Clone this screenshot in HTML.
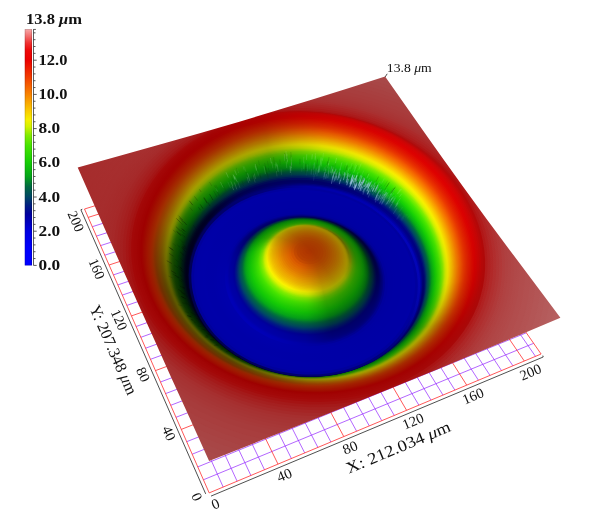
<!DOCTYPE html><html><head><meta charset="utf-8"><title>3D view</title><style>html,body{margin:0;padding:0;background:#fff}body{width:616px;height:520px;position:relative;overflow:hidden;font-family:"Liberation Serif",serif}</style></head><body><svg width="616" height="520" viewBox="0 0 616 520" style="position:absolute;left:0;top:0"><g stroke-width="0.75" fill="none"><line x1="223.2" y1="487.1" x2="96.7" y2="205.3" stroke="#9933ff"/><line x1="203.4" y1="479.8" x2="533.7" y2="343.3" stroke="#9933ff"/><line x1="237.1" y1="481.2" x2="108.7" y2="201.6" stroke="#9933ff"/><line x1="197.8" y1="466.9" x2="526.3" y2="332.8" stroke="#9933ff"/><line x1="250.9" y1="475.5" x2="120.7" y2="197.9" stroke="#9933ff"/><line x1="192.2" y1="454.2" x2="519.1" y2="322.4" stroke="#9933ff"/><line x1="264.5" y1="469.8" x2="132.5" y2="194.2" stroke="#9933ff"/><line x1="186.7" y1="441.7" x2="511.9" y2="312.2" stroke="#9933ff"/><line x1="291.4" y1="458.5" x2="156.0" y2="186.9" stroke="#9933ff"/><line x1="176.0" y1="417.3" x2="498.0" y2="292.1" stroke="#9933ff"/><line x1="304.7" y1="452.9" x2="167.5" y2="183.3" stroke="#9933ff"/><line x1="170.7" y1="405.3" x2="491.1" y2="282.3" stroke="#9933ff"/><line x1="317.9" y1="447.4" x2="179.0" y2="179.8" stroke="#9933ff"/><line x1="165.6" y1="393.6" x2="484.4" y2="272.6" stroke="#9933ff"/><line x1="330.9" y1="442.0" x2="190.4" y2="176.2" stroke="#9933ff"/><line x1="160.5" y1="382.0" x2="477.7" y2="263.0" stroke="#9933ff"/><line x1="356.6" y1="431.2" x2="213.0" y2="169.3" stroke="#9933ff"/><line x1="150.5" y1="359.3" x2="464.6" y2="244.3" stroke="#9933ff"/><line x1="369.3" y1="425.9" x2="224.2" y2="165.8" stroke="#9933ff"/><line x1="145.6" y1="348.2" x2="458.2" y2="235.1" stroke="#9933ff"/><line x1="381.8" y1="420.7" x2="235.2" y2="162.4" stroke="#9933ff"/><line x1="140.8" y1="337.3" x2="451.9" y2="226.0" stroke="#9933ff"/><line x1="394.3" y1="415.5" x2="246.2" y2="159.0" stroke="#9933ff"/><line x1="136.1" y1="326.5" x2="445.6" y2="217.0" stroke="#9933ff"/><line x1="418.9" y1="405.2" x2="267.9" y2="152.2" stroke="#9933ff"/><line x1="126.9" y1="305.4" x2="433.4" y2="199.5" stroke="#9933ff"/><line x1="431.0" y1="400.1" x2="278.7" y2="148.9" stroke="#9933ff"/><line x1="122.3" y1="295.1" x2="427.4" y2="190.8" stroke="#9933ff"/><line x1="443.0" y1="395.1" x2="289.3" y2="145.6" stroke="#9933ff"/><line x1="117.9" y1="284.9" x2="421.4" y2="182.3" stroke="#9933ff"/><line x1="454.9" y1="390.1" x2="299.9" y2="142.3" stroke="#9933ff"/><line x1="113.4" y1="274.9" x2="415.6" y2="173.9" stroke="#9933ff"/><line x1="478.4" y1="380.2" x2="320.8" y2="135.8" stroke="#9933ff"/><line x1="104.8" y1="255.2" x2="404.1" y2="157.4" stroke="#9933ff"/><line x1="490.0" y1="375.4" x2="331.2" y2="132.6" stroke="#9933ff"/><line x1="100.6" y1="245.6" x2="398.4" y2="149.3" stroke="#9933ff"/><line x1="501.5" y1="370.6" x2="341.5" y2="129.5" stroke="#9933ff"/><line x1="96.4" y1="236.1" x2="392.8" y2="141.3" stroke="#9933ff"/><line x1="512.9" y1="365.8" x2="351.7" y2="126.3" stroke="#9933ff"/><line x1="92.3" y1="226.7" x2="387.3" y2="133.4" stroke="#9933ff"/><line x1="535.5" y1="356.4" x2="371.9" y2="120.0" stroke="#9933ff"/><line x1="209.2" y1="492.9" x2="84.5" y2="209.0" stroke="#ff2020"/><line x1="278.0" y1="464.1" x2="144.3" y2="190.5" stroke="#ff2020"/><line x1="343.8" y1="436.6" x2="201.8" y2="172.7" stroke="#ff2020"/><line x1="406.6" y1="410.3" x2="257.1" y2="155.6" stroke="#ff2020"/><line x1="466.7" y1="385.1" x2="310.4" y2="139.1" stroke="#ff2020"/><line x1="524.3" y1="361.0" x2="361.8" y2="123.2" stroke="#ff2020"/><line x1="541.1" y1="354.0" x2="376.9" y2="118.5" stroke="#ff2020"/><line x1="209.2" y1="492.9" x2="541.1" y2="354.0" stroke="#ff2020"/><line x1="181.3" y1="429.4" x2="504.9" y2="302.1" stroke="#ff2020"/><line x1="155.5" y1="370.6" x2="471.1" y2="253.6" stroke="#ff2020"/><line x1="131.5" y1="315.9" x2="439.5" y2="208.2" stroke="#ff2020"/><line x1="109.1" y1="265.0" x2="409.8" y2="165.6" stroke="#ff2020"/><line x1="88.2" y1="217.4" x2="381.9" y2="125.6" stroke="#ff2020"/><line x1="84.5" y1="209.0" x2="376.9" y2="118.5" stroke="#ff2020"/></g><path d="M211.0 496.1L543.2 357.0l-0.4 -1.4" stroke="#222" stroke-width="0.8" fill="none"/><path d="M205.7 493.9L80.9 209.8l1.4 -0.6" stroke="#222" stroke-width="0.8" fill="none"/><g font-family="Liberation Serif,serif" fill="#111" text-anchor="middle"><text transform="translate(215.5 503.9) rotate(-22.7)" font-size="14.3px" y="4.7" textLength="7.6" lengthAdjust="spacingAndGlyphs">0</text><text transform="translate(196.8 496.8) rotate(66.3)" font-size="14.3px" y="4.7" textLength="7.6" lengthAdjust="spacingAndGlyphs">0</text><text transform="translate(284.4 475.1) rotate(-22.7)" font-size="14.3px" y="4.7" textLength="14.9" lengthAdjust="spacingAndGlyphs">40</text><text transform="translate(168.9 433.3) rotate(66.3)" font-size="14.3px" y="4.7" textLength="14.6" lengthAdjust="spacingAndGlyphs">40</text><text transform="translate(350.1 447.6) rotate(-22.7)" font-size="14.3px" y="4.7" textLength="14.9" lengthAdjust="spacingAndGlyphs">80</text><text transform="translate(143.1 374.5) rotate(66.3)" font-size="14.3px" y="4.7" textLength="14.6" lengthAdjust="spacingAndGlyphs">80</text><text transform="translate(413.0 421.3) rotate(-22.7)" font-size="14.3px" y="4.7" textLength="21.8" lengthAdjust="spacingAndGlyphs">120</text><text transform="translate(119.1 319.8) rotate(66.3)" font-size="14.3px" y="4.7" textLength="21.0" lengthAdjust="spacingAndGlyphs">120</text><text transform="translate(473.1 396.1) rotate(-22.7)" font-size="14.3px" y="4.7" textLength="21.8" lengthAdjust="spacingAndGlyphs">160</text><text transform="translate(96.7 268.9) rotate(66.3)" font-size="14.3px" y="4.7" textLength="21.0" lengthAdjust="spacingAndGlyphs">160</text><text transform="translate(530.6 372.1) rotate(-22.7)" font-size="14.3px" y="4.7" textLength="21.8" lengthAdjust="spacingAndGlyphs">200</text><text transform="translate(75.9 221.3) rotate(66.3)" font-size="14.3px" y="4.7" textLength="21.0" lengthAdjust="spacingAndGlyphs">200</text><text transform="translate(398.3 447.4) rotate(-22.7)" font-size="16.2px" y="5.3" textLength="111.8" lengthAdjust="spacingAndGlyphs">X: 212.034 <tspan font-style="italic">μ</tspan>m</text><text transform="translate(113.3 349.9) rotate(66.3)" font-size="16.2px" y="5.3" textLength="96.0" lengthAdjust="spacingAndGlyphs">Y: 207.348 <tspan font-style="italic">μ</tspan>m</text></g><path d="M385.1 77L387.2 73.8" stroke="#222" stroke-width="0.8"/><text x="386.8" y="71.7" font-family="Liberation Serif,serif" font-size="12px" fill="#111" textLength="45" lengthAdjust="spacingAndGlyphs">13.8 <tspan font-style="italic">μ</tspan>m</text><defs><filter id="bl" x="0" y="0" width="616" height="520" filterUnits="userSpaceOnUse"><feGaussianBlur stdDeviation="0.45"/></filter><mask id="om" maskUnits="userSpaceOnUse" x="0" y="0" width="616" height="520"><polygon points="209.1,461.0 258.1,441.6 305.3,422.8 351.0,404.5 395.3,386.5 438.3,368.9 480.1,351.5 520.8,334.4 560.4,317.7 534.6,283.3 510.0,250.4 486.6,218.9 464.4,188.5 443.2,159.1 423.0,130.6 403.7,103.1 385.1,76.5 349.9,87.7 314.0,99.0 277.1,110.3 239.4,121.7 200.6,133.0 160.8,144.3 119.9,155.8 77.7,167.4 91.6,199.0 106.1,231.8 121.3,266.0 137.1,301.6 153.8,338.6 171.2,377.4 189.7,418.1" fill="#fff"/></mask><linearGradient id="tilt" gradientUnits="userSpaceOnUse" x1="77.7" y1="168.5" x2="561.2" y2="316.5"><stop offset="0" stop-color="#a52424" stop-opacity="0.8"/><stop offset="0.09" stop-color="#a51e1e" stop-opacity="0.45"/><stop offset="0.2" stop-color="#a51e1e" stop-opacity="0"/><stop offset="0.72" stop-color="#ffd8d8" stop-opacity="0"/><stop offset="1" stop-color="#ffd8d8" stop-opacity="0.16"/></linearGradient><linearGradient id="g10" gradientUnits="userSpaceOnUse" x1="168.5" y1="370.2" x2="451.5" y2="110.1"><stop offset="0.000" stop-color="#a73c3c"/><stop offset="0.167" stop-color="#a73c3c"/><stop offset="0.333" stop-color="#a73c3c"/><stop offset="0.500" stop-color="#a73c3c"/><stop offset="0.667" stop-color="#a83c3c"/><stop offset="0.833" stop-color="#a83c3c"/><stop offset="1.000" stop-color="#a93c3c"/></linearGradient><linearGradient id="g11" gradientUnits="userSpaceOnUse" x1="171.9" y1="367.1" x2="448.1" y2="113.4"><stop offset="0.000" stop-color="#a73a3a"/><stop offset="0.167" stop-color="#a73a3a"/><stop offset="0.333" stop-color="#a73a3a"/><stop offset="0.500" stop-color="#a73a3a"/><stop offset="0.667" stop-color="#a83a3a"/><stop offset="0.833" stop-color="#a83a3a"/><stop offset="1.000" stop-color="#a93a3a"/></linearGradient><linearGradient id="g12" gradientUnits="userSpaceOnUse" x1="173.8" y1="365.4" x2="446.2" y2="115.2"><stop offset="0.000" stop-color="#a73838"/><stop offset="0.167" stop-color="#a73838"/><stop offset="0.333" stop-color="#a73838"/><stop offset="0.500" stop-color="#a73838"/><stop offset="0.667" stop-color="#a83838"/><stop offset="0.833" stop-color="#a83939"/><stop offset="1.000" stop-color="#a93939"/></linearGradient><linearGradient id="g13" gradientUnits="userSpaceOnUse" x1="175.7" y1="363.7" x2="444.2" y2="117.0"><stop offset="0.000" stop-color="#a63636"/><stop offset="0.167" stop-color="#a63636"/><stop offset="0.333" stop-color="#a73636"/><stop offset="0.500" stop-color="#a73737"/><stop offset="0.667" stop-color="#a83737"/><stop offset="0.833" stop-color="#a83737"/><stop offset="1.000" stop-color="#a93737"/></linearGradient><linearGradient id="g14" gradientUnits="userSpaceOnUse" x1="177.6" y1="362.0" x2="442.3" y2="118.8"><stop offset="0.000" stop-color="#a63434"/><stop offset="0.167" stop-color="#a63434"/><stop offset="0.333" stop-color="#a63434"/><stop offset="0.500" stop-color="#a73535"/><stop offset="0.667" stop-color="#a83535"/><stop offset="0.833" stop-color="#a83535"/><stop offset="1.000" stop-color="#a93535"/></linearGradient><linearGradient id="g15" gradientUnits="userSpaceOnUse" x1="179.5" y1="360.3" x2="440.4" y2="120.7"><stop offset="0.000" stop-color="#a63232"/><stop offset="0.167" stop-color="#a63232"/><stop offset="0.333" stop-color="#a63232"/><stop offset="0.500" stop-color="#a73232"/><stop offset="0.667" stop-color="#a83232"/><stop offset="0.833" stop-color="#a83333"/><stop offset="1.000" stop-color="#a93333"/></linearGradient><linearGradient id="g16" gradientUnits="userSpaceOnUse" x1="181.4" y1="358.6" x2="438.5" y2="122.5"><stop offset="0.000" stop-color="#a62f2f"/><stop offset="0.167" stop-color="#a62f2f"/><stop offset="0.333" stop-color="#a62f2f"/><stop offset="0.500" stop-color="#a62f2f"/><stop offset="0.667" stop-color="#a82f2f"/><stop offset="0.833" stop-color="#a93030"/><stop offset="1.000" stop-color="#aa3030"/></linearGradient><linearGradient id="g17" gradientUnits="userSpaceOnUse" x1="183.3" y1="356.9" x2="436.5" y2="124.3"><stop offset="0.000" stop-color="#a52a2a"/><stop offset="0.167" stop-color="#a52a2a"/><stop offset="0.333" stop-color="#a52a2a"/><stop offset="0.500" stop-color="#a62a2a"/><stop offset="0.667" stop-color="#a82b2b"/><stop offset="0.833" stop-color="#aa2b2b"/><stop offset="1.000" stop-color="#ac2b2b"/></linearGradient><linearGradient id="g18" gradientUnits="userSpaceOnUse" x1="185.2" y1="355.3" x2="434.6" y2="126.2"><stop offset="0.000" stop-color="#a52525"/><stop offset="0.167" stop-color="#a52525"/><stop offset="0.333" stop-color="#a52525"/><stop offset="0.500" stop-color="#a62525"/><stop offset="0.667" stop-color="#a82626"/><stop offset="0.833" stop-color="#aa2626"/><stop offset="1.000" stop-color="#ac2727"/></linearGradient><linearGradient id="g19" gradientUnits="userSpaceOnUse" x1="187.1" y1="353.6" x2="432.7" y2="128.0"><stop offset="0.000" stop-color="#a42020"/><stop offset="0.167" stop-color="#a52020"/><stop offset="0.333" stop-color="#a52020"/><stop offset="0.500" stop-color="#a62020"/><stop offset="0.667" stop-color="#a82121"/><stop offset="0.833" stop-color="#ab2121"/><stop offset="1.000" stop-color="#ad2222"/></linearGradient><linearGradient id="g20" gradientUnits="userSpaceOnUse" x1="189.0" y1="351.9" x2="430.8" y2="129.9"><stop offset="0.000" stop-color="#a41a1a"/><stop offset="0.167" stop-color="#a41a1a"/><stop offset="0.333" stop-color="#a51a1a"/><stop offset="0.500" stop-color="#a51a1a"/><stop offset="0.667" stop-color="#a81b1b"/><stop offset="0.833" stop-color="#ab1b1b"/><stop offset="1.000" stop-color="#ae1c1c"/></linearGradient><linearGradient id="g21" gradientUnits="userSpaceOnUse" x1="190.9" y1="350.3" x2="428.8" y2="131.8"><stop offset="0.000" stop-color="#a41313"/><stop offset="0.167" stop-color="#a41313"/><stop offset="0.333" stop-color="#a41313"/><stop offset="0.500" stop-color="#a51313"/><stop offset="0.667" stop-color="#a81313"/><stop offset="0.833" stop-color="#ac1414"/><stop offset="1.000" stop-color="#af1414"/></linearGradient><linearGradient id="g22" gradientUnits="userSpaceOnUse" x1="192.7" y1="348.8" x2="427.0" y2="133.6"><stop offset="0.000" stop-color="#a30c0c"/><stop offset="0.167" stop-color="#a40c0c"/><stop offset="0.333" stop-color="#a40c0c"/><stop offset="0.500" stop-color="#a50c0c"/><stop offset="0.667" stop-color="#a80c0c"/><stop offset="0.833" stop-color="#ac0d0d"/><stop offset="1.000" stop-color="#af0d0d"/></linearGradient><linearGradient id="g23" gradientUnits="userSpaceOnUse" x1="194.2" y1="347.5" x2="425.4" y2="135.3"><stop offset="0.000" stop-color="#a30808"/><stop offset="0.167" stop-color="#a30808"/><stop offset="0.333" stop-color="#a40808"/><stop offset="0.500" stop-color="#a40808"/><stop offset="0.667" stop-color="#a90808"/><stop offset="0.833" stop-color="#ae0808"/><stop offset="1.000" stop-color="#b60808"/></linearGradient><linearGradient id="g24" gradientUnits="userSpaceOnUse" x1="195.6" y1="346.4" x2="423.9" y2="136.9"><stop offset="0.000" stop-color="#a20606"/><stop offset="0.167" stop-color="#a20606"/><stop offset="0.333" stop-color="#a30606"/><stop offset="0.500" stop-color="#a40606"/><stop offset="0.667" stop-color="#ab0606"/><stop offset="0.833" stop-color="#b30707"/><stop offset="1.000" stop-color="#c10707"/></linearGradient><linearGradient id="g25" gradientUnits="userSpaceOnUse" x1="196.9" y1="345.6" x2="422.6" y2="138.5"><stop offset="0.000" stop-color="#a10505"/><stop offset="0.167" stop-color="#a20505"/><stop offset="0.333" stop-color="#a20505"/><stop offset="0.500" stop-color="#a30505"/><stop offset="0.667" stop-color="#ac0505"/><stop offset="0.833" stop-color="#ba0505"/><stop offset="1.000" stop-color="#cc0606"/></linearGradient><linearGradient id="g26" gradientUnits="userSpaceOnUse" x1="197.9" y1="345.0" x2="421.4" y2="140.1"><stop offset="0.000" stop-color="#9f0303"/><stop offset="0.167" stop-color="#a10303"/><stop offset="0.333" stop-color="#a20303"/><stop offset="0.500" stop-color="#a30303"/><stop offset="0.667" stop-color="#ad0404"/><stop offset="0.833" stop-color="#c00404"/><stop offset="1.000" stop-color="#d40404"/></linearGradient><linearGradient id="g27" gradientUnits="userSpaceOnUse" x1="198.9" y1="344.7" x2="420.3" y2="141.7"><stop offset="0.000" stop-color="#9e0202"/><stop offset="0.167" stop-color="#a00202"/><stop offset="0.333" stop-color="#a10202"/><stop offset="0.500" stop-color="#a30202"/><stop offset="0.667" stop-color="#ad0202"/><stop offset="0.833" stop-color="#c60202"/><stop offset="1.000" stop-color="#da0303"/></linearGradient><linearGradient id="g28" gradientUnits="userSpaceOnUse" x1="199.7" y1="344.5" x2="419.3" y2="143.3"><stop offset="0.000" stop-color="#9d0000"/><stop offset="0.167" stop-color="#9f0000"/><stop offset="0.333" stop-color="#a10101"/><stop offset="0.500" stop-color="#a20101"/><stop offset="0.667" stop-color="#ae0101"/><stop offset="0.833" stop-color="#cb0101"/><stop offset="1.000" stop-color="#e00101"/></linearGradient><linearGradient id="g29" gradientUnits="userSpaceOnUse" x1="200.5" y1="344.3" x2="418.3" y2="144.9"><stop offset="0.000" stop-color="#9d0300"/><stop offset="0.167" stop-color="#9f0300"/><stop offset="0.333" stop-color="#a10300"/><stop offset="0.500" stop-color="#a20300"/><stop offset="0.667" stop-color="#ae0300"/><stop offset="0.833" stop-color="#ce0400"/><stop offset="1.000" stop-color="#e20400"/></linearGradient><linearGradient id="g30" gradientUnits="userSpaceOnUse" x1="201.2" y1="344.2" x2="417.4" y2="146.4"><stop offset="0.000" stop-color="#9d0800"/><stop offset="0.167" stop-color="#9f0800"/><stop offset="0.333" stop-color="#a10800"/><stop offset="0.500" stop-color="#a30800"/><stop offset="0.667" stop-color="#af0900"/><stop offset="0.833" stop-color="#d00a00"/><stop offset="1.000" stop-color="#e40b00"/></linearGradient><linearGradient id="g31" gradientUnits="userSpaceOnUse" x1="202.0" y1="343.9" x2="416.4" y2="147.7"><stop offset="0.000" stop-color="#9d0d00"/><stop offset="0.167" stop-color="#9f0d00"/><stop offset="0.333" stop-color="#a10d00"/><stop offset="0.500" stop-color="#a30d00"/><stop offset="0.667" stop-color="#af0e00"/><stop offset="0.833" stop-color="#d11100"/><stop offset="1.000" stop-color="#e51200"/></linearGradient><linearGradient id="g32" gradientUnits="userSpaceOnUse" x1="202.8" y1="343.5" x2="415.5" y2="148.9"><stop offset="0.000" stop-color="#9e1100"/><stop offset="0.167" stop-color="#a01200"/><stop offset="0.333" stop-color="#a21200"/><stop offset="0.500" stop-color="#a41200"/><stop offset="0.667" stop-color="#b01300"/><stop offset="0.833" stop-color="#d21700"/><stop offset="1.000" stop-color="#e61900"/></linearGradient><linearGradient id="g33" gradientUnits="userSpaceOnUse" x1="203.5" y1="343.1" x2="414.7" y2="150.1"><stop offset="0.000" stop-color="#9e1600"/><stop offset="0.167" stop-color="#a01600"/><stop offset="0.333" stop-color="#a21700"/><stop offset="0.500" stop-color="#a41700"/><stop offset="0.667" stop-color="#b01900"/><stop offset="0.833" stop-color="#d41d00"/><stop offset="1.000" stop-color="#e72000"/></linearGradient><linearGradient id="g34" gradientUnits="userSpaceOnUse" x1="204.3" y1="342.7" x2="413.9" y2="151.1"><stop offset="0.000" stop-color="#9c1a00"/><stop offset="0.167" stop-color="#a01b00"/><stop offset="0.333" stop-color="#a21b00"/><stop offset="0.500" stop-color="#a51c00"/><stop offset="0.667" stop-color="#b11e00"/><stop offset="0.833" stop-color="#d52400"/><stop offset="1.000" stop-color="#e92700"/></linearGradient><linearGradient id="g35" gradientUnits="userSpaceOnUse" x1="205.0" y1="342.3" x2="413.1" y2="152.1"><stop offset="0.000" stop-color="#991e00"/><stop offset="0.167" stop-color="#a02000"/><stop offset="0.333" stop-color="#a32000"/><stop offset="0.500" stop-color="#a52100"/><stop offset="0.667" stop-color="#b12300"/><stop offset="0.833" stop-color="#d72a00"/><stop offset="1.000" stop-color="#eb2e00"/></linearGradient><linearGradient id="g36" gradientUnits="userSpaceOnUse" x1="205.6" y1="341.9" x2="412.3" y2="153.1"><stop offset="0.000" stop-color="#962200"/><stop offset="0.167" stop-color="#a02400"/><stop offset="0.333" stop-color="#a32500"/><stop offset="0.500" stop-color="#a52500"/><stop offset="0.667" stop-color="#b22800"/><stop offset="0.833" stop-color="#d93100"/><stop offset="1.000" stop-color="#ed3500"/></linearGradient><linearGradient id="g37" gradientUnits="userSpaceOnUse" x1="206.2" y1="341.7" x2="411.7" y2="154.0"><stop offset="0.000" stop-color="#912500"/><stop offset="0.167" stop-color="#a02900"/><stop offset="0.333" stop-color="#a32a00"/><stop offset="0.500" stop-color="#a62a00"/><stop offset="0.667" stop-color="#b22d00"/><stop offset="0.833" stop-color="#db3800"/><stop offset="1.000" stop-color="#ef3d00"/></linearGradient><linearGradient id="g38" gradientUnits="userSpaceOnUse" x1="206.8" y1="341.4" x2="411.0" y2="154.9"><stop offset="0.000" stop-color="#8c2800"/><stop offset="0.167" stop-color="#a02e00"/><stop offset="0.333" stop-color="#a32f00"/><stop offset="0.500" stop-color="#a63000"/><stop offset="0.667" stop-color="#b23300"/><stop offset="0.833" stop-color="#dd4000"/><stop offset="1.000" stop-color="#f14500"/></linearGradient><linearGradient id="g39" gradientUnits="userSpaceOnUse" x1="207.3" y1="341.2" x2="410.4" y2="155.8"><stop offset="0.000" stop-color="#852b00"/><stop offset="0.167" stop-color="#9d3200"/><stop offset="0.333" stop-color="#a33400"/><stop offset="0.500" stop-color="#a63500"/><stop offset="0.667" stop-color="#b23900"/><stop offset="0.833" stop-color="#df4700"/><stop offset="1.000" stop-color="#f34e00"/></linearGradient><linearGradient id="g40" gradientUnits="userSpaceOnUse" x1="207.7" y1="341.1" x2="409.9" y2="156.6"><stop offset="0.000" stop-color="#7d2c00"/><stop offset="0.167" stop-color="#993600"/><stop offset="0.333" stop-color="#a33900"/><stop offset="0.500" stop-color="#a63b00"/><stop offset="0.667" stop-color="#b13e00"/><stop offset="0.833" stop-color="#e14f00"/><stop offset="1.000" stop-color="#f55600"/></linearGradient><linearGradient id="g41" gradientUnits="userSpaceOnUse" x1="208.2" y1="340.9" x2="409.3" y2="157.4"><stop offset="0.000" stop-color="#762d00"/><stop offset="0.167" stop-color="#973a00"/><stop offset="0.333" stop-color="#a33f00"/><stop offset="0.500" stop-color="#a74000"/><stop offset="0.667" stop-color="#b14400"/><stop offset="0.833" stop-color="#e25700"/><stop offset="1.000" stop-color="#f65f00"/></linearGradient><linearGradient id="g42" gradientUnits="userSpaceOnUse" x1="208.6" y1="340.8" x2="408.8" y2="158.2"><stop offset="0.000" stop-color="#712f00"/><stop offset="0.167" stop-color="#953e00"/><stop offset="0.333" stop-color="#a44400"/><stop offset="0.500" stop-color="#a74600"/><stop offset="0.667" stop-color="#b14a00"/><stop offset="0.833" stop-color="#e35f00"/><stop offset="1.000" stop-color="#f86700"/></linearGradient><linearGradient id="g43" gradientUnits="userSpaceOnUse" x1="209.0" y1="340.7" x2="408.3" y2="159.0"><stop offset="0.000" stop-color="#6d3100"/><stop offset="0.167" stop-color="#934200"/><stop offset="0.333" stop-color="#a44a00"/><stop offset="0.500" stop-color="#a74b00"/><stop offset="0.667" stop-color="#b15000"/><stop offset="0.833" stop-color="#e46600"/><stop offset="1.000" stop-color="#f97000"/></linearGradient><linearGradient id="g44" gradientUnits="userSpaceOnUse" x1="209.4" y1="340.6" x2="407.8" y2="159.8"><stop offset="0.000" stop-color="#6b3400"/><stop offset="0.167" stop-color="#924700"/><stop offset="0.333" stop-color="#a44f00"/><stop offset="0.500" stop-color="#a85100"/><stop offset="0.667" stop-color="#b15600"/><stop offset="0.833" stop-color="#e56e00"/><stop offset="1.000" stop-color="#fa7900"/></linearGradient><linearGradient id="g45" gradientUnits="userSpaceOnUse" x1="209.9" y1="340.5" x2="407.3" y2="160.6"><stop offset="0.000" stop-color="#693600"/><stop offset="0.167" stop-color="#924b00"/><stop offset="0.333" stop-color="#a55500"/><stop offset="0.500" stop-color="#a85700"/><stop offset="0.667" stop-color="#b25c00"/><stop offset="0.833" stop-color="#e57600"/><stop offset="1.000" stop-color="#fb8100"/></linearGradient><linearGradient id="g46" gradientUnits="userSpaceOnUse" x1="210.3" y1="340.5" x2="406.8" y2="161.4"><stop offset="0.000" stop-color="#673900"/><stop offset="0.167" stop-color="#915000"/><stop offset="0.333" stop-color="#a55b00"/><stop offset="0.500" stop-color="#a85d00"/><stop offset="0.667" stop-color="#b26200"/><stop offset="0.833" stop-color="#e67f00"/><stop offset="1.000" stop-color="#fb8b00"/></linearGradient><linearGradient id="g47" gradientUnits="userSpaceOnUse" x1="210.7" y1="340.4" x2="406.2" y2="162.3"><stop offset="0.000" stop-color="#643b00"/><stop offset="0.167" stop-color="#905500"/><stop offset="0.333" stop-color="#a56100"/><stop offset="0.500" stop-color="#a86300"/><stop offset="0.667" stop-color="#b26900"/><stop offset="0.833" stop-color="#e68800"/><stop offset="1.000" stop-color="#fc9500"/></linearGradient><linearGradient id="g48" gradientUnits="userSpaceOnUse" x1="211.1" y1="340.3" x2="405.7" y2="163.1"><stop offset="0.000" stop-color="#613d00"/><stop offset="0.167" stop-color="#8f5a00"/><stop offset="0.333" stop-color="#a56800"/><stop offset="0.500" stop-color="#a96a00"/><stop offset="0.667" stop-color="#b17000"/><stop offset="0.833" stop-color="#e69100"/><stop offset="1.000" stop-color="#fc9f00"/></linearGradient><linearGradient id="g49" gradientUnits="userSpaceOnUse" x1="211.5" y1="340.2" x2="405.2" y2="163.9"><stop offset="0.000" stop-color="#5f3f00"/><stop offset="0.167" stop-color="#8e5f00"/><stop offset="0.333" stop-color="#a56e00"/><stop offset="0.500" stop-color="#a97100"/><stop offset="0.667" stop-color="#b17600"/><stop offset="0.833" stop-color="#e79a00"/><stop offset="1.000" stop-color="#fda900"/></linearGradient><linearGradient id="g50" gradientUnits="userSpaceOnUse" x1="211.9" y1="340.2" x2="404.7" y2="164.8"><stop offset="0.000" stop-color="#5d4200"/><stop offset="0.167" stop-color="#8d6400"/><stop offset="0.333" stop-color="#a57500"/><stop offset="0.500" stop-color="#a97700"/><stop offset="0.667" stop-color="#b17d00"/><stop offset="0.833" stop-color="#e7a300"/><stop offset="1.000" stop-color="#fdb300"/></linearGradient><linearGradient id="g51" gradientUnits="userSpaceOnUse" x1="212.4" y1="340.1" x2="404.2" y2="165.6"><stop offset="0.000" stop-color="#5c4500"/><stop offset="0.167" stop-color="#8d6900"/><stop offset="0.333" stop-color="#a57b00"/><stop offset="0.500" stop-color="#a97e00"/><stop offset="0.667" stop-color="#b18400"/><stop offset="0.833" stop-color="#e7ad00"/><stop offset="1.000" stop-color="#febe00"/></linearGradient><linearGradient id="g52" gradientUnits="userSpaceOnUse" x1="212.8" y1="340.0" x2="403.6" y2="166.4"><stop offset="0.000" stop-color="#5c4800"/><stop offset="0.167" stop-color="#8d6f00"/><stop offset="0.333" stop-color="#a58200"/><stop offset="0.500" stop-color="#a98500"/><stop offset="0.667" stop-color="#b18b00"/><stop offset="0.833" stop-color="#e8b600"/><stop offset="1.000" stop-color="#fec800"/></linearGradient><linearGradient id="g53" gradientUnits="userSpaceOnUse" x1="213.2" y1="340.0" x2="403.1" y2="167.3"><stop offset="0.000" stop-color="#5c4c00"/><stop offset="0.167" stop-color="#8d7400"/><stop offset="0.333" stop-color="#a58900"/><stop offset="0.500" stop-color="#a98c00"/><stop offset="0.667" stop-color="#b19300"/><stop offset="0.833" stop-color="#e8bf00"/><stop offset="1.000" stop-color="#fed200"/></linearGradient><linearGradient id="g54" gradientUnits="userSpaceOnUse" x1="213.6" y1="339.9" x2="402.6" y2="168.1"><stop offset="0.000" stop-color="#5d5100"/><stop offset="0.167" stop-color="#8d7a00"/><stop offset="0.333" stop-color="#a58f00"/><stop offset="0.500" stop-color="#a89200"/><stop offset="0.667" stop-color="#b19900"/><stop offset="0.833" stop-color="#e7c800"/><stop offset="1.000" stop-color="#fddc00"/></linearGradient><linearGradient id="g55" gradientUnits="userSpaceOnUse" x1="214.0" y1="339.8" x2="402.1" y2="169.0"><stop offset="0.000" stop-color="#5d5500"/><stop offset="0.167" stop-color="#8c8000"/><stop offset="0.333" stop-color="#a49500"/><stop offset="0.500" stop-color="#a89900"/><stop offset="0.667" stop-color="#b0a000"/><stop offset="0.833" stop-color="#e6d100"/><stop offset="1.000" stop-color="#fce500"/></linearGradient><linearGradient id="g56" gradientUnits="userSpaceOnUse" x1="214.4" y1="339.8" x2="401.6" y2="169.8"><stop offset="0.000" stop-color="#5d5800"/><stop offset="0.167" stop-color="#8c8500"/><stop offset="0.333" stop-color="#a39b00"/><stop offset="0.500" stop-color="#a79f00"/><stop offset="0.667" stop-color="#afa700"/><stop offset="0.833" stop-color="#e5da00"/><stop offset="1.000" stop-color="#fbef00"/></linearGradient><linearGradient id="g57" gradientUnits="userSpaceOnUse" x1="214.8" y1="339.7" x2="401.0" y2="170.6"><stop offset="0.000" stop-color="#5a5a00"/><stop offset="0.167" stop-color="#888800"/><stop offset="0.333" stop-color="#a09f00"/><stop offset="0.500" stop-color="#a3a300"/><stop offset="0.667" stop-color="#abab00"/><stop offset="0.833" stop-color="#dfdf00"/><stop offset="1.000" stop-color="#f5f400"/></linearGradient><linearGradient id="g58" gradientUnits="userSpaceOnUse" x1="215.3" y1="339.7" x2="400.5" y2="171.5"><stop offset="0.000" stop-color="#545800"/><stop offset="0.167" stop-color="#818700"/><stop offset="0.333" stop-color="#97a000"/><stop offset="0.500" stop-color="#9ba300"/><stop offset="0.667" stop-color="#a2ab00"/><stop offset="0.833" stop-color="#d4df00"/><stop offset="1.000" stop-color="#e9f500"/></linearGradient><linearGradient id="g59" gradientUnits="userSpaceOnUse" x1="215.7" y1="339.6" x2="400.0" y2="172.3"><stop offset="0.000" stop-color="#4c5500"/><stop offset="0.167" stop-color="#788600"/><stop offset="0.333" stop-color="#8fa000"/><stop offset="0.500" stop-color="#92a300"/><stop offset="0.667" stop-color="#99ab00"/><stop offset="0.833" stop-color="#c9e000"/><stop offset="1.000" stop-color="#dcf600"/></linearGradient><linearGradient id="g60" gradientUnits="userSpaceOnUse" x1="216.1" y1="339.5" x2="399.5" y2="173.2"><stop offset="0.000" stop-color="#435100"/><stop offset="0.167" stop-color="#6b8200"/><stop offset="0.333" stop-color="#849f00"/><stop offset="0.500" stop-color="#87a300"/><stop offset="0.667" stop-color="#8caa00"/><stop offset="0.833" stop-color="#b9e000"/><stop offset="1.000" stop-color="#cbf600"/></linearGradient><linearGradient id="g61" gradientUnits="userSpaceOnUse" x1="216.5" y1="339.5" x2="398.9" y2="174.0"><stop offset="0.000" stop-color="#394d00"/><stop offset="0.167" stop-color="#5b7c00"/><stop offset="0.333" stop-color="#739d00"/><stop offset="0.500" stop-color="#77a200"/><stop offset="0.667" stop-color="#7ba800"/><stop offset="0.833" stop-color="#a3de00"/><stop offset="1.000" stop-color="#b4f500"/></linearGradient><linearGradient id="g62" gradientUnits="userSpaceOnUse" x1="216.9" y1="339.5" x2="398.4" y2="174.9"><stop offset="0.000" stop-color="#2e4900"/><stop offset="0.167" stop-color="#4c7700"/><stop offset="0.333" stop-color="#629a00"/><stop offset="0.500" stop-color="#67a000"/><stop offset="0.667" stop-color="#6aa600"/><stop offset="0.833" stop-color="#8ddc00"/><stop offset="1.000" stop-color="#9cf300"/></linearGradient><linearGradient id="g63" gradientUnits="userSpaceOnUse" x1="217.3" y1="339.5" x2="397.9" y2="175.8"><stop offset="0.000" stop-color="#254400"/><stop offset="0.167" stop-color="#3d7100"/><stop offset="0.333" stop-color="#529600"/><stop offset="0.500" stop-color="#569f00"/><stop offset="0.667" stop-color="#59a300"/><stop offset="0.833" stop-color="#77da00"/><stop offset="1.000" stop-color="#83f200"/></linearGradient><linearGradient id="g64" gradientUnits="userSpaceOnUse" x1="217.7" y1="339.5" x2="397.4" y2="176.7"><stop offset="0.000" stop-color="#1e4000"/><stop offset="0.167" stop-color="#336b00"/><stop offset="0.333" stop-color="#469300"/><stop offset="0.500" stop-color="#4b9d00"/><stop offset="0.667" stop-color="#4da100"/><stop offset="0.833" stop-color="#68d800"/><stop offset="1.000" stop-color="#73f000"/></linearGradient><linearGradient id="g65" gradientUnits="userSpaceOnUse" x1="218.1" y1="339.5" x2="396.8" y2="177.6"><stop offset="0.000" stop-color="#193c00"/><stop offset="0.167" stop-color="#2a6500"/><stop offset="0.333" stop-color="#3b9000"/><stop offset="0.500" stop-color="#409b00"/><stop offset="0.667" stop-color="#429f00"/><stop offset="0.833" stop-color="#58d500"/><stop offset="1.000" stop-color="#62ee00"/></linearGradient><linearGradient id="g66" gradientUnits="userSpaceOnUse" x1="218.5" y1="339.5" x2="396.3" y2="178.6"><stop offset="0.000" stop-color="#133800"/><stop offset="0.167" stop-color="#216100"/><stop offset="0.333" stop-color="#308d00"/><stop offset="0.500" stop-color="#359a00"/><stop offset="0.667" stop-color="#369e00"/><stop offset="0.833" stop-color="#48d300"/><stop offset="1.000" stop-color="#50eb00"/></linearGradient><linearGradient id="g67" gradientUnits="userSpaceOnUse" x1="218.9" y1="339.6" x2="395.7" y2="179.5"><stop offset="0.000" stop-color="#0f3500"/><stop offset="0.167" stop-color="#1b5d00"/><stop offset="0.333" stop-color="#288900"/><stop offset="0.500" stop-color="#2c9800"/><stop offset="0.667" stop-color="#2d9c00"/><stop offset="0.833" stop-color="#3cd000"/><stop offset="1.000" stop-color="#43e800"/></linearGradient><linearGradient id="g68" gradientUnits="userSpaceOnUse" x1="219.3" y1="339.6" x2="395.2" y2="180.5"><stop offset="0.000" stop-color="#0d3300"/><stop offset="0.167" stop-color="#175901"/><stop offset="0.333" stop-color="#228601"/><stop offset="0.500" stop-color="#269501"/><stop offset="0.667" stop-color="#279901"/><stop offset="0.833" stop-color="#34cc01"/><stop offset="1.000" stop-color="#3ae401"/></linearGradient><linearGradient id="g69" gradientUnits="userSpaceOnUse" x1="219.7" y1="339.7" x2="394.7" y2="181.5"><stop offset="0.000" stop-color="#0b3101"/><stop offset="0.167" stop-color="#135701"/><stop offset="0.333" stop-color="#1d8301"/><stop offset="0.500" stop-color="#209202"/><stop offset="0.667" stop-color="#219602"/><stop offset="0.833" stop-color="#2bc802"/><stop offset="1.000" stop-color="#31e002"/></linearGradient><linearGradient id="g70" gradientUnits="userSpaceOnUse" x1="220.1" y1="339.7" x2="394.1" y2="182.4"><stop offset="0.000" stop-color="#093001"/><stop offset="0.167" stop-color="#0f5401"/><stop offset="0.333" stop-color="#178002"/><stop offset="0.500" stop-color="#1a8f02"/><stop offset="0.667" stop-color="#1a9302"/><stop offset="0.833" stop-color="#23c403"/><stop offset="1.000" stop-color="#27dc03"/></linearGradient><linearGradient id="g71" gradientUnits="userSpaceOnUse" x1="220.5" y1="339.8" x2="393.6" y2="183.4"><stop offset="0.000" stop-color="#062e01"/><stop offset="0.167" stop-color="#0b5202"/><stop offset="0.333" stop-color="#117d02"/><stop offset="0.500" stop-color="#148c03"/><stop offset="0.667" stop-color="#149003"/><stop offset="0.833" stop-color="#1bc004"/><stop offset="1.000" stop-color="#1ed704"/></linearGradient><linearGradient id="g72" gradientUnits="userSpaceOnUse" x1="220.9" y1="339.9" x2="393.0" y2="184.4"><stop offset="0.000" stop-color="#042c01"/><stop offset="0.167" stop-color="#084f02"/><stop offset="0.333" stop-color="#0c7a03"/><stop offset="0.500" stop-color="#0d8903"/><stop offset="0.667" stop-color="#0e8d03"/><stop offset="0.833" stop-color="#12bc05"/><stop offset="1.000" stop-color="#15d305"/></linearGradient><linearGradient id="g73" gradientUnits="userSpaceOnUse" x1="221.3" y1="339.9" x2="392.5" y2="185.4"><stop offset="0.000" stop-color="#032902"/><stop offset="0.167" stop-color="#064904"/><stop offset="0.333" stop-color="#0a7406"/><stop offset="0.500" stop-color="#0b8307"/><stop offset="0.667" stop-color="#0b8607"/><stop offset="0.833" stop-color="#0fb309"/><stop offset="1.000" stop-color="#11c90a"/></linearGradient><linearGradient id="g74" gradientUnits="userSpaceOnUse" x1="221.7" y1="340.0" x2="392.0" y2="186.4"><stop offset="0.000" stop-color="#032503"/><stop offset="0.167" stop-color="#054305"/><stop offset="0.333" stop-color="#086d08"/><stop offset="0.500" stop-color="#097c0a"/><stop offset="0.667" stop-color="#09800a"/><stop offset="0.833" stop-color="#0caa0d"/><stop offset="1.000" stop-color="#0dc00f"/></linearGradient><linearGradient id="g75" gradientUnits="userSpaceOnUse" x1="222.1" y1="340.1" x2="391.4" y2="187.4"><stop offset="0.000" stop-color="#022304"/><stop offset="0.167" stop-color="#033d07"/><stop offset="0.333" stop-color="#05660b"/><stop offset="0.500" stop-color="#06760d"/><stop offset="0.667" stop-color="#06790d"/><stop offset="0.833" stop-color="#08a112"/><stop offset="1.000" stop-color="#0ab614"/></linearGradient><linearGradient id="g76" gradientUnits="userSpaceOnUse" x1="222.5" y1="340.2" x2="390.9" y2="188.4"><stop offset="0.000" stop-color="#012105"/><stop offset="0.167" stop-color="#023808"/><stop offset="0.333" stop-color="#035f0e"/><stop offset="0.500" stop-color="#046f10"/><stop offset="0.667" stop-color="#047211"/><stop offset="0.833" stop-color="#059716"/><stop offset="1.000" stop-color="#06ab19"/></linearGradient><linearGradient id="g77" gradientUnits="userSpaceOnUse" x1="222.9" y1="340.3" x2="390.3" y2="189.4"><stop offset="0.000" stop-color="#011d07"/><stop offset="0.167" stop-color="#01300c"/><stop offset="0.333" stop-color="#025315"/><stop offset="0.500" stop-color="#026219"/><stop offset="0.667" stop-color="#026519"/><stop offset="0.833" stop-color="#038521"/><stop offset="1.000" stop-color="#049826"/></linearGradient><linearGradient id="g78" gradientUnits="userSpaceOnUse" x1="223.3" y1="340.4" x2="389.8" y2="190.5"><stop offset="0.000" stop-color="#00190a"/><stop offset="0.167" stop-color="#012810"/><stop offset="0.333" stop-color="#01471d"/><stop offset="0.500" stop-color="#015422"/><stop offset="0.667" stop-color="#015723"/><stop offset="0.833" stop-color="#02722e"/><stop offset="1.000" stop-color="#028234"/></linearGradient><linearGradient id="g79" gradientUnits="userSpaceOnUse" x1="223.7" y1="340.6" x2="389.2" y2="191.5"><stop offset="0.000" stop-color="#00150d"/><stop offset="0.167" stop-color="#002114"/><stop offset="0.333" stop-color="#003a24"/><stop offset="0.500" stop-color="#00462b"/><stop offset="0.667" stop-color="#00482d"/><stop offset="0.833" stop-color="#005f3b"/><stop offset="1.000" stop-color="#006c43"/></linearGradient><linearGradient id="g80" gradientUnits="userSpaceOnUse" x1="224.1" y1="340.7" x2="388.6" y2="192.6"><stop offset="0.000" stop-color="#00120f"/><stop offset="0.167" stop-color="#001b17"/><stop offset="0.333" stop-color="#003129"/><stop offset="0.500" stop-color="#003d34"/><stop offset="0.667" stop-color="#003f35"/><stop offset="0.833" stop-color="#005346"/><stop offset="1.000" stop-color="#005f50"/></linearGradient><linearGradient id="g81" gradientUnits="userSpaceOnUse" x1="224.5" y1="340.9" x2="388.1" y2="193.7"><stop offset="0.000" stop-color="#000f12"/><stop offset="0.167" stop-color="#001518"/><stop offset="0.333" stop-color="#00272d"/><stop offset="0.500" stop-color="#00343c"/><stop offset="0.667" stop-color="#00363e"/><stop offset="0.833" stop-color="#004651"/><stop offset="1.000" stop-color="#00515e"/></linearGradient><linearGradient id="g82" gradientUnits="userSpaceOnUse" x1="224.9" y1="341.1" x2="387.5" y2="194.9"><stop offset="0.000" stop-color="#000c14"/><stop offset="0.167" stop-color="#000d17"/><stop offset="0.333" stop-color="#001a2d"/><stop offset="0.500" stop-color="#002844"/><stop offset="0.667" stop-color="#002a48"/><stop offset="0.833" stop-color="#00355b"/><stop offset="1.000" stop-color="#003f6c"/></linearGradient><linearGradient id="g83" gradientUnits="userSpaceOnUse" x1="225.2" y1="341.5" x2="386.9" y2="196.2"><stop offset="0.000" stop-color="#000717"/><stop offset="0.167" stop-color="#000718"/><stop offset="0.333" stop-color="#000d2a"/><stop offset="0.500" stop-color="#001749"/><stop offset="0.667" stop-color="#001951"/><stop offset="0.833" stop-color="#001e61"/><stop offset="1.000" stop-color="#00267a"/></linearGradient><linearGradient id="g84" gradientUnits="userSpaceOnUse" x1="225.6" y1="341.9" x2="386.3" y2="197.7"><stop offset="0.000" stop-color="#000319"/><stop offset="0.167" stop-color="#00031a"/><stop offset="0.333" stop-color="#000427"/><stop offset="0.500" stop-color="#00084c"/><stop offset="0.667" stop-color="#000959"/><stop offset="0.833" stop-color="#000a64"/><stop offset="1.000" stop-color="#000e85"/></linearGradient><linearGradient id="g85" gradientUnits="userSpaceOnUse" x1="226.0" y1="342.6" x2="385.6" y2="199.3"><stop offset="0.000" stop-color="#00001a"/><stop offset="0.167" stop-color="#00001b"/><stop offset="0.333" stop-color="#000026"/><stop offset="0.500" stop-color="#00004d"/><stop offset="0.667" stop-color="#00005d"/><stop offset="0.833" stop-color="#000066"/><stop offset="1.000" stop-color="#00008b"/></linearGradient><linearGradient id="g86" gradientUnits="userSpaceOnUse" x1="226.3" y1="343.3" x2="385.0" y2="201.1"><stop offset="0.000" stop-color="#00001b"/><stop offset="0.167" stop-color="#00001c"/><stop offset="0.333" stop-color="#000029"/><stop offset="0.500" stop-color="#000052"/><stop offset="0.667" stop-color="#000061"/><stop offset="0.833" stop-color="#00006b"/><stop offset="1.000" stop-color="#000091"/></linearGradient><linearGradient id="g87" gradientUnits="userSpaceOnUse" x1="226.6" y1="343.8" x2="384.3" y2="202.6"><stop offset="0.000" stop-color="#00001e"/><stop offset="0.167" stop-color="#00001f"/><stop offset="0.333" stop-color="#000037"/><stop offset="0.500" stop-color="#000060"/><stop offset="0.667" stop-color="#00006b"/><stop offset="0.833" stop-color="#000080"/><stop offset="1.000" stop-color="#0000a0"/></linearGradient><linearGradient id="g88" gradientUnits="userSpaceOnUse" x1="227.0" y1="344.1" x2="383.7" y2="203.8"><stop offset="0.000" stop-color="#000021"/><stop offset="0.167" stop-color="#000033"/><stop offset="0.333" stop-color="#00005c"/><stop offset="0.500" stop-color="#00006f"/><stop offset="0.667" stop-color="#000072"/><stop offset="0.833" stop-color="#000096"/><stop offset="1.000" stop-color="#0000ac"/></linearGradient><linearGradient id="g89" gradientUnits="userSpaceOnUse" x1="227.5" y1="344.1" x2="383.1" y2="204.9"><stop offset="0.000" stop-color="#000068"/><stop offset="0.167" stop-color="#000078"/><stop offset="0.333" stop-color="#00007b"/><stop offset="0.500" stop-color="#00007d"/><stop offset="0.667" stop-color="#000086"/><stop offset="0.833" stop-color="#0000a7"/><stop offset="1.000" stop-color="#0000b5"/></linearGradient><linearGradient id="fl" gradientUnits="userSpaceOnUse" x1="186" y1="300" x2="426" y2="255"><stop offset="0" stop-color="#000" stop-opacity="0.30"/><stop offset="0.22" stop-color="#000" stop-opacity="0.14"/><stop offset="0.55" stop-color="#000" stop-opacity="0"/><stop offset="0.8" stop-color="#2030ff" stop-opacity="0"/><stop offset="1" stop-color="#2030ff" stop-opacity="0.12"/></linearGradient><linearGradient id="g90" gradientUnits="userSpaceOnUse" x1="229.1" y1="342.8" x2="381.4" y2="206.6"><stop offset="0.000" stop-color="#00009c"/><stop offset="0.167" stop-color="#00009c"/><stop offset="0.333" stop-color="#00009c"/><stop offset="0.500" stop-color="#00009d"/><stop offset="0.667" stop-color="#00009e"/><stop offset="0.833" stop-color="#00009f"/><stop offset="1.000" stop-color="#0000a0"/></linearGradient><linearGradient id="g92" gradientUnits="userSpaceOnUse" x1="377.7" y1="209.9" x2="232.9" y2="339.5"><stop offset="0.000" stop-color="#0000a5"/><stop offset="0.167" stop-color="#0000a5"/><stop offset="0.333" stop-color="#0000a5"/><stop offset="0.500" stop-color="#0000a6"/><stop offset="0.667" stop-color="#0000a7"/><stop offset="0.833" stop-color="#0000a7"/><stop offset="1.000" stop-color="#0000a8"/></linearGradient><linearGradient id="g93" gradientUnits="userSpaceOnUse" x1="375.8" y1="211.6" x2="234.8" y2="337.8"><stop offset="0.000" stop-color="#0000a5"/><stop offset="0.167" stop-color="#0000a5"/><stop offset="0.333" stop-color="#0000a5"/><stop offset="0.500" stop-color="#0000a6"/><stop offset="0.667" stop-color="#0000a7"/><stop offset="0.833" stop-color="#0000a8"/><stop offset="1.000" stop-color="#0000a8"/></linearGradient><linearGradient id="g94" gradientUnits="userSpaceOnUse" x1="373.9" y1="213.2" x2="236.6" y2="336.1"><stop offset="0.000" stop-color="#0000a5"/><stop offset="0.167" stop-color="#0000a5"/><stop offset="0.333" stop-color="#0000a5"/><stop offset="0.500" stop-color="#0000a5"/><stop offset="0.667" stop-color="#0000a6"/><stop offset="0.833" stop-color="#0000a8"/><stop offset="1.000" stop-color="#0000a9"/></linearGradient><linearGradient id="g95" gradientUnits="userSpaceOnUse" x1="372.1" y1="214.8" x2="238.5" y2="334.4"><stop offset="0.000" stop-color="#0000a4"/><stop offset="0.167" stop-color="#0000a5"/><stop offset="0.333" stop-color="#0000a5"/><stop offset="0.500" stop-color="#0000a5"/><stop offset="0.667" stop-color="#0000a6"/><stop offset="0.833" stop-color="#0000a7"/><stop offset="1.000" stop-color="#0000a8"/></linearGradient><linearGradient id="g96" gradientUnits="userSpaceOnUse" x1="370.2" y1="216.5" x2="240.4" y2="332.7"><stop offset="0.000" stop-color="#0000a4"/><stop offset="0.167" stop-color="#0000a4"/><stop offset="0.333" stop-color="#0000a4"/><stop offset="0.500" stop-color="#0000a5"/><stop offset="0.667" stop-color="#0000a6"/><stop offset="0.833" stop-color="#0000a7"/><stop offset="1.000" stop-color="#0000a8"/></linearGradient><linearGradient id="g97" gradientUnits="userSpaceOnUse" x1="368.4" y1="218.1" x2="242.2" y2="330.9"><stop offset="0.000" stop-color="#0000a4"/><stop offset="0.167" stop-color="#0000a4"/><stop offset="0.333" stop-color="#0000a4"/><stop offset="0.500" stop-color="#0000a5"/><stop offset="0.667" stop-color="#0000a6"/><stop offset="0.833" stop-color="#0000a7"/><stop offset="1.000" stop-color="#0000a8"/></linearGradient><linearGradient id="g98" gradientUnits="userSpaceOnUse" x1="366.5" y1="219.7" x2="244.1" y2="329.2"><stop offset="0.000" stop-color="#0000a3"/><stop offset="0.167" stop-color="#0000a4"/><stop offset="0.333" stop-color="#0000a4"/><stop offset="0.500" stop-color="#0000a4"/><stop offset="0.667" stop-color="#0000a6"/><stop offset="0.833" stop-color="#0000a7"/><stop offset="1.000" stop-color="#0000a9"/></linearGradient><linearGradient id="g99" gradientUnits="userSpaceOnUse" x1="364.6" y1="221.3" x2="246.0" y2="327.5"><stop offset="0.000" stop-color="#0000a3"/><stop offset="0.167" stop-color="#0000a3"/><stop offset="0.333" stop-color="#0000a3"/><stop offset="0.500" stop-color="#0000a4"/><stop offset="0.667" stop-color="#0000a6"/><stop offset="0.833" stop-color="#0000a8"/><stop offset="1.000" stop-color="#0000aa"/></linearGradient><linearGradient id="g100" gradientUnits="userSpaceOnUse" x1="362.8" y1="222.9" x2="247.9" y2="325.7"><stop offset="0.000" stop-color="#0000a2"/><stop offset="0.167" stop-color="#0000a2"/><stop offset="0.333" stop-color="#0000a2"/><stop offset="0.500" stop-color="#0000a3"/><stop offset="0.667" stop-color="#0000a6"/><stop offset="0.833" stop-color="#0000a8"/><stop offset="1.000" stop-color="#0000ab"/></linearGradient><linearGradient id="g101" gradientUnits="userSpaceOnUse" x1="360.9" y1="224.5" x2="249.8" y2="323.9"><stop offset="0.000" stop-color="#00009e"/><stop offset="0.167" stop-color="#00009e"/><stop offset="0.333" stop-color="#00009f"/><stop offset="0.500" stop-color="#00009f"/><stop offset="0.667" stop-color="#0000a3"/><stop offset="0.833" stop-color="#0000a8"/><stop offset="1.000" stop-color="#0000ac"/></linearGradient><linearGradient id="g102" gradientUnits="userSpaceOnUse" x1="359.1" y1="225.9" x2="251.7" y2="322.1"><stop offset="0.000" stop-color="#00008f"/><stop offset="0.167" stop-color="#000090"/><stop offset="0.333" stop-color="#000091"/><stop offset="0.500" stop-color="#000091"/><stop offset="0.667" stop-color="#000099"/><stop offset="0.833" stop-color="#0000a5"/><stop offset="1.000" stop-color="#0000b6"/></linearGradient><linearGradient id="g103" gradientUnits="userSpaceOnUse" x1="357.9" y1="226.6" x2="252.9" y2="320.6"><stop offset="0.000" stop-color="#00007e"/><stop offset="0.167" stop-color="#00007f"/><stop offset="0.333" stop-color="#000081"/><stop offset="0.500" stop-color="#000082"/><stop offset="0.667" stop-color="#00008b"/><stop offset="0.833" stop-color="#0000a4"/><stop offset="1.000" stop-color="#0000b4"/></linearGradient><linearGradient id="g104" gradientUnits="userSpaceOnUse" x1="357.2" y1="227.0" x2="253.7" y2="319.7"><stop offset="0.000" stop-color="#000072"/><stop offset="0.167" stop-color="#000077"/><stop offset="0.333" stop-color="#000079"/><stop offset="0.500" stop-color="#00007a"/><stop offset="0.667" stop-color="#000083"/><stop offset="0.833" stop-color="#00009f"/><stop offset="1.000" stop-color="#0000ae"/></linearGradient><linearGradient id="g105" gradientUnits="userSpaceOnUse" x1="356.7" y1="227.2" x2="254.3" y2="318.9"><stop offset="0.000" stop-color="#000066"/><stop offset="0.167" stop-color="#000071"/><stop offset="0.333" stop-color="#000073"/><stop offset="0.500" stop-color="#000075"/><stop offset="0.667" stop-color="#00007e"/><stop offset="0.833" stop-color="#00009c"/><stop offset="1.000" stop-color="#0000a9"/></linearGradient><linearGradient id="g106" gradientUnits="userSpaceOnUse" x1="356.2" y1="227.3" x2="254.9" y2="318.1"><stop offset="0.000" stop-color="#00005a"/><stop offset="0.167" stop-color="#00006b"/><stop offset="0.333" stop-color="#000070"/><stop offset="0.500" stop-color="#000072"/><stop offset="0.667" stop-color="#00007a"/><stop offset="0.833" stop-color="#000099"/><stop offset="1.000" stop-color="#0000a7"/></linearGradient><linearGradient id="g107" gradientUnits="userSpaceOnUse" x1="355.8" y1="227.4" x2="255.4" y2="317.4"><stop offset="0.000" stop-color="#00004d"/><stop offset="0.167" stop-color="#000064"/><stop offset="0.333" stop-color="#00006e"/><stop offset="0.500" stop-color="#000070"/><stop offset="0.667" stop-color="#000077"/><stop offset="0.833" stop-color="#000098"/><stop offset="1.000" stop-color="#0000a6"/></linearGradient><linearGradient id="g108" gradientUnits="userSpaceOnUse" x1="355.4" y1="227.4" x2="255.8" y2="316.7"><stop offset="0.000" stop-color="#000044"/><stop offset="0.167" stop-color="#00005f"/><stop offset="0.333" stop-color="#00006c"/><stop offset="0.500" stop-color="#00006e"/><stop offset="0.667" stop-color="#000075"/><stop offset="0.833" stop-color="#000097"/><stop offset="1.000" stop-color="#0000a5"/></linearGradient><linearGradient id="g109" gradientUnits="userSpaceOnUse" x1="355.1" y1="227.5" x2="256.3" y2="316.0"><stop offset="0.000" stop-color="#00003d"/><stop offset="0.167" stop-color="#00005b"/><stop offset="0.333" stop-color="#00006b"/><stop offset="0.500" stop-color="#00006d"/><stop offset="0.667" stop-color="#000072"/><stop offset="0.833" stop-color="#000095"/><stop offset="1.000" stop-color="#0000a4"/></linearGradient><linearGradient id="g110" gradientUnits="userSpaceOnUse" x1="354.7" y1="227.5" x2="256.8" y2="315.3"><stop offset="0.000" stop-color="#000039"/><stop offset="0.167" stop-color="#000059"/><stop offset="0.333" stop-color="#000069"/><stop offset="0.500" stop-color="#00006b"/><stop offset="0.667" stop-color="#000071"/><stop offset="0.833" stop-color="#000093"/><stop offset="1.000" stop-color="#0000a2"/></linearGradient><linearGradient id="g111" gradientUnits="userSpaceOnUse" x1="354.3" y1="227.4" x2="257.3" y2="314.5"><stop offset="0.000" stop-color="#000037"/><stop offset="0.167" stop-color="#000056"/><stop offset="0.333" stop-color="#000067"/><stop offset="0.500" stop-color="#000069"/><stop offset="0.667" stop-color="#00006e"/><stop offset="0.833" stop-color="#000090"/><stop offset="1.000" stop-color="#00009e"/></linearGradient><linearGradient id="g112" gradientUnits="userSpaceOnUse" x1="353.9" y1="227.4" x2="257.8" y2="313.7"><stop offset="0.000" stop-color="#000036"/><stop offset="0.167" stop-color="#000054"/><stop offset="0.333" stop-color="#000064"/><stop offset="0.500" stop-color="#000066"/><stop offset="0.667" stop-color="#00006b"/><stop offset="0.833" stop-color="#00008c"/><stop offset="1.000" stop-color="#00009a"/></linearGradient><linearGradient id="g113" gradientUnits="userSpaceOnUse" x1="353.5" y1="227.4" x2="258.2" y2="313.0"><stop offset="0.000" stop-color="#000234"/><stop offset="0.167" stop-color="#000352"/><stop offset="0.333" stop-color="#000461"/><stop offset="0.500" stop-color="#000463"/><stop offset="0.667" stop-color="#000468"/><stop offset="0.833" stop-color="#000588"/><stop offset="1.000" stop-color="#000695"/></linearGradient><linearGradient id="g114" gradientUnits="userSpaceOnUse" x1="353.2" y1="227.4" x2="258.7" y2="312.2"><stop offset="0.000" stop-color="#000532"/><stop offset="0.167" stop-color="#00084f"/><stop offset="0.333" stop-color="#00095d"/><stop offset="0.500" stop-color="#000960"/><stop offset="0.667" stop-color="#000a64"/><stop offset="0.833" stop-color="#000d83"/><stop offset="1.000" stop-color="#000e90"/></linearGradient><linearGradient id="g115" gradientUnits="userSpaceOnUse" x1="352.8" y1="227.4" x2="259.2" y2="311.5"><stop offset="0.000" stop-color="#000830"/><stop offset="0.167" stop-color="#000c4b"/><stop offset="0.333" stop-color="#000f59"/><stop offset="0.500" stop-color="#000f5b"/><stop offset="0.667" stop-color="#001060"/><stop offset="0.833" stop-color="#00147d"/><stop offset="1.000" stop-color="#00168a"/></linearGradient><linearGradient id="g116" gradientUnits="userSpaceOnUse" x1="352.4" y1="227.4" x2="259.7" y2="310.7"><stop offset="0.000" stop-color="#000b2d"/><stop offset="0.167" stop-color="#001147"/><stop offset="0.333" stop-color="#001455"/><stop offset="0.500" stop-color="#001557"/><stop offset="0.667" stop-color="#00165b"/><stop offset="0.833" stop-color="#001c77"/><stop offset="1.000" stop-color="#001f83"/></linearGradient><linearGradient id="g117" gradientUnits="userSpaceOnUse" x1="352.0" y1="227.4" x2="260.2" y2="310.0"><stop offset="0.000" stop-color="#000f2a"/><stop offset="0.167" stop-color="#001743"/><stop offset="0.333" stop-color="#001c50"/><stop offset="0.500" stop-color="#001c52"/><stop offset="0.667" stop-color="#001e55"/><stop offset="0.833" stop-color="#002770"/><stop offset="1.000" stop-color="#002a7b"/></linearGradient><linearGradient id="g118" gradientUnits="userSpaceOnUse" x1="351.7" y1="227.4" x2="260.6" y2="309.2"><stop offset="0.000" stop-color="#001328"/><stop offset="0.167" stop-color="#001d3f"/><stop offset="0.333" stop-color="#00234a"/><stop offset="0.500" stop-color="#00244c"/><stop offset="0.667" stop-color="#002550"/><stop offset="0.833" stop-color="#003168"/><stop offset="1.000" stop-color="#003673"/></linearGradient><linearGradient id="g119" gradientUnits="userSpaceOnUse" x1="351.3" y1="227.4" x2="261.1" y2="308.5"><stop offset="0.000" stop-color="#001726"/><stop offset="0.167" stop-color="#00243b"/><stop offset="0.333" stop-color="#002a45"/><stop offset="0.500" stop-color="#002b47"/><stop offset="0.667" stop-color="#002d4a"/><stop offset="0.833" stop-color="#003b61"/><stop offset="1.000" stop-color="#00416a"/></linearGradient><linearGradient id="g120" gradientUnits="userSpaceOnUse" x1="350.9" y1="227.4" x2="261.6" y2="307.7"><stop offset="0.000" stop-color="#001b24"/><stop offset="0.167" stop-color="#002936"/><stop offset="0.333" stop-color="#003140"/><stop offset="0.500" stop-color="#003241"/><stop offset="0.667" stop-color="#003444"/><stop offset="0.833" stop-color="#004459"/><stop offset="1.000" stop-color="#004b62"/></linearGradient><linearGradient id="g121" gradientUnits="userSpaceOnUse" x1="350.5" y1="227.4" x2="262.1" y2="307.0"><stop offset="0.000" stop-color="#001f22"/><stop offset="0.167" stop-color="#002e32"/><stop offset="0.333" stop-color="#00363b"/><stop offset="0.500" stop-color="#00373c"/><stop offset="0.667" stop-color="#003a3f"/><stop offset="0.833" stop-color="#004b52"/><stop offset="1.000" stop-color="#00535a"/></linearGradient><linearGradient id="g122" gradientUnits="userSpaceOnUse" x1="350.1" y1="227.4" x2="262.6" y2="306.2"><stop offset="0.000" stop-color="#00221f"/><stop offset="0.167" stop-color="#00332e"/><stop offset="0.333" stop-color="#003b36"/><stop offset="0.500" stop-color="#003c37"/><stop offset="0.667" stop-color="#003f3a"/><stop offset="0.833" stop-color="#00534b"/><stop offset="1.000" stop-color="#005a52"/></linearGradient><linearGradient id="g123" gradientUnits="userSpaceOnUse" x1="349.8" y1="227.4" x2="263.1" y2="305.5"><stop offset="0.000" stop-color="#00261d"/><stop offset="0.167" stop-color="#00372a"/><stop offset="0.333" stop-color="#004031"/><stop offset="0.500" stop-color="#004232"/><stop offset="0.667" stop-color="#004534"/><stop offset="0.833" stop-color="#005a44"/><stop offset="1.000" stop-color="#00624a"/></linearGradient><linearGradient id="g124" gradientUnits="userSpaceOnUse" x1="349.4" y1="227.4" x2="263.5" y2="304.7"><stop offset="0.000" stop-color="#00291a"/><stop offset="0.167" stop-color="#003c26"/><stop offset="0.333" stop-color="#00452c"/><stop offset="0.500" stop-color="#00472d"/><stop offset="0.667" stop-color="#004a2f"/><stop offset="0.833" stop-color="#00613d"/><stop offset="1.000" stop-color="#006a43"/></linearGradient><linearGradient id="g125" gradientUnits="userSpaceOnUse" x1="349.0" y1="227.4" x2="264.0" y2="304.0"><stop offset="0.000" stop-color="#002f17"/><stop offset="0.167" stop-color="#014321"/><stop offset="0.333" stop-color="#014d26"/><stop offset="0.500" stop-color="#014f27"/><stop offset="0.667" stop-color="#015329"/><stop offset="0.833" stop-color="#016c35"/><stop offset="1.000" stop-color="#01763a"/></linearGradient><linearGradient id="g126" gradientUnits="userSpaceOnUse" x1="348.6" y1="227.5" x2="264.5" y2="303.3"><stop offset="0.000" stop-color="#013514"/><stop offset="0.167" stop-color="#014b1c"/><stop offset="0.333" stop-color="#015620"/><stop offset="0.500" stop-color="#015821"/><stop offset="0.667" stop-color="#015d23"/><stop offset="0.833" stop-color="#02782d"/><stop offset="1.000" stop-color="#028331"/></linearGradient><linearGradient id="g127" gradientUnits="userSpaceOnUse" x1="348.2" y1="227.5" x2="265.0" y2="302.5"><stop offset="0.000" stop-color="#013b11"/><stop offset="0.167" stop-color="#025318"/><stop offset="0.333" stop-color="#025e1b"/><stop offset="0.500" stop-color="#02611b"/><stop offset="0.667" stop-color="#02661d"/><stop offset="0.833" stop-color="#038425"/><stop offset="1.000" stop-color="#039029"/></linearGradient><linearGradient id="g128" gradientUnits="userSpaceOnUse" x1="347.8" y1="227.5" x2="265.5" y2="301.8"><stop offset="0.000" stop-color="#02430e"/><stop offset="0.167" stop-color="#025b13"/><stop offset="0.333" stop-color="#036715"/><stop offset="0.500" stop-color="#036916"/><stop offset="0.667" stop-color="#036f17"/><stop offset="0.833" stop-color="#048f1d"/><stop offset="1.000" stop-color="#049c20"/></linearGradient><linearGradient id="g129" gradientUnits="userSpaceOnUse" x1="347.4" y1="227.6" x2="265.9" y2="301.1"><stop offset="0.000" stop-color="#024a0b"/><stop offset="0.167" stop-color="#03630f"/><stop offset="0.333" stop-color="#046e10"/><stop offset="0.500" stop-color="#047111"/><stop offset="0.667" stop-color="#047712"/><stop offset="0.833" stop-color="#059917"/><stop offset="1.000" stop-color="#05a819"/></linearGradient><linearGradient id="g130" gradientUnits="userSpaceOnUse" x1="347.0" y1="227.6" x2="266.4" y2="300.3"><stop offset="0.000" stop-color="#04500a"/><stop offset="0.167" stop-color="#05680d"/><stop offset="0.333" stop-color="#05730e"/><stop offset="0.500" stop-color="#05750f"/><stop offset="0.667" stop-color="#067c0f"/><stop offset="0.833" stop-color="#079f14"/><stop offset="1.000" stop-color="#08ad16"/></linearGradient><linearGradient id="g131" gradientUnits="userSpaceOnUse" x1="346.6" y1="227.7" x2="267.0" y2="299.6"><stop offset="0.000" stop-color="#055709"/><stop offset="0.167" stop-color="#066e0b"/><stop offset="0.333" stop-color="#07770c"/><stop offset="0.500" stop-color="#07790d"/><stop offset="0.667" stop-color="#07810d"/><stop offset="0.833" stop-color="#09a411"/><stop offset="1.000" stop-color="#0ab312"/></linearGradient><linearGradient id="g132" gradientUnits="userSpaceOnUse" x1="346.2" y1="227.8" x2="267.5" y2="298.8"><stop offset="0.000" stop-color="#065e08"/><stop offset="0.167" stop-color="#08740a"/><stop offset="0.333" stop-color="#087b0a"/><stop offset="0.500" stop-color="#087e0a"/><stop offset="0.667" stop-color="#09860b"/><stop offset="0.833" stop-color="#0baa0e"/><stop offset="1.000" stop-color="#0cb90f"/></linearGradient><linearGradient id="g133" gradientUnits="userSpaceOnUse" x1="345.7" y1="227.9" x2="268.0" y2="298.0"><stop offset="0.000" stop-color="#086607"/><stop offset="0.167" stop-color="#097a08"/><stop offset="0.333" stop-color="#0a8008"/><stop offset="0.500" stop-color="#0a8208"/><stop offset="0.667" stop-color="#0b8b09"/><stop offset="0.833" stop-color="#0daf0b"/><stop offset="1.000" stop-color="#0fbe0c"/></linearGradient><linearGradient id="g134" gradientUnits="userSpaceOnUse" x1="345.2" y1="228.0" x2="268.6" y2="297.2"><stop offset="0.000" stop-color="#096e05"/><stop offset="0.167" stop-color="#0b8006"/><stop offset="0.333" stop-color="#0b8406"/><stop offset="0.500" stop-color="#0c8606"/><stop offset="0.667" stop-color="#0c9007"/><stop offset="0.833" stop-color="#0fb408"/><stop offset="1.000" stop-color="#11c409"/></linearGradient><linearGradient id="g135" gradientUnits="userSpaceOnUse" x1="344.7" y1="228.1" x2="269.2" y2="296.4"><stop offset="0.000" stop-color="#0b7403"/><stop offset="0.167" stop-color="#0d8504"/><stop offset="0.333" stop-color="#0d8804"/><stop offset="0.500" stop-color="#0d8a04"/><stop offset="0.667" stop-color="#0e9404"/><stop offset="0.833" stop-color="#11b906"/><stop offset="1.000" stop-color="#13c906"/></linearGradient><linearGradient id="g136" gradientUnits="userSpaceOnUse" x1="344.2" y1="228.3" x2="269.8" y2="295.5"><stop offset="0.000" stop-color="#0e7803"/><stop offset="0.167" stop-color="#108903"/><stop offset="0.333" stop-color="#108b03"/><stop offset="0.500" stop-color="#108d03"/><stop offset="0.667" stop-color="#119803"/><stop offset="0.833" stop-color="#16bc04"/><stop offset="1.000" stop-color="#18cd05"/></linearGradient><linearGradient id="g137" gradientUnits="userSpaceOnUse" x1="343.7" y1="228.5" x2="270.5" y2="294.7"><stop offset="0.000" stop-color="#127b02"/><stop offset="0.167" stop-color="#148b03"/><stop offset="0.333" stop-color="#148d03"/><stop offset="0.500" stop-color="#148f03"/><stop offset="0.667" stop-color="#169a03"/><stop offset="0.833" stop-color="#1bbe04"/><stop offset="1.000" stop-color="#1ecf04"/></linearGradient><linearGradient id="g138" gradientUnits="userSpaceOnUse" x1="343.2" y1="228.7" x2="271.1" y2="293.8"><stop offset="0.000" stop-color="#157d02"/><stop offset="0.167" stop-color="#188c02"/><stop offset="0.333" stop-color="#188f02"/><stop offset="0.500" stop-color="#199102"/><stop offset="0.667" stop-color="#1a9c03"/><stop offset="0.833" stop-color="#21c103"/><stop offset="1.000" stop-color="#23d203"/></linearGradient><linearGradient id="g139" gradientUnits="userSpaceOnUse" x1="342.6" y1="228.8" x2="271.7" y2="292.9"><stop offset="0.000" stop-color="#197e02"/><stop offset="0.167" stop-color="#1c8e02"/><stop offset="0.333" stop-color="#1c9102"/><stop offset="0.500" stop-color="#1d9302"/><stop offset="0.667" stop-color="#1f9e02"/><stop offset="0.833" stop-color="#26c303"/><stop offset="1.000" stop-color="#29d503"/></linearGradient><linearGradient id="g140" gradientUnits="userSpaceOnUse" x1="342.1" y1="229.0" x2="272.3" y2="292.1"><stop offset="0.000" stop-color="#1c7e01"/><stop offset="0.167" stop-color="#209001"/><stop offset="0.333" stop-color="#209201"/><stop offset="0.500" stop-color="#219502"/><stop offset="0.667" stop-color="#23a002"/><stop offset="0.833" stop-color="#2cc602"/><stop offset="1.000" stop-color="#2fd802"/></linearGradient><linearGradient id="g141" gradientUnits="userSpaceOnUse" x1="341.6" y1="229.2" x2="272.9" y2="291.3"><stop offset="0.000" stop-color="#1f7e01"/><stop offset="0.167" stop-color="#239101"/><stop offset="0.333" stop-color="#249401"/><stop offset="0.500" stop-color="#259701"/><stop offset="0.667" stop-color="#27a101"/><stop offset="0.833" stop-color="#31c901"/><stop offset="1.000" stop-color="#35db02"/></linearGradient><linearGradient id="g142" gradientUnits="userSpaceOnUse" x1="341.1" y1="229.3" x2="273.5" y2="290.5"><stop offset="0.000" stop-color="#227e01"/><stop offset="0.167" stop-color="#279101"/><stop offset="0.333" stop-color="#289601"/><stop offset="0.500" stop-color="#299801"/><stop offset="0.667" stop-color="#2ca301"/><stop offset="0.833" stop-color="#36cc01"/><stop offset="1.000" stop-color="#3bde01"/></linearGradient><linearGradient id="g143" gradientUnits="userSpaceOnUse" x1="340.6" y1="229.4" x2="274.1" y2="289.7"><stop offset="0.000" stop-color="#247c00"/><stop offset="0.167" stop-color="#2a9200"/><stop offset="0.333" stop-color="#2c9700"/><stop offset="0.500" stop-color="#2d9a00"/><stop offset="0.667" stop-color="#30a500"/><stop offset="0.833" stop-color="#3ccf00"/><stop offset="1.000" stop-color="#41e100"/></linearGradient><linearGradient id="g144" gradientUnits="userSpaceOnUse" x1="340.2" y1="229.5" x2="274.6" y2="288.9"><stop offset="0.000" stop-color="#277a00"/><stop offset="0.167" stop-color="#2f9200"/><stop offset="0.333" stop-color="#319900"/><stop offset="0.500" stop-color="#329c00"/><stop offset="0.667" stop-color="#35a600"/><stop offset="0.833" stop-color="#43d200"/><stop offset="1.000" stop-color="#49e400"/></linearGradient><linearGradient id="g145" gradientUnits="userSpaceOnUse" x1="339.7" y1="229.6" x2="275.2" y2="288.1"><stop offset="0.000" stop-color="#2c7900"/><stop offset="0.167" stop-color="#369200"/><stop offset="0.333" stop-color="#399a00"/><stop offset="0.500" stop-color="#3a9d00"/><stop offset="0.667" stop-color="#3ea700"/><stop offset="0.833" stop-color="#4ed300"/><stop offset="1.000" stop-color="#55e600"/></linearGradient><linearGradient id="g146" gradientUnits="userSpaceOnUse" x1="339.3" y1="229.7" x2="275.7" y2="287.3"><stop offset="0.000" stop-color="#327700"/><stop offset="0.167" stop-color="#3d9200"/><stop offset="0.333" stop-color="#419b00"/><stop offset="0.500" stop-color="#429e00"/><stop offset="0.667" stop-color="#46a800"/><stop offset="0.833" stop-color="#59d500"/><stop offset="1.000" stop-color="#61e800"/></linearGradient><linearGradient id="g147" gradientUnits="userSpaceOnUse" x1="338.8" y1="229.8" x2="276.2" y2="286.6"><stop offset="0.000" stop-color="#377500"/><stop offset="0.167" stop-color="#449200"/><stop offset="0.333" stop-color="#489c00"/><stop offset="0.500" stop-color="#4a9f00"/><stop offset="0.667" stop-color="#4fa900"/><stop offset="0.833" stop-color="#64d700"/><stop offset="1.000" stop-color="#6dea00"/></linearGradient><linearGradient id="g148" gradientUnits="userSpaceOnUse" x1="338.4" y1="229.9" x2="276.7" y2="285.8"><stop offset="0.000" stop-color="#3b7400"/><stop offset="0.167" stop-color="#4b9100"/><stop offset="0.333" stop-color="#509d00"/><stop offset="0.500" stop-color="#52a000"/><stop offset="0.667" stop-color="#57aa00"/><stop offset="0.833" stop-color="#6fd800"/><stop offset="1.000" stop-color="#79ec00"/></linearGradient><linearGradient id="g149" gradientUnits="userSpaceOnUse" x1="338.0" y1="230.0" x2="277.3" y2="285.0"><stop offset="0.000" stop-color="#407200"/><stop offset="0.167" stop-color="#529100"/><stop offset="0.333" stop-color="#599e00"/><stop offset="0.500" stop-color="#5ba100"/><stop offset="0.667" stop-color="#61ab00"/><stop offset="0.833" stop-color="#7bda00"/><stop offset="1.000" stop-color="#86ee00"/></linearGradient><linearGradient id="g150" gradientUnits="userSpaceOnUse" x1="337.6" y1="230.1" x2="277.8" y2="284.3"><stop offset="0.000" stop-color="#476f00"/><stop offset="0.167" stop-color="#5d9100"/><stop offset="0.333" stop-color="#669e00"/><stop offset="0.500" stop-color="#68a200"/><stop offset="0.667" stop-color="#6eac00"/><stop offset="0.833" stop-color="#8ddb00"/><stop offset="1.000" stop-color="#99ef00"/></linearGradient><linearGradient id="g151" gradientUnits="userSpaceOnUse" x1="337.2" y1="230.1" x2="278.2" y2="283.6"><stop offset="0.000" stop-color="#4d6b00"/><stop offset="0.167" stop-color="#678f00"/><stop offset="0.333" stop-color="#729f00"/><stop offset="0.500" stop-color="#74a200"/><stop offset="0.667" stop-color="#7bac00"/><stop offset="0.833" stop-color="#9edd00"/><stop offset="1.000" stop-color="#adf100"/></linearGradient><linearGradient id="g152" gradientUnits="userSpaceOnUse" x1="336.8" y1="230.2" x2="278.7" y2="282.8"><stop offset="0.000" stop-color="#516700"/><stop offset="0.167" stop-color="#708e00"/><stop offset="0.333" stop-color="#7fa000"/><stop offset="0.500" stop-color="#81a300"/><stop offset="0.667" stop-color="#89ad00"/><stop offset="0.833" stop-color="#b0df00"/><stop offset="1.000" stop-color="#c1f300"/></linearGradient><linearGradient id="g153" gradientUnits="userSpaceOnUse" x1="336.4" y1="230.2" x2="279.2" y2="282.1"><stop offset="0.000" stop-color="#556200"/><stop offset="0.167" stop-color="#7a8c00"/><stop offset="0.333" stop-color="#8ca100"/><stop offset="0.500" stop-color="#8fa400"/><stop offset="0.667" stop-color="#96ad00"/><stop offset="0.833" stop-color="#c3e000"/><stop offset="1.000" stop-color="#d5f500"/></linearGradient><linearGradient id="g154" gradientUnits="userSpaceOnUse" x1="336.0" y1="230.2" x2="279.7" y2="281.3"><stop offset="0.000" stop-color="#575e00"/><stop offset="0.167" stop-color="#7f8a00"/><stop offset="0.333" stop-color="#93a000"/><stop offset="0.500" stop-color="#96a400"/><stop offset="0.667" stop-color="#9eac00"/><stop offset="0.833" stop-color="#cee000"/><stop offset="1.000" stop-color="#e1f500"/></linearGradient><linearGradient id="g155" gradientUnits="userSpaceOnUse" x1="335.6" y1="230.2" x2="280.2" y2="280.6"><stop offset="0.000" stop-color="#5c5f00"/><stop offset="0.167" stop-color="#868a00"/><stop offset="0.333" stop-color="#9ba000"/><stop offset="0.500" stop-color="#9fa300"/><stop offset="0.667" stop-color="#a7ac00"/><stop offset="0.833" stop-color="#d9df00"/><stop offset="1.000" stop-color="#edf400"/></linearGradient><linearGradient id="g156" gradientUnits="userSpaceOnUse" x1="335.2" y1="230.2" x2="280.7" y2="279.8"><stop offset="0.000" stop-color="#676500"/><stop offset="0.167" stop-color="#908d00"/><stop offset="0.333" stop-color="#a39f00"/><stop offset="0.500" stop-color="#a7a300"/><stop offset="0.667" stop-color="#b0ac00"/><stop offset="0.833" stop-color="#e3de00"/><stop offset="1.000" stop-color="#f9f300"/></linearGradient><linearGradient id="g157" gradientUnits="userSpaceOnUse" x1="334.8" y1="230.3" x2="281.2" y2="279.0"><stop offset="0.000" stop-color="#756e00"/><stop offset="0.167" stop-color="#978d00"/><stop offset="0.333" stop-color="#a59a00"/><stop offset="0.500" stop-color="#a89d00"/><stop offset="0.667" stop-color="#b3a700"/><stop offset="0.833" stop-color="#e4d500"/><stop offset="1.000" stop-color="#f9e900"/></linearGradient><linearGradient id="g158" gradientUnits="userSpaceOnUse" x1="334.3" y1="230.4" x2="281.8" y2="278.2"><stop offset="0.000" stop-color="#897b00"/><stop offset="0.167" stop-color="#a09000"/><stop offset="0.333" stop-color="#a69500"/><stop offset="0.500" stop-color="#a99800"/><stop offset="0.667" stop-color="#b5a200"/><stop offset="0.833" stop-color="#e3cc00"/><stop offset="1.000" stop-color="#f7de00"/></linearGradient><linearGradient id="g159" gradientUnits="userSpaceOnUse" x1="333.8" y1="230.6" x2="282.4" y2="277.2"><stop offset="0.000" stop-color="#978200"/><stop offset="0.167" stop-color="#a58d00"/><stop offset="0.333" stop-color="#a89000"/><stop offset="0.500" stop-color="#aa9200"/><stop offset="0.667" stop-color="#b79d00"/><stop offset="0.833" stop-color="#e1c100"/><stop offset="1.000" stop-color="#f5d200"/></linearGradient><linearGradient id="g160" gradientUnits="userSpaceOnUse" x1="333.1" y1="230.9" x2="283.2" y2="276.2"><stop offset="0.000" stop-color="#a38500"/><stop offset="0.167" stop-color="#a78900"/><stop offset="0.333" stop-color="#a98a00"/><stop offset="0.500" stop-color="#ab8c00"/><stop offset="0.667" stop-color="#b89700"/><stop offset="0.833" stop-color="#deb600"/><stop offset="1.000" stop-color="#f2c600"/></linearGradient><linearGradient id="g161" gradientUnits="userSpaceOnUse" x1="332.3" y1="231.3" x2="284.1" y2="275.1"><stop offset="0.000" stop-color="#a58100"/><stop offset="0.167" stop-color="#a78300"/><stop offset="0.333" stop-color="#a98500"/><stop offset="0.500" stop-color="#ab8600"/><stop offset="0.667" stop-color="#b89000"/><stop offset="0.833" stop-color="#dbab00"/><stop offset="1.000" stop-color="#f0bb00"/></linearGradient><linearGradient id="g162" gradientUnits="userSpaceOnUse" x1="331.5" y1="231.7" x2="285.0" y2="274.0"><stop offset="0.000" stop-color="#a67c00"/><stop offset="0.167" stop-color="#a87d00"/><stop offset="0.333" stop-color="#aa7f00"/><stop offset="0.500" stop-color="#ab8000"/><stop offset="0.667" stop-color="#b88900"/><stop offset="0.833" stop-color="#d9a200"/><stop offset="1.000" stop-color="#eeb200"/></linearGradient><linearGradient id="g163" gradientUnits="userSpaceOnUse" x1="330.6" y1="232.2" x2="286.0" y2="272.8"><stop offset="0.000" stop-color="#a67600"/><stop offset="0.167" stop-color="#a87700"/><stop offset="0.333" stop-color="#a97900"/><stop offset="0.500" stop-color="#ab7a00"/><stop offset="0.667" stop-color="#b78200"/><stop offset="0.833" stop-color="#d89900"/><stop offset="1.000" stop-color="#eda900"/></linearGradient><linearGradient id="g164" gradientUnits="userSpaceOnUse" x1="329.7" y1="232.7" x2="287.0" y2="271.6"><stop offset="0.000" stop-color="#a67000"/><stop offset="0.167" stop-color="#a87100"/><stop offset="0.333" stop-color="#a97200"/><stop offset="0.500" stop-color="#ab7400"/><stop offset="0.667" stop-color="#b77c00"/><stop offset="0.833" stop-color="#d69100"/><stop offset="1.000" stop-color="#eca000"/></linearGradient><linearGradient id="g165" gradientUnits="userSpaceOnUse" x1="328.8" y1="233.2" x2="288.0" y2="270.4"><stop offset="0.000" stop-color="#a66a00"/><stop offset="0.167" stop-color="#a86b00"/><stop offset="0.333" stop-color="#a96c00"/><stop offset="0.500" stop-color="#ab6d00"/><stop offset="0.667" stop-color="#b77500"/><stop offset="0.833" stop-color="#d48800"/><stop offset="1.000" stop-color="#ea9600"/></linearGradient><linearGradient id="g166" gradientUnits="userSpaceOnUse" x1="327.8" y1="233.8" x2="289.1" y2="269.1"><stop offset="0.000" stop-color="#a66400"/><stop offset="0.167" stop-color="#a86500"/><stop offset="0.333" stop-color="#a96600"/><stop offset="0.500" stop-color="#ab6700"/><stop offset="0.667" stop-color="#b66e00"/><stop offset="0.833" stop-color="#d27f00"/><stop offset="1.000" stop-color="#e88c00"/></linearGradient><linearGradient id="g167" gradientUnits="userSpaceOnUse" x1="326.7" y1="234.5" x2="290.3" y2="267.7"><stop offset="0.000" stop-color="#a65f00"/><stop offset="0.167" stop-color="#a85f00"/><stop offset="0.333" stop-color="#a96000"/><stop offset="0.500" stop-color="#ab6100"/><stop offset="0.667" stop-color="#b66700"/><stop offset="0.833" stop-color="#cf7600"/><stop offset="1.000" stop-color="#e48200"/></linearGradient><linearGradient id="g168" gradientUnits="userSpaceOnUse" x1="325.6" y1="235.2" x2="291.5" y2="266.3"><stop offset="0.000" stop-color="#a75900"/><stop offset="0.167" stop-color="#a85a00"/><stop offset="0.333" stop-color="#a95a00"/><stop offset="0.500" stop-color="#ab5b00"/><stop offset="0.667" stop-color="#b56100"/><stop offset="0.833" stop-color="#cd6d00"/><stop offset="1.000" stop-color="#e17800"/></linearGradient><linearGradient id="g169" gradientUnits="userSpaceOnUse" x1="324.4" y1="236.0" x2="292.8" y2="264.8"><stop offset="0.000" stop-color="#a65300"/><stop offset="0.167" stop-color="#a85400"/><stop offset="0.333" stop-color="#a95400"/><stop offset="0.500" stop-color="#aa5500"/><stop offset="0.667" stop-color="#b55a00"/><stop offset="0.833" stop-color="#cb6500"/><stop offset="1.000" stop-color="#e07000"/></linearGradient><linearGradient id="g170" gradientUnits="userSpaceOnUse" x1="323.1" y1="236.8" x2="294.1" y2="263.3"><stop offset="0.000" stop-color="#a64e00"/><stop offset="0.167" stop-color="#a74e00"/><stop offset="0.333" stop-color="#a94f00"/><stop offset="0.500" stop-color="#aa4f00"/><stop offset="0.667" stop-color="#b45400"/><stop offset="0.833" stop-color="#c95e00"/><stop offset="1.000" stop-color="#de6800"/></linearGradient><linearGradient id="g171" gradientUnits="userSpaceOnUse" x1="321.8" y1="237.7" x2="295.5" y2="261.7"><stop offset="0.000" stop-color="#a64800"/><stop offset="0.167" stop-color="#a74900"/><stop offset="0.333" stop-color="#a84900"/><stop offset="0.500" stop-color="#a94a00"/><stop offset="0.667" stop-color="#b34e00"/><stop offset="0.833" stop-color="#c65600"/><stop offset="1.000" stop-color="#db5f00"/></linearGradient><linearGradient id="g172" gradientUnits="userSpaceOnUse" x1="320.4" y1="238.7" x2="297.1" y2="260.0"><stop offset="0.000" stop-color="#a64300"/><stop offset="0.167" stop-color="#a74300"/><stop offset="0.333" stop-color="#a84400"/><stop offset="0.500" stop-color="#a94400"/><stop offset="0.667" stop-color="#b24800"/><stop offset="0.833" stop-color="#c14e00"/><stop offset="1.000" stop-color="#d45500"/></linearGradient><linearGradient id="g173" gradientUnits="userSpaceOnUse" x1="318.6" y1="240.1" x2="299.0" y2="258.0"><stop offset="0.000" stop-color="#a73e00"/><stop offset="0.167" stop-color="#a73e00"/><stop offset="0.333" stop-color="#a83e00"/><stop offset="0.500" stop-color="#a93f00"/><stop offset="0.667" stop-color="#af4100"/><stop offset="0.833" stop-color="#b74400"/><stop offset="1.000" stop-color="#c44900"/></linearGradient><linearGradient id="g174" gradientUnits="userSpaceOnUse" x1="316.7" y1="241.6" x2="300.9" y2="256.0"><stop offset="0.000" stop-color="#a73b00"/><stop offset="0.167" stop-color="#a73b00"/><stop offset="0.333" stop-color="#a83b00"/><stop offset="0.500" stop-color="#a83b00"/><stop offset="0.667" stop-color="#ad3d00"/><stop offset="0.833" stop-color="#b23f00"/><stop offset="1.000" stop-color="#b94100"/></linearGradient><linearGradient id="g175" gradientUnits="userSpaceOnUse" x1="314.9" y1="243.1" x2="302.8" y2="254.1"><stop offset="0.000" stop-color="#a73800"/><stop offset="0.167" stop-color="#a73800"/><stop offset="0.333" stop-color="#a83800"/><stop offset="0.500" stop-color="#a83800"/><stop offset="0.667" stop-color="#ad3a00"/><stop offset="0.833" stop-color="#b13b00"/><stop offset="1.000" stop-color="#b53c00"/></linearGradient><linearGradient id="g176" gradientUnits="userSpaceOnUse" x1="313.0" y1="244.7" x2="304.7" y2="252.2"><stop offset="0.000" stop-color="#a73500"/><stop offset="0.167" stop-color="#a73500"/><stop offset="0.333" stop-color="#a83600"/><stop offset="0.500" stop-color="#a83600"/><stop offset="0.667" stop-color="#ac3700"/><stop offset="0.833" stop-color="#af3800"/><stop offset="1.000" stop-color="#b23900"/></linearGradient><linearGradient id="g177" gradientUnits="userSpaceOnUse" x1="311.1" y1="246.4" x2="306.6" y2="250.4"><stop offset="0.000" stop-color="#a73400"/><stop offset="0.167" stop-color="#a83400"/><stop offset="0.333" stop-color="#a83400"/><stop offset="0.500" stop-color="#a83400"/><stop offset="0.667" stop-color="#aa3500"/><stop offset="0.833" stop-color="#ac3500"/><stop offset="1.000" stop-color="#ae3600"/></linearGradient></defs><g mask="url(#om)"><polygon points="209.1,461.0 258.1,441.6 305.3,422.8 351.0,404.5 395.3,386.5 438.3,368.9 480.1,351.5 520.8,334.4 560.4,317.7 534.6,283.3 510.0,250.4 486.6,218.9 464.4,188.5 443.2,159.1 423.0,130.6 403.7,103.1 385.1,76.5 349.9,87.7 314.0,99.0 277.1,110.3 239.4,121.7 200.6,133.0 160.8,144.3 119.9,155.8 77.7,167.4 91.6,199.0 106.1,231.8 121.3,266.0 137.1,301.6 153.8,338.6 171.2,377.4 189.7,418.1" fill="#aa5757"/><polygon points="532.0,162.9 522.7,151.9 512.8,141.4 502.2,131.4 491.0,122.0 479.3,113.1 467.1,104.8 454.4,97.2 441.4,90.1 427.9,83.7 414.1,77.9 400.1,72.7 385.7,68.2 371.2,64.3 356.5,61.1 341.6,58.5 326.7,56.7 311.7,55.5 296.6,54.9 281.6,55.1 266.6,55.9 251.7,57.4 236.9,59.6 222.3,62.5 207.9,66.1 193.7,70.4 179.8,75.3 166.3,81.0 153.1,87.3 140.3,94.3 128.1,101.9 116.3,110.3 105.2,119.3 94.6,128.9 84.7,139.1 75.6,150.0 67.2,161.4 59.7,173.4 53.1,185.9 47.4,198.9 42.8,212.3 39.2,226.2 36.7,240.4 35.4,255.0 35.2,269.7 36.3,284.7 38.7,299.8 42.4,314.9 47.5,330.0 53.8,344.9 61.5,359.7 70.6,374.1 81.0,388.2 92.7,401.8 105.6,414.7 119.7,427.0 135.0,438.6 151.4,449.2 168.7,459.0 186.9,467.7 205.9,475.3 225.5,481.7 245.7,487.0 266.2,491.0 287.0,493.7 307.9,495.1 328.8,495.2 349.4,494.0 369.8,491.5 389.8,487.8 409.1,482.8 427.8,476.7 445.7,469.4 462.7,461.1 478.7,451.8 493.6,441.7 507.4,430.7 520.0,419.0 531.4,406.6 541.6,393.7 550.4,380.4 558.0,366.6 564.3,352.6 569.3,338.3 573.1,323.9 575.6,309.5 576.9,295.0 577.0,280.6 576.0,266.4 573.9,252.3 570.7,238.5 566.5,224.9 561.4,211.7 555.3,198.9 548.3,186.5 540.5,174.5" fill="#a94c4c"/><polygon points="528.1,164.3 519.0,153.4 509.2,143.1 498.9,133.3 487.9,124.0 476.4,115.3 464.4,107.1 452.0,99.6 439.1,92.6 425.9,86.3 412.4,80.6 398.6,75.5 384.5,71.0 370.2,67.2 355.7,64.1 341.1,61.5 326.4,59.7 311.6,58.5 296.8,58.0 282.1,58.1 267.3,59.0 252.7,60.5 238.1,62.6 223.8,65.5 209.6,69.0 195.7,73.2 182.0,78.1 168.7,83.7 155.8,89.9 143.3,96.8 131.3,104.4 119.8,112.6 108.8,121.4 98.5,130.9 88.8,141.0 79.9,151.6 71.7,162.8 64.4,174.6 58.0,186.9 52.4,199.7 47.9,212.9 44.5,226.5 42.1,240.4 40.8,254.7 40.8,269.1 41.9,283.8 44.3,298.5 48.0,313.3 53.0,328.1 59.2,342.7 66.8,357.1 75.8,371.2 86.0,385.0 97.4,398.2 110.1,410.9 124.0,422.9 138.9,434.1 154.9,444.5 171.9,454.0 189.7,462.5 208.3,469.9 227.4,476.2 247.1,481.3 267.2,485.2 287.5,487.9 307.9,489.3 328.3,489.4 348.5,488.2 368.5,485.8 388.0,482.1 406.9,477.3 425.2,471.3 442.7,464.3 459.3,456.2 475.0,447.2 489.6,437.3 503.1,426.6 515.5,415.1 526.7,403.1 536.7,390.5 545.4,377.4 552.9,364.0 559.1,350.3 564.1,336.3 567.8,322.3 570.4,308.1 571.7,293.9 571.9,279.8 570.9,265.9 568.9,252.1 565.8,238.5 561.7,225.2 556.7,212.2 550.8,199.6 544.0,187.4 536.4,175.6" fill="#a94b4b"/><polygon points="524.1,165.6 515.2,155.0 505.7,144.8 495.5,135.1 484.8,126.0 473.5,117.4 461.7,109.4 449.5,102.0 436.9,95.2 423.9,88.9 410.6,83.3 397.1,78.3 383.2,73.9 369.2,70.1 355.0,67.0 340.6,64.6 326.1,62.7 311.6,61.6 297.1,61.1 282.5,61.2 268.0,62.0 253.6,63.5 239.4,65.7 225.2,68.5 211.3,72.0 197.7,76.1 184.3,80.9 171.2,86.4 158.5,92.5 146.3,99.3 134.5,106.8 123.2,114.9 112.5,123.6 102.4,132.9 92.9,142.8 84.2,153.3 76.2,164.3 69.1,175.9 62.8,187.9 57.5,200.4 53.1,213.4 49.7,226.7 47.5,240.4 46.3,254.3 46.3,268.5 47.5,282.9 49.9,297.3 53.5,311.8 58.4,326.2 64.6,340.5 72.1,354.6 80.9,368.3 90.9,381.7 102.2,394.7 114.6,407.0 128.2,418.7 142.8,429.7 158.5,439.8 175.1,449.1 192.5,457.4 210.6,464.6 229.4,470.7 248.6,475.7 268.2,479.5 288.0,482.1 308.0,483.4 327.9,483.6 347.7,482.4 367.1,480.1 386.2,476.6 404.7,471.9 422.6,466.0 439.7,459.2 455.9,451.3 471.3,442.5 485.6,432.9 498.9,422.4 511.0,411.3 522.0,399.5 531.8,387.3 540.4,374.5 547.8,361.4 553.9,348.0 558.9,334.3 562.6,320.6 565.1,306.7 566.5,292.8 566.7,279.0 565.8,265.3 563.9,251.8 560.9,238.5 557.0,225.5 552.1,212.8 546.3,200.4 539.7,188.4 532.3,176.8" fill="#a94a4a"/><polygon points="520.1,167.0 511.4,156.6 502.1,146.6 492.1,137.1 481.6,128.1 470.6,119.6 459.0,111.8 447.1,104.5 434.7,97.7 421.9,91.6 408.9,86.0 395.5,81.1 381.9,76.8 368.1,73.1 354.2,70.0 340.1,67.6 325.9,65.8 311.6,64.7 297.3,64.2 283.0,64.3 268.8,65.1 254.6,66.6 240.6,68.7 226.7,71.5 213.1,74.9 199.6,79.0 186.5,83.8 173.7,89.2 161.3,95.2 149.3,101.9 137.7,109.2 126.6,117.2 116.2,125.7 106.3,134.9 97.0,144.6 88.5,154.9 80.7,165.8 73.8,177.1 67.7,189.0 62.5,201.2 58.2,213.9 55.0,227.0 52.8,240.4 51.7,254.1 51.8,267.9 53.0,282.0 55.4,296.1 59.0,310.2 63.9,324.3 70.0,338.3 77.4,352.0 86.0,365.5 95.8,378.6 106.9,391.2 119.1,403.2 132.3,414.6 146.7,425.3 162.0,435.2 178.2,444.2 195.2,452.3 212.9,459.3 231.3,465.3 250.0,470.1 269.2,473.9 288.6,476.4 308.0,477.7 327.5,477.8 346.8,476.7 365.8,474.5 384.4,471.0 402.5,466.5 419.9,460.8 436.7,454.1 452.6,446.5 467.6,437.9 481.7,428.5 494.7,418.4 506.6,407.5 517.4,396.0 527.0,384.0 535.4,371.6 542.7,358.8 548.8,345.7 553.6,332.4 557.3,318.9 559.9,305.3 561.2,291.8 561.5,278.3 560.7,264.8 558.9,251.6 556.0,238.6 552.2,225.8 547.4,213.3 541.8,201.1 535.4,189.4 528.1,178.0" fill="#a94949"/><polygon points="516.1,168.5 507.6,158.2 498.5,148.3 488.7,139.0 478.4,130.2 467.6,121.9 456.3,114.1 444.6,107.0 432.4,100.3 419.9,94.3 407.1,88.8 394.0,84.0 380.7,79.7 367.1,76.1 353.4,73.1 339.5,70.7 325.6,69.0 311.6,67.8 297.5,67.3 283.5,67.5 269.5,68.3 255.6,69.7 241.8,71.8 228.2,74.6 214.8,78.0 201.7,82.0 188.8,86.7 176.2,92.0 164.0,97.9 152.2,104.5 140.9,111.7 130.1,119.5 119.8,128.0 110.2,136.9 101.2,146.5 92.8,156.6 85.3,167.3 78.5,178.4 72.5,190.0 67.5,202.1 63.4,214.5 60.3,227.3 58.2,240.4 57.2,253.8 57.3,267.4 58.5,281.1 61.0,294.9 64.6,308.7 69.4,322.5 75.4,336.1 82.7,349.5 91.1,362.7 100.8,375.4 111.6,387.7 123.5,399.5 136.5,410.6 150.5,421.0 165.5,430.6 181.4,439.4 198.0,447.2 215.3,454.1 233.1,459.9 251.5,464.6 270.2,468.3 289.1,470.7 308.1,472.0 327.0,472.1 345.9,471.1 364.4,468.9 382.6,465.6 400.3,461.1 417.3,455.6 433.7,449.1 449.3,441.7 463.9,433.4 477.7,424.2 490.4,414.3 502.1,403.7 512.7,392.6 522.2,380.9 530.5,368.7 537.6,356.2 543.6,343.4 548.4,330.4 552.1,317.3 554.6,304.0 556.0,290.7 556.3,277.5 555.6,264.4 553.8,251.4 551.1,238.6 547.4,226.1 542.8,213.8 537.3,201.9 531.0,190.4 523.9,179.2" fill="#a84848"/><polygon points="512.1,169.9 503.8,159.8 494.9,150.2 485.3,141.0 475.2,132.3 464.6,124.2 453.6,116.6 442.0,109.5 430.1,103.0 417.9,97.0 405.3,91.7 392.4,86.9 379.4,82.7 366.1,79.2 352.6,76.2 339.0,73.9 325.3,72.1 311.5,71.0 297.7,70.6 284.0,70.7 270.2,71.5 256.6,72.9 243.1,75.0 229.7,77.7 216.6,81.0 203.7,85.0 191.0,89.6 178.7,94.8 166.8,100.7 155.3,107.2 144.2,114.3 133.6,121.9 123.5,130.2 114.1,139.0 105.3,148.4 97.2,158.4 89.8,168.8 83.2,179.7 77.4,191.1 72.5,202.9 68.6,215.1 65.6,227.7 63.6,240.5 62.7,253.6 62.8,266.9 64.1,280.3 66.5,293.8 70.1,307.3 74.8,320.7 80.8,334.0 87.9,347.1 96.2,359.9 105.6,372.3 116.2,384.3 127.9,395.7 140.6,406.6 154.4,416.7 169.0,426.1 184.5,434.6 200.7,442.3 217.6,448.9 235.0,454.6 252.9,459.2 271.1,462.7 289.6,465.1 308.1,466.4 326.6,466.5 345.0,465.5 363.1,463.4 380.8,460.1 398.1,455.8 414.7,450.5 430.7,444.2 445.9,437.0 460.3,428.9 473.7,420.0 486.2,410.3 497.6,400.0 508.0,389.1 517.3,377.7 525.5,365.9 532.5,353.7 538.4,341.2 543.2,328.5 546.8,315.7 549.3,302.7 550.7,289.7 551.1,276.8 550.4,263.9 548.8,251.2 546.1,238.7 542.5,226.4 538.1,214.4 532.8,202.8 526.6,191.4 519.7,180.5" fill="#a84646"/><polygon points="508.1,171.4 500.0,161.5 491.2,152.0 481.9,143.0 472.0,134.5 461.6,126.5 450.8,119.0 439.5,112.1 427.8,105.7 415.8,99.8 403.5,94.6 390.9,89.9 378.0,85.8 365.0,82.3 351.8,79.4 338.4,77.0 325.0,75.4 311.5,74.3 298.0,73.8 284.4,74.0 271.0,74.8 257.6,76.2 244.3,78.2 231.2,80.9 218.3,84.1 205.7,88.1 193.3,92.6 181.3,97.7 169.6,103.5 158.3,109.9 147.4,116.8 137.1,124.4 127.3,132.5 118.0,141.2 109.4,150.4 101.5,160.1 94.3,170.4 87.9,181.1 82.3,192.2 77.6,203.8 73.7,215.7 70.9,228.0 69.0,240.6 68.1,253.4 68.3,266.3 69.6,279.5 72.0,292.6 75.5,305.8 80.2,318.9 86.1,331.9 93.1,344.7 101.2,357.2 110.5,369.3 120.9,380.9 132.3,392.1 144.8,402.6 158.2,412.5 172.4,421.6 187.6,429.9 203.4,437.3 219.9,443.8 236.9,449.4 254.3,453.8 272.1,457.3 290.1,459.6 308.1,460.8 326.2,461.0 344.1,460.0 361.8,457.9 379.1,454.8 395.9,450.6 412.1,445.4 427.7,439.3 442.6,432.3 456.6,424.4 469.8,415.7 482.0,406.4 493.2,396.3 503.4,385.7 512.5,374.6 520.5,363.1 527.4,351.2 533.2,339.0 537.9,326.6 541.5,314.1 544.0,301.4 545.5,288.7 545.9,276.1 545.3,263.5 543.7,251.1 541.2,238.8 537.7,226.8 533.4,215.1 528.2,203.6 522.2,192.5 515.5,181.7" fill="#a84444"/><polygon points="504.0,172.9 496.1,163.2 487.6,153.9 478.4,145.0 468.8,136.7 458.6,128.8 448.0,121.5 437.0,114.7 425.5,108.4 413.8,102.6 401.7,97.5 389.3,92.9 376.7,88.8 363.9,85.4 351.0,82.5 337.9,80.3 324.7,78.6 311.4,77.5 298.2,77.1 284.9,77.3 271.7,78.0 258.6,79.4 245.6,81.4 232.8,84.0 220.1,87.3 207.7,91.1 195.6,95.6 183.8,100.6 172.3,106.3 161.3,112.6 150.7,119.4 140.6,126.8 131.0,134.8 122.0,143.3 113.6,152.3 105.9,161.9 98.9,171.9 92.6,182.4 87.2,193.4 82.6,204.7 78.9,216.4 76.1,228.4 74.3,240.7 73.5,253.2 73.8,265.9 75.1,278.7 77.5,291.5 81.0,304.4 85.6,317.2 91.4,329.8 98.3,342.3 106.3,354.4 115.4,366.2 125.5,377.6 136.7,388.4 148.8,398.7 161.9,408.3 175.9,417.2 190.6,425.3 206.1,432.5 222.1,438.8 238.7,444.2 255.7,448.5 273.0,451.8 290.6,454.1 308.2,455.3 325.8,455.5 343.2,454.5 360.4,452.5 377.3,449.5 393.7,445.4 409.6,440.4 424.8,434.5 439.3,427.6 453.0,420.0 465.9,411.6 477.8,402.4 488.8,392.7 498.7,382.4 507.7,371.6 515.5,360.3 522.3,348.7 528.1,336.9 532.7,324.8 536.3,312.5 538.8,300.1 540.2,287.8 540.7,275.4 540.1,263.1 538.6,251.0 536.2,239.0 532.8,227.2 528.6,215.7 523.6,204.5 517.8,193.6 511.3,183.0" fill="#a84242"/><polygon points="499.9,174.4 492.2,164.9 483.9,155.8 475.0,147.1 465.5,138.9 455.6,131.2 445.2,124.0 434.4,117.3 423.2,111.1 411.7,105.5 399.8,100.4 387.7,95.9 375.4,91.9 362.8,88.5 350.1,85.7 337.3,83.5 324.4,81.9 311.4,80.8 298.4,80.4 285.4,80.6 272.5,81.3 259.6,82.7 246.9,84.7 234.3,87.3 221.9,90.4 209.8,94.2 197.9,98.6 186.3,103.6 175.1,109.1 164.3,115.3 154.0,122.0 144.1,129.3 134.7,137.1 125.9,145.5 117.8,154.3 110.3,163.7 103.4,173.5 97.4,183.8 92.1,194.5 87.6,205.6 84.1,217.0 81.4,228.8 79.7,240.8 79.0,253.0 79.3,265.4 80.6,277.9 83.0,290.4 86.5,303.0 91.0,315.4 96.7,327.8 103.5,339.9 111.3,351.7 120.2,363.2 130.1,374.3 141.0,384.8 152.9,394.8 165.7,404.1 179.3,412.8 193.7,420.6 208.7,427.6 224.4,433.8 240.5,439.0 257.1,443.2 274.0,446.5 291.0,448.7 308.2,449.9 325.3,450.0 342.3,449.1 359.1,447.2 375.5,444.2 391.5,440.3 407.0,435.4 421.9,429.7 436.0,423.0 449.4,415.6 462.0,407.4 473.6,398.6 484.4,389.1 494.1,379.0 502.9,368.5 510.6,357.6 517.3,346.3 522.9,334.7 527.5,322.9 531.0,310.9 533.5,298.9 535.0,286.8 535.5,274.7 535.0,262.7 533.6,250.8 531.2,239.1 528.0,227.6 523.9,216.3 519.0,205.3 513.4,194.7 507.0,184.3" fill="#a84040"/><polygon points="495.9,175.9 488.3,166.6 480.2,157.6 471.5,149.1 462.3,141.1 452.6,133.5 442.4,126.5 431.8,119.9 420.9,113.9 409.6,108.3 398.0,103.3 386.1,98.9 374.1,95.0 361.8,91.7 349.3,88.9 336.7,86.8 324.1,85.2 311.4,84.2 298.6,83.7 285.9,83.9 273.2,84.6 260.6,86.0 248.1,87.9 235.8,90.5 223.7,93.6 211.8,97.3 200.2,101.6 188.9,106.5 177.9,112.0 167.4,118.0 157.3,124.6 147.6,131.7 138.5,139.4 129.9,147.6 121.9,156.3 114.6,165.5 108.0,175.1 102.1,185.2 97.0,195.6 92.7,206.5 89.2,217.7 86.7,229.1 85.1,240.9 84.4,252.8 84.7,264.9 86.1,277.1 88.5,289.3 91.9,301.6 96.4,313.7 102.0,325.7 108.6,337.5 116.3,349.1 125.0,360.2 134.7,371.0 145.4,381.2 156.9,390.9 169.4,400.0 182.7,408.4 196.7,416.0 211.4,422.9 226.6,428.8 242.4,433.9 258.5,438.0 274.9,441.2 291.5,443.3 308.2,444.5 324.9,444.6 341.5,443.7 357.8,441.9 373.8,439.0 389.4,435.2 404.5,430.5 419.0,424.9 432.8,418.4 445.8,411.2 458.1,403.3 469.5,394.7 480.0,385.5 489.5,375.7 498.1,365.5 505.7,354.8 512.2,343.8 517.8,332.5 522.3,321.0 525.8,309.4 528.2,297.6 529.7,285.8 530.3,274.0 529.8,262.3 528.5,250.7 526.2,239.2 523.1,228.0 519.2,216.9 514.4,206.2 509.0,195.8 502.8,185.7" fill="#a83e3e"/><polygon points="491.8,177.4 484.4,168.3 476.5,159.5 468.0,151.2 459.0,143.3 449.5,135.9 439.6,129.0 429.3,122.5 418.5,116.6 407.5,111.2 396.2,106.3 384.5,101.9 372.7,98.1 360.7,94.9 348.5,92.2 336.2,90.0 323.8,88.5 311.3,87.5 298.8,87.1 286.4,87.2 274.0,88.0 261.6,89.3 249.4,91.2 237.4,93.7 225.5,96.8 213.9,100.4 202.5,104.7 191.5,109.5 180.8,114.8 170.5,120.8 160.6,127.2 151.1,134.2 142.2,141.7 133.9,149.8 126.1,158.3 119.0,167.3 112.6,176.7 106.8,186.5 101.9,196.8 97.7,207.4 94.4,218.3 92.0,229.5 90.4,241.0 89.8,252.6 90.2,264.4 91.6,276.3 93.9,288.2 97.3,300.2 101.8,312.0 107.2,323.7 113.7,335.2 121.2,346.4 129.7,357.2 139.2,367.7 149.6,377.7 161.0,387.1 173.1,395.9 186.1,404.1 199.7,411.5 214.0,418.1 228.8,423.9 244.2,428.8 259.9,432.8 275.8,435.9 292.0,438.0 308.3,439.1 324.5,439.2 340.6,438.4 356.5,436.6 372.1,433.8 387.3,430.1 401.9,425.6 416.1,420.1 429.5,413.9 442.3,406.9 454.2,399.2 465.4,390.8 475.6,381.9 484.9,372.4 493.3,362.4 500.7,352.1 507.2,341.4 512.6,330.4 517.1,319.2 520.5,307.8 523.0,296.4 524.5,284.8 525.1,273.3 524.7,261.9 523.4,250.6 521.2,239.4 518.2,228.4 514.4,217.6 509.8,207.1 504.5,196.9 498.5,187.0" fill="url(#g10)"/><polygon points="487.7,178.9 480.5,170.0 472.8,161.4 464.5,153.3 455.7,145.5 446.5,138.3 436.8,131.5 426.7,125.2 416.2,119.4 405.4,114.0 394.3,109.2 382.9,105.0 371.4,101.2 359.6,98.0 347.7,95.4 335.6,93.3 323.5,91.8 311.3,90.8 299.1,90.4 286.9,90.6 274.7,91.3 262.6,92.6 250.7,94.5 238.9,97.0 227.3,100.0 215.9,103.6 204.8,107.7 194.0,112.4 183.6,117.7 173.5,123.5 163.9,129.8 154.7,136.7 146.0,144.1 137.9,151.9 130.3,160.3 123.4,169.0 117.1,178.3 111.6,187.9 106.8,197.9 102.8,208.3 99.6,218.9 97.2,229.9 95.8,241.0 95.2,252.4 95.6,263.9 97.0,275.5 99.4,287.1 102.7,298.7 107.1,310.3 112.4,321.6 118.8,332.8 126.2,343.7 134.5,354.3 143.7,364.4 153.9,374.1 164.9,383.3 176.8,391.8 189.4,399.7 202.7,406.9 216.6,413.4 231.0,419.0 246.0,423.7 261.2,427.6 276.8,430.6 292.5,432.6 308.3,433.7 324.1,433.9 339.8,433.1 355.2,431.3 370.4,428.7 385.1,425.1 399.4,420.7 413.2,415.4 426.3,409.4 438.7,402.6 450.4,395.1 461.3,387.0 471.3,378.3 480.4,369.1 488.6,359.4 495.9,349.3 502.2,338.9 507.5,328.2 511.9,317.3 515.3,306.3 517.8,295.1 519.3,283.9 519.9,272.7 519.5,261.5 518.3,250.4 516.3,239.5 513.4,228.7 509.7,218.2 505.2,207.9 500.1,197.9 494.2,188.3" fill="url(#g11)"/><polygon points="485.4,179.8 478.3,170.9 470.7,162.5 462.5,154.4 453.9,146.8 444.7,139.6 435.2,132.9 425.2,126.7 414.9,120.9 404.2,115.7 393.2,110.9 382.0,106.7 370.6,103.0 359.0,99.9 347.2,97.2 335.3,95.2 323.3,93.7 311.2,92.7 299.2,92.3 287.1,92.5 275.1,93.2 263.2,94.5 251.4,96.4 239.8,98.8 228.3,101.8 217.1,105.3 206.2,109.4 195.5,114.1 185.2,119.3 175.3,125.0 165.8,131.3 156.7,138.1 148.1,145.4 140.1,153.1 132.7,161.4 125.9,170.1 119.7,179.2 114.3,188.7 109.6,198.5 105.6,208.8 102.5,219.3 100.2,230.1 98.8,241.1 98.3,252.3 98.7,263.6 100.1,275.1 102.4,286.5 105.8,297.9 110.1,309.3 115.4,320.5 121.7,331.5 128.9,342.2 137.2,352.6 146.3,362.6 156.3,372.1 167.2,381.1 178.9,389.5 191.3,397.3 204.4,404.4 218.1,410.7 232.3,416.2 247.0,420.9 262.0,424.7 277.3,427.6 292.8,429.6 308.3,430.7 323.8,430.9 339.3,430.1 354.5,428.4 369.4,425.8 384.0,422.3 398.0,417.9 411.6,412.7 424.5,406.8 436.7,400.1 448.2,392.8 458.9,384.8 468.8,376.2 477.8,367.2 485.9,357.7 493.1,347.8 499.3,337.5 504.6,327.0 509.0,316.3 512.4,305.4 514.8,294.4 516.3,283.3 516.9,272.3 516.6,261.2 515.5,250.3 513.4,239.6 510.6,228.9 507.0,218.6 502.6,208.4 497.6,198.6 491.8,189.0" fill="url(#g12)"/><polygon points="483.0,180.6 476.1,171.9 468.6,163.6 460.5,155.6 452.0,148.1 443.0,141.0 433.6,134.3 423.7,128.2 413.5,122.5 403.0,117.3 392.2,112.6 381.1,108.4 369.8,104.8 358.3,101.7 346.7,99.1 335.0,97.0 323.1,95.6 311.2,94.6 299.3,94.2 287.4,94.4 275.6,95.1 263.8,96.4 252.2,98.2 240.7,100.6 229.4,103.6 218.3,107.1 207.5,111.2 197.0,115.8 186.8,120.9 177.0,126.6 167.6,132.8 158.7,139.5 150.3,146.7 142.4,154.4 135.1,162.5 128.4,171.1 122.3,180.1 117.0,189.4 112.3,199.2 108.5,209.3 105.4,219.6 103.2,230.3 101.8,241.1 101.3,252.2 101.8,263.4 103.2,274.6 105.5,285.9 108.8,297.1 113.1,308.3 118.3,319.3 124.6,330.1 131.7,340.7 139.8,350.9 148.8,360.7 158.7,370.1 169.4,379.0 180.9,387.2 193.2,394.9 206.0,401.8 219.5,408.0 233.5,413.5 248.0,418.1 262.8,421.8 277.8,424.7 293.0,426.7 308.3,427.7 323.6,427.9 338.8,427.1 353.8,425.4 368.5,422.9 382.8,419.4 396.6,415.2 410.0,410.1 422.7,404.2 434.7,397.7 446.1,390.5 456.6,382.6 466.4,374.2 475.2,365.3 483.2,356.0 490.3,346.2 496.5,336.1 501.7,325.8 506.0,315.2 509.4,304.5 511.8,293.6 513.4,282.8 514.0,271.9 513.7,261.0 512.6,250.3 510.6,239.6 507.9,229.2 504.3,218.9 500.0,208.9 495.0,199.2 489.3,189.7" fill="url(#g13)"/><polygon points="480.7,181.5 473.9,172.9 466.5,164.6 458.6,156.8 450.1,149.3 441.2,142.3 431.9,135.8 422.2,129.7 412.2,124.1 401.8,118.9 391.1,114.3 380.2,110.2 369.1,106.6 357.7,103.5 346.2,100.9 334.6,98.9 322.9,97.4 311.2,96.5 299.4,96.1 287.7,96.3 276.0,97.0 264.4,98.3 252.9,100.1 241.6,102.5 230.4,105.4 219.5,108.9 208.8,112.9 198.5,117.5 188.4,122.6 178.8,128.2 169.5,134.3 160.7,140.9 152.4,148.0 144.7,155.6 137.5,163.6 130.9,172.1 124.9,181.0 119.7,190.2 115.1,199.8 111.3,209.8 108.3,220.0 106.2,230.5 104.8,241.2 104.4,252.1 104.9,263.1 106.2,274.2 108.6,285.3 111.8,296.3 116.1,307.3 121.3,318.2 127.4,328.8 134.5,339.2 142.5,349.3 151.4,358.9 161.1,368.1 171.7,376.8 183.0,384.9 195.0,392.4 207.7,399.3 221.0,405.4 234.8,410.7 249.0,415.2 263.5,418.9 278.3,421.8 293.3,423.7 308.3,424.7 323.4,424.9 338.3,424.1 353.0,422.5 367.5,420.0 381.6,416.6 395.2,412.4 408.3,407.4 420.9,401.7 432.8,395.3 443.9,388.2 454.3,380.5 463.9,372.2 472.7,363.5 480.6,354.3 487.6,344.7 493.7,334.8 498.9,324.6 503.1,314.2 506.5,303.6 508.9,292.9 510.4,282.2 511.0,271.5 510.8,260.8 509.7,250.2 507.8,239.7 505.1,229.4 501.6,219.3 497.4,209.4 492.5,199.8 486.9,190.5" fill="url(#g14)"/><polygon points="478.4,182.4 471.6,173.9 464.4,165.7 456.6,158.0 448.3,150.6 439.5,143.7 430.3,137.2 420.7,131.2 410.8,125.7 400.6,120.6 390.1,116.0 379.3,111.9 368.3,108.4 357.1,105.3 345.8,102.8 334.3,100.8 322.8,99.4 311.2,98.4 299.6,98.1 288.0,98.2 276.4,98.9 265.0,100.2 253.6,102.0 242.4,104.4 231.4,107.3 220.7,110.7 210.1,114.7 199.9,119.2 190.0,124.2 180.5,129.7 171.4,135.8 162.8,142.3 154.6,149.3 146.9,156.8 139.8,164.7 133.4,173.1 127.5,181.9 122.3,191.0 117.9,200.5 114.2,210.3 111.2,220.4 109.1,230.7 107.9,241.3 107.4,252.0 107.9,262.8 109.3,273.7 111.6,284.7 114.9,295.6 119.1,306.4 124.2,317.0 130.3,327.5 137.3,337.7 145.1,347.6 153.9,357.1 163.5,366.1 173.9,374.7 185.0,382.7 196.9,390.0 209.4,396.8 222.4,402.7 236.0,408.0 250.0,412.4 264.3,416.1 278.8,418.8 293.6,420.7 308.4,421.8 323.1,421.9 337.8,421.2 352.3,419.6 366.5,417.1 380.4,413.8 393.8,409.7 406.7,404.8 419.1,399.2 430.8,392.9 441.8,385.9 452.0,378.3 461.5,370.2 470.1,361.6 477.9,352.6 484.8,343.1 490.9,333.4 496.0,323.4 500.2,313.1 503.5,302.7 505.9,292.2 507.4,281.7 508.1,271.1 507.9,260.6 506.8,250.1 505.0,239.8 502.3,229.6 498.9,219.6 494.8,209.9 490.0,200.4 484.5,191.2" fill="url(#g15)"/><polygon points="476.0,183.2 469.4,174.8 462.2,166.8 454.5,159.1 446.4,151.9 437.7,145.1 428.7,138.7 419.3,132.7 409.5,127.2 399.4,122.2 389.0,117.7 378.4,113.7 367.5,110.2 356.5,107.2 345.3,104.7 334.0,102.7 322.6,101.3 311.2,100.4 299.7,100.0 288.3,100.2 276.9,100.9 265.6,102.1 254.4,103.9 243.3,106.2 232.5,109.1 221.9,112.5 211.5,116.4 201.4,120.9 191.7,125.8 182.3,131.3 173.3,137.3 164.8,143.7 156.7,150.7 149.2,158.1 142.2,165.9 135.9,174.1 130.1,182.8 125.0,191.8 120.7,201.1 117.0,210.8 114.2,220.7 112.1,230.9 110.9,241.3 110.5,251.9 111.0,262.5 112.4,273.3 114.7,284.0 117.9,294.8 122.1,305.4 127.1,315.9 133.1,326.2 140.0,336.2 147.8,345.9 156.4,355.3 165.9,364.2 176.1,372.6 187.1,380.4 198.7,387.7 211.0,394.2 223.9,400.1 237.2,405.3 250.9,409.6 265.0,413.2 279.3,415.9 293.8,417.8 308.4,418.8 322.9,419.0 337.4,418.2 351.6,416.7 365.6,414.3 379.2,411.0 392.4,407.0 405.1,402.2 417.3,396.7 428.8,390.5 439.6,383.6 449.7,376.2 459.1,368.2 467.6,359.8 475.3,350.9 482.1,341.6 488.0,332.0 493.1,322.2 497.3,312.1 500.6,301.9 503.0,291.5 504.5,281.1 505.1,270.7 505.0,260.3 503.9,250.0 502.1,239.8 499.5,229.8 496.2,220.0 492.2,210.4 487.4,201.0 482.0,192.0" fill="url(#g16)"/><polygon points="473.7,184.1 467.2,175.8 460.1,167.9 452.5,160.3 444.5,153.2 436.0,146.4 427.1,140.1 417.8,134.3 408.1,128.8 398.2,123.9 387.9,119.4 377.4,115.5 366.7,112.0 355.8,109.0 344.8,106.6 333.6,104.6 322.4,103.2 311.1,102.3 299.8,101.9 288.5,102.1 277.3,102.8 266.1,104.1 255.1,105.8 244.2,108.1 233.5,111.0 223.0,114.3 212.8,118.2 202.9,122.6 193.3,127.5 184.0,132.9 175.2,138.8 166.8,145.2 158.9,152.0 151.5,159.3 144.6,167.0 138.4,175.2 132.7,183.7 127.7,192.6 123.4,201.8 119.9,211.3 117.1,221.1 115.1,231.1 113.9,241.4 113.5,251.8 114.1,262.3 115.4,272.9 117.7,283.4 120.9,294.0 125.0,304.5 130.0,314.8 136.0,324.9 142.8,334.8 150.4,344.3 158.9,353.5 168.2,362.2 178.3,370.5 189.1,378.2 200.6,385.3 212.7,391.7 225.3,397.5 238.4,402.6 251.9,406.9 265.8,410.4 279.8,413.0 294.1,414.9 308.4,415.9 322.7,416.0 336.9,415.3 350.9,413.8 364.6,411.4 378.1,408.2 391.0,404.3 403.5,399.6 415.5,394.2 426.8,388.1 437.5,381.4 447.4,374.1 456.6,366.2 465.0,357.9 472.6,349.2 479.4,340.1 485.2,330.6 490.2,321.0 494.4,311.1 497.6,301.0 500.0,290.8 501.5,280.6 502.2,270.3 502.0,260.1 501.1,250.0 499.3,239.9 496.8,230.1 493.5,220.4 489.5,210.9 484.9,201.7 479.6,192.7" fill="url(#g17)"/><polygon points="471.3,185.0 464.9,176.8 458.0,169.0 450.5,161.6 442.6,154.5 434.2,147.8 425.4,141.6 416.3,135.8 406.8,130.5 396.9,125.6 386.8,121.2 376.5,117.3 365.9,113.8 355.2,110.9 344.3,108.5 333.3,106.5 322.2,105.1 311.1,104.3 300.0,103.9 288.8,104.1 277.7,104.8 266.7,106.0 255.8,107.7 245.1,110.0 234.6,112.8 224.2,116.1 214.2,120.0 204.4,124.3 194.9,129.2 185.8,134.5 177.1,140.3 168.8,146.6 161.1,153.4 153.8,160.6 147.0,168.2 140.9,176.2 135.3,184.6 130.4,193.4 126.2,202.4 122.7,211.8 120.0,221.5 118.1,231.4 116.9,241.5 116.6,251.7 117.1,262.0 118.5,272.4 120.8,282.8 124.0,293.2 128.0,303.5 133.0,313.7 138.8,323.6 145.5,333.3 153.0,342.7 161.4,351.7 170.6,360.3 180.5,368.4 191.2,375.9 202.4,382.9 214.3,389.3 226.7,394.9 239.6,399.9 252.9,404.1 266.5,407.5 280.4,410.2 294.3,412.0 308.4,413.0 322.5,413.1 336.4,412.4 350.2,410.9 363.7,408.6 376.9,405.5 389.7,401.6 402.0,397.0 413.7,391.7 424.9,385.7 435.4,379.1 445.2,371.9 454.2,364.3 462.5,356.1 470.0,347.5 476.6,338.6 482.4,329.3 487.4,319.8 491.4,310.0 494.7,300.1 497.0,290.1 498.6,280.0 499.2,270.0 499.1,259.9 498.2,249.9 496.5,240.0 494.0,230.3 490.8,220.7 486.9,211.4 482.3,202.3 477.1,193.5" fill="url(#g18)"/><polygon points="468.9,185.9 462.6,177.8 455.8,170.1 448.5,162.8 440.7,155.8 432.4,149.2 423.8,143.1 414.8,137.4 405.4,132.1 395.7,127.3 385.8,122.9 375.6,119.1 365.1,115.7 354.6,112.8 343.8,110.4 333.0,108.5 322.0,107.1 311.1,106.2 300.1,105.9 289.1,106.1 278.2,106.7 267.3,108.0 256.6,109.7 246.0,111.9 235.6,114.7 225.4,118.0 215.5,121.8 205.9,126.1 196.5,130.8 187.6,136.1 179.0,141.9 170.9,148.1 163.2,154.7 156.1,161.8 149.4,169.3 143.4,177.2 137.9,185.5 133.1,194.2 129.0,203.1 125.6,212.4 122.9,221.9 121.0,231.6 119.9,241.5 119.6,251.6 120.2,261.8 121.6,272.0 123.8,282.3 127.0,292.5 131.0,302.6 135.9,312.6 141.6,322.3 148.2,331.9 155.7,341.1 163.9,349.9 172.9,358.3 182.7,366.3 193.2,373.7 204.3,380.6 216.0,386.8 228.2,392.4 240.8,397.2 253.9,401.4 267.3,404.7 280.9,407.3 294.6,409.1 308.4,410.1 322.2,410.2 335.9,409.6 349.5,408.1 362.8,405.8 375.7,402.7 388.3,398.9 400.4,394.4 411.9,389.2 422.9,383.3 433.2,376.9 442.9,369.8 451.8,362.3 460.0,354.3 467.3,345.9 473.9,337.1 479.6,328.0 484.5,318.6 488.5,309.0 491.7,299.3 494.1,289.4 495.6,279.5 496.3,269.6 496.2,259.7 495.3,249.9 493.6,240.1 491.2,230.5 488.1,221.1 484.3,211.9 479.8,203.0 474.7,194.3" fill="url(#g19)"/><polygon points="466.6,186.8 460.4,178.9 453.7,171.3 446.5,164.0 438.8,157.1 430.7,150.7 422.1,144.6 413.2,138.9 404.0,133.7 394.5,129.0 384.7,124.7 374.6,120.9 364.4,117.5 353.9,114.7 343.3,112.3 332.6,110.4 321.9,109.1 311.0,108.2 300.2,107.9 289.4,108.1 278.6,108.7 267.9,109.9 257.3,111.6 246.9,113.9 236.7,116.6 226.6,119.8 216.8,123.6 207.4,127.8 198.2,132.5 189.4,137.7 180.9,143.4 172.9,149.5 165.4,156.1 158.3,163.1 151.8,170.5 145.9,178.3 140.5,186.5 135.8,195.0 131.8,203.8 128.5,212.9 125.9,222.3 124.0,231.9 122.9,241.6 122.7,251.5 123.2,261.5 124.6,271.6 126.9,281.7 130.0,291.7 133.9,301.7 138.8,311.5 144.4,321.1 151.0,330.4 158.3,339.5 166.4,348.2 175.3,356.4 184.9,364.2 195.2,371.5 206.1,378.2 217.6,384.4 229.6,389.8 242.0,394.6 254.9,398.7 268.0,402.0 281.3,404.5 294.9,406.2 308.4,407.2 322.0,407.3 335.5,406.7 348.8,405.2 361.8,403.0 374.6,400.0 386.9,396.3 398.8,391.9 410.2,386.8 420.9,381.0 431.1,374.7 440.6,367.8 449.4,360.4 457.4,352.5 464.7,344.2 471.1,335.6 476.8,326.6 481.6,317.4 485.6,308.0 488.8,298.4 491.1,288.8 492.6,279.0 493.3,269.2 493.3,259.5 492.4,249.8 490.8,240.2 488.4,230.8 485.4,221.5 481.6,212.5 477.2,203.6 472.2,195.1" fill="url(#g20)"/><polygon points="464.2,187.8 458.1,179.9 451.5,172.4 444.4,165.3 436.9,158.5 428.9,152.1 420.5,146.1 411.7,140.5 402.6,135.4 393.2,130.7 383.6,126.5 373.7,122.7 363.6,119.4 353.3,116.6 342.8,114.3 332.3,112.4 321.7,111.1 311.0,110.2 300.3,109.9 289.7,110.1 279.0,110.7 268.5,111.9 258.1,113.6 247.8,115.8 237.7,118.5 227.8,121.7 218.2,125.4 208.8,129.6 199.8,134.2 191.1,139.4 182.8,145.0 175.0,151.0 167.6,157.5 160.6,164.4 154.2,171.7 148.4,179.4 143.2,187.4 138.5,195.8 134.6,204.5 131.3,213.5 128.8,222.7 127.0,232.1 125.9,241.7 125.7,251.5 126.3,261.3 127.7,271.2 129.9,281.1 133.0,291.0 136.9,300.8 141.7,310.4 147.3,319.8 153.7,329.0 160.9,337.9 168.9,346.4 177.6,354.5 187.1,362.2 197.2,369.3 207.9,375.9 219.2,381.9 231.0,387.3 243.2,392.0 255.8,396.0 268.7,399.2 281.8,401.7 295.1,403.4 308.4,404.4 321.8,404.5 335.0,403.9 348.0,402.5 360.9,400.3 373.4,397.3 385.5,393.7 397.2,389.3 408.4,384.3 419.0,378.7 429.0,372.5 438.3,365.7 447.0,358.4 454.9,350.7 462.0,342.6 468.4,334.1 474.0,325.3 478.7,316.3 482.7,307.0 485.8,297.6 488.2,288.1 489.7,278.5 490.4,268.9 490.3,259.3 489.5,249.8 487.9,240.4 485.6,231.1 482.6,221.9 479.0,213.0 474.6,204.3 469.7,195.9" fill="url(#g21)"/><polygon points="462.1,188.6 456.2,180.8 449.7,173.4 442.8,166.3 435.3,159.6 427.5,153.2 419.2,147.3 410.6,141.7 401.7,136.6 392.4,131.9 382.8,127.7 373.1,123.9 363.0,120.7 352.9,117.8 342.5,115.5 332.1,113.7 321.6,112.3 311.0,111.5 300.4,111.2 289.8,111.3 279.3,112.0 268.9,113.2 258.5,114.9 248.4,117.1 238.4,119.8 228.6,123.0 219.1,126.7 209.9,130.9 201.0,135.6 192.5,140.7 184.3,146.2 176.6,152.3 169.3,158.7 162.5,165.5 156.3,172.8 150.6,180.4 145.5,188.3 141.0,196.6 137.1,205.2 134.0,214.0 131.5,223.1 129.7,232.4 128.7,241.9 128.5,251.5 129.1,261.2 130.5,270.9 132.7,280.7 135.8,290.4 139.6,300.0 144.3,309.4 149.9,318.7 156.2,327.7 163.3,336.5 171.2,344.8 179.8,352.8 189.1,360.4 199.0,367.4 209.6,373.9 220.7,379.8 232.3,385.0 244.3,389.6 256.7,393.5 269.4,396.7 282.3,399.2 295.3,400.8 308.4,401.8 321.5,401.9 334.5,401.3 347.4,399.9 360.0,397.8 372.3,394.9 384.2,391.3 395.7,387.0 406.7,382.1 417.2,376.6 427.0,370.5 436.2,363.8 444.7,356.7 452.5,349.1 459.6,341.1 465.9,332.8 471.4,324.1 476.1,315.3 480.0,306.2 483.1,296.9 485.4,287.5 486.9,278.1 487.6,268.6 487.6,259.2 486.8,249.8 485.3,240.5 483.0,231.4 480.1,222.4 476.5,213.6 472.3,205.0 467.5,196.7" fill="url(#g22)"/><rect x="60" y="60" width="520" height="420" fill="url(#tilt)"/><polygon points="460.5,189.3 454.7,181.6 448.4,174.2 441.6,167.1 434.4,160.4 426.7,154.0 418.6,148.0 410.1,142.4 401.3,137.2 392.1,132.5 382.6,128.2 372.9,124.3 363.0,121.0 352.8,118.1 342.5,115.7 332.1,113.9 321.5,112.5 311.0,111.7 300.4,111.3 289.8,111.5 279.3,112.2 268.9,113.5 258.6,115.2 248.4,117.5 238.5,120.3 228.8,123.6 219.4,127.3 210.3,131.6 201.6,136.3 193.2,141.5 185.2,147.1 177.6,153.2 170.6,159.6 164.0,166.5 157.9,173.7 152.4,181.3 147.4,189.2 143.1,197.4 139.4,205.8 136.3,214.6 133.9,223.6 132.2,232.7 131.3,242.1 131.1,251.5 131.7,261.1 133.1,270.7 135.3,280.3 138.3,289.8 142.1,299.3 146.8,308.6 152.2,317.8 158.5,326.7 165.5,335.2 173.3,343.5 181.7,351.3 190.9,358.7 200.7,365.7 211.1,372.0 222.1,377.8 233.5,383.0 245.3,387.5 257.5,391.4 270.0,394.5 282.7,396.9 295.5,398.6 308.4,399.5 321.3,399.6 334.1,399.0 346.8,397.7 359.2,395.6 371.3,392.7 383.1,389.2 394.4,385.0 405.2,380.2 415.5,374.7 425.2,368.7 434.3,362.2 442.7,355.2 450.4,347.7 457.3,339.8 463.5,331.6 469.0,323.1 473.6,314.4 477.5,305.4 480.6,296.3 482.9,287.1 484.4,277.8 485.1,268.4 485.1,259.1 484.3,249.9 482.8,240.7 480.7,231.7 477.9,222.8 474.4,214.1 470.3,205.6 465.7,197.3" fill="url(#g23)"/><polygon points="459.0,190.1 453.4,182.4 447.2,175.0 440.6,167.9 433.5,161.2 426.0,154.8 418.0,148.7 409.6,143.1 400.9,137.9 391.8,133.1 382.4,128.7 372.7,124.8 362.8,121.4 352.7,118.5 342.4,116.1 332.0,114.2 321.5,112.8 310.9,111.9 300.3,111.6 289.8,111.8 279.3,112.6 268.9,113.8 258.6,115.6 248.5,118.0 238.7,120.8 229.1,124.2 219.7,128.0 210.7,132.3 202.1,137.1 193.8,142.3 186.0,148.0 178.6,154.1 171.7,160.5 165.2,167.4 159.3,174.6 154.0,182.1 149.2,190.0 145.0,198.1 141.4,206.5 138.4,215.2 136.1,224.1 134.5,233.1 133.5,242.3 133.3,251.7 133.9,261.1 135.3,270.6 137.5,280.1 140.5,289.5 144.3,298.8 148.9,308.0 154.3,317.0 160.5,325.8 167.4,334.2 175.1,342.4 183.5,350.1 192.5,357.4 202.2,364.2 212.5,370.5 223.2,376.2 234.5,381.3 246.2,385.8 258.2,389.6 270.5,392.6 283.0,395.0 295.7,396.7 308.4,397.5 321.1,397.7 333.7,397.1 346.2,395.8 358.5,393.7 370.4,390.9 382.0,387.5 393.2,383.3 403.9,378.6 414.0,373.2 423.6,367.3 432.6,360.8 440.8,353.9 448.4,346.6 455.3,338.8 461.5,330.7 466.8,322.3 471.5,313.7 475.3,304.9 478.3,295.9 480.6,286.8 482.1,277.6 482.9,268.4 482.9,259.2 482.1,250.0 480.7,241.0 478.6,232.1 475.8,223.3 472.5,214.7 468.6,206.2 464.0,198.1" fill="url(#g24)"/><polygon points="457.6,190.9 452.1,183.3 446.1,175.9 439.6,168.8 432.7,162.0 425.2,155.6 417.4,149.5 409.1,143.9 400.5,138.6 391.5,133.7 382.2,129.4 372.6,125.4 362.7,122.0 352.6,119.0 342.4,116.6 331.9,114.6 321.4,113.2 310.9,112.4 300.3,112.0 289.7,112.3 279.3,113.0 268.9,114.3 258.6,116.2 248.6,118.6 238.8,121.5 229.2,124.8 220.0,128.7 211.1,133.1 202.6,137.9 194.4,143.2 186.7,148.9 179.4,155.0 172.7,161.5 166.4,168.4 160.6,175.5 155.4,183.1 150.7,190.9 146.6,198.9 143.1,207.3 140.3,215.8 138.0,224.6 136.4,233.6 135.5,242.7 135.4,251.9 136.0,261.3 137.3,270.6 139.5,280.0 142.5,289.3 146.3,298.5 150.8,307.6 156.1,316.5 162.3,325.1 169.1,333.5 176.7,341.5 185.0,349.2 193.9,356.4 203.5,363.1 213.6,369.3 224.3,374.9 235.4,380.0 246.9,384.4 258.8,388.1 271.0,391.1 283.3,393.5 295.8,395.1 308.4,396.0 320.9,396.1 333.4,395.5 345.7,394.2 357.8,392.2 369.6,389.4 381.0,386.0 392.1,382.0 402.6,377.3 412.7,372.0 422.1,366.1 431.0,359.8 439.2,352.9 446.7,345.7 453.5,338.0 459.6,330.0 464.9,321.8 469.5,313.2 473.3,304.5 476.3,295.6 478.6,286.6 480.1,277.5 480.8,268.4 480.8,259.4 480.1,250.3 478.7,241.4 476.7,232.5 474.0,223.8 470.8,215.3 466.9,207.0 462.5,198.8" fill="url(#g25)"/><polygon points="456.3,191.8 450.9,184.2 445.1,176.8 438.7,169.8 431.9,163.0 424.6,156.6 416.8,150.5 408.6,144.8 400.1,139.5 391.2,134.6 381.9,130.1 372.4,126.2 362.5,122.7 352.5,119.7 342.2,117.2 331.9,115.2 321.4,113.8 310.8,113.0 300.2,112.7 289.7,112.9 279.2,113.7 268.9,115.0 258.7,116.9 248.7,119.3 238.9,122.2 229.4,125.7 220.3,129.6 211.4,134.0 203.0,138.9 195.0,144.2 187.4,150.0 180.2,156.1 173.6,162.6 167.4,169.4 161.8,176.6 156.7,184.1 152.1,191.8 148.1,199.9 144.7,208.1 141.9,216.6 139.7,225.3 138.2,234.2 137.3,243.2 137.2,252.4 137.8,261.6 139.2,270.8 141.3,280.1 144.3,289.3 148.0,298.4 152.5,307.4 157.8,316.2 163.9,324.8 170.6,333.0 178.1,341.0 186.3,348.5 195.2,355.6 204.6,362.3 214.7,368.4 225.2,373.9 236.2,378.9 247.6,383.3 259.3,387.0 271.3,390.0 283.5,392.3 295.9,393.9 308.3,394.7 320.7,394.9 333.0,394.3 345.2,393.0 357.1,391.0 368.8,388.3 380.1,384.9 391.0,380.9 401.5,376.3 411.4,371.0 420.8,365.3 429.5,359.0 437.6,352.2 445.1,345.1 451.8,337.5 457.9,329.6 463.1,321.4 467.7,313.0 471.4,304.4 474.4,295.6 476.7,286.7 478.2,277.7 478.9,268.7 479.0,259.7 478.3,250.7 476.9,241.9 474.9,233.1 472.3,224.5 469.1,216.1 465.4,207.8 461.1,199.7" fill="url(#g26)"/><polygon points="455.0,192.8 449.8,185.3 444.0,177.9 437.7,170.9 431.0,164.1 423.8,157.7 416.1,151.6 408.0,145.9 399.6,140.5 390.7,135.7 381.5,131.2 372.0,127.2 362.2,123.7 352.2,120.7 342.1,118.2 331.7,116.2 321.3,114.8 310.7,114.0 300.2,113.6 289.7,113.9 279.3,114.7 268.9,116.0 258.8,117.9 248.8,120.4 239.1,123.3 229.7,126.8 220.6,130.8 211.9,135.2 203.5,140.1 195.6,145.4 188.1,151.1 181.0,157.3 174.5,163.7 168.4,170.6 162.9,177.7 157.9,185.2 153.4,192.9 149.5,200.9 146.2,209.1 143.4,217.5 141.3,226.1 139.8,234.9 138.9,243.8 138.8,252.9 139.4,262.0 140.8,271.2 142.9,280.4 145.8,289.5 149.6,298.5 154.0,307.4 159.3,316.1 165.3,324.6 172.0,332.8 179.4,340.6 187.5,348.1 196.3,355.1 205.7,361.7 215.6,367.7 226.0,373.2 236.9,378.2 248.2,382.5 259.8,386.1 271.7,389.1 283.7,391.4 295.9,392.9 308.2,393.8 320.5,394.0 332.7,393.4 344.7,392.1 356.5,390.1 368.1,387.4 379.3,384.1 390.1,380.1 400.4,375.5 410.2,370.4 419.5,364.7 428.2,358.5 436.2,351.8 443.6,344.7 450.3,337.2 456.3,329.4 461.5,321.3 466.0,312.9 469.7,304.4 472.7,295.7 475.0,286.9 476.5,278.0 477.2,269.1 477.2,260.2 476.6,251.3 475.2,242.5 473.3,233.8 470.7,225.3 467.6,216.9 464.0,208.7 459.8,200.7" fill="url(#g27)"/><polygon points="453.7,193.9 448.5,186.4 442.8,179.1 436.6,172.1 429.9,165.4 422.7,159.0 415.1,153.0 407.1,147.3 398.7,142.0 390.0,137.2 380.8,132.8 371.4,128.8 361.7,125.3 351.8,122.3 341.7,119.8 331.4,117.9 321.1,116.5 310.6,115.6 300.2,115.3 289.8,115.6 279.4,116.4 269.2,117.7 259.1,119.6 249.2,122.0 239.6,125.0 230.3,128.4 221.3,132.3 212.6,136.7 204.3,141.6 196.4,146.9 189.0,152.6 182.0,158.7 175.5,165.1 169.5,171.9 164.0,179.0 159.1,186.4 154.7,194.0 150.8,201.9 147.5,210.1 144.8,218.4 142.7,227.0 141.2,235.7 140.4,244.6 140.2,253.5 140.9,262.6 142.2,271.7 144.4,280.8 147.3,289.8 151.0,298.8 155.4,307.6 160.6,316.2 166.6,324.6 173.2,332.7 180.6,340.4 188.6,347.8 197.3,354.8 206.6,361.3 216.4,367.3 226.7,372.7 237.5,377.6 248.7,381.9 260.2,385.5 271.9,388.4 283.9,390.7 296.0,392.2 308.1,393.1 320.3,393.2 332.3,392.7 344.3,391.4 356.0,389.4 367.4,386.8 378.5,383.5 389.2,379.6 399.4,375.0 409.2,369.9 418.3,364.3 426.9,358.1 434.9,351.5 442.2,344.5 448.9,337.1 454.8,329.3 460.0,321.3 464.4,313.0 468.2,304.6 471.1,295.9 473.4,287.2 474.9,278.4 475.6,269.5 475.7,260.7 475.0,251.9 473.7,243.2 471.7,234.6 469.2,226.1 466.2,217.8 462.6,209.7 458.4,201.7" fill="url(#g28)"/><polygon points="452.4,195.0 447.3,187.6 441.6,180.3 435.5,173.4 428.8,166.7 421.7,160.4 414.2,154.4 406.3,148.8 397.9,143.5 389.2,138.7 380.2,134.3 370.9,130.4 361.2,126.9 351.4,123.9 341.4,121.5 331.2,119.5 320.9,118.2 310.5,117.3 300.2,117.0 289.8,117.2 279.6,118.0 269.4,119.4 259.4,121.2 249.6,123.6 240.1,126.6 230.8,130.0 221.9,133.9 213.3,138.3 205.1,143.1 197.2,148.4 189.9,154.0 183.0,160.0 176.5,166.4 170.6,173.2 165.1,180.2 160.2,187.6 155.9,195.2 152.0,203.0 148.8,211.1 146.1,219.4 144.0,227.9 142.5,236.5 141.7,245.3 141.6,254.2 142.2,263.2 143.6,272.2 145.7,281.2 148.6,290.2 152.3,299.1 156.7,307.8 161.9,316.3 167.8,324.6 174.4,332.7 181.7,340.3 189.6,347.7 198.2,354.6 207.4,361.0 217.2,366.9 227.4,372.3 238.1,377.2 249.1,381.4 260.5,385.0 272.2,387.9 284.0,390.1 296.0,391.7 308.0,392.5 320.1,392.7 332.0,392.1 343.8,390.8 355.4,388.9 366.7,386.3 377.7,383.0 388.3,379.1 398.5,374.6 408.1,369.6 417.2,364.0 425.8,357.9 433.7,351.3 440.9,344.4 447.5,337.0 453.4,329.3 458.5,321.4 463.0,313.2 466.7,304.8 469.6,296.2 471.8,287.6 473.3,278.8 474.1,270.1 474.1,261.3 473.5,252.6 472.2,243.9 470.3,235.4 467.8,227.0 464.8,218.8 461.2,210.7 457.1,202.7" fill="url(#g29)"/><polygon points="451.2,196.1 446.1,188.6 440.5,181.5 434.4,174.6 427.8,167.9 420.8,161.6 413.3,155.7 405.5,150.1 397.2,144.9 388.5,140.1 379.6,135.7 370.3,131.8 360.8,128.4 351.0,125.4 341.0,123.0 330.9,121.1 320.7,119.7 310.4,118.9 300.2,118.6 289.9,118.8 279.7,119.6 269.6,120.9 259.7,122.8 250.0,125.2 240.5,128.1 231.3,131.5 222.5,135.4 213.9,139.7 205.8,144.5 198.0,149.7 190.7,155.3 183.9,161.3 177.5,167.7 171.6,174.4 166.2,181.4 161.3,188.7 157.0,196.2 153.2,204.0 150.0,212.0 147.4,220.3 145.3,228.7 143.9,237.3 143.0,246.0 142.9,254.8 143.6,263.7 144.9,272.7 147.1,281.6 149.9,290.5 153.6,299.3 157.9,307.9 163.1,316.4 168.9,324.6 175.5,332.6 182.7,340.2 190.6,347.5 199.1,354.3 208.3,360.7 217.9,366.6 228.0,371.9 238.6,376.7 249.6,380.9 260.9,384.4 272.4,387.3 284.1,389.5 296.0,391.0 307.9,391.9 319.9,392.0 331.7,391.5 343.4,390.2 354.9,388.3 366.1,385.7 377.0,382.5 387.5,378.6 397.6,374.2 407.1,369.1 416.2,363.6 424.6,357.6 432.5,351.1 439.7,344.2 446.2,336.9 452.0,329.3 457.1,321.4 461.5,313.3 465.2,305.0 468.2,296.5 470.4,287.9 471.9,279.2 472.6,270.5 472.7,261.8 472.0,253.2 470.8,244.6 468.9,236.1 466.4,227.8 463.4,219.6 459.9,211.6 455.8,203.7" fill="url(#g30)"/><polygon points="450.1,197.0 445.0,189.6 439.4,182.5 433.4,175.6 426.9,169.0 419.9,162.8 412.5,156.9 404.7,151.3 396.5,146.1 387.9,141.4 379.0,137.0 369.8,133.1 360.3,129.7 350.6,126.8 340.7,124.4 330.7,122.5 320.6,121.1 310.4,120.3 300.2,120.0 290.0,120.2 279.9,121.0 269.9,122.3 260.0,124.2 250.4,126.6 241.0,129.4 231.9,132.8 223.0,136.7 214.6,141.0 206.5,145.8 198.8,151.0 191.6,156.5 184.8,162.5 178.4,168.8 172.6,175.4 167.3,182.4 162.5,189.6 158.2,197.1 154.4,204.9 151.2,212.8 148.6,221.0 146.6,229.3 145.2,237.9 144.3,246.5 144.3,255.3 144.9,264.1 146.3,273.0 148.4,281.8 151.2,290.6 154.8,299.4 159.2,307.9 164.3,316.3 170.1,324.5 176.6,332.4 183.8,339.9 191.6,347.1 200.1,353.9 209.1,360.2 218.6,366.0 228.7,371.3 239.2,376.1 250.0,380.2 261.2,383.7 272.7,386.6 284.3,388.8 296.1,390.3 307.9,391.1 319.7,391.3 331.4,390.7 343.0,389.5 354.4,387.6 365.5,385.0 376.3,381.8 386.7,378.0 396.7,373.6 406.2,368.6 415.1,363.1 423.5,357.1 431.3,350.7 438.4,343.9 444.9,336.7 450.7,329.1 455.8,321.3 460.2,313.3 463.8,305.0 466.7,296.6 469.0,288.1 470.4,279.5 471.2,270.8 471.3,262.2 470.6,253.6 469.4,245.1 467.5,236.7 465.1,228.5 462.2,220.3 458.6,212.3 454.6,204.5" fill="url(#g31)"/><polygon points="448.9,197.7 443.9,190.4 438.4,183.3 432.4,176.5 425.9,170.0 419.0,163.8 411.7,157.9 403.9,152.4 395.8,147.3 387.3,142.5 378.4,138.2 369.3,134.4 359.9,131.0 350.3,128.1 340.5,125.7 330.5,123.8 320.4,122.4 310.3,121.6 300.2,121.3 290.1,121.5 280.0,122.3 270.1,123.6 260.3,125.5 250.8,127.8 241.4,130.7 232.4,134.1 223.6,137.9 215.2,142.2 207.2,146.9 199.6,152.1 192.4,157.6 185.7,163.5 179.4,169.8 173.6,176.4 168.3,183.3 163.6,190.5 159.3,197.9 155.6,205.6 152.5,213.5 149.9,221.6 147.9,229.9 146.4,238.3 145.6,246.9 145.6,255.6 146.2,264.4 147.6,273.2 149.7,282.0 152.5,290.7 156.1,299.4 160.4,307.9 165.5,316.2 171.2,324.3 177.7,332.1 184.8,339.6 192.6,346.7 201.0,353.4 209.9,359.7 219.4,365.4 229.4,370.7 239.7,375.4 250.5,379.5 261.6,382.9 272.9,385.8 284.5,388.0 296.1,389.5 307.8,390.3 319.5,390.4 331.2,389.9 342.7,388.7 353.9,386.8 365.0,384.2 375.7,381.1 386.0,377.3 395.9,372.9 405.3,368.0 414.2,362.6 422.5,356.6 430.2,350.3 437.3,343.5 443.7,336.3 449.4,328.9 454.5,321.1 458.8,313.1 462.5,304.9 465.4,296.6 467.6,288.1 469.1,279.6 469.8,271.1 469.9,262.5 469.3,254.0 468.0,245.6 466.2,237.2 463.8,229.0 460.9,220.9 457.4,213.0 453.4,205.3" fill="url(#g32)"/><polygon points="447.8,198.4 442.8,191.2 437.4,184.1 431.4,177.4 425.0,170.9 418.1,164.7 410.9,158.9 403.2,153.4 395.1,148.3 386.6,143.6 377.9,139.3 368.8,135.5 359.5,132.1 349.9,129.2 340.2,126.9 330.3,125.0 320.3,123.6 310.3,122.8 300.2,122.5 290.2,122.7 280.2,123.5 270.3,124.8 260.6,126.7 251.1,129.0 241.9,131.9 232.9,135.2 224.2,139.0 215.9,143.3 207.9,148.0 200.4,153.1 193.2,158.6 186.6,164.5 180.3,170.7 174.6,177.3 169.4,184.1 164.6,191.2 160.4,198.6 156.8,206.3 153.6,214.1 151.1,222.2 149.1,230.4 147.7,238.8 146.9,247.3 146.8,255.9 147.5,264.6 148.8,273.3 150.9,282.0 153.8,290.7 157.3,299.3 161.6,307.7 166.6,316.0 172.3,324.0 178.7,331.7 185.8,339.1 193.5,346.2 201.8,352.9 210.7,359.1 220.1,364.8 230.0,370.0 240.3,374.6 251.0,378.7 262.0,382.1 273.2,384.9 284.6,387.1 296.2,388.6 307.8,389.4 319.4,389.6 330.9,389.0 342.3,387.8 353.5,385.9 364.4,383.4 375.0,380.3 385.3,376.5 395.1,372.2 404.4,367.3 413.2,361.9 421.5,356.1 429.1,349.8 436.1,343.0 442.5,335.9 448.2,328.5 453.2,320.9 457.6,312.9 461.2,304.8 464.1,296.6 466.2,288.2 467.7,279.7 468.5,271.2 468.6,262.7 468.0,254.3 466.7,245.9 464.9,237.6 462.6,229.5 459.7,221.5 456.2,213.6 452.3,205.9" fill="url(#g33)"/><polygon points="446.8,199.1 441.8,191.9 436.4,184.9 430.5,178.2 424.1,171.7 417.3,165.6 410.1,159.8 402.5,154.4 394.4,149.3 386.1,144.6 377.3,140.4 368.3,136.6 359.1,133.2 349.6,130.3 339.9,128.0 330.1,126.1 320.2,124.8 310.2,123.9 300.2,123.7 290.2,123.9 280.3,124.7 270.6,126.0 260.9,127.8 251.5,130.1 242.3,133.0 233.4,136.3 224.8,140.1 216.5,144.3 208.6,149.0 201.1,154.1 194.0,159.6 187.4,165.4 181.2,171.6 175.5,178.1 170.4,184.9 165.7,192.0 161.5,199.3 157.9,206.9 154.8,214.7 152.2,222.7 150.3,230.8 148.9,239.1 148.1,247.6 148.1,256.2 148.7,264.8 150.1,273.4 152.1,282.1 155.0,290.7 158.5,299.2 162.8,307.6 167.7,315.7 173.4,323.7 179.8,331.4 186.8,338.7 194.4,345.7 202.7,352.3 211.5,358.5 220.8,364.1 230.6,369.3 240.8,373.9 251.4,377.9 262.3,381.3 273.5,384.1 284.8,386.3 296.2,387.7 307.7,388.6 319.2,388.7 330.7,388.2 342.0,387.0 353.1,385.1 363.9,382.6 374.4,379.5 384.6,375.8 394.3,371.5 403.6,366.7 412.3,361.3 420.5,355.5 428.1,349.2 435.1,342.6 441.4,335.6 447.1,328.2 452.0,320.6 456.3,312.7 459.9,304.7 462.8,296.5 465.0,288.2 466.4,279.8 467.2,271.4 467.3,262.9 466.7,254.5 465.5,246.2 463.7,238.0 461.4,229.9 458.5,222.0 455.1,214.2 451.2,206.5" fill="url(#g34)"/><polygon points="445.8,199.7 440.9,192.5 435.5,185.6 429.6,178.9 423.3,172.5 416.6,166.4 409.4,160.7 401.8,155.3 393.8,150.2 385.5,145.6 376.9,141.4 367.9,137.6 358.7,134.2 349.3,131.4 339.7,129.0 329.9,127.2 320.1,125.9 310.2,125.0 300.2,124.8 290.3,125.0 280.5,125.8 270.8,127.1 261.2,128.9 251.9,131.2 242.7,134.0 233.9,137.3 225.3,141.1 217.1,145.3 209.3,150.0 201.8,155.0 194.8,160.4 188.2,166.3 182.1,172.4 176.4,178.9 171.3,185.6 166.6,192.7 162.5,199.9 158.9,207.5 155.8,215.2 153.3,223.1 151.4,231.3 150.0,239.5 149.3,247.9 149.2,256.4 149.9,265.0 151.2,273.6 153.3,282.1 156.1,290.7 159.6,299.1 163.8,307.4 168.8,315.5 174.4,323.4 180.7,331.0 187.7,338.3 195.3,345.3 203.5,351.8 212.2,357.9 221.5,363.5 231.2,368.7 241.3,373.2 251.8,377.2 262.6,380.6 273.7,383.4 284.9,385.5 296.3,386.9 307.7,387.8 319.1,387.9 330.5,387.4 341.7,386.2 352.7,384.3 363.4,381.9 373.9,378.8 383.9,375.1 393.6,370.8 402.8,366.1 411.4,360.8 419.6,355.0 427.1,348.8 434.0,342.2 440.3,335.2 446.0,327.9 450.9,320.4 455.2,312.6 458.7,304.6 461.6,296.4 463.8,288.2 465.2,279.8 466.0,271.5 466.1,263.1 465.5,254.8 464.3,246.5 462.6,238.4 460.3,230.3 457.4,222.4 454.0,214.7 450.2,207.1" fill="url(#g35)"/><polygon points="444.8,200.3 440.0,193.2 434.6,186.3 428.8,179.7 422.5,173.3 415.8,167.2 408.7,161.5 401.2,156.1 393.2,151.1 385.0,146.5 376.4,142.3 367.5,138.5 358.4,135.2 349.0,132.4 339.5,130.1 329.8,128.2 320.0,126.9 310.1,126.1 300.3,125.8 290.4,126.0 280.6,126.8 271.0,128.1 261.5,129.9 252.2,132.2 243.1,135.0 234.3,138.3 225.8,142.1 217.7,146.3 209.9,150.9 202.5,155.9 195.5,161.3 189.0,167.1 182.9,173.2 177.3,179.6 172.2,186.3 167.6,193.3 163.5,200.6 159.9,208.0 156.9,215.7 154.4,223.6 152.4,231.7 151.1,239.9 150.4,248.2 150.3,256.7 151.0,265.2 152.3,273.7 154.4,282.2 157.2,290.7 160.7,299.1 164.9,307.3 169.8,315.3 175.4,323.2 181.7,330.7 188.6,338.0 196.1,344.9 204.2,351.4 212.9,357.4 222.1,363.0 231.7,368.1 241.8,372.6 252.2,376.6 263.0,379.9 273.9,382.7 285.1,384.8 296.3,386.2 307.7,387.0 319.0,387.2 330.2,386.6 341.4,385.5 352.3,383.6 363.0,381.2 373.3,378.1 383.3,374.5 392.9,370.3 402.0,365.5 410.6,360.2 418.7,354.5 426.2,348.4 433.1,341.8 439.3,334.9 444.9,327.7 449.8,320.2 454.1,312.4 457.6,304.5 460.5,296.4 462.6,288.2 464.1,279.9 464.9,271.6 465.0,263.3 464.4,255.0 463.2,246.8 461.5,238.7 459.2,230.7 456.4,222.9 453.0,215.2 449.2,207.7" fill="url(#g36)"/><polygon points="443.9,200.9 439.1,193.8 433.8,187.0 428.0,180.4 421.8,174.0 415.1,168.0 408.1,162.3 400.6,157.0 392.7,152.0 384.5,147.4 376.0,143.2 367.1,139.5 358.0,136.2 348.7,133.4 339.2,131.0 329.6,129.2 319.9,127.9 310.1,127.1 300.3,126.8 290.5,127.0 280.8,127.8 271.2,129.1 261.7,130.9 252.5,133.2 243.5,136.0 234.7,139.3 226.3,143.0 218.2,147.2 210.4,151.7 203.1,156.7 196.2,162.1 189.7,167.9 183.6,173.9 178.1,180.3 173.0,187.0 168.4,194.0 164.3,201.2 160.8,208.6 157.8,216.3 155.3,224.1 153.4,232.1 152.1,240.2 151.4,248.5 151.3,256.9 152.0,265.4 153.3,273.8 155.4,282.3 158.1,290.7 161.6,299.0 165.8,307.2 170.7,315.2 176.3,323.0 182.5,330.5 189.4,337.7 196.9,344.5 204.9,351.0 213.5,357.0 222.7,362.5 232.2,367.6 242.2,372.1 252.6,376.0 263.2,379.3 274.1,382.0 285.2,384.1 296.4,385.6 307.6,386.4 318.9,386.5 330.1,386.0 341.1,384.8 351.9,383.0 362.5,380.6 372.8,377.6 382.8,373.9 392.3,369.7 401.3,365.0 409.9,359.8 417.9,354.1 425.3,348.0 432.2,341.5 438.4,334.6 444.0,327.4 448.9,320.0 453.1,312.3 456.6,304.4 459.4,296.4 461.6,288.3 463.1,280.0 463.8,271.8 463.9,263.5 463.4,255.3 462.2,247.2 460.5,239.1 458.2,231.2 455.4,223.4 452.1,215.7 448.3,208.2" fill="url(#g37)"/><polygon points="443.1,201.5 438.3,194.4 433.1,187.6 427.3,181.1 421.1,174.8 414.5,168.8 407.5,163.1 400.0,157.8 392.2,152.8 384.0,148.2 375.5,144.1 366.8,140.4 357.7,137.1 348.5,134.3 339.0,132.0 329.5,130.1 319.8,128.8 310.0,128.0 300.3,127.8 290.5,128.0 280.9,128.8 271.3,130.0 261.9,131.8 252.7,134.1 243.8,136.9 235.1,140.2 226.7,143.9 218.6,148.0 210.9,152.6 203.6,157.6 196.8,162.9 190.3,168.6 184.3,174.7 178.8,181.0 173.7,187.7 169.2,194.6 165.1,201.8 161.6,209.2 158.6,216.8 156.2,224.6 154.3,232.5 153.0,240.6 152.3,248.9 152.2,257.2 152.9,265.6 154.2,274.0 156.3,282.4 159.0,290.8 162.5,299.1 166.7,307.2 171.5,315.1 177.1,322.9 183.3,330.3 190.1,337.5 197.5,344.3 205.6,350.7 214.1,356.6 223.2,362.1 232.7,367.1 242.6,371.6 252.9,375.5 263.5,378.8 274.3,381.5 285.3,383.6 296.4,385.0 307.6,385.8 318.8,386.0 329.9,385.4 340.8,384.3 351.6,382.5 362.1,380.1 372.4,377.1 382.2,373.5 391.7,369.3 400.7,364.6 409.2,359.4 417.2,353.8 424.6,347.7 431.4,341.2 437.5,334.4 443.1,327.3 447.9,319.9 452.1,312.2 455.6,304.4 458.5,296.4 460.6,288.3 462.1,280.2 462.9,272.0 463.0,263.8 462.4,255.6 461.3,247.5 459.6,239.5 457.3,231.6 454.5,223.8 451.2,216.2 447.4,208.7" fill="url(#g38)"/><polygon points="442.4,202.1 437.6,195.0 432.4,188.3 426.7,181.7 420.5,175.5 413.9,169.5 406.9,163.9 399.5,158.6 391.7,153.6 383.6,149.1 375.2,144.9 366.4,141.2 357.4,138.0 348.2,135.2 338.8,132.9 329.3,131.1 319.7,129.7 310.0,129.0 300.3,128.7 290.6,128.9 281.0,129.7 271.5,131.0 262.1,132.7 253.0,135.0 244.1,137.8 235.4,141.0 227.1,144.7 219.1,148.9 211.4,153.4 204.2,158.4 197.3,163.7 190.9,169.4 184.9,175.4 179.4,181.7 174.4,188.3 169.9,195.2 165.9,202.3 162.4,209.7 159.4,217.3 157.0,225.0 155.1,232.9 153.8,241.0 153.1,249.2 153.1,257.5 153.7,265.8 155.1,274.2 157.1,282.6 159.9,290.9 163.3,299.1 167.5,307.2 172.3,315.1 177.8,322.8 184.0,330.2 190.8,337.3 198.2,344.0 206.1,350.4 214.7,356.3 223.7,361.8 233.1,366.8 243.0,371.2 253.2,375.1 263.7,378.4 274.5,381.1 285.4,383.1 296.4,384.5 307.6,385.3 318.7,385.5 329.7,385.0 340.6,383.8 351.3,382.0 361.8,379.6 371.9,376.6 381.7,373.1 391.1,368.9 400.1,364.3 408.5,359.1 416.5,353.5 423.8,347.5 430.6,341.0 436.7,334.3 442.2,327.2 447.1,319.8 451.2,312.2 454.7,304.4 457.6,296.5 459.7,288.4 461.2,280.3 461.9,272.2 462.1,264.0 461.5,255.9 460.4,247.8 458.7,239.9 456.5,232.0 453.7,224.3 450.4,216.7 446.6,209.3" fill="url(#g39)"/><polygon points="441.6,202.6 436.9,195.6 431.7,188.9 426.0,182.4 419.9,176.1 413.3,170.2 406.4,164.6 399.0,159.3 391.3,154.4 383.2,149.9 374.8,145.7 366.1,142.1 357.2,138.8 348.0,136.0 338.7,133.7 329.2,131.9 319.6,130.6 309.9,129.8 300.3,129.6 290.6,129.8 281.1,130.6 271.6,131.8 262.3,133.6 253.2,135.9 244.4,138.6 235.7,141.9 227.4,145.5 219.5,149.7 211.9,154.2 204.6,159.1 197.8,164.4 191.4,170.1 185.5,176.1 180.0,182.4 175.1,189.0 170.6,195.8 166.6,202.9 163.1,210.2 160.2,217.8 157.8,225.5 155.9,233.4 154.6,241.4 153.9,249.5 153.9,257.8 154.5,266.1 155.9,274.4 157.9,282.7 160.6,291.0 164.1,299.2 168.2,307.2 173.0,315.1 178.5,322.7 184.6,330.1 191.4,337.1 198.7,343.8 206.7,350.2 215.1,356.1 224.1,361.5 233.5,366.4 243.3,370.9 253.5,374.7 263.9,378.0 274.6,380.6 285.5,382.7 296.5,384.1 307.5,384.9 318.5,385.0 329.5,384.5 340.3,383.4 351.0,381.6 361.4,379.2 371.5,376.3 381.3,372.7 390.6,368.6 399.5,364.0 407.9,358.8 415.8,353.3 423.1,347.3 429.8,340.9 436.0,334.1 441.4,327.1 446.3,319.8 450.4,312.2 453.9,304.5 456.7,296.6 458.8,288.6 460.3,280.5 461.1,272.4 461.2,264.3 460.7,256.2 459.5,248.2 457.9,240.2 455.6,232.4 452.9,224.7 449.7,217.2 445.9,209.8" fill="url(#g40)"/><polygon points="440.9,203.2 436.2,196.2 431.1,189.5 425.4,183.0 419.3,176.8 412.8,170.9 405.9,165.3 398.5,160.0 390.8,155.2 382.8,150.6 374.4,146.5 365.8,142.9 356.9,139.6 347.8,136.9 338.5,134.6 329.0,132.8 319.5,131.5 309.9,130.7 300.3,130.4 290.7,130.7 281.2,131.4 271.8,132.7 262.5,134.5 253.4,136.7 244.6,139.5 236.0,142.7 227.8,146.4 219.9,150.5 212.3,155.0 205.1,159.9 198.3,165.2 192.0,170.8 186.1,176.8 180.6,183.0 175.7,189.6 171.2,196.4 167.2,203.5 163.8,210.8 160.9,218.3 158.5,225.9 156.6,233.8 155.4,241.8 154.7,249.9 154.6,258.1 155.3,266.3 156.6,274.6 158.7,282.9 161.4,291.1 164.8,299.3 168.9,307.3 173.7,315.1 179.2,322.7 185.3,330.0 192.0,337.0 199.3,343.7 207.2,350.0 215.6,355.8 224.5,361.2 233.9,366.2 243.6,370.5 253.7,374.4 264.1,377.6 274.8,380.3 285.6,382.3 296.5,383.7 307.5,384.5 318.4,384.6 329.3,384.1 340.1,383.0 350.7,381.2 361.1,378.9 371.1,375.9 380.8,372.4 390.1,368.3 398.9,363.7 407.3,358.6 415.2,353.1 422.4,347.1 429.1,340.7 435.2,334.0 440.7,327.0 445.5,319.7 449.6,312.2 453.1,304.5 455.9,296.7 458.0,288.7 459.5,280.7 460.2,272.6 460.4,264.5 459.9,256.5 458.7,248.5 457.1,240.6 454.9,232.8 452.1,225.2 448.9,217.7 445.2,210.3" fill="url(#g41)"/><polygon points="440.3,203.7 435.6,196.8 430.4,190.1 424.8,183.7 418.8,177.5 412.3,171.6 405.4,166.0 398.1,160.8 390.4,155.9 382.4,151.4 374.1,147.3 365.5,143.7 356.6,140.5 347.6,137.7 338.3,135.4 328.9,133.6 319.4,132.3 309.8,131.6 300.3,131.3 290.7,131.5 281.2,132.3 271.9,133.5 262.7,135.3 253.7,137.6 244.9,140.3 236.3,143.5 228.1,147.2 220.2,151.2 212.7,155.7 205.5,160.6 198.8,165.9 192.5,171.5 186.6,177.4 181.2,183.7 176.3,190.2 171.8,197.0 167.9,204.0 164.5,211.3 161.6,218.7 159.2,226.4 157.4,234.2 156.1,242.1 155.4,250.2 155.4,258.4 156.0,266.6 157.4,274.9 159.4,283.1 162.1,291.3 165.5,299.4 169.6,307.3 174.4,315.1 179.8,322.6 185.9,329.9 192.6,336.9 199.8,343.6 207.7,349.8 216.1,355.6 224.9,361.0 234.2,365.9 243.9,370.3 254.0,374.1 264.3,377.3 274.9,379.9 285.6,382.0 296.5,383.4 307.4,384.1 318.3,384.3 329.2,383.8 339.9,382.7 350.4,380.9 360.7,378.5 370.7,375.6 380.4,372.1 389.6,368.0 398.4,363.5 406.7,358.4 414.5,352.9 421.8,346.9 428.4,340.6 434.5,333.9 439.9,327.0 444.7,319.7 448.8,312.3 452.3,304.6 455.1,296.8 457.2,288.9 458.7,280.9 459.4,272.8 459.6,264.8 459.1,256.8 457.9,248.8 456.3,241.0 454.1,233.2 451.4,225.6 448.2,218.1 444.5,210.8" fill="url(#g42)"/><polygon points="439.6,204.3 435.0,197.4 429.8,190.7 424.2,184.3 418.2,178.1 411.8,172.3 404.9,166.7 397.6,161.5 390.0,156.6 382.0,152.2 373.8,148.1 365.2,144.5 356.4,141.3 347.3,138.5 338.1,136.2 328.8,134.5 319.3,133.2 309.8,132.4 300.3,132.1 290.8,132.4 281.3,133.1 272.0,134.4 262.8,136.1 253.9,138.4 245.1,141.1 236.6,144.3 228.4,147.9 220.6,152.0 213.1,156.5 206.0,161.4 199.3,166.6 193.0,172.2 187.1,178.1 181.8,184.3 176.9,190.8 172.4,197.6 168.5,204.6 165.1,211.8 162.2,219.2 159.9,226.8 158.1,234.6 156.8,242.5 156.1,250.6 156.1,258.7 156.8,266.9 158.1,275.1 160.1,283.3 162.8,291.4 166.2,299.5 170.3,307.4 175.0,315.1 180.4,322.6 186.5,329.9 193.1,336.8 200.4,343.4 208.2,349.6 216.5,355.4 225.3,360.8 234.6,365.6 244.2,370.0 254.2,373.8 264.5,377.0 275.0,379.6 285.7,381.6 296.5,383.0 307.4,383.8 318.2,383.9 329.0,383.4 339.7,382.3 350.2,380.6 360.4,378.2 370.3,375.3 379.9,371.8 389.1,367.8 397.9,363.2 406.2,358.2 413.9,352.7 421.1,346.8 427.8,340.5 433.8,333.9 439.2,326.9 444.0,319.7 448.1,312.3 451.5,304.7 454.3,296.9 456.4,289.0 457.9,281.1 458.6,273.1 458.8,265.1 458.3,257.1 457.2,249.2 455.5,241.4 453.4,233.7 450.7,226.1 447.5,218.6 443.8,211.4" fill="url(#g43)"/><polygon points="438.9,204.8 434.3,198.0 429.2,191.3 423.7,184.9 417.7,178.8 411.2,173.0 404.4,167.4 397.2,162.2 389.6,157.4 381.7,153.0 373.4,148.9 364.9,145.3 356.1,142.1 347.1,139.3 337.9,137.1 328.6,135.3 319.2,134.0 309.7,133.3 300.3,133.0 290.8,133.2 281.4,134.0 272.1,135.2 263.0,137.0 254.1,139.2 245.4,141.9 236.9,145.1 228.8,148.7 221.0,152.8 213.5,157.3 206.4,162.1 199.7,167.3 193.5,172.9 187.7,178.8 182.3,185.0 177.4,191.5 173.1,198.2 169.2,205.2 165.8,212.4 162.9,219.7 160.6,227.3 158.8,235.0 157.5,242.9 156.8,250.9 156.8,259.0 157.5,267.2 158.8,275.3 160.8,283.5 163.5,291.6 166.9,299.6 171.0,307.5 175.7,315.1 181.1,322.6 187.1,329.8 193.7,336.7 200.9,343.3 208.7,349.5 217.0,355.3 225.7,360.6 234.9,365.4 244.5,369.7 254.5,373.5 264.7,376.7 275.2,379.3 285.8,381.3 296.5,382.7 307.3,383.4 318.1,383.6 328.8,383.1 339.5,382.0 349.9,380.3 360.1,377.9 369.9,375.0 379.5,371.5 388.6,367.5 397.4,363.0 405.6,358.0 413.3,352.5 420.5,346.7 427.1,340.4 433.1,333.8 438.5,326.9 443.2,319.7 447.3,312.3 450.7,304.8 453.5,297.0 455.6,289.2 457.1,281.3 457.8,273.3 458.0,265.3 457.5,257.4 456.4,249.5 454.8,241.8 452.6,234.1 449.9,226.5 446.8,219.1 443.1,211.9" fill="url(#g44)"/><polygon points="438.3,205.4 433.7,198.5 428.6,191.9 423.1,185.6 417.1,179.5 410.7,173.7 403.9,168.1 396.7,163.0 389.2,158.2 381.3,153.7 373.1,149.7 364.6,146.1 355.8,142.9 346.9,140.2 337.8,137.9 328.5,136.2 319.1,134.9 309.7,134.1 300.3,133.9 290.8,134.1 281.5,134.8 272.3,136.1 263.2,137.8 254.3,140.1 245.6,142.8 237.2,145.9 229.1,149.6 221.3,153.6 213.9,158.0 206.8,162.9 200.2,168.1 194.0,173.6 188.2,179.5 182.9,185.6 178.0,192.1 173.7,198.8 169.8,205.7 166.4,212.9 163.6,220.3 161.2,227.8 159.5,235.5 158.2,243.3 157.6,251.3 157.5,259.3 158.2,267.4 159.5,275.6 161.5,283.7 164.2,291.7 167.6,299.7 171.6,307.5 176.3,315.2 181.7,322.6 187.7,329.8 194.3,336.7 201.4,343.2 209.2,349.3 217.4,355.1 226.1,360.4 235.3,365.2 244.8,369.5 254.7,373.2 264.9,376.4 275.3,379.0 285.9,381.0 296.5,382.4 307.3,383.1 318.0,383.2 328.7,382.8 339.2,381.7 349.6,379.9 359.7,377.6 369.6,374.7 379.0,371.3 388.2,367.3 396.8,362.8 405.0,357.8 412.7,352.4 419.8,346.5 426.4,340.3 432.4,333.7 437.7,326.9 442.5,319.8 446.5,312.4 450.0,304.9 452.7,297.2 454.8,289.3 456.3,281.5 457.0,273.5 457.2,265.6 456.7,257.7 455.6,249.9 454.0,242.1 451.9,234.5 449.2,227.0 446.1,219.6 442.4,212.4" fill="url(#g45)"/><polygon points="437.6,205.9 433.0,199.1 428.0,192.6 422.5,186.2 416.5,180.1 410.2,174.4 403.4,168.9 396.3,163.7 388.8,158.9 380.9,154.5 372.7,150.5 364.3,146.9 355.6,143.7 346.7,141.0 337.6,138.8 328.4,137.0 319.0,135.8 309.6,135.0 300.2,134.7 290.9,135.0 281.6,135.7 272.4,137.0 263.3,138.7 254.5,140.9 245.9,143.6 237.5,146.8 229.4,150.4 221.7,154.4 214.3,158.8 207.3,163.6 200.7,168.8 194.5,174.3 188.7,180.2 183.4,186.3 178.6,192.7 174.3,199.4 170.4,206.3 167.1,213.4 164.2,220.8 161.9,228.3 160.2,235.9 158.9,243.7 158.3,251.6 158.3,259.7 158.9,267.7 160.3,275.8 162.3,283.9 164.9,291.9 168.3,299.8 172.3,307.6 177.0,315.2 182.3,322.6 188.3,329.8 194.8,336.6 202.0,343.1 209.6,349.2 217.9,354.9 226.5,360.2 235.6,364.9 245.1,369.2 255.0,372.9 265.1,376.1 275.4,378.7 285.9,380.7 296.6,382.0 307.2,382.8 317.9,382.9 328.5,382.4 339.0,381.3 349.3,379.6 359.4,377.3 369.2,374.4 378.6,371.0 387.7,367.0 396.3,362.6 404.4,357.6 412.1,352.2 419.2,346.4 425.7,340.2 431.7,333.7 437.0,326.9 441.7,319.8 445.8,312.5 449.2,304.9 451.9,297.3 454.0,289.5 455.5,281.7 456.2,273.8 456.4,265.9 455.9,258.1 454.8,250.3 453.2,242.5 451.1,234.9 448.5,227.5 445.3,220.1 441.7,212.9" fill="url(#g46)"/><polygon points="436.9,206.5 432.4,199.7 427.4,193.2 421.9,186.9 416.0,180.8 409.7,175.1 402.9,169.6 395.8,164.5 388.3,159.7 380.5,155.3 372.4,151.3 364.0,147.7 355.3,144.6 346.4,141.9 337.4,139.6 328.2,137.9 318.9,136.6 309.6,135.9 300.2,135.6 290.9,135.8 281.6,136.6 272.5,137.8 263.5,139.6 254.7,141.8 246.1,144.5 237.8,147.6 229.7,151.2 222.0,155.2 214.7,159.6 207.7,164.4 201.1,169.5 195.0,175.0 189.3,180.9 184.0,187.0 179.2,193.4 174.9,200.0 171.1,206.9 167.7,214.0 164.9,221.3 162.6,228.7 160.9,236.4 159.6,244.1 159.0,252.0 159.0,260.0 159.7,268.0 161.0,276.1 163.0,284.1 165.6,292.1 169.0,300.0 173.0,307.7 177.6,315.3 182.9,322.6 188.9,329.7 195.4,336.5 202.5,343.0 210.1,349.1 218.3,354.7 226.9,360.0 236.0,364.7 245.4,369.0 255.2,372.7 265.3,375.8 275.5,378.4 286.0,380.3 296.6,381.7 307.2,382.5 317.8,382.6 328.4,382.1 338.8,381.0 349.0,379.3 359.1,377.0 368.8,374.2 378.2,370.7 387.2,366.8 395.8,362.4 403.9,357.4 411.5,352.1 418.6,346.3 425.1,340.1 431.0,333.6 436.3,326.8 441.0,319.8 445.0,312.5 448.4,305.0 451.1,297.4 453.2,289.7 454.7,281.9 455.4,274.1 455.6,266.2 455.1,258.4 454.1,250.6 452.5,243.0 450.4,235.4 447.7,227.9 444.6,220.6 441.0,213.5" fill="url(#g47)"/><polygon points="436.3,207.1 431.7,200.3 426.7,193.8 421.3,187.5 415.4,181.5 409.1,175.8 402.4,170.3 395.4,165.2 387.9,160.5 380.1,156.1 372.0,152.1 363.7,148.5 355.1,145.4 346.2,142.7 337.2,140.5 328.1,138.8 318.8,137.5 309.5,136.7 300.2,136.5 290.9,136.7 281.7,137.5 272.6,138.7 263.7,140.4 254.9,142.6 246.3,145.3 238.1,148.4 230.1,152.0 222.4,156.0 215.1,160.4 208.1,165.2 201.6,170.3 195.5,175.8 189.8,181.6 184.6,187.7 179.8,194.0 175.5,200.6 171.7,207.5 168.4,214.5 165.6,221.8 163.3,229.2 161.6,236.8 160.3,244.5 159.7,252.4 159.7,260.3 160.4,268.3 161.7,276.3 163.7,284.3 166.3,292.2 169.7,300.1 173.6,307.8 178.3,315.3 183.6,322.6 189.5,329.7 195.9,336.5 203.0,342.9 210.6,348.9 218.7,354.6 227.3,359.8 236.3,364.5 245.7,368.7 255.4,372.4 265.4,375.5 275.7,378.1 286.1,380.0 296.6,381.4 307.1,382.1 317.7,382.3 328.2,381.8 338.6,380.7 348.8,379.0 358.7,376.7 368.4,373.9 377.7,370.5 386.7,366.6 395.2,362.1 403.3,357.3 410.9,351.9 417.9,346.2 424.4,340.1 430.3,333.6 435.5,326.8 440.2,319.8 444.2,312.6 447.6,305.2 450.3,297.6 452.4,289.9 453.9,282.1 454.6,274.3 454.8,266.5 454.3,258.7 453.3,251.0 451.7,243.4 449.6,235.8 447.0,228.4 443.9,221.1 440.3,214.0" fill="url(#g48)"/><polygon points="435.6,207.7 431.1,201.0 426.1,194.5 420.7,188.2 414.9,182.2 408.6,176.5 401.9,171.1 394.9,166.0 387.5,161.3 379.7,156.9 371.7,152.9 363.4,149.4 354.8,146.3 346.0,143.6 337.0,141.4 327.9,139.6 318.7,138.4 309.5,137.6 300.2,137.4 291.0,137.6 281.8,138.3 272.7,139.6 263.8,141.3 255.1,143.5 246.6,146.2 238.3,149.3 230.4,152.8 222.8,156.8 215.5,161.2 208.6,165.9 202.1,171.1 196.0,176.5 190.3,182.3 185.1,188.3 180.4,194.7 176.1,201.3 172.3,208.1 169.0,215.1 166.3,222.3 164.0,229.7 162.3,237.3 161.1,245.0 160.4,252.8 160.4,260.7 161.1,268.6 162.4,276.6 164.4,284.5 167.0,292.4 170.3,300.2 174.3,307.9 178.9,315.4 184.2,322.7 190.0,329.7 196.5,336.4 203.5,342.8 211.1,348.8 219.2,354.4 227.7,359.6 236.7,364.3 246.0,368.5 255.7,372.1 265.6,375.2 275.8,377.8 286.1,379.7 296.6,381.1 307.1,381.8 317.6,382.0 328.0,381.5 338.3,380.4 348.5,378.7 358.4,376.5 368.0,373.6 377.3,370.3 386.2,366.4 394.7,362.0 402.7,357.1 410.3,351.8 417.3,346.1 423.7,340.0 429.6,333.6 434.8,326.8 439.5,319.9 443.5,312.7 446.8,305.3 449.5,297.7 451.6,290.1 453.1,282.3 453.8,274.6 454.0,266.8 453.5,259.1 452.5,251.4 450.9,243.8 448.9,236.3 446.3,228.9 443.2,221.7 439.6,214.6" fill="url(#g49)"/><polygon points="434.9,208.3 430.4,201.6 425.5,195.1 420.1,188.9 414.3,182.9 408.1,177.2 401.4,171.8 394.4,166.8 387.1,162.1 379.4,157.7 371.3,153.8 363.1,150.2 354.5,147.1 345.8,144.4 336.9,142.2 327.8,140.5 318.6,139.3 309.4,138.5 300.2,138.3 291.0,138.5 281.9,139.2 272.9,140.5 264.0,142.2 255.3,144.4 246.8,147.0 238.6,150.1 230.7,153.7 223.1,157.6 215.9,162.0 209.0,166.7 202.5,171.8 196.5,177.2 190.9,183.0 185.7,189.0 181.0,195.3 176.7,201.9 173.0,208.7 169.7,215.7 166.9,222.9 164.7,230.2 163.0,237.7 161.8,245.4 161.1,253.2 161.2,261.0 161.8,268.9 163.1,276.9 165.1,284.8 167.7,292.6 171.0,300.4 175.0,308.0 179.6,315.5 184.8,322.7 190.6,329.7 197.1,336.4 204.1,342.7 211.6,348.7 219.6,354.3 228.1,359.4 237.0,364.1 246.3,368.2 255.9,371.9 265.8,375.0 275.9,377.5 286.2,379.4 296.6,380.8 307.0,381.5 317.5,381.6 327.9,381.2 338.1,380.1 348.2,378.4 358.0,376.2 367.6,373.4 376.9,370.0 385.7,366.1 394.2,361.8 402.2,356.9 409.6,351.6 416.6,346.0 423.0,339.9 428.8,333.5 434.1,326.8 438.7,319.9 442.7,312.7 446.0,305.4 448.7,297.9 450.8,290.3 452.2,282.6 453.0,274.9 453.2,267.1 452.8,259.4 451.7,251.8 450.2,244.2 448.1,236.7 445.5,229.4 442.5,222.2 438.9,215.1" fill="url(#g50)"/><polygon points="434.2,208.8 429.8,202.2 424.9,195.8 419.5,189.6 413.7,183.6 407.5,177.9 400.9,172.6 394.0,167.5 386.6,162.8 379.0,158.5 371.0,154.6 362.7,151.1 354.3,148.0 345.5,145.3 336.7,143.1 327.7,141.4 318.5,140.2 309.4,139.4 300.2,139.2 291.0,139.4 282.0,140.1 273.0,141.3 264.1,143.1 255.5,145.2 247.1,147.9 238.9,151.0 231.0,154.5 223.5,158.5 216.3,162.8 209.5,167.5 203.0,172.6 197.0,178.0 191.4,183.7 186.2,189.7 181.5,196.0 177.3,202.5 173.6,209.3 170.3,216.2 167.6,223.4 165.4,230.7 163.7,238.2 162.5,245.8 161.9,253.6 161.9,261.4 162.5,269.2 163.9,277.1 165.8,285.0 168.4,292.8 171.7,300.5 175.7,308.1 180.2,315.5 185.4,322.7 191.2,329.7 197.6,336.3 204.6,342.6 212.1,348.6 220.1,354.1 228.5,359.2 237.4,363.9 246.6,368.0 256.2,371.6 266.0,374.7 276.1,377.2 286.3,379.1 296.6,380.5 307.0,381.2 317.4,381.3 327.7,380.9 337.9,379.8 347.9,378.1 357.7,375.9 367.2,373.1 376.4,369.8 385.2,365.9 393.6,361.6 401.6,356.8 409.0,351.5 416.0,345.9 422.3,339.8 428.1,333.5 433.3,326.8 437.9,319.9 441.9,312.8 445.3,305.5 448.0,298.0 450.0,290.5 451.4,282.8 452.2,275.1 452.4,267.4 452.0,259.8 450.9,252.2 449.4,244.6 447.3,237.2 444.8,229.9 441.7,222.7 438.2,215.7" fill="url(#g51)"/><polygon points="433.6,209.4 429.1,202.8 424.2,196.4 418.9,190.2 413.2,184.3 407.0,178.7 400.4,173.3 393.5,168.3 386.2,163.6 378.6,159.3 370.6,155.4 362.4,151.9 354.0,148.8 345.3,146.2 336.5,144.0 327.5,142.3 318.4,141.0 309.3,140.3 300.2,140.0 291.1,140.3 282.0,141.0 273.1,142.2 264.3,143.9 255.7,146.1 247.3,148.8 239.2,151.8 231.4,155.4 223.9,159.3 216.7,163.6 209.9,168.3 203.5,173.3 197.5,178.7 191.9,184.4 186.8,190.4 182.1,196.7 177.9,203.2 174.2,209.9 171.0,216.8 168.3,223.9 166.1,231.2 164.4,238.7 163.2,246.3 162.6,253.9 162.6,261.7 163.3,269.6 164.6,277.4 166.5,285.2 169.1,293.0 172.4,300.7 176.3,308.2 180.9,315.6 186.0,322.7 191.8,329.7 198.2,336.3 205.1,342.5 212.6,348.5 220.5,354.0 228.9,359.1 237.7,363.7 246.9,367.8 256.4,371.4 266.2,374.4 276.2,376.9 286.3,378.9 296.6,380.2 306.9,380.9 317.3,381.0 327.5,380.6 337.7,379.5 347.6,377.9 357.4,375.6 366.8,372.9 376.0,369.5 384.7,365.7 393.1,361.4 401.0,356.6 408.4,351.4 415.3,345.8 421.7,339.8 427.4,333.5 432.6,326.9 437.2,320.0 441.1,312.9 444.5,305.6 447.2,298.2 449.2,290.7 450.6,283.1 451.4,275.4 451.6,267.7 451.2,260.1 450.2,252.5 448.6,245.1 446.6,237.7 444.0,230.4 441.0,223.2 437.5,216.3" fill="url(#g52)"/><polygon points="432.9,210.0 428.5,203.4 423.6,197.1 418.3,190.9 412.6,185.0 406.5,179.4 399.9,174.1 393.0,169.1 385.8,164.4 378.2,160.1 370.3,156.2 362.1,152.7 353.7,149.7 345.1,147.0 336.3,144.9 327.4,143.2 318.4,141.9 309.3,141.2 300.2,140.9 291.1,141.2 282.1,141.9 273.2,143.1 264.5,144.8 255.9,147.0 247.6,149.6 239.5,152.7 231.7,156.2 224.2,160.1 217.1,164.4 210.3,169.1 203.9,174.1 198.0,179.5 192.4,185.1 187.4,191.1 182.7,197.3 178.5,203.8 174.9,210.5 171.6,217.4 168.9,224.5 166.7,231.7 165.0,239.1 163.9,246.7 163.3,254.3 163.3,262.1 164.0,269.9 165.3,277.7 167.2,285.5 169.8,293.2 173.1,300.8 177.0,308.3 181.5,315.7 186.7,322.8 192.4,329.6 198.7,336.2 205.6,342.5 213.0,348.3 220.9,353.8 229.3,358.9 238.0,363.5 247.2,367.6 256.6,371.1 266.4,374.2 276.3,376.7 286.4,378.6 296.6,379.9 306.9,380.6 317.1,380.7 327.3,380.3 337.4,379.2 347.3,377.6 357.0,375.4 366.4,372.6 375.5,369.3 384.3,365.5 392.6,361.2 400.4,356.4 407.8,351.3 414.7,345.7 421.0,339.7 426.7,333.4 431.9,326.9 436.4,320.0 440.4,313.0 443.7,305.7 446.4,298.4 448.4,290.9 449.8,283.3 450.6,275.7 450.8,268.1 450.4,260.5 449.4,252.9 447.8,245.5 445.8,238.1 443.3,230.9 440.3,223.8 436.8,216.8" fill="url(#g53)"/><polygon points="432.2,210.6 427.8,204.1 423.0,197.7 417.7,191.6 412.0,185.7 405.9,180.1 399.4,174.8 392.6,169.9 385.4,165.2 377.8,161.0 370.0,157.1 361.8,153.6 353.5,150.5 344.9,147.9 336.1,145.8 327.2,144.1 318.3,142.8 309.2,142.1 300.2,141.8 291.1,142.1 282.2,142.8 273.3,144.0 264.6,145.7 256.1,147.9 247.8,150.5 239.8,153.5 232.0,157.0 224.6,160.9 217.5,165.2 210.8,169.9 204.4,174.9 198.5,180.2 193.0,185.9 187.9,191.8 183.3,198.0 179.2,204.4 175.5,211.1 172.3,218.0 169.6,225.0 167.4,232.2 165.7,239.6 164.6,247.1 164.0,254.7 164.0,262.4 164.7,270.2 166.0,277.9 167.9,285.7 170.5,293.4 173.8,301.0 177.7,308.4 182.2,315.7 187.3,322.8 193.0,329.6 199.3,336.2 206.1,342.4 213.5,348.2 221.4,353.7 229.7,358.7 238.4,363.3 247.5,367.3 256.9,370.9 266.5,373.9 276.4,376.4 286.5,378.3 296.6,379.6 306.8,380.3 317.0,380.4 327.2,380.0 337.2,378.9 347.1,377.3 356.7,375.1 366.1,372.4 375.1,369.1 383.8,365.3 392.0,361.0 399.9,356.3 407.2,351.1 414.0,345.6 420.3,339.7 426.0,333.4 431.1,326.9 435.7,320.1 439.6,313.1 442.9,305.9 445.6,298.5 447.6,291.1 449.0,283.5 449.8,276.0 450.0,268.4 449.6,260.8 448.6,253.3 447.1,245.9 445.1,238.6 442.6,231.4 439.6,224.3 436.1,217.4" fill="url(#g54)"/><polygon points="431.5,211.2 427.2,204.7 422.4,198.4 417.1,192.3 411.5,186.4 405.4,180.9 399.0,175.6 392.1,170.6 384.9,166.0 377.4,161.8 369.6,157.9 361.5,154.4 353.2,151.4 344.6,148.8 335.9,146.6 327.1,144.9 318.2,143.7 309.2,143.0 300.2,142.7 291.2,143.0 282.3,143.7 273.5,144.9 264.8,146.6 256.3,148.7 248.1,151.3 240.1,154.4 232.3,157.9 224.9,161.7 217.9,166.0 211.2,170.7 204.9,175.6 199.0,181.0 193.5,186.6 188.5,192.5 183.9,198.6 179.8,205.1 176.1,211.7 172.9,218.5 170.3,225.5 168.1,232.7 166.4,240.1 165.3,247.5 164.7,255.1 164.8,262.8 165.4,270.5 166.7,278.2 168.7,285.9 171.2,293.6 174.5,301.1 178.3,308.5 182.8,315.8 187.9,322.8 193.6,329.6 199.9,336.1 206.7,342.3 214.0,348.1 221.8,353.5 230.1,358.5 238.7,363.1 247.8,367.1 257.1,370.6 266.7,373.6 276.5,376.1 286.5,378.0 296.6,379.3 306.8,380.0 316.9,380.1 327.0,379.7 337.0,378.6 346.8,377.0 356.4,374.8 365.7,372.1 374.7,368.8 383.3,365.1 391.5,360.8 399.3,356.1 406.6,351.0 413.4,345.5 419.6,339.6 425.3,333.4 430.4,326.9 434.9,320.1 438.8,313.1 442.1,306.0 444.8,298.7 446.8,291.3 448.2,283.8 449.0,276.2 449.2,268.7 448.8,261.2 447.8,253.7 446.3,246.3 444.3,239.0 441.8,231.9 438.9,224.8 435.4,217.9" fill="url(#g55)"/><polygon points="430.9,211.8 426.5,205.3 421.8,199.0 416.5,192.9 410.9,187.1 404.9,181.6 398.5,176.3 391.7,171.4 384.5,166.8 377.0,162.6 369.3,158.7 361.2,155.3 352.9,152.2 344.4,149.6 335.8,147.5 327.0,145.8 318.1,144.6 309.1,143.9 300.1,143.6 291.2,143.9 282.3,144.6 273.6,145.8 265.0,147.5 256.5,149.6 248.3,152.2 240.3,155.2 232.7,158.7 225.3,162.6 218.3,166.8 211.6,171.4 205.3,176.4 199.5,181.7 194.0,187.3 189.0,193.2 184.5,199.3 180.4,205.7 176.7,212.3 173.6,219.1 170.9,226.1 168.8,233.2 167.1,240.5 166.0,248.0 165.4,255.5 165.5,263.1 166.1,270.8 167.4,278.5 169.4,286.1 171.9,293.8 175.1,301.3 179.0,308.6 183.4,315.9 188.5,322.9 194.2,329.6 200.4,336.1 207.2,342.2 214.5,348.0 222.2,353.4 230.5,358.4 239.1,362.9 248.0,366.9 257.3,370.4 266.9,373.4 276.7,375.8 286.6,377.7 296.6,379.0 306.7,379.7 316.8,379.8 326.8,379.4 336.8,378.3 346.5,376.7 356.0,374.6 365.3,371.8 374.2,368.6 382.8,364.9 391.0,360.6 398.7,356.0 406.0,350.9 412.7,345.4 418.9,339.5 424.6,333.3 429.7,326.9 434.2,320.2 438.1,313.2 441.3,306.1 444.0,298.8 446.0,291.4 447.4,284.0 448.2,276.5 448.4,269.0 448.0,261.5 447.0,254.1 445.5,246.7 443.6,239.5 441.1,232.3 438.2,225.3 434.7,218.5" fill="url(#g56)"/><polygon points="430.2,212.4 425.8,205.9 421.1,199.7 415.9,193.6 410.3,187.9 404.3,182.4 397.9,177.1 391.1,172.2 384.0,167.7 376.6,163.5 368.8,159.7 360.8,156.2 352.6,153.2 344.1,150.7 335.5,148.5 326.8,146.9 317.9,145.7 309.1,144.9 300.1,144.7 291.3,144.9 282.5,145.7 273.7,146.8 265.2,148.5 256.8,150.6 248.6,153.2 240.7,156.2 233.1,159.6 225.8,163.5 218.8,167.7 212.1,172.3 205.9,177.2 200.0,182.5 194.6,188.0 189.6,193.9 185.1,200.0 181.0,206.3 177.4,212.9 174.3,219.7 171.6,226.6 169.5,233.7 167.8,241.0 166.7,248.4 166.1,255.9 166.2,263.5 166.8,271.1 168.1,278.7 170.1,286.4 172.6,293.9 175.8,301.4 179.6,308.8 184.1,315.9 189.1,322.9 194.8,329.6 201.0,336.0 207.7,342.1 214.9,347.9 222.7,353.2 230.8,358.2 239.4,362.7 248.3,366.7 257.6,370.1 267.1,373.1 276.8,375.5 286.7,377.4 296.7,378.7 306.7,379.4 316.7,379.5 326.7,379.1 336.5,378.0 346.2,376.4 355.7,374.3 364.9,371.6 373.8,368.4 382.3,364.6 390.5,360.4 398.1,355.8 405.4,350.7 412.1,345.3 418.3,339.4 423.9,333.3 429.0,326.9 433.4,320.2 437.3,313.3 440.6,306.2 443.2,299.0 445.2,291.6 446.6,284.2 447.4,276.8 447.6,269.3 447.2,261.9 446.2,254.5 444.8,247.2 442.8,239.9 440.4,232.8 437.4,225.9 434.0,219.0" fill="url(#g57)"/><polygon points="429.4,213.0 425.1,206.6 420.4,200.3 415.2,194.4 409.6,188.6 403.7,183.1 397.3,178.0 390.6,173.1 383.5,168.6 376.1,164.4 368.4,160.6 360.4,157.2 352.3,154.2 343.9,151.7 335.3,149.6 326.6,147.9 317.8,146.7 309.0,146.0 300.2,145.8 291.3,146.0 282.6,146.7 273.9,147.9 265.4,149.6 257.1,151.7 249.0,154.2 241.1,157.2 233.5,160.6 226.2,164.4 219.3,168.6 212.7,173.1 206.4,178.0 200.6,183.3 195.2,188.8 190.3,194.6 185.7,200.7 181.7,207.0 178.1,213.5 174.9,220.2 172.3,227.1 170.2,234.2 168.5,241.5 167.4,248.8 166.8,256.3 166.9,263.8 167.6,271.4 168.9,279.0 170.8,286.6 173.3,294.1 176.5,301.6 180.3,308.9 184.7,316.0 189.7,322.9 195.3,329.6 201.5,336.0 208.2,342.0 215.4,347.8 223.1,353.1 231.2,358.0 239.7,362.5 248.6,366.4 257.8,369.9 267.3,372.9 276.9,375.3 286.7,377.1 296.7,378.4 306.6,379.1 316.6,379.2 326.5,378.8 336.3,377.8 345.9,376.2 355.4,374.0 364.5,371.3 373.4,368.1 381.8,364.4 389.9,360.3 397.6,355.6 404.8,350.6 411.4,345.2 417.6,339.4 423.2,333.3 428.2,326.9 432.7,320.2 436.5,313.4 439.8,306.3 442.4,299.1 444.4,291.8 445.8,284.5 446.6,277.0 446.8,269.6 446.4,262.2 445.5,254.9 444.0,247.6 442.0,240.4 439.6,233.3 436.7,226.4 433.3,219.6" fill="url(#g58)"/><polygon points="428.7,213.6 424.4,207.2 419.7,201.0 414.6,195.1 409.0,189.4 403.0,183.9 396.7,178.8 390.0,174.0 383.0,169.5 375.6,165.4 368.0,161.6 360.1,158.2 351.9,155.3 343.6,152.7 335.1,150.6 326.4,149.0 317.7,147.8 308.9,147.1 300.2,146.9 291.4,147.1 282.7,147.8 274.1,149.0 265.6,150.6 257.4,152.7 249.3,155.2 241.5,158.2 233.9,161.6 226.7,165.3 219.7,169.5 213.2,174.0 207.0,178.9 201.2,184.1 195.8,189.5 190.9,195.3 186.4,201.3 182.3,207.6 178.7,214.1 175.6,220.8 173.0,227.7 170.8,234.7 169.2,241.9 168.1,249.2 167.6,256.7 167.6,264.2 168.3,271.7 169.6,279.3 171.5,286.8 174.0,294.3 177.2,301.7 181.0,309.0 185.4,316.1 190.4,322.9 195.9,329.6 202.1,335.9 208.7,342.0 215.9,347.7 223.5,353.0 231.6,357.8 240.1,362.3 248.9,366.2 258.0,369.7 267.4,372.6 277.0,375.0 286.8,376.8 296.7,378.1 306.6,378.8 316.5,378.9 326.3,378.5 336.1,377.5 345.7,375.9 355.0,373.8 364.1,371.1 372.9,367.9 381.4,364.2 389.4,360.1 397.0,355.5 404.2,350.5 410.8,345.1 416.9,339.3 422.5,333.3 427.5,326.9 431.9,320.3 435.8,313.5 439.0,306.4 441.6,299.3 443.6,292.0 445.0,284.7 445.8,277.3 446.0,269.9 445.6,262.6 444.7,255.2 443.2,248.0 441.3,240.9 438.8,233.8 435.9,226.9 432.6,220.2" fill="url(#g59)"/><polygon points="428.0,214.2 423.7,207.9 419.0,201.7 413.9,195.8 408.4,190.1 402.4,184.7 396.1,179.6 389.5,174.9 382.4,170.4 375.1,166.3 367.5,162.6 359.7,159.2 351.6,156.3 343.3,153.8 334.8,151.7 326.3,150.1 317.6,148.9 308.9,148.2 300.2,148.0 291.4,148.2 282.8,148.9 274.3,150.1 265.9,151.7 257.6,153.7 249.6,156.3 241.8,159.2 234.3,162.5 227.1,166.3 220.2,170.4 213.7,174.9 207.5,179.7 201.8,184.9 196.4,190.3 191.5,196.0 187.0,202.0 182.9,208.3 179.4,214.7 176.3,221.4 173.6,228.2 171.5,235.2 169.9,242.4 168.8,249.7 168.3,257.1 168.3,264.5 169.0,272.0 170.3,279.6 172.2,287.1 174.7,294.5 177.9,301.9 181.6,309.1 186.0,316.1 191.0,323.0 196.5,329.6 202.6,335.9 209.2,341.9 216.4,347.6 224.0,352.8 232.0,357.7 240.4,362.1 249.2,366.0 258.3,369.4 267.6,372.3 277.2,374.7 286.9,376.6 296.7,377.8 306.5,378.5 316.4,378.6 326.2,378.2 335.9,377.2 345.4,375.6 354.7,373.5 363.7,370.9 372.5,367.7 380.9,364.0 388.9,359.9 396.4,355.3 403.5,350.4 410.2,345.0 416.2,339.3 421.8,333.2 426.8,326.9 431.2,320.3 435.0,313.6 438.2,306.6 440.8,299.5 442.8,292.2 444.2,284.9 445.0,277.6 445.2,270.3 444.8,262.9 443.9,255.6 442.5,248.4 440.5,241.3 438.1,234.3 435.2,227.5 431.8,220.8" fill="url(#g60)"/><polygon points="427.3,214.9 423.0,208.5 418.3,202.4 413.2,196.6 407.7,190.9 401.8,185.6 395.5,180.5 388.9,175.7 381.9,171.3 374.7,167.2 367.1,163.5 359.3,160.2 351.2,157.3 343.0,154.8 334.6,152.8 326.1,151.2 317.5,150.0 308.8,149.3 300.2,149.1 291.5,149.3 282.9,150.0 274.4,151.1 266.1,152.7 257.9,154.8 249.9,157.3 242.2,160.2 234.7,163.5 227.6,167.2 220.7,171.3 214.2,175.8 208.1,180.6 202.3,185.7 197.0,191.1 192.1,196.8 187.6,202.7 183.6,208.9 180.0,215.4 176.9,222.0 174.3,228.8 172.2,235.8 170.6,242.9 169.5,250.1 169.0,257.5 169.0,264.9 169.7,272.4 171.0,279.9 172.9,287.3 175.4,294.7 178.5,302.0 182.3,309.2 186.6,316.2 191.6,323.0 197.1,329.6 203.2,335.9 209.8,341.9 216.8,347.5 224.4,352.7 232.4,357.5 240.8,361.9 249.5,365.8 258.5,369.2 267.8,372.1 277.3,374.5 286.9,376.3 296.7,377.6 306.5,378.2 316.3,378.4 326.0,377.9 335.6,376.9 345.1,375.4 354.4,373.3 363.4,370.6 372.0,367.5 380.4,363.9 388.3,359.8 395.9,355.2 402.9,350.3 409.5,344.9 415.6,339.2 421.1,333.2 426.0,326.9 430.4,320.4 434.2,313.7 437.4,306.7 440.0,299.7 442.0,292.5 443.4,285.2 444.2,277.9 444.4,270.6 444.1,263.3 443.1,256.1 441.7,248.9 439.8,241.8 437.3,234.9 434.4,228.0 431.1,221.4" fill="url(#g61)"/><polygon points="426.6,215.5 422.3,209.2 417.6,203.1 412.6,197.3 407.1,191.7 401.2,186.4 394.9,181.4 388.3,176.6 381.4,172.3 374.2,168.2 366.7,164.5 358.9,161.3 350.9,158.4 342.7,155.9 334.4,153.9 325.9,152.3 317.4,151.1 308.8,150.4 300.2,150.2 291.6,150.4 283.0,151.1 274.6,152.2 266.3,153.8 258.2,155.9 250.3,158.3 242.6,161.2 235.1,164.5 228.0,168.2 221.2,172.3 214.7,176.7 208.6,181.4 202.9,186.5 197.6,191.9 192.7,197.5 188.2,203.5 184.2,209.6 180.7,216.0 177.6,222.6 175.0,229.4 172.9,236.3 171.3,243.4 170.2,250.6 169.7,257.9 169.7,265.3 170.4,272.7 171.7,280.2 173.6,287.6 176.1,295.0 179.2,302.2 182.9,309.4 187.3,316.3 192.2,323.1 197.7,329.6 203.7,335.9 210.3,341.8 217.3,347.4 224.8,352.6 232.8,357.4 241.1,361.7 249.8,365.6 258.7,369.0 268.0,371.9 277.4,374.2 287.0,376.0 296.7,377.3 306.4,378.0 316.2,378.1 325.8,377.7 335.4,376.7 344.8,375.1 354.0,373.0 363.0,370.4 371.6,367.3 379.9,363.7 387.8,359.6 395.3,355.1 402.3,350.2 408.9,344.9 414.9,339.2 420.4,333.2 425.3,327.0 429.7,320.5 433.5,313.8 436.6,306.9 439.2,299.8 441.2,292.7 442.6,285.5 443.4,278.2 443.6,270.9 443.3,263.7 442.3,256.5 440.9,249.4 439.0,242.3 436.6,235.4 433.7,228.6 430.4,222.0" fill="url(#g62)"/><polygon points="425.8,216.2 421.6,209.9 417.0,203.9 411.9,198.1 406.4,192.5 400.6,187.2 394.3,182.2 387.8,177.6 380.9,173.2 373.7,169.2 366.2,165.6 358.5,162.3 350.6,159.4 342.4,157.0 334.1,155.0 325.7,153.4 317.2,152.3 308.7,151.6 300.1,151.3 291.6,151.6 283.1,152.2 274.8,153.4 266.5,154.9 258.5,157.0 250.6,159.4 242.9,162.3 235.6,165.5 228.5,169.2 221.7,173.2 215.3,177.6 209.2,182.3 203.5,187.4 198.2,192.7 193.3,198.3 188.9,204.2 184.9,210.3 181.3,216.7 178.3,223.2 175.7,230.0 173.6,236.9 172.0,243.9 170.9,251.1 170.4,258.4 170.5,265.7 171.1,273.1 172.4,280.5 174.3,287.9 176.8,295.2 179.9,302.4 183.6,309.5 187.9,316.5 192.8,323.2 198.3,329.7 204.3,335.9 210.8,341.8 217.8,347.3 225.3,352.5 233.1,357.3 241.4,361.6 250.0,365.5 259.0,368.8 268.1,371.7 277.5,374.0 287.0,375.8 296.7,377.1 306.4,377.7 316.0,377.9 325.7,377.4 335.2,376.4 344.5,374.9 353.7,372.8 362.6,370.2 371.2,367.1 379.4,363.5 387.3,359.5 394.7,355.0 401.7,350.1 408.2,344.8 414.2,339.2 419.7,333.3 424.6,327.1 428.9,320.6 432.7,313.9 435.9,307.1 438.4,300.1 440.4,293.0 441.8,285.8 442.6,278.5 442.8,271.3 442.5,264.1 441.5,256.9 440.1,249.8 438.2,242.8 435.8,235.9 432.9,229.2 429.6,222.6" fill="url(#g63)"/><polygon points="425.1,216.8 420.9,210.6 416.3,204.6 411.2,198.9 405.8,193.4 399.9,188.1 393.7,183.1 387.2,178.5 380.4,174.2 373.2,170.2 365.8,166.6 358.1,163.4 350.2,160.5 342.1,158.1 333.9,156.1 325.6,154.5 317.1,153.4 308.6,152.7 300.1,152.5 291.7,152.7 283.3,153.4 274.9,154.5 266.8,156.1 258.7,158.1 250.9,160.5 243.3,163.3 236.0,166.6 228.9,170.2 222.2,174.2 215.8,178.5 209.7,183.2 204.0,188.2 198.8,193.5 193.9,199.1 189.5,205.0 185.5,211.1 182.0,217.4 178.9,223.9 176.4,230.6 174.3,237.4 172.7,244.5 171.6,251.6 171.1,258.8 171.2,266.1 171.8,273.5 173.1,280.8 175.0,288.2 177.5,295.5 180.6,302.7 184.3,309.7 188.6,316.6 193.4,323.3 198.8,329.7 204.8,335.9 211.3,341.8 218.3,347.3 225.7,352.4 233.5,357.2 241.8,361.5 250.3,365.3 259.2,368.7 268.3,371.5 277.6,373.8 287.1,375.6 296.7,376.8 306.3,377.5 315.9,377.6 325.5,377.2 334.9,376.2 344.2,374.7 353.3,372.6 362.2,370.0 370.7,367.0 378.9,363.4 386.7,359.4 394.1,354.9 401.1,350.0 407.5,344.8 413.5,339.2 418.9,333.3 423.8,327.1 428.2,320.7 431.9,314.1 435.1,307.3 437.6,300.3 439.6,293.2 441.0,286.1 441.8,278.9 442.0,271.7 441.6,264.5 440.7,257.4 439.3,250.3 437.4,243.4 435.0,236.5 432.2,229.8 428.9,223.2" fill="url(#g64)"/><polygon points="424.4,217.5 420.2,211.4 415.6,205.4 410.5,199.7 405.1,194.2 399.3,189.0 393.1,184.1 386.6,179.4 379.8,175.2 372.7,171.2 365.3,167.6 357.7,164.4 349.9,161.6 341.8,159.2 333.7,157.2 325.4,155.7 317.0,154.6 308.6,153.9 300.1,153.7 291.7,153.9 283.4,154.5 275.1,155.7 267.0,157.2 259.0,159.2 251.2,161.6 243.7,164.4 236.4,167.6 229.4,171.2 222.7,175.2 216.3,179.5 210.3,184.1 204.6,189.1 199.4,194.4 194.5,199.9 190.1,205.7 186.2,211.8 182.6,218.1 179.6,224.5 177.0,231.2 175.0,238.0 173.4,245.0 172.3,252.1 171.8,259.3 171.9,266.6 172.6,273.9 173.8,281.2 175.7,288.5 178.2,295.7 181.2,302.9 184.9,309.9 189.2,316.8 194.0,323.4 199.4,329.8 205.4,336.0 211.8,341.8 218.7,347.3 226.1,352.4 233.9,357.1 242.1,361.4 250.6,365.2 259.4,368.5 268.5,371.3 277.7,373.6 287.2,375.4 296.7,376.6 306.2,377.3 315.8,377.4 325.3,377.0 334.7,376.0 343.9,374.5 353.0,372.5 361.8,369.9 370.3,366.8 378.4,363.3 386.2,359.3 393.5,354.8 400.5,350.0 406.9,344.8 412.8,339.2 418.2,333.4 423.1,327.2 427.4,320.8 431.1,314.2 434.3,307.5 436.8,300.5 438.8,293.5 440.2,286.4 441.0,279.3 441.2,272.1 440.8,265.0 439.9,257.9 438.5,250.8 436.6,243.9 434.3,237.1 431.4,230.4 428.1,223.9" fill="url(#g65)"/><polygon points="423.6,218.2 419.4,212.1 414.8,206.2 409.8,200.5 404.4,195.0 398.7,189.9 392.5,185.0 386.1,180.4 379.3,176.2 372.2,172.2 364.9,168.7 357.3,165.5 349.5,162.7 341.5,160.4 333.4,158.4 325.2,156.9 316.9,155.7 308.5,155.1 300.1,154.8 291.8,155.1 283.5,155.7 275.3,156.8 267.2,158.3 259.3,160.3 251.5,162.7 244.0,165.5 236.8,168.7 229.8,172.2 223.1,176.2 216.8,180.4 210.8,185.1 205.2,190.0 200.0,195.2 195.1,200.7 190.7,206.5 186.8,212.5 183.3,218.8 180.3,225.2 177.7,231.8 175.6,238.6 174.1,245.6 173.0,252.6 172.5,259.8 172.6,267.0 173.3,274.3 174.5,281.6 176.4,288.8 178.9,296.0 181.9,303.1 185.6,310.1 189.8,316.9 194.6,323.5 200.0,329.9 205.9,336.0 212.3,341.8 219.2,347.3 226.5,352.3 234.3,357.0 242.4,361.3 250.9,365.0 259.6,368.4 268.6,371.2 277.9,373.5 287.2,375.2 296.7,376.4 306.2,377.1 315.7,377.2 325.1,376.8 334.5,375.8 343.6,374.3 352.6,372.3 361.4,369.7 369.8,366.7 377.9,363.2 385.6,359.2 393.0,354.8 399.8,350.0 406.2,344.8 412.1,339.3 417.5,333.4 422.3,327.3 426.6,321.0 430.3,314.4 433.5,307.7 436.0,300.8 438.0,293.8 439.3,286.7 440.1,279.6 440.4,272.5 440.0,265.4 439.1,258.3 437.7,251.4 435.9,244.5 433.5,237.7 430.7,231.0 427.4,224.6" fill="url(#g66)"/><polygon points="422.9,219.0 418.7,212.9 414.1,207.0 409.2,201.3 403.8,195.9 398.0,190.8 391.9,185.9 385.5,181.4 378.8,177.2 371.7,173.3 364.4,169.8 356.9,166.6 349.2,163.9 341.2,161.5 333.2,159.6 325.0,158.0 316.7,156.9 308.4,156.3 300.1,156.0 291.8,156.2 283.6,156.9 275.4,158.0 267.4,159.5 259.5,161.4 251.9,163.8 244.4,166.6 237.2,169.7 230.2,173.3 223.6,177.2 217.3,181.4 211.3,186.0 205.7,190.9 200.5,196.1 195.7,201.6 191.4,207.3 187.4,213.3 183.9,219.5 180.9,225.9 178.4,232.5 176.3,239.3 174.8,246.2 173.7,253.2 173.2,260.3 173.3,267.5 174.0,274.7 175.2,282.0 177.1,289.2 179.5,296.3 182.6,303.4 186.2,310.3 190.5,317.1 195.2,323.7 200.6,330.0 206.4,336.1 212.8,341.8 219.7,347.3 227.0,352.3 234.7,356.9 242.7,361.2 251.2,364.9 259.9,368.2 268.8,371.0 278.0,373.3 287.3,375.0 296.7,376.3 306.1,376.9 315.5,377.0 324.9,376.6 334.2,375.7 343.4,374.2 352.3,372.1 361.0,369.6 369.3,366.6 377.4,363.1 385.1,359.1 392.4,354.7 399.2,349.9 405.6,344.8 411.4,339.3 416.8,333.5 421.6,327.4 425.8,321.1 429.5,314.6 432.7,307.9 435.2,301.1 437.1,294.1 438.5,287.1 439.3,280.0 439.5,272.9 439.2,265.9 438.3,258.8 436.9,251.9 435.1,245.0 432.7,238.3 429.9,231.7 426.6,225.2" fill="url(#g67)"/><polygon points="422.1,219.7 418.0,213.6 413.4,207.8 408.5,202.2 403.1,196.8 397.4,191.7 391.3,186.9 384.9,182.4 378.2,178.2 371.2,174.3 364.0,170.8 356.5,167.7 348.8,165.0 340.9,162.6 332.9,160.7 324.8,159.2 316.6,158.1 308.4,157.5 300.1,157.2 291.9,157.4 283.7,158.1 275.6,159.2 267.6,160.7 259.8,162.6 252.2,164.9 244.8,167.7 237.6,170.8 230.7,174.3 224.1,178.2 217.8,182.4 211.9,186.9 206.3,191.8 201.1,197.0 196.4,202.4 192.0,208.1 188.1,214.1 184.6,220.2 181.6,226.6 179.1,233.2 177.0,239.9 175.5,246.7 174.4,253.7 173.9,260.8 174.0,268.0 174.7,275.1 175.9,282.3 177.8,289.5 180.2,296.6 183.3,303.7 186.9,310.6 191.1,317.3 195.8,323.8 201.1,330.1 207.0,336.2 213.3,341.9 220.1,347.3 227.4,352.3 235.0,356.9 243.1,361.1 251.4,364.8 260.1,368.1 269.0,370.9 278.1,373.1 287.3,374.9 296.7,376.1 306.0,376.7 315.4,376.9 324.8,376.4 334.0,375.5 343.1,374.0 351.9,372.0 360.6,369.5 368.9,366.4 376.9,363.0 384.5,359.0 391.8,354.7 398.6,349.9 404.9,344.8 410.7,339.4 416.0,333.6 420.8,327.6 425.1,321.3 428.7,314.8 431.8,308.1 434.4,301.3 436.3,294.4 437.7,287.4 438.5,280.4 438.7,273.4 438.4,266.3 437.5,259.3 436.1,252.4 434.3,245.6 431.9,238.9 429.1,232.3 425.8,225.9" fill="url(#g68)"/><polygon points="421.4,220.4 417.3,214.4 412.7,208.6 407.8,203.0 402.5,197.7 396.8,192.6 390.7,187.8 384.4,183.3 377.7,179.2 370.7,175.4 363.5,171.9 356.1,168.8 348.5,166.1 340.6,163.8 332.7,161.9 324.6,160.4 316.5,159.3 308.3,158.7 300.1,158.4 291.9,158.6 283.8,159.3 275.7,160.3 267.8,161.8 260.1,163.7 252.5,166.1 245.1,168.8 238.0,171.9 231.1,175.4 224.6,179.2 218.3,183.4 212.4,187.9 206.9,192.7 201.7,197.9 197.0,203.3 192.6,208.9 188.7,214.8 185.2,221.0 182.2,227.3 179.7,233.8 177.7,240.5 176.2,247.3 175.1,254.3 174.6,261.3 174.7,268.4 175.4,275.6 176.6,282.7 178.5,289.9 180.9,297.0 183.9,303.9 187.5,310.8 191.7,317.5 196.4,324.0 201.7,330.2 207.5,336.2 213.8,341.9 220.6,347.3 227.8,352.3 235.4,356.8 243.4,361.0 251.7,364.7 260.3,368.0 269.1,370.7 278.2,373.0 287.4,374.7 296.6,375.9 306.0,376.6 315.3,376.7 324.6,376.3 333.7,375.3 342.8,373.8 351.6,371.8 360.1,369.3 368.4,366.3 376.4,362.9 384.0,359.0 391.2,354.7 397.9,349.9 404.2,344.8 410.0,339.4 415.3,333.7 420.1,327.7 424.3,321.5 427.9,315.0 431.0,308.4 433.6,301.6 435.5,294.7 436.9,287.8 437.7,280.8 437.9,273.8 437.6,266.8 436.7,259.9 435.3,253.0 433.5,246.2 431.1,239.5 428.3,233.0 425.1,226.6" fill="url(#g69)"/><polygon points="420.7,221.1 416.5,215.2 412.0,209.4 407.1,203.8 401.8,198.5 396.1,193.5 390.1,188.8 383.8,184.3 377.2,180.2 370.2,176.4 363.1,173.0 355.7,169.9 348.1,167.3 340.3,165.0 332.4,163.1 324.4,161.6 316.3,160.5 308.2,159.9 300.1,159.6 291.9,159.8 283.9,160.5 275.9,161.5 268.0,163.0 260.3,164.9 252.8,167.2 245.5,169.9 238.4,173.0 231.6,176.4 225.0,180.2 218.8,184.4 213.0,188.8 207.4,193.6 202.3,198.7 197.6,204.1 193.2,209.7 189.3,215.6 185.9,221.7 182.9,228.0 180.4,234.5 178.4,241.1 176.8,247.9 175.8,254.8 175.4,261.8 175.4,268.9 176.1,276.0 177.4,283.1 179.2,290.2 181.6,297.3 184.6,304.2 188.2,311.0 192.3,317.7 197.1,324.1 202.3,330.4 208.1,336.3 214.3,342.0 221.0,347.3 228.2,352.2 235.8,356.8 243.7,360.9 252.0,364.6 260.5,367.9 269.3,370.6 278.3,372.8 287.4,374.5 296.6,375.7 305.9,376.4 315.2,376.5 324.4,376.1 333.5,375.2 342.5,373.7 351.2,371.7 359.7,369.2 368.0,366.2 375.9,362.8 383.4,358.9 390.6,354.6 397.3,349.9 403.6,344.9 409.3,339.5 414.6,333.8 419.3,327.8 423.5,321.6 427.2,315.2 430.2,308.6 432.7,301.9 434.7,295.1 436.0,288.2 436.8,281.2 437.1,274.2 436.7,267.3 435.9,260.4 434.5,253.5 432.7,246.8 430.4,240.2 427.6,233.7 424.3,227.3" fill="url(#g70)"/><polygon points="419.9,221.9 415.8,215.9 411.3,210.2 406.4,204.7 401.1,199.4 395.5,194.4 389.5,189.7 383.2,185.3 376.6,181.2 369.8,177.5 362.6,174.1 355.3,171.0 347.8,168.4 340.0,166.1 332.2,164.2 324.2,162.8 316.2,161.7 308.1,161.1 300.1,160.8 292.0,161.0 284.0,161.7 276.1,162.7 268.2,164.2 260.6,166.0 253.1,168.3 245.8,171.0 238.8,174.0 232.0,177.5 225.5,181.2 219.3,185.4 213.5,189.8 208.0,194.6 202.9,199.6 198.2,205.0 193.9,210.6 190.0,216.4 186.5,222.4 183.6,228.7 181.1,235.2 179.1,241.8 177.5,248.5 176.5,255.4 176.1,262.3 176.1,269.4 176.8,276.5 178.1,283.5 179.9,290.6 182.3,297.6 185.3,304.5 188.8,311.3 193.0,317.9 197.7,324.3 202.9,330.5 208.6,336.4 214.8,342.0 221.5,347.3 228.6,352.2 236.2,356.8 244.0,360.9 252.2,364.5 260.7,367.7 269.5,370.5 278.4,372.7 287.5,374.4 296.6,375.6 305.8,376.2 315.0,376.4 324.2,375.9 333.3,375.0 342.2,373.5 350.9,371.6 359.3,369.1 367.5,366.1 375.4,362.7 382.9,358.9 390.0,354.6 396.7,349.9 402.9,344.9 408.6,339.5 413.9,333.9 418.6,328.0 422.7,321.8 426.4,315.4 429.4,308.9 431.9,302.2 433.8,295.4 435.2,288.5 436.0,281.6 436.2,274.7 435.9,267.8 435.1,260.9 433.7,254.1 431.9,247.4 429.6,240.8 426.8,234.3 423.6,228.0" fill="url(#g71)"/><polygon points="419.2,222.6 415.1,216.7 410.6,211.0 405.7,205.5 400.5,200.3 394.9,195.4 388.9,190.7 382.7,186.3 376.1,182.3 369.3,178.5 362.2,175.2 354.9,172.2 347.4,169.5 339.7,167.3 332.0,165.4 324.1,164.0 316.1,162.9 308.1,162.3 300.0,162.1 292.0,162.3 284.1,162.9 276.2,163.9 268.5,165.4 260.8,167.2 253.4,169.5 246.2,172.1 239.2,175.1 232.4,178.5 226.0,182.3 219.8,186.3 214.0,190.8 208.6,195.5 203.5,200.5 198.8,205.8 194.5,211.4 190.6,217.2 187.2,223.2 184.2,229.4 181.7,235.8 179.7,242.4 178.2,249.1 177.2,255.9 176.8,262.9 176.9,269.9 177.5,276.9 178.8,283.9 180.6,291.0 183.0,297.9 186.0,304.8 189.5,311.5 193.6,318.1 198.3,324.5 203.4,330.6 209.1,336.5 215.3,342.1 222.0,347.3 229.0,352.2 236.5,356.7 244.4,360.8 252.5,364.4 261.0,367.6 269.6,370.3 278.5,372.5 287.5,374.2 296.6,375.4 305.8,376.1 314.9,376.2 324.0,375.8 333.0,374.8 341.9,373.4 350.5,371.4 358.9,369.0 367.1,366.0 374.9,362.6 382.3,358.8 389.4,354.6 396.0,349.9 402.2,344.9 407.9,339.6 413.1,334.0 417.8,328.1 422.0,322.0 425.6,315.6 428.6,309.1 431.1,302.5 433.0,295.7 434.4,288.9 435.2,282.0 435.4,275.1 435.1,268.2 434.3,261.4 432.9,254.6 431.1,248.0 428.8,241.4 426.0,235.0 422.8,228.7" fill="url(#g72)"/><polygon points="418.4,223.4 414.4,217.5 409.9,211.8 405.0,206.4 399.8,201.2 394.2,196.3 388.3,191.6 382.1,187.3 375.6,183.3 368.8,179.6 361.7,176.3 354.5,173.3 347.0,170.7 339.4,168.4 331.7,166.6 323.9,165.1 316.0,164.1 308.0,163.5 300.0,163.3 292.1,163.5 284.2,164.1 276.4,165.1 268.7,166.5 261.1,168.4 253.7,170.6 246.5,173.2 239.6,176.2 232.9,179.6 226.5,183.3 220.3,187.3 214.6,191.7 209.1,196.4 204.0,201.4 199.4,206.7 195.1,212.2 191.2,218.0 187.8,223.9 184.9,230.1 182.4,236.5 180.4,243.0 178.9,249.7 177.9,256.5 177.5,263.4 177.6,270.4 178.2,277.3 179.5,284.3 181.3,291.3 183.7,298.2 186.6,305.1 190.1,311.8 194.2,318.3 198.9,324.6 204.0,330.7 209.7,336.6 215.8,342.1 222.4,347.3 229.5,352.2 236.9,356.7 244.7,360.7 252.8,364.4 261.2,367.5 269.8,370.2 278.6,372.4 287.6,374.1 296.6,375.3 305.7,375.9 314.8,376.0 323.8,375.6 332.8,374.7 341.6,373.3 350.2,371.3 358.5,368.9 366.6,365.9 374.4,362.6 381.8,358.8 388.8,354.5 395.4,349.9 401.6,345.0 407.2,339.7 412.4,334.1 417.1,328.2 421.2,322.1 424.8,315.8 427.8,309.4 430.3,302.8 432.2,296.0 433.6,289.3 434.3,282.4 434.6,275.6 434.3,268.7 433.5,261.9 432.1,255.2 430.3,248.6 428.0,242.0 425.3,235.7 422.1,229.4" fill="url(#g73)"/><polygon points="417.7,224.1 413.6,218.3 409.2,212.6 404.4,207.2 399.1,202.1 393.6,197.2 387.7,192.6 381.5,188.3 375.0,184.3 368.3,180.7 361.3,177.4 354.1,174.4 346.7,171.8 339.1,169.6 331.5,167.8 323.7,166.4 315.8,165.3 307.9,164.7 300.0,164.5 292.1,164.7 284.3,165.3 276.5,166.3 268.9,167.7 261.4,169.5 254.0,171.7 246.9,174.3 240.0,177.3 233.3,180.6 226.9,184.3 220.8,188.3 215.1,192.7 209.7,197.4 204.6,202.3 200.0,207.5 195.7,213.0 191.9,218.7 188.5,224.7 185.6,230.9 183.1,237.2 181.1,243.7 179.6,250.3 178.6,257.1 178.2,263.9 178.3,270.9 178.9,277.8 180.2,284.8 182.0,291.7 184.3,298.6 187.3,305.4 190.8,312.0 194.9,318.5 199.5,324.8 204.6,330.9 210.2,336.7 216.3,342.2 222.9,347.4 229.9,352.2 237.3,356.7 245.0,360.7 253.1,364.3 261.4,367.4 269.9,370.1 278.7,372.3 287.6,374.0 296.6,375.1 305.6,375.8 314.7,375.9 323.6,375.5 332.5,374.6 341.3,373.1 349.8,371.2 358.1,368.8 366.2,365.9 373.9,362.5 381.2,358.7 388.2,354.5 394.8,350.0 400.9,345.0 406.5,339.8 411.7,334.2 416.3,328.4 420.4,322.3 424.0,316.1 427.0,309.6 429.5,303.1 431.4,296.4 432.7,289.6 433.5,282.8 433.8,276.0 433.5,269.2 432.6,262.5 431.3,255.8 429.5,249.2 427.2,242.7 424.5,236.3 421.3,230.1" fill="url(#g74)"/><polygon points="416.9,224.9 412.9,219.1 408.5,213.5 403.7,208.1 398.5,203.0 393.0,198.2 387.1,193.6 380.9,189.3 374.5,185.4 367.8,181.8 360.8,178.5 353.7,175.5 346.3,173.0 338.8,170.8 331.2,169.0 323.5,167.6 315.7,166.5 307.8,165.9 300.0,165.7 292.2,165.9 284.4,166.5 276.7,167.5 269.1,168.9 261.6,170.7 254.3,172.9 247.2,175.5 240.4,178.4 233.7,181.7 227.4,185.4 221.3,189.4 215.6,193.7 210.2,198.3 205.2,203.2 200.6,208.4 196.3,213.9 192.5,219.6 189.1,225.5 186.2,231.6 183.8,237.9 181.8,244.3 180.3,250.9 179.3,257.7 178.9,264.5 179.0,271.4 179.6,278.3 180.9,285.2 182.7,292.1 185.0,298.9 188.0,305.7 191.4,312.3 195.5,318.7 200.1,325.0 205.1,331.0 210.7,336.8 216.8,342.3 223.3,347.4 230.3,352.2 237.6,356.6 245.3,360.7 253.3,364.2 261.6,367.4 270.1,370.0 278.8,372.2 287.6,373.8 296.6,375.0 305.6,375.6 314.5,375.7 323.4,375.3 332.3,374.4 341.0,373.0 349.5,371.1 357.7,368.7 365.7,365.8 373.4,362.5 380.7,358.7 387.6,354.5 394.1,350.0 400.2,345.1 405.8,339.9 410.9,334.3 415.6,328.6 419.6,322.5 423.2,316.3 426.2,309.9 428.6,303.4 430.5,296.7 431.9,290.0 432.7,283.3 432.9,276.5 432.6,269.7 431.8,263.0 430.5,256.4 428.7,249.8 426.4,243.3 423.7,237.0 420.5,230.9" fill="url(#g75)"/><polygon points="416.2,225.6 412.2,219.9 407.8,214.3 403.0,209.0 397.8,203.9 392.3,199.1 386.5,194.6 380.4,190.4 374.0,186.4 367.3,182.9 360.4,179.6 353.3,176.7 346.0,174.2 338.5,172.0 331.0,170.2 323.3,168.8 315.5,167.8 307.8,167.2 300.0,167.0 292.2,167.1 284.5,167.7 276.8,168.7 269.3,170.1 261.9,171.9 254.6,174.1 247.6,176.6 240.8,179.5 234.2,182.8 227.9,186.4 221.8,190.4 216.1,194.7 210.8,199.3 205.8,204.1 201.2,209.3 196.9,214.7 193.1,220.4 189.8,226.3 186.9,232.3 184.4,238.6 182.5,245.0 181.0,251.6 180.0,258.3 179.6,265.0 179.7,271.9 180.3,278.8 181.6,285.6 183.3,292.5 185.7,299.3 188.6,306.0 192.1,312.6 196.1,319.0 200.6,325.2 205.7,331.2 211.3,336.9 217.3,342.4 223.8,347.5 230.7,352.3 238.0,356.6 245.6,360.6 253.6,364.2 261.8,367.3 270.3,369.9 278.9,372.1 287.7,373.7 296.6,374.9 305.5,375.5 314.4,375.6 323.3,375.2 332.0,374.3 340.7,372.9 349.1,371.0 357.3,368.6 365.2,365.7 372.9,362.4 380.1,358.7 387.0,354.6 393.5,350.0 399.6,345.2 405.1,340.0 410.2,334.5 414.8,328.7 418.9,322.7 422.4,316.6 425.4,310.2 427.8,303.7 429.7,297.1 431.1,290.4 431.8,283.7 432.1,277.0 431.8,270.2 431.0,263.6 429.7,257.0 427.9,250.4 425.7,244.0 422.9,237.7 419.8,231.6" fill="url(#g76)"/><polygon points="415.4,226.4 411.4,220.7 407.0,215.2 402.3,209.9 397.1,204.9 391.7,200.1 385.9,195.6 379.8,191.4 373.4,187.5 366.8,184.0 359.9,180.7 352.9,177.9 345.6,175.3 338.2,173.2 330.7,171.4 323.1,170.0 315.4,169.0 307.7,168.4 299.9,168.2 292.2,168.4 284.6,169.0 277.0,170.0 269.5,171.3 262.1,173.1 254.9,175.3 247.9,177.8 241.1,180.7 234.6,183.9 228.3,187.5 222.3,191.4 216.7,195.7 211.3,200.2 206.4,205.1 201.8,210.2 197.6,215.6 193.8,221.2 190.4,227.1 187.5,233.1 185.1,239.3 183.1,245.7 181.7,252.2 180.7,258.9 180.3,265.6 180.4,272.4 181.0,279.3 182.3,286.1 184.0,292.9 186.4,299.7 189.3,306.3 192.7,312.9 196.7,319.2 201.2,325.4 206.3,331.4 211.8,337.1 217.8,342.5 224.3,347.6 231.1,352.3 238.4,356.7 245.9,360.6 253.8,364.1 262.0,367.2 270.4,369.9 279.0,372.0 287.7,373.6 296.5,374.8 305.4,375.4 314.3,375.5 323.1,375.1 331.8,374.2 340.3,372.8 348.7,370.9 356.9,368.5 364.8,365.7 372.3,362.4 379.6,358.7 386.4,354.6 392.9,350.1 398.9,345.3 404.4,340.1 409.5,334.6 414.0,328.9 418.1,323.0 421.6,316.8 424.6,310.5 427.0,304.1 428.9,297.5 430.2,290.9 431.0,284.2 431.3,277.5 431.0,270.8 430.2,264.1 428.9,257.6 427.1,251.1 424.9,244.7 422.2,238.4 419.0,232.4" fill="url(#g77)"/><polygon points="414.7,227.2 410.7,221.5 406.3,216.1 401.6,210.8 396.5,205.8 391.0,201.1 385.3,196.6 379.2,192.5 372.9,188.6 366.3,185.1 359.5,181.9 352.5,179.0 345.3,176.5 337.9,174.4 330.5,172.7 322.9,171.3 315.3,170.3 307.6,169.7 299.9,169.5 292.3,169.7 284.6,170.2 277.1,171.2 269.7,172.6 262.4,174.3 255.2,176.5 248.3,179.0 241.5,181.8 235.0,185.0 228.8,188.6 222.8,192.5 217.2,196.7 211.9,201.2 206.9,206.0 202.4,211.1 198.2,216.5 194.4,222.1 191.1,227.9 188.2,233.9 185.8,240.1 183.8,246.4 182.4,252.9 181.4,259.5 181.0,266.2 181.1,273.0 181.7,279.8 183.0,286.6 184.7,293.3 187.1,300.0 189.9,306.7 193.4,313.2 197.3,319.5 201.8,325.6 206.8,331.6 212.3,337.2 218.3,342.6 224.7,347.6 231.5,352.4 238.7,356.7 246.3,360.6 254.1,364.1 262.2,367.2 270.6,369.8 279.1,371.9 287.8,373.5 296.5,374.7 305.3,375.3 314.1,375.4 322.9,375.0 331.5,374.1 340.0,372.7 348.4,370.8 356.5,368.5 364.3,365.7 371.8,362.4 379.0,358.7 385.8,354.6 392.2,350.2 398.2,345.3 403.7,340.2 408.7,334.8 413.3,329.1 417.3,323.2 420.8,317.1 423.7,310.8 426.2,304.4 428.0,297.9 429.4,291.3 430.2,284.6 430.4,278.0 430.1,271.3 429.4,264.7 428.1,258.2 426.3,251.7 424.1,245.4 421.4,239.2 418.2,233.1" fill="url(#g78)"/><polygon points="413.9,228.0 410.0,222.4 405.6,217.0 400.9,211.7 395.8,206.8 390.4,202.1 384.7,197.7 378.6,193.5 372.3,189.7 365.8,186.2 359.0,183.0 352.1,180.2 344.9,177.7 337.6,175.6 330.2,173.9 322.7,172.5 315.1,171.6 307.5,171.0 299.9,170.8 292.3,170.9 284.7,171.5 277.3,172.5 269.9,173.8 262.6,175.6 255.5,177.7 248.6,180.1 241.9,183.0 235.4,186.2 229.2,189.7 223.3,193.6 217.7,197.7 212.4,202.2 207.5,207.0 202.9,212.0 198.8,217.4 195.0,222.9 191.7,228.7 188.8,234.6 186.4,240.8 184.5,247.1 183.0,253.6 182.1,260.1 181.7,266.8 181.8,273.5 182.4,280.3 183.7,287.0 185.4,293.8 187.7,300.4 190.6,307.0 194.0,313.5 198.0,319.8 202.4,325.9 207.4,331.8 212.9,337.4 218.8,342.7 225.2,347.7 231.9,352.4 239.1,356.7 246.6,360.6 254.4,364.1 262.4,367.2 270.7,369.7 279.2,371.8 287.8,373.5 296.5,374.6 305.2,375.2 314.0,375.3 322.7,374.9 331.3,374.0 339.7,372.7 348.0,370.8 356.1,368.4 363.8,365.6 371.3,362.4 378.5,358.7 385.2,354.7 391.6,350.2 397.5,345.5 403.0,340.4 408.0,335.0 412.5,329.3 416.5,323.5 420.0,317.4 422.9,311.1 425.3,304.8 427.2,298.3 428.5,291.7 429.3,285.1 429.6,278.5 429.3,271.9 428.5,265.3 427.3,258.8 425.5,252.4 423.3,246.1 420.6,239.9 417.5,233.9" fill="url(#g79)"/><polygon points="413.2,228.9 409.2,223.3 404.9,217.9 400.2,212.7 395.1,207.7 389.7,203.1 384.0,198.7 378.1,194.6 371.8,190.8 365.3,187.3 358.6,184.2 351.6,181.4 344.5,179.0 337.3,176.9 330.0,175.2 322.5,173.8 315.0,172.8 307.4,172.2 299.9,172.0 292.3,172.2 284.8,172.8 277.4,173.7 270.1,175.1 262.9,176.8 255.8,178.9 249.0,181.3 242.3,184.1 235.9,187.3 229.7,190.8 223.8,194.6 218.2,198.8 213.0,203.2 208.1,208.0 203.5,213.0 199.4,218.3 195.7,223.8 192.4,229.5 189.5,235.4 187.1,241.6 185.2,247.8 183.7,254.3 182.8,260.8 182.4,267.4 182.5,274.1 183.1,280.8 184.3,287.5 186.1,294.2 188.4,300.8 191.3,307.4 194.7,313.8 198.6,320.1 203.0,326.1 208.0,332.0 213.4,337.6 219.3,342.9 225.6,347.8 232.3,352.5 239.4,356.8 246.9,360.6 254.6,364.1 262.6,367.1 270.9,369.7 279.3,371.8 287.8,373.4 296.5,374.5 305.2,375.1 313.8,375.2 322.5,374.9 331.0,374.0 339.4,372.6 347.6,370.7 355.6,368.4 363.4,365.6 370.8,362.4 377.9,358.8 384.6,354.7 390.9,350.3 396.8,345.6 402.3,340.5 407.3,335.2 411.7,329.6 415.7,323.7 419.2,317.7 422.1,311.5 424.5,305.1 426.4,298.7 427.7,292.2 428.5,285.6 428.7,279.0 428.5,272.4 427.7,265.9 426.4,259.4 424.7,253.1 422.5,246.8 419.8,240.7 416.7,234.7" fill="url(#g80)"/><polygon points="412.4,229.7 408.5,224.1 404.2,218.8 399.5,213.6 394.4,208.8 389.1,204.1 383.4,199.8 377.5,195.7 371.2,192.0 364.8,188.5 358.1,185.4 351.2,182.6 344.2,180.2 337.0,178.1 329.7,176.4 322.3,175.1 314.8,174.1 307.3,173.6 299.8,173.4 292.3,173.5 284.9,174.1 277.5,175.0 270.3,176.4 263.1,178.1 256.1,180.1 249.3,182.6 242.7,185.3 236.3,188.5 230.2,191.9 224.3,195.7 218.8,199.9 213.5,204.3 208.6,209.0 204.1,214.0 200.0,219.2 196.3,224.7 193.0,230.4 190.1,236.3 187.8,242.4 185.8,248.6 184.4,255.0 183.5,261.5 183.1,268.0 183.2,274.7 183.8,281.4 185.0,288.0 186.8,294.7 189.1,301.3 191.9,307.8 195.3,314.2 199.2,320.4 203.6,326.4 208.5,332.2 213.9,337.8 219.8,343.0 226.1,348.0 232.7,352.6 239.8,356.8 247.2,360.7 254.9,364.1 262.8,367.1 271.0,369.7 279.4,371.8 287.9,373.4 296.4,374.5 305.1,375.1 313.7,375.2 322.3,374.8 330.8,373.9 339.1,372.6 347.3,370.7 355.2,368.4 362.9,365.6 370.3,362.4 377.3,358.8 384.0,354.8 390.3,350.4 396.2,345.7 401.6,340.7 406.5,335.4 411.0,329.8 414.9,324.0 418.4,318.0 421.3,311.8 423.7,305.5 425.5,299.1 426.8,292.7 427.6,286.1 427.9,279.6 427.6,273.0 426.9,266.6 425.6,260.1 423.9,253.8 421.7,247.5 419.0,241.4 415.9,235.5" fill="url(#g81)"/><polygon points="411.6,230.7 407.7,225.1 403.4,219.8 398.8,214.7 393.8,209.8 388.4,205.2 382.8,200.9 376.9,196.9 370.7,193.2 364.3,189.8 357.6,186.7 350.8,183.9 343.8,181.5 336.7,179.5 329.4,177.8 322.1,176.5 314.7,175.5 307.2,174.9 299.8,174.7 292.4,174.9 285.0,175.5 277.7,176.4 270.4,177.7 263.3,179.4 256.4,181.4 249.6,183.8 243.1,186.6 236.7,189.7 230.6,193.2 224.8,196.9 219.3,201.0 214.1,205.4 209.2,210.1 204.7,215.0 200.6,220.2 196.9,225.6 193.6,231.3 190.8,237.2 188.4,243.2 186.5,249.4 185.1,255.8 184.2,262.2 183.8,268.8 183.9,275.4 184.5,282.0 185.7,288.6 187.5,295.2 189.8,301.8 192.6,308.2 195.9,314.6 199.8,320.8 204.2,326.7 209.1,332.5 214.4,338.0 220.3,343.3 226.5,348.2 233.1,352.8 240.1,357.0 247.5,360.8 255.1,364.2 263.0,367.2 271.2,369.7 279.5,371.8 287.9,373.4 296.4,374.5 305.0,375.1 313.5,375.2 322.1,374.8 330.5,374.0 338.8,372.6 346.9,370.8 354.8,368.5 362.4,365.7 369.7,362.5 376.7,358.9 383.4,355.0 389.6,350.6 395.5,345.9 400.8,340.9 405.7,335.7 410.2,330.1 414.1,324.4 417.5,318.4 420.4,312.3 422.8,306.0 424.6,299.6 426.0,293.2 426.7,286.7 427.0,280.2 426.8,273.7 426.0,267.3 424.7,260.9 423.0,254.6 420.8,248.4 418.2,242.3 415.1,236.4" fill="url(#g82)"/><polygon points="410.8,231.7 406.9,226.2 402.6,220.9 398.0,215.8 393.0,211.0 387.7,206.5 382.1,202.2 376.2,198.2 370.1,194.5 363.7,191.1 357.1,188.1 350.3,185.3 343.4,183.0 336.3,180.9 329.1,179.3 321.9,178.0 314.5,177.0 307.1,176.5 299.7,176.3 292.4,176.4 285.0,177.0 277.8,177.9 270.6,179.2 263.6,180.9 256.7,182.9 250.0,185.3 243.4,188.0 237.1,191.1 231.1,194.5 225.3,198.2 219.8,202.3 214.6,206.6 209.8,211.3 205.3,216.2 201.2,221.3 197.5,226.7 194.3,232.4 191.5,238.2 189.1,244.2 187.2,250.4 185.8,256.7 184.9,263.1 184.5,269.6 184.6,276.1 185.2,282.7 186.4,289.3 188.2,295.9 190.4,302.4 193.2,308.8 196.6,315.1 200.4,321.3 204.8,327.2 209.6,332.9 215.0,338.4 220.7,343.6 226.9,348.5 233.5,353.1 240.5,357.2 247.8,361.0 255.4,364.4 263.2,367.4 271.3,369.9 279.5,372.0 287.9,373.5 296.4,374.6 304.9,375.2 313.4,375.3 321.8,375.0 330.2,374.1 338.4,372.7 346.5,370.9 354.3,368.6 361.9,365.9 369.2,362.8 376.1,359.2 382.7,355.2 388.9,350.9 394.7,346.3 400.1,341.3 404.9,336.1 409.3,330.5 413.2,324.8 416.6,318.9 419.5,312.8 421.9,306.6 423.7,300.3 425.0,293.9 425.8,287.4 426.1,280.9 425.9,274.5 425.1,268.1 423.9,261.7 422.2,255.4 420.0,249.3 417.3,243.3 414.3,237.4" fill="url(#g83)"/><polygon points="409.9,232.9 406.1,227.4 401.8,222.2 397.2,217.2 392.3,212.4 387.0,207.9 381.4,203.6 375.6,199.6 369.5,196.0 363.1,192.6 356.6,189.6 349.9,186.9 343.0,184.6 336.0,182.6 328.8,180.9 321.6,179.6 314.3,178.7 307.0,178.1 299.7,177.9 292.4,178.1 285.1,178.7 277.9,179.6 270.8,180.8 263.8,182.5 256.9,184.5 250.3,186.9 243.8,189.6 237.5,192.6 231.5,196.0 225.8,199.7 220.3,203.7 215.2,208.0 210.4,212.6 205.9,217.5 201.8,222.6 198.2,228.0 194.9,233.6 192.1,239.4 189.8,245.3 187.9,251.5 186.5,257.7 185.6,264.1 185.2,270.6 185.3,277.1 186.0,283.6 187.1,290.2 188.9,296.7 191.1,303.2 193.9,309.6 197.2,315.8 201.1,321.9 205.4,327.8 210.2,333.5 215.5,339.0 221.2,344.1 227.4,349.0 233.9,353.5 240.8,357.6 248.1,361.4 255.6,364.8 263.4,367.7 271.4,370.2 279.6,372.3 287.9,373.8 296.3,374.9 304.7,375.5 313.2,375.6 321.6,375.2 329.9,374.4 338.0,373.0 346.0,371.2 353.8,369.0 361.3,366.3 368.6,363.1 375.5,359.6 382.0,355.7 388.2,351.4 393.9,346.7 399.2,341.8 404.1,336.6 408.5,331.1 412.4,325.4 415.7,319.6 418.6,313.5 420.9,307.3 422.8,301.0 424.1,294.7 424.9,288.3 425.1,281.8 424.9,275.4 424.2,269.1 422.9,262.7 421.2,256.5 419.1,250.4 416.5,244.4 413.4,238.6" fill="url(#g84)"/><polygon points="409.0,234.3 405.2,228.9 401.0,223.6 396.4,218.6 391.5,213.9 386.2,209.4 380.7,205.2 374.9,201.3 368.8,197.7 362.5,194.4 356.0,191.4 349.4,188.7 342.5,186.4 335.6,184.4 328.5,182.7 321.3,181.5 314.1,180.5 306.8,180.0 299.6,179.8 292.3,180.0 285.1,180.5 278.0,181.4 270.9,182.7 264.0,184.3 257.2,186.3 250.6,188.6 244.1,191.3 237.9,194.3 231.9,197.7 226.2,201.3 220.8,205.3 215.7,209.6 210.9,214.2 206.5,219.0 202.4,224.1 198.8,229.4 195.6,235.0 192.8,240.7 190.4,246.7 188.6,252.7 187.2,259.0 186.3,265.3 185.9,271.7 186.0,278.2 186.7,284.7 187.8,291.2 189.6,297.7 191.8,304.1 194.6,310.5 197.9,316.7 201.7,322.7 206.0,328.6 210.8,334.2 216.0,339.7 221.7,344.8 227.8,349.6 234.3,354.1 241.2,358.2 248.3,362.0 255.8,365.3 263.5,368.2 271.5,370.7 279.6,372.7 287.9,374.3 296.2,375.3 304.6,375.9 312.9,376.1 321.3,375.7 329.5,374.8 337.6,373.5 345.6,371.7 353.3,369.4 360.8,366.8 367.9,363.6 374.8,360.1 381.3,356.2 387.4,352.0 393.1,347.4 398.4,342.5 403.2,337.3 407.5,331.9 411.4,326.2 414.8,320.4 417.6,314.4 420.0,308.2 421.8,302.0 423.1,295.7 423.9,289.3 424.1,282.9 423.9,276.5 423.2,270.2 422.0,263.9 420.3,257.7 418.1,251.6 415.5,245.7 412.5,239.9" fill="url(#g85)"/><polygon points="408.1,235.7 404.3,230.3 400.1,225.1 395.5,220.2 390.7,215.5 385.4,211.0 379.9,206.9 374.2,203.0 368.2,199.4 361.9,196.1 355.5,193.1 348.8,190.5 342.1,188.2 335.2,186.2 328.1,184.6 321.0,183.4 313.9,182.4 306.7,181.9 299.5,181.7 292.3,181.9 285.1,182.4 278.1,183.3 271.1,184.6 264.2,186.2 257.4,188.1 250.9,190.4 244.5,193.1 238.3,196.1 232.4,199.4 226.7,203.0 221.3,207.0 216.2,211.2 211.5,215.8 207.1,220.6 203.1,225.6 199.4,230.9 196.2,236.4 193.4,242.1 191.1,248.0 189.2,254.1 187.9,260.3 187.0,266.6 186.6,273.0 186.7,279.4 187.4,285.9 188.6,292.3 190.3,298.8 192.5,305.1 195.2,311.4 198.5,317.6 202.3,323.6 206.6,329.4 211.3,335.0 216.5,340.4 222.2,345.5 228.2,350.3 234.7,354.7 241.5,358.8 248.6,362.6 256.0,365.9 263.7,368.8 271.6,371.2 279.6,373.2 287.8,374.8 296.1,375.8 304.4,376.4 312.7,376.5 321.0,376.2 329.2,375.3 337.2,374.0 345.1,372.2 352.7,370.0 360.2,367.3 367.3,364.2 374.1,360.7 380.5,356.9 386.6,352.6 392.3,348.1 397.5,343.2 402.3,338.1 406.6,332.7 410.4,327.1 413.8,321.3 416.6,315.3 418.9,309.2 420.8,303.0 422.1,296.7 422.8,290.4 423.1,284.0 422.9,277.7 422.2,271.4 421.0,265.2 419.3,259.0 417.1,253.0 414.6,247.1 411.5,241.3" fill="url(#g86)"/><polygon points="407.3,237.0 403.5,231.6 399.3,226.5 394.8,221.6 389.9,216.9 384.8,212.5 379.3,208.3 373.6,204.5 367.6,200.9 361.4,197.6 355.0,194.7 348.4,192.0 341.7,189.8 334.8,187.8 327.8,186.2 320.8,184.9 313.7,184.0 306.5,183.5 299.4,183.3 292.2,183.5 285.1,184.0 278.1,184.9 271.2,186.1 264.3,187.7 257.6,189.7 251.1,192.0 244.8,194.6 238.6,197.6 232.7,200.9 227.1,204.5 221.7,208.5 216.7,212.7 212.0,217.2 207.6,221.9 203.6,227.0 200.0,232.2 196.8,237.7 194.1,243.4 191.8,249.3 189.9,255.3 188.5,261.4 187.7,267.7 187.3,274.0 187.4,280.4 188.1,286.8 189.3,293.3 190.9,299.7 193.2,306.0 195.9,312.2 199.1,318.4 202.9,324.3 207.1,330.1 211.9,335.7 217.0,341.0 222.6,346.1 228.7,350.8 235.1,355.2 241.8,359.3 248.9,363.0 256.2,366.3 263.9,369.2 271.7,371.6 279.7,373.6 287.8,375.1 296.0,376.2 304.3,376.8 312.5,376.9 320.7,376.5 328.8,375.7 336.8,374.4 344.6,372.6 352.2,370.4 359.6,367.7 366.7,364.6 373.4,361.2 379.8,357.3 385.9,353.1 391.5,348.6 396.7,343.8 401.4,338.7 405.7,333.3 409.5,327.8 412.9,322.0 415.7,316.1 418.0,310.0 419.8,303.8 421.1,297.6 421.9,291.3 422.1,285.0 421.9,278.7 421.2,272.5 420.0,266.3 418.4,260.1 416.2,254.1 413.7,248.3 410.7,242.5" fill="url(#g87)"/><polygon points="406.5,237.9 402.8,232.6 398.6,227.5 394.1,222.6 389.3,218.0 384.2,213.6 378.7,209.4 373.1,205.6 367.1,202.0 361.0,198.8 354.6,195.9 348.1,193.3 341.4,191.0 334.5,189.0 327.6,187.4 320.6,186.2 313.5,185.3 306.4,184.8 299.3,184.6 292.2,184.7 285.2,185.3 278.2,186.1 271.3,187.4 264.5,189.0 257.8,190.9 251.4,193.2 245.0,195.8 239.0,198.8 233.1,202.1 227.5,205.7 222.2,209.6 217.2,213.8 212.5,218.3 208.1,223.0 204.2,228.0 200.6,233.2 197.4,238.7 194.7,244.3 192.4,250.2 190.6,256.1 189.2,262.3 188.4,268.5 188.0,274.8 188.1,281.1 188.8,287.5 189.9,293.9 191.6,300.3 193.8,306.6 196.5,312.8 199.8,318.8 203.5,324.8 207.7,330.5 212.4,336.0 217.5,341.3 223.1,346.4 229.1,351.1 235.4,355.5 242.2,359.5 249.2,363.2 256.5,366.4 264.0,369.3 271.8,371.7 279.8,373.7 287.8,375.2 296.0,376.3 304.2,376.8 312.3,377.0 320.5,376.6 328.5,375.7 336.5,374.4 344.2,372.7 351.8,370.5 359.1,367.8 366.1,364.8 372.8,361.4 379.2,357.5 385.2,353.4 390.8,348.9 395.9,344.1 400.7,339.0 404.9,333.7 408.7,328.2 412.0,322.4 414.8,316.5 417.1,310.5 418.9,304.4 420.2,298.2 421.0,292.0 421.3,285.7 421.1,279.4 420.4,273.2 419.2,267.0 417.5,261.0 415.4,255.0 412.9,249.2 409.9,243.5" fill="url(#g88)"/><polygon points="405.7,238.7 402.0,233.4 397.9,228.3 393.4,223.4 388.6,218.8 383.5,214.5 378.2,210.4 372.5,206.5 366.6,203.0 360.5,199.8 354.2,196.9 347.7,194.3 341.0,192.0 334.3,190.1 327.4,188.5 320.4,187.3 313.4,186.4 306.4,185.8 299.3,185.7 292.3,185.8 285.3,186.4 278.3,187.2 271.5,188.5 264.7,190.1 258.1,192.0 251.7,194.3 245.4,196.9 239.4,199.8 233.6,203.1 228.0,206.7 222.7,210.5 217.8,214.7 213.1,219.1 208.8,223.9 204.9,228.8 201.3,234.0 198.2,239.4 195.5,245.0 193.2,250.8 191.4,256.8 190.1,262.8 189.2,269.0 188.8,275.3 189.0,281.6 189.6,287.9 190.8,294.2 192.5,300.5 194.6,306.8 197.3,312.9 200.6,319.0 204.3,324.9 208.4,330.6 213.1,336.1 218.2,341.3 223.7,346.3 229.6,351.0 235.9,355.3 242.6,359.3 249.6,363.0 256.8,366.2 264.3,369.0 272.0,371.4 279.9,373.4 287.9,374.9 296.0,375.9 304.1,376.5 312.2,376.6 320.3,376.3 328.3,375.4 336.2,374.1 343.8,372.4 351.3,370.2 358.6,367.6 365.6,364.6 372.2,361.2 378.5,357.4 384.5,353.2 390.0,348.8 395.1,344.0 399.8,339.0 404.1,333.7 407.8,328.2 411.1,322.5 413.9,316.7 416.2,310.7 418.0,304.7 419.2,298.5 420.0,292.3 420.3,286.1 420.1,279.9 419.4,273.7 418.2,267.6 416.6,261.5 414.5,255.6 412.0,249.8 409.1,244.2" fill="url(#g89)"/><polygon points="405.7,238.7 402.0,233.4 397.9,228.3 393.4,223.4 388.6,218.8 383.5,214.5 378.2,210.4 372.5,206.5 366.6,203.0 360.5,199.8 354.2,196.9 347.7,194.3 341.0,192.0 334.3,190.1 327.4,188.5 320.4,187.3 313.4,186.4 306.4,185.8 299.3,185.7 292.3,185.8 285.3,186.4 278.3,187.2 271.5,188.5 264.7,190.1 258.1,192.0 251.7,194.3 245.4,196.9 239.4,199.8 233.6,203.1 228.0,206.7 222.7,210.5 217.8,214.7 213.1,219.1 208.8,223.9 204.9,228.8 201.3,234.0 198.2,239.4 195.5,245.0 193.2,250.8 191.4,256.8 190.1,262.8 189.2,269.0 188.8,275.3 189.0,281.6 189.6,287.9 190.8,294.2 192.5,300.5 194.6,306.8 197.3,312.9 200.6,319.0 204.3,324.9 208.4,330.6 213.1,336.1 218.2,341.3 223.7,346.3 229.6,351.0 235.9,355.3 242.6,359.3 249.6,363.0 256.8,366.2 264.3,369.0 272.0,371.4 279.9,373.4 287.9,374.9 296.0,375.9 304.1,376.5 312.2,376.6 320.3,376.3 328.3,375.4 336.2,374.1 343.8,372.4 351.3,370.2 358.6,367.6 365.6,364.6 372.2,361.2 378.5,357.4 384.5,353.2 390.0,348.8 395.1,344.0 399.8,339.0 404.1,333.7 407.8,328.2 411.1,322.5 413.9,316.7 416.2,310.7 418.0,304.7 419.2,298.5 420.0,292.3 420.3,286.1 420.1,279.9 419.4,273.7 418.2,267.6 416.6,261.5 414.5,255.6 412.0,249.8 409.1,244.2" fill="url(#fl)"/><polygon points="403.6,239.7 399.9,234.5 395.9,229.5 391.6,224.7 386.9,220.2 381.9,215.9 376.6,211.9 371.1,208.1 365.3,204.7 359.3,201.5 353.2,198.7 346.8,196.1 340.3,193.9 333.7,192.0 326.9,190.5 320.1,189.2 313.2,188.4 306.3,187.8 299.4,187.7 292.5,187.8 285.6,188.3 278.8,189.2 272.1,190.4 265.5,192.0 259.0,193.9 252.7,196.1 246.6,198.7 240.7,201.6 235.0,204.8 229.6,208.3 224.4,212.1 219.5,216.2 215.0,220.5 210.8,225.1 206.9,230.0 203.5,235.1 200.4,240.4 197.8,245.9 195.6,251.6 193.8,257.4 192.5,263.3 191.7,269.4 191.3,275.5 191.5,281.7 192.1,287.9 193.3,294.1 194.9,300.2 197.1,306.3 199.7,312.3 202.9,318.2 206.5,324.0 210.6,329.6 215.1,334.9 220.1,340.0 225.5,344.9 231.3,349.5 237.5,353.7 244.0,357.6 250.8,361.2 257.9,364.3 265.2,367.1 272.8,369.5 280.4,371.4 288.3,372.8 296.2,373.9 304.1,374.4 312.0,374.5 319.9,374.2 327.7,373.4 335.4,372.1 342.9,370.4 350.3,368.3 357.3,365.7 364.2,362.8 370.7,359.4 376.8,355.8 382.7,351.7 388.1,347.4 393.1,342.7 397.7,337.8 401.8,332.7 405.5,327.3 408.7,321.7 411.5,316.0 413.7,310.2 415.5,304.2 416.8,298.2 417.5,292.2 417.8,286.1 417.6,280.0 417.0,273.9 415.8,268.0 414.2,262.0 412.2,256.2 409.7,250.6 406.9,245.0" fill="url(#g90)"/><polygon points="401.3,240.5 397.7,235.4 393.8,230.6 389.5,225.9 385.0,221.5 380.1,217.3 375.0,213.4 369.6,209.7 363.9,206.3 358.1,203.2 352.1,200.4 345.8,198.0 339.5,195.8 333.0,193.9 326.4,192.4 319.8,191.2 313.0,190.4 306.3,189.9 299.5,189.7 292.8,189.8 286.1,190.4 279.4,191.2 272.9,192.4 266.4,193.9 260.1,195.8 254.0,198.0 248.0,200.5 242.2,203.3 236.7,206.4 231.3,209.8 226.3,213.6 221.6,217.6 217.1,221.8 213.0,226.3 209.3,231.1 205.9,236.1 203.0,241.2 200.4,246.6 198.2,252.1 196.5,257.8 195.3,263.6 194.5,269.5 194.1,275.5 194.3,281.5 194.9,287.5 196.1,293.6 197.7,299.6 199.8,305.5 202.4,311.4 205.5,317.1 209.0,322.7 213.0,328.2 217.5,333.4 222.3,338.4 227.6,343.1 233.3,347.5 239.3,351.7 245.6,355.5 252.2,358.9 259.1,362.0 266.3,364.7 273.6,367.0 281.1,368.8 288.7,370.3 296.4,371.3 304.1,371.8 311.8,371.9 319.5,371.6 327.1,370.8 334.6,369.6 341.9,367.9 349.1,365.8 356.0,363.4 362.6,360.5 369.0,357.3 375.0,353.7 380.7,349.7 386.0,345.5 390.9,341.0 395.3,336.2 399.4,331.2 403.0,326.0 406.1,320.6 408.8,315.0 411.0,309.3 412.7,303.5 414.0,297.7 414.8,291.7 415.1,285.8 414.9,279.9 414.2,274.0 413.1,268.1 411.6,262.4 409.6,256.7 407.2,251.2 404.4,245.7" fill="#0000a6"/><polygon points="398.9,241.3 395.5,236.4 391.7,231.6 387.5,227.1 383.1,222.7 378.3,218.7 373.3,214.8 368.0,211.2 362.5,207.9 356.8,204.9 350.9,202.2 344.9,199.8 338.7,197.6 332.3,195.8 325.9,194.4 319.4,193.2 312.9,192.4 306.3,191.9 299.7,191.7 293.1,191.8 286.5,192.3 280.1,193.2 273.7,194.3 267.4,195.8 261.2,197.6 255.2,199.8 249.4,202.2 243.7,205.0 238.3,208.0 233.1,211.4 228.2,215.0 223.6,218.9 219.3,223.1 215.3,227.5 211.7,232.2 208.4,237.0 205.5,242.1 203.0,247.3 200.9,252.7 199.3,258.2 198.0,263.9 197.3,269.6 197.0,275.4 197.1,281.3 197.8,287.2 198.9,293.1 200.5,298.9 202.5,304.7 205.1,310.4 208.1,316.0 211.5,321.5 215.4,326.7 219.8,331.8 224.5,336.7 229.7,341.3 235.2,345.6 241.0,349.6 247.2,353.3 253.7,356.7 260.4,359.7 267.3,362.3 274.5,364.5 281.7,366.3 289.2,367.7 296.6,368.6 304.1,369.2 311.7,369.3 319.1,369.0 326.5,368.2 333.8,367.0 341.0,365.4 347.9,363.4 354.6,361.0 361.1,358.2 367.3,355.1 373.1,351.6 378.7,347.8 383.8,343.6 388.6,339.2 393.0,334.6 396.9,329.7 400.5,324.6 403.5,319.4 406.2,314.0 408.3,308.4 410.0,302.8 411.2,297.1 412.0,291.3 412.3,285.5 412.1,279.7 411.5,274.0 410.5,268.3 409.0,262.7 407.1,257.1 404.7,251.7 402.0,246.4" fill="url(#g92)"/><polygon points="396.6,242.1 393.2,237.3 389.5,232.7 385.5,228.2 381.2,224.0 376.5,220.0 371.6,216.3 366.5,212.8 361.2,209.5 355.6,206.6 349.8,203.9 343.9,201.6 337.9,199.5 331.7,197.7 325.4,196.3 319.1,195.1 312.7,194.3 306.2,193.8 299.8,193.7 293.4,193.8 287.0,194.3 280.7,195.1 274.4,196.3 268.3,197.7 262.3,199.5 256.4,201.6 250.7,204.0 245.2,206.7 240.0,209.7 234.9,212.9 230.1,216.5 225.6,220.3 221.4,224.4 217.6,228.7 214.0,233.2 210.8,237.9 208.0,242.9 205.6,248.0 203.6,253.2 202.0,258.6 200.8,264.1 200.1,269.7 199.8,275.4 200.0,281.1 200.6,286.8 201.7,292.6 203.3,298.3 205.3,303.9 207.8,309.4 210.7,314.9 214.1,320.2 217.9,325.3 222.1,330.2 226.7,335.0 231.7,339.4 237.1,343.6 242.8,347.5 248.8,351.1 255.1,354.4 261.6,357.3 268.4,359.8 275.3,362.0 282.4,363.7 289.6,365.1 296.9,366.0 304.2,366.5 311.5,366.6 318.8,366.3 326.0,365.6 333.1,364.4 340.0,362.9 346.7,360.9 353.3,358.6 359.6,355.9 365.6,352.8 371.3,349.5 376.7,345.8 381.7,341.8 386.4,337.5 390.7,333.0 394.5,328.2 397.9,323.3 400.9,318.2 403.5,312.9 405.6,307.5 407.3,302.0 408.5,296.4 409.2,290.8 409.5,285.2 409.4,279.6 408.8,274.0 407.8,268.4 406.4,262.9 404.5,257.5 402.2,252.3 399.6,247.1" fill="url(#g93)"/><polygon points="394.3,242.9 391.0,238.2 387.4,233.7 383.5,229.4 379.2,225.3 374.7,221.4 370.0,217.7 365.0,214.3 359.8,211.1 354.3,208.3 348.7,205.7 343.0,203.4 337.1,201.3 331.0,199.6 324.9,198.2 318.7,197.1 312.5,196.3 306.2,195.8 299.9,195.7 293.7,195.8 287.5,196.3 281.3,197.1 275.2,198.2 269.2,199.6 263.4,201.3 257.7,203.4 252.1,205.7 246.8,208.4 241.6,211.3 236.7,214.5 232.1,217.9 227.7,221.7 223.6,225.6 219.8,229.8 216.4,234.2 213.3,238.9 210.6,243.7 208.2,248.6 206.3,253.8 204.7,259.0 203.6,264.4 202.9,269.8 202.6,275.3 202.8,280.9 203.4,286.5 204.5,292.0 206.0,297.6 208.0,303.1 210.4,308.5 213.3,313.7 216.6,318.9 220.3,323.9 224.4,328.7 228.9,333.2 233.8,337.6 239.0,341.7 244.5,345.5 250.4,348.9 256.5,352.1 262.9,354.9 269.4,357.4 276.2,359.5 283.1,361.2 290.0,362.5 297.1,363.4 304.2,363.9 311.3,364.0 318.4,363.7 325.4,363.0 332.3,361.9 339.0,360.4 345.6,358.5 351.9,356.2 358.1,353.6 363.9,350.6 369.5,347.3 374.7,343.8 379.6,339.9 384.2,335.7 388.3,331.3 392.1,326.7 395.4,321.9 398.4,316.9 400.9,311.8 402.9,306.6 404.6,301.2 405.7,295.8 406.5,290.4 406.8,284.9 406.7,279.4 406.1,274.0 405.1,268.5 403.7,263.2 401.9,258.0 399.7,252.8 397.2,247.8" fill="url(#g94)"/><polygon points="391.9,244.1 388.8,239.5 385.2,235.1 381.4,230.9 377.3,226.9 373.0,223.1 368.3,219.5 363.4,216.2 358.4,213.1 353.1,210.3 347.6,207.7 342.0,205.5 336.3,203.5 330.4,201.8 324.4,200.5 318.4,199.4 312.3,198.6 306.2,198.1 300.1,198.0 294.0,198.1 287.9,198.6 281.9,199.4 276.0,200.5 270.1,201.9 264.4,203.5 258.9,205.5 253.5,207.8 248.3,210.4 243.3,213.2 238.5,216.4 234.0,219.7 229.7,223.4 225.7,227.2 222.1,231.3 218.7,235.6 215.7,240.1 213.1,244.8 210.8,249.7 208.9,254.7 207.4,259.8 206.3,265.0 205.6,270.3 205.4,275.7 205.6,281.1 206.2,286.5 207.3,291.9 208.8,297.3 210.7,302.6 213.1,307.9 215.9,313.0 219.1,318.0 222.7,322.8 226.7,327.5 231.1,331.9 235.8,336.2 240.9,340.1 246.3,343.8 251.9,347.2 257.9,350.3 264.1,353.0 270.4,355.4 277.0,357.4 283.7,359.1 290.5,360.3 297.3,361.2 304.2,361.7 311.2,361.8 318.0,361.5 324.8,360.8 331.5,359.8 338.1,358.3 344.4,356.5 350.6,354.3 356.6,351.7 362.3,348.8 367.7,345.7 372.8,342.2 377.5,338.4 382.0,334.4 386.0,330.1 389.7,325.6 392.9,321.0 395.8,316.1 398.2,311.2 400.3,306.1 401.9,300.9 403.0,295.6 403.8,290.3 404.1,285.0 403.9,279.6 403.4,274.3 402.5,269.0 401.1,263.8 399.4,258.7 397.3,253.7 394.8,248.8" fill="url(#g95)"/><polygon points="389.6,245.4 384.9,238.7 379.4,232.5 373.3,226.7 366.7,221.4 359.5,216.6 351.8,212.4 343.8,208.8 335.4,205.8 326.8,203.5 318.1,201.8 309.2,200.8 300.2,200.4 291.3,200.8 282.5,201.8 273.9,203.5 265.5,205.9 257.4,208.9 249.8,212.6 242.6,216.8 235.9,221.7 229.8,227.1 224.3,233.0 219.6,239.3 215.6,246.1 212.4,253.2 210.1,260.7 208.7,268.3 208.2,276.1 208.6,284.0 210.0,291.9 212.4,299.8 215.7,307.4 219.9,314.9 225.0,322.0 231.0,328.7 237.8,334.9 245.3,340.5 253.5,345.6 262.2,349.9 271.5,353.5 281.1,356.4 290.9,358.3 300.9,359.5 311.0,359.8 320.9,359.2 330.7,357.8 340.2,355.5 349.3,352.5 357.9,348.6 365.9,344.1 373.2,338.9 379.8,333.2 385.5,326.9 390.5,320.1 394.5,313.1 397.6,305.7 399.8,298.1 401.0,290.3 401.3,282.6 400.7,274.8 399.2,267.1 396.8,259.6 393.6,252.4" fill="url(#g96)"/><polygon points="387.3,246.7 382.7,240.2 377.4,234.1 371.5,228.5 365.0,223.3 358.0,218.7 350.6,214.6 342.8,211.1 334.6,208.1 326.3,205.9 317.7,204.2 309.0,203.2 300.3,202.9 291.7,203.2 283.1,204.2 274.7,205.9 266.6,208.2 258.7,211.1 251.3,214.7 244.3,218.9 237.8,223.6 231.8,228.9 226.5,234.6 221.9,240.8 218.1,247.4 215.0,254.3 212.8,261.5 211.4,269.0 211.0,276.6 211.4,284.2 212.8,291.9 215.1,299.5 218.3,307.0 222.4,314.2 227.4,321.1 233.2,327.6 239.8,333.6 247.1,339.1 255.0,344.0 263.5,348.2 272.5,351.7 281.8,354.4 291.3,356.4 301.1,357.5 310.8,357.7 320.5,357.2 330.0,355.8 339.2,353.6 348.0,350.7 356.3,347.0 364.1,342.6 371.2,337.5 377.6,332.0 383.2,325.9 388.0,319.3 391.9,312.4 394.9,305.3 397.1,297.9 398.3,290.4 398.6,282.8 398.0,275.3 396.6,267.8 394.3,260.5 391.2,253.5" fill="url(#g97)"/><polygon points="385.0,247.9 380.5,241.6 375.3,235.7 369.6,230.3 363.3,225.2 356.5,220.7 349.3,216.7 341.7,213.3 333.8,210.5 325.7,208.2 317.4,206.6 308.9,205.7 300.5,205.3 292.1,205.7 283.7,206.7 275.6,208.3 267.6,210.5 260.0,213.4 252.8,216.9 246.0,220.9 239.7,225.5 233.9,230.6 228.8,236.2 224.3,242.3 220.6,248.7 217.6,255.4 215.5,262.4 214.2,269.6 213.7,277.0 214.2,284.5 215.5,291.9 217.8,299.3 220.9,306.5 224.9,313.5 229.8,320.2 235.4,326.5 241.8,332.3 248.9,337.6 256.6,342.4 264.8,346.5 273.5,349.8 282.5,352.5 291.8,354.3 301.2,355.4 310.6,355.7 320.0,355.2 329.2,353.8 338.1,351.7 346.7,348.8 354.8,345.3 362.3,341.0 369.2,336.2 375.4,330.7 380.8,324.8 385.5,318.5 389.3,311.8 392.3,304.9 394.4,297.7 395.6,290.4 395.9,283.1 395.3,275.8 393.9,268.5 391.7,261.4 388.7,254.5" fill="url(#g98)"/><polygon points="382.6,249.2 378.3,243.1 373.3,237.3 367.7,232.0 361.6,227.1 355.1,222.7 348.0,218.9 340.7,215.5 333.0,212.8 325.1,210.6 317.0,209.0 308.8,208.1 300.6,207.8 292.4,208.1 284.3,209.1 276.4,210.7 268.7,212.8 261.3,215.6 254.3,219.0 247.7,223.0 241.6,227.4 236.0,232.4 231.0,237.8 226.7,243.7 223.1,249.9 220.2,256.5 218.2,263.3 216.9,270.3 216.5,277.5 217.0,284.7 218.3,291.9 220.5,299.0 223.5,306.0 227.4,312.8 232.1,319.3 237.6,325.4 243.8,331.0 250.7,336.2 258.1,340.8 266.1,344.7 274.5,348.0 283.2,350.5 292.2,352.3 301.3,353.4 310.5,353.6 319.5,353.1 328.4,351.8 337.1,349.8 345.4,347.0 353.2,343.6 360.5,339.5 367.2,334.8 373.2,329.5 378.5,323.8 383.0,317.7 386.7,311.2 389.6,304.5 391.7,297.5 392.8,290.4 393.2,283.3 392.7,276.2 391.3,269.2 389.2,262.3 386.3,255.6" fill="url(#g99)"/><polygon points="380.3,250.5 376.1,244.5 371.3,238.9 365.9,233.8 360.0,229.0 353.6,224.8 346.8,221.0 339.6,217.7 332.2,215.1 324.5,213.0 316.7,211.5 308.7,210.5 300.8,210.2 292.8,210.6 285.0,211.5 277.3,213.0 269.8,215.2 262.6,217.9 255.8,221.2 249.4,225.0 243.5,229.3 238.1,234.2 233.3,239.4 229.1,245.1 225.6,251.2 222.9,257.5 220.9,264.1 219.7,270.9 219.3,277.9 219.7,284.9 221.0,291.9 223.2,298.8 226.1,305.5 229.9,312.1 234.5,318.4 239.8,324.3 245.8,329.7 252.4,334.7 259.7,339.1 267.4,342.9 275.5,346.1 283.9,348.6 292.6,350.3 301.4,351.3 310.3,351.6 319.1,351.1 327.7,349.8 336.1,347.9 344.1,345.2 351.6,341.9 358.7,337.9 365.2,333.3 371.0,328.3 376.2,322.7 380.6,316.8 384.2,310.5 387.0,304.0 389.0,297.3 390.1,290.5 390.5,283.6 390.0,276.7 388.7,269.8 386.6,263.2 383.8,256.7" fill="url(#g100)"/><polygon points="377.9,251.2 373.9,245.5 369.2,240.1 364.0,235.1 358.3,230.5 352.1,226.3 345.5,222.7 338.6,219.5 331.4,216.9 323.9,214.9 316.3,213.4 308.6,212.5 300.9,212.3 293.2,212.6 285.6,213.5 278.2,215.0 270.9,217.0 264.0,219.7 257.4,222.9 251.2,226.6 245.5,230.8 240.2,235.5 235.6,240.6 231.6,246.1 228.2,252.0 225.5,258.1 223.6,264.5 222.5,271.1 222.1,277.8 222.5,284.6 223.8,291.3 225.9,298.0 228.8,304.6 232.4,310.9 236.9,316.9 242.0,322.6 247.8,327.9 254.2,332.7 261.2,337.0 268.7,340.6 276.5,343.7 284.7,346.1 293.1,347.8 301.6,348.8 310.1,349.0 318.6,348.5 326.9,347.3 335.0,345.4 342.8,342.8 350.1,339.6 356.9,335.8 363.2,331.4 368.9,326.5 373.8,321.2 378.1,315.4 381.6,309.4 384.3,303.1 386.3,296.6 387.4,290.0 387.7,283.3 387.3,276.6 386.0,270.0 384.0,263.6 381.3,257.3" fill="url(#g101)"/><polygon points="375.6,251.9 371.7,246.3 367.2,241.1 362.1,236.2 356.6,231.8 350.6,227.7 344.3,224.2 337.5,221.2 330.6,218.6 323.4,216.7 316.0,215.2 308.6,214.4 301.1,214.1 293.6,214.4 286.3,215.3 279.1,216.7 272.1,218.7 265.3,221.3 259.0,224.4 253.0,228.0 247.4,232.1 242.4,236.6 237.9,241.6 234.0,246.9 230.8,252.6 228.2,258.5 226.4,264.7 225.3,271.1 224.9,277.5 225.4,284.1 226.6,290.6 228.6,297.1 231.4,303.4 235.0,309.5 239.3,315.3 244.2,320.8 249.8,325.9 256.1,330.5 262.8,334.6 270.0,338.2 277.6,341.1 285.4,343.4 293.5,345.1 301.7,346.0 310.0,346.2 318.2,345.8 326.2,344.6 334.0,342.8 341.5,340.3 348.6,337.2 355.2,333.5 361.2,329.3 366.7,324.6 371.5,319.4 375.6,313.9 379.0,308.1 381.7,302.0 383.6,295.7 384.7,289.3 385.0,282.9 384.6,276.4 383.4,270.0 381.5,263.8 378.9,257.7" fill="url(#g102)"/><polygon points="374.1,252.1 370.3,246.6 365.9,241.5 361.0,236.8 355.5,232.4 349.7,228.5 343.5,225.0 336.9,222.0 330.1,219.6 323.0,217.6 315.8,216.2 308.5,215.4 301.2,215.1 293.9,215.4 286.7,216.3 279.7,217.7 272.8,219.7 266.2,222.2 260.0,225.2 254.1,228.7 248.7,232.7 243.8,237.2 239.4,242.0 235.6,247.2 232.5,252.8 230.0,258.6 228.2,264.6 227.1,270.9 226.8,277.2 227.2,283.6 228.4,290.0 230.4,296.3 233.2,302.4 236.6,308.4 240.8,314.1 245.7,319.5 251.2,324.4 257.3,328.9 263.8,332.9 270.9,336.4 278.3,339.3 286.0,341.5 293.9,343.1 301.9,344.0 309.9,344.3 317.9,343.8 325.8,342.7 333.4,340.9 340.7,338.5 347.6,335.5 354.1,331.9 360.0,327.7 365.3,323.1 370.0,318.1 374.1,312.7 377.4,307.0 380.0,301.1 381.8,295.0 382.9,288.7 383.3,282.4 382.9,276.1 381.7,269.9 379.9,263.7 377.3,257.8" fill="url(#g103)"/><polygon points="373.2,252.1 369.5,246.8 365.1,241.7 360.3,237.0 354.9,232.7 349.1,228.8 343.0,225.4 336.5,222.5 329.8,220.0 322.8,218.1 315.7,216.7 308.5,215.9 301.3,215.7 294.1,215.9 287.0,216.8 280.0,218.2 273.3,220.1 266.8,222.6 260.7,225.6 254.9,229.1 249.5,233.0 244.7,237.4 240.4,242.2 236.6,247.3 233.5,252.8 231.0,258.5 229.3,264.5 228.2,270.6 227.9,276.9 228.4,283.2 229.6,289.5 231.5,295.7 234.2,301.7 237.7,307.6 241.8,313.2 246.6,318.5 252.0,323.4 258.0,327.8 264.5,331.8 271.4,335.2 278.7,338.0 286.3,340.2 294.1,341.8 302.0,342.7 309.9,342.9 317.8,342.5 325.5,341.4 333.0,339.7 340.2,337.3 347.0,334.3 353.4,330.7 359.2,326.7 364.5,322.2 369.2,317.2 373.1,311.9 376.4,306.3 379.0,300.4 380.8,294.4 381.9,288.2 382.2,282.0 381.8,275.8 380.7,269.7 378.9,263.6 376.4,257.8" fill="url(#g104)"/><polygon points="372.5,252.1 368.8,246.8 364.5,241.8 359.7,237.1 354.4,232.9 348.7,229.0 342.6,225.7 336.2,222.8 329.6,220.3 322.7,218.5 315.7,217.1 308.5,216.3 301.4,216.0 294.3,216.3 287.2,217.1 280.4,218.5 273.7,220.5 267.3,222.9 261.2,225.9 255.5,229.3 250.2,233.2 245.4,237.5 241.1,242.3 237.4,247.4 234.3,252.8 231.9,258.4 230.2,264.3 229.1,270.4 228.8,276.6 229.3,282.8 230.5,289.0 232.4,295.1 235.1,301.1 238.5,306.9 242.6,312.5 247.3,317.7 252.7,322.5 258.6,326.9 265.0,330.8 271.9,334.2 279.1,337.0 286.6,339.2 294.3,340.7 302.1,341.6 309.9,341.8 317.7,341.4 325.3,340.3 332.8,338.6 339.9,336.2 346.6,333.3 352.9,329.8 358.7,325.8 363.9,321.3 368.5,316.4 372.4,311.2 375.7,305.6 378.2,299.8 380.0,293.9 381.1,287.8 381.4,281.6 381.0,275.5 379.9,269.4 378.1,263.5 375.6,257.7" fill="url(#g105)"/><polygon points="371.9,252.0 368.2,246.8 364.0,241.8 359.2,237.2 354.0,233.0 348.4,229.2 342.3,225.8 336.0,222.9 329.4,220.6 322.6,218.7 315.6,217.3 308.6,216.5 301.5,216.3 294.4,216.6 287.4,217.4 280.6,218.8 274.0,220.7 267.7,223.1 261.6,226.0 256.0,229.4 250.7,233.3 246.0,237.6 241.8,242.3 238.1,247.3 235.1,252.7 232.7,258.3 230.9,264.1 229.9,270.1 229.6,276.3 230.1,282.4 231.2,288.6 233.2,294.6 235.8,300.6 239.2,306.3 243.2,311.8 247.9,317.0 253.2,321.8 259.1,326.1 265.5,330.0 272.2,333.3 279.4,336.1 286.8,338.2 294.4,339.8 302.1,340.6 309.9,340.9 317.6,340.5 325.2,339.4 332.5,337.7 339.6,335.3 346.2,332.4 352.5,329.0 358.2,325.0 363.3,320.6 367.9,315.7 371.8,310.5 375.0,305.0 377.5,299.3 379.3,293.4 380.4,287.4 380.7,281.3 380.3,275.2 379.3,269.2 377.5,263.3 375.0,257.5" fill="url(#g106)"/><polygon points="371.4,251.9 367.8,246.7 363.6,241.8 358.8,237.2 353.7,233.0 348.0,229.3 342.1,225.9 335.8,223.1 329.2,220.7 322.5,218.9 315.6,217.5 308.6,216.7 301.5,216.5 294.5,216.7 287.6,217.6 280.9,218.9 274.3,220.8 268.0,223.2 262.0,226.1 256.4,229.5 251.2,233.4 246.5,237.6 242.3,242.3 238.7,247.3 235.7,252.6 233.3,258.1 231.6,263.9 230.6,269.9 230.3,275.9 230.7,282.1 231.9,288.2 233.8,294.2 236.5,300.1 239.8,305.8 243.8,311.2 248.5,316.3 253.7,321.0 259.5,325.4 265.8,329.2 272.6,332.5 279.6,335.2 287.0,337.4 294.5,338.9 302.2,339.8 309.9,340.0 317.5,339.6 325.0,338.5 332.3,336.8 339.3,334.5 345.9,331.6 352.1,328.2 357.8,324.2 362.9,319.9 367.4,315.1 371.3,309.9 374.5,304.5 377.0,298.8 378.7,292.9 379.8,287.0 380.1,280.9 379.8,274.9 378.7,268.9 376.9,263.1 374.5,257.4" fill="url(#g107)"/><polygon points="370.9,251.8 367.3,246.6 363.1,241.7 358.5,237.2 353.3,233.1 347.7,229.3 341.8,226.0 335.6,223.2 329.1,220.8 322.4,219.0 315.5,217.7 308.6,216.9 301.6,216.6 294.7,216.9 287.8,217.7 281.1,219.1 274.6,220.9 268.4,223.3 262.4,226.2 256.9,229.6 251.7,233.4 247.0,237.6 242.9,242.2 239.3,247.2 236.3,252.4 233.9,258.0 232.3,263.7 231.3,269.6 231.0,275.6 231.4,281.7 232.6,287.7 234.5,293.7 237.1,299.5 240.4,305.2 244.4,310.5 249.0,315.6 254.2,320.3 260.0,324.6 266.2,328.4 272.9,331.6 279.9,334.4 287.2,336.5 294.7,338.0 302.3,338.9 309.9,339.1 317.5,338.7 324.9,337.6 332.1,335.9 339.1,333.6 345.6,330.8 351.7,327.4 357.4,323.5 362.4,319.1 366.9,314.4 370.8,309.3 373.9,303.9 376.4,298.3 378.2,292.5 379.2,286.5 379.6,280.6 379.2,274.6 378.1,268.7 376.4,262.9 374.0,257.2" fill="url(#g108)"/><polygon points="370.5,251.6 366.9,246.5 362.7,241.7 358.1,237.2 353.0,233.1 347.5,229.3 341.6,226.1 335.4,223.3 328.9,220.9 322.3,219.1 315.5,217.8 308.6,217.0 301.7,216.7 294.8,217.0 288.0,217.8 281.4,219.2 274.9,221.0 268.7,223.4 262.8,226.3 257.3,229.6 252.2,233.4 247.6,237.6 243.4,242.1 239.9,247.0 236.9,252.3 234.6,257.7 232.9,263.4 231.9,269.3 231.7,275.2 232.1,281.2 233.3,287.2 235.1,293.2 237.7,298.9 241.0,304.5 245.0,309.9 249.6,314.9 254.7,319.5 260.4,323.8 266.6,327.5 273.2,330.8 280.2,333.5 287.4,335.6 294.8,337.1 302.4,337.9 309.9,338.1 317.4,337.7 324.8,336.7 332.0,335.0 338.8,332.8 345.3,329.9 351.4,326.6 357.0,322.7 362.0,318.4 366.5,313.7 370.3,308.6 373.4,303.3 375.9,297.7 377.6,292.0 378.7,286.1 379.0,280.2 378.6,274.2 377.6,268.4 375.8,262.6 373.5,257.0" fill="url(#g109)"/><polygon points="370.0,251.4 366.4,246.4 362.3,241.6 357.7,237.1 352.6,233.0 347.2,229.3 341.3,226.1 335.2,223.3 328.8,221.0 322.2,219.2 315.5,217.9 308.6,217.1 301.8,216.8 294.9,217.1 288.2,217.9 281.6,219.3 275.2,221.1 269.0,223.5 263.2,226.3 257.7,229.6 252.7,233.3 248.1,237.5 244.0,242.0 240.5,246.9 237.5,252.1 235.2,257.5 233.6,263.2 232.6,269.0 232.3,274.9 232.8,280.8 233.9,286.8 235.8,292.6 238.4,298.4 241.6,303.9 245.6,309.2 250.1,314.2 255.2,318.8 260.9,323.0 267.0,326.7 273.6,329.9 280.5,332.6 287.6,334.6 295.0,336.1 302.4,337.0 309.9,337.2 317.4,336.8 324.7,335.8 331.8,334.1 338.6,331.9 345.0,329.1 351.1,325.7 356.6,321.9 361.6,317.6 366.0,313.0 369.8,308.0 372.9,302.7 375.3,297.1 377.1,291.4 378.1,285.6 378.4,279.7 378.1,273.9 377.0,268.1 375.3,262.3 372.9,256.8" fill="url(#g110)"/><polygon points="369.5,251.3 366.0,246.2 361.9,241.5 357.3,237.1 352.3,233.0 346.9,229.4 341.1,226.1 335.0,223.4 328.7,221.1 322.1,219.3 315.4,218.0 308.7,217.2 301.9,216.9 295.1,217.2 288.4,218.0 281.8,219.3 275.5,221.2 269.4,223.5 263.6,226.3 258.2,229.6 253.2,233.3 248.6,237.4 244.6,241.9 241.1,246.8 238.2,251.9 235.9,257.3 234.2,262.9 233.3,268.6 233.0,274.5 233.4,280.4 234.6,286.3 236.5,292.1 239.0,297.8 242.2,303.2 246.1,308.5 250.6,313.4 255.7,318.0 261.3,322.1 267.4,325.8 273.9,329.0 280.7,331.6 287.8,333.7 295.1,335.2 302.5,336.0 310.0,336.2 317.3,335.8 324.6,334.8 331.6,333.2 338.4,331.0 344.7,328.2 350.7,324.9 356.2,321.1 361.1,316.9 365.5,312.2 369.3,307.3 372.4,302.0 374.8,296.6 376.5,290.9 377.5,285.1 377.9,279.3 377.5,273.5 376.5,267.7 374.8,262.1 372.4,256.6" fill="url(#g111)"/><polygon points="369.0,251.1 365.5,246.1 361.5,241.4 356.9,237.0 352.0,233.0 346.6,229.4 340.9,226.2 334.8,223.4 328.5,221.1 322.0,219.4 315.4,218.1 308.7,217.3 301.9,217.1 295.2,217.3 288.6,218.1 282.1,219.4 275.8,221.2 269.7,223.6 264.0,226.3 258.6,229.6 253.7,233.3 249.1,237.4 245.1,241.8 241.7,246.6 238.8,251.7 236.5,257.0 234.9,262.6 233.9,268.3 233.7,274.1 234.1,279.9 235.3,285.8 237.1,291.5 239.6,297.2 242.9,302.6 246.7,307.8 251.2,312.7 256.2,317.2 261.8,321.3 267.8,325.0 274.2,328.1 281.0,330.7 288.1,332.8 295.3,334.2 302.6,335.1 310.0,335.3 317.3,334.9 324.5,333.9 331.4,332.3 338.1,330.1 344.5,327.3 350.4,324.0 355.8,320.3 360.7,316.1 365.0,311.5 368.8,306.6 371.8,301.4 374.2,296.0 376.0,290.4 377.0,284.7 377.3,278.9 377.0,273.1 375.9,267.4 374.2,261.8 371.9,256.3" fill="url(#g112)"/><polygon points="368.5,250.9 365.1,245.9 361.1,241.3 356.6,236.9 351.6,232.9 346.3,229.4 340.6,226.2 334.6,223.5 328.4,221.2 321.9,219.4 315.4,218.2 308.7,217.4 302.0,217.2 295.4,217.4 288.8,218.2 282.3,219.5 276.1,221.3 270.1,223.6 264.4,226.4 259.1,229.6 254.1,233.2 249.7,237.3 245.7,241.7 242.3,246.5 239.4,251.5 237.2,256.8 235.6,262.3 234.6,268.0 234.4,273.7 234.8,279.5 235.9,285.3 237.8,291.0 240.3,296.6 243.5,302.0 247.3,307.1 251.7,311.9 256.7,316.4 262.2,320.5 268.2,324.1 274.6,327.2 281.3,329.8 288.3,331.9 295.4,333.3 302.7,334.1 310.0,334.3 317.2,333.9 324.4,332.9 331.3,331.3 337.9,329.2 344.2,326.4 350.0,323.2 355.4,319.5 360.3,315.3 364.6,310.8 368.3,305.9 371.3,300.8 373.7,295.4 375.4,289.9 376.4,284.2 376.7,278.5 376.4,272.8 375.4,267.1 373.7,261.5 371.4,256.1" fill="url(#g113)"/><polygon points="368.0,250.7 364.6,245.8 360.6,241.2 356.2,236.9 351.3,232.9 346.0,229.4 340.4,226.2 334.4,223.5 328.2,221.3 321.9,219.5 315.3,218.3 308.7,217.5 302.1,217.3 295.5,217.5 289.0,218.3 282.6,219.6 276.4,221.4 270.5,223.7 264.8,226.4 259.5,229.6 254.6,233.2 250.2,237.2 246.3,241.6 242.9,246.3 240.0,251.3 237.8,256.6 236.2,262.0 235.3,267.6 235.0,273.3 235.5,279.1 236.6,284.8 238.4,290.4 240.9,296.0 244.1,301.3 247.9,306.4 252.3,311.2 257.2,315.6 262.7,319.7 268.6,323.3 274.9,326.4 281.6,328.9 288.5,330.9 295.6,332.3 302.8,333.2 310.0,333.4 317.2,333.0 324.2,332.0 331.1,330.4 337.6,328.3 343.9,325.6 349.7,322.4 355.0,318.7 359.8,314.6 364.1,310.1 367.8,305.3 370.8,300.2 373.1,294.8 374.8,289.3 375.8,283.7 376.2,278.1 375.8,272.4 374.8,266.8 373.2,261.3 370.9,255.9" fill="url(#g114)"/><polygon points="367.6,250.6 364.1,245.7 360.2,241.1 355.8,236.8 351.0,232.9 345.7,229.4 340.1,226.3 334.2,223.6 328.1,221.4 321.8,219.6 315.3,218.4 308.8,217.6 302.2,217.4 295.6,217.6 289.2,218.4 282.8,219.7 276.7,221.5 270.8,223.7 265.2,226.4 260.0,229.6 255.1,233.2 250.7,237.2 246.8,241.5 243.5,246.2 240.7,251.1 238.5,256.3 236.9,261.7 236.0,267.3 235.7,272.9 236.2,278.6 237.3,284.3 239.1,289.9 241.6,295.4 244.7,300.7 248.4,305.7 252.8,310.5 257.7,314.9 263.1,318.9 269.0,322.4 275.3,325.5 281.9,328.0 288.7,330.0 295.7,331.4 302.9,332.2 310.0,332.4 317.1,332.1 324.1,331.1 330.9,329.5 337.4,327.4 343.6,324.7 349.3,321.5 354.6,317.9 359.4,313.8 363.6,309.4 367.3,304.6 370.2,299.5 372.6,294.2 374.3,288.8 375.3,283.2 375.6,277.6 375.3,272.0 374.3,266.4 372.6,261.0 370.4,255.7" fill="url(#g115)"/><polygon points="367.1,250.4 363.7,245.5 359.8,241.0 355.4,236.7 350.6,232.9 345.4,229.4 339.9,226.3 334.0,223.6 328.0,221.4 321.7,219.7 315.3,218.5 308.8,217.7 302.3,217.5 295.8,217.7 289.4,218.5 283.1,219.8 277.0,221.5 271.2,223.8 265.6,226.5 260.4,229.6 255.6,233.2 251.3,237.1 247.4,241.4 244.1,246.0 241.3,251.0 239.1,256.1 237.6,261.5 236.6,267.0 236.4,272.5 236.8,278.2 238.0,283.8 239.7,289.4 242.2,294.8 245.3,300.0 249.0,305.0 253.3,309.7 258.2,314.1 263.6,318.0 269.4,321.5 275.6,324.6 282.1,327.1 288.9,329.1 295.9,330.5 302.9,331.3 310.0,331.5 317.1,331.1 324.0,330.1 330.7,328.6 337.2,326.5 343.3,323.8 349.0,320.7 354.2,317.1 359.0,313.0 363.2,308.6 366.7,303.9 369.7,298.9 372.0,293.7 373.7,288.3 374.7,282.8 375.0,277.2 374.7,271.6 373.7,266.1 372.1,260.7 369.9,255.4" fill="url(#g116)"/><polygon points="366.6,250.2 363.2,245.4 359.4,240.9 355.1,236.7 350.3,232.8 345.1,229.4 339.6,226.3 333.9,223.7 327.8,221.5 321.6,219.8 315.3,218.6 308.8,217.8 302.3,217.6 295.9,217.8 289.6,218.6 283.3,219.9 277.3,221.6 271.5,223.8 266.0,226.5 260.9,229.6 256.1,233.1 251.8,237.0 248.0,241.3 244.7,245.9 241.9,250.8 239.8,255.9 238.2,261.2 237.3,266.6 237.1,272.2 237.5,277.7 238.6,283.3 240.4,288.8 242.8,294.2 245.9,299.4 249.6,304.3 253.9,309.0 258.7,313.3 264.0,317.2 269.8,320.7 275.9,323.7 282.4,326.2 289.1,328.1 296.0,329.5 303.0,330.3 310.1,330.5 317.0,330.1 323.9,329.2 330.6,327.6 336.9,325.6 343.0,322.9 348.6,319.8 353.8,316.3 358.5,312.3 362.7,307.9 366.2,303.2 369.2,298.3 371.5,293.1 373.2,287.7 374.2,282.3 374.5,276.8 374.2,271.3 373.2,265.8 371.6,260.4 369.4,255.2" fill="url(#g117)"/><polygon points="366.1,250.0 362.8,245.3 359.0,240.8 354.7,236.6 350.0,232.8 344.8,229.4 339.4,226.3 333.7,223.7 327.7,221.6 321.5,219.9 315.2,218.7 308.8,217.9 302.4,217.7 296.0,217.9 289.7,218.7 283.6,219.9 277.6,221.7 271.9,223.9 266.4,226.5 261.3,229.6 256.6,233.1 252.3,237.0 248.5,241.2 245.3,245.7 242.5,250.6 240.4,255.6 238.9,260.9 238.0,266.3 237.8,271.8 238.2,277.3 239.3,282.8 241.1,288.3 243.5,293.6 246.5,298.7 250.2,303.6 254.4,308.2 259.2,312.5 264.5,316.4 270.2,319.8 276.3,322.8 282.7,325.3 289.3,327.2 296.2,328.6 303.1,329.4 310.1,329.6 317.0,329.2 323.8,328.2 330.4,326.7 336.7,324.7 342.7,322.1 348.3,319.0 353.5,315.4 358.1,311.5 362.2,307.2 365.7,302.5 368.7,297.6 371.0,292.5 372.6,287.2 373.6,281.8 373.9,276.3 373.6,270.9 372.6,265.5 371.0,260.2 368.9,255.0" fill="url(#g118)"/><polygon points="365.6,249.8 362.3,245.1 358.5,240.7 354.3,236.6 349.6,232.8 344.6,229.4 339.2,226.4 333.5,223.8 327.5,221.6 321.4,220.0 315.2,218.8 308.9,218.0 302.5,217.8 296.2,218.1 289.9,218.8 283.8,220.0 277.9,221.7 272.2,223.9 266.8,226.5 261.8,229.6 257.1,233.1 252.9,236.9 249.1,241.1 245.9,245.6 243.2,250.4 241.1,255.4 239.6,260.6 238.7,265.9 238.5,271.4 238.9,276.9 240.0,282.3 241.7,287.7 244.1,293.0 247.1,298.1 250.8,302.9 255.0,307.5 259.7,311.7 264.9,315.6 270.6,319.0 276.6,321.9 283.0,324.4 289.6,326.3 296.3,327.6 303.2,328.4 310.1,328.6 316.9,328.2 323.7,327.3 330.2,325.8 336.5,323.8 342.4,321.2 348.0,318.1 353.1,314.6 357.7,310.7 361.7,306.5 365.2,301.9 368.1,297.0 370.4,291.9 372.0,286.7 373.0,281.3 373.3,275.9 373.0,270.5 372.1,265.1 370.5,259.9 368.3,254.8" fill="url(#g119)"/><polygon points="365.1,249.6 361.9,245.0 358.1,240.6 353.9,236.5 349.3,232.8 344.3,229.4 338.9,226.4 333.3,223.8 327.4,221.7 321.3,220.1 315.2,218.9 308.9,218.1 302.6,217.9 296.3,218.2 290.1,218.9 284.1,220.1 278.2,221.8 272.6,224.0 267.2,226.6 262.2,229.6 257.6,233.0 253.4,236.9 249.7,241.0 246.5,245.5 243.8,250.2 241.7,255.2 240.2,260.3 239.4,265.6 239.1,271.0 239.6,276.4 240.6,281.8 242.4,287.2 244.8,292.4 247.8,297.4 251.4,302.2 255.5,306.8 260.2,310.9 265.4,314.7 271.0,318.1 277.0,321.0 283.2,323.5 289.8,325.3 296.5,326.7 303.3,327.5 310.1,327.7 316.9,327.3 323.5,326.4 330.0,324.9 336.2,322.9 342.1,320.3 347.6,317.3 352.7,313.8 357.2,310.0 361.3,305.7 364.7,301.2 367.6,296.4 369.9,291.3 371.5,286.2 372.4,280.9 372.8,275.5 372.5,270.1 371.5,264.8 370.0,259.6 367.8,254.5" fill="url(#g120)"/><polygon points="364.6,249.5 361.4,244.9 357.7,240.5 353.5,236.5 348.9,232.7 344.0,229.4 338.7,226.4 333.1,223.9 327.3,221.8 321.3,220.2 315.1,219.0 308.9,218.3 302.7,218.0 296.5,218.3 290.3,219.0 284.3,220.2 278.5,221.9 272.9,224.0 267.6,226.6 262.7,229.6 258.1,233.0 253.9,236.8 250.2,240.9 247.1,245.3 244.4,250.0 242.4,254.9 240.9,260.0 240.0,265.3 239.8,270.6 240.2,276.0 241.3,281.4 243.0,286.6 245.4,291.8 248.4,296.8 251.9,301.5 256.1,306.0 260.7,310.2 265.8,313.9 271.4,317.3 277.3,320.2 283.5,322.5 290.0,324.4 296.6,325.7 303.4,326.5 310.1,326.7 316.8,326.4 323.4,325.4 329.8,324.0 336.0,322.0 341.8,319.5 347.3,316.5 352.3,313.0 356.8,309.2 360.8,305.0 364.2,300.5 367.1,295.8 369.3,290.8 370.9,285.6 371.9,280.4 372.2,275.1 371.9,269.8 371.0,264.5 369.4,259.3 367.3,254.3" fill="url(#g121)"/><polygon points="364.1,249.3 360.9,244.7 357.3,240.4 353.1,236.4 348.6,232.7 343.7,229.4 338.4,226.5 332.9,224.0 327.1,221.9 321.2,220.3 315.1,219.1 308.9,218.4 302.8,218.1 296.6,218.4 290.5,219.1 284.6,220.3 278.8,222.0 273.3,224.1 268.0,226.7 263.1,229.6 258.6,233.0 254.5,236.7 250.8,240.8 247.7,245.2 245.1,249.8 243.0,254.7 241.6,259.8 240.7,265.0 240.5,270.2 240.9,275.6 242.0,280.9 243.7,286.1 246.0,291.2 249.0,296.2 252.5,300.9 256.6,305.3 261.2,309.4 266.3,313.1 271.8,316.4 277.6,319.3 283.8,321.6 290.2,323.5 296.8,324.8 303.4,325.6 310.1,325.8 316.8,325.4 323.3,324.5 329.7,323.1 335.7,321.1 341.5,318.6 346.9,315.6 351.9,312.2 356.4,308.5 360.3,304.3 363.7,299.9 366.5,295.1 368.8,290.2 370.3,285.1 371.3,279.9 371.6,274.7 371.3,269.4 370.4,264.2 368.9,259.1 366.8,254.1" fill="url(#g122)"/><polygon points="363.6,249.1 360.5,244.6 356.8,240.3 352.7,236.4 348.2,232.7 343.4,229.4 338.2,226.5 332.7,224.0 327.0,222.0 321.1,220.4 315.1,219.2 309.0,218.5 302.8,218.3 296.7,218.5 290.7,219.2 284.8,220.4 279.1,222.1 273.6,224.2 268.4,226.7 263.6,229.7 259.1,233.0 255.0,236.7 251.4,240.7 248.3,245.1 245.7,249.7 243.7,254.5 242.2,259.5 241.4,264.7 241.2,269.9 241.6,275.1 242.7,280.4 244.4,285.6 246.7,290.6 249.6,295.5 253.1,300.2 257.1,304.6 261.7,308.6 266.7,312.3 272.2,315.6 278.0,318.4 284.1,320.8 290.4,322.6 296.9,323.9 303.5,324.6 310.1,324.8 316.7,324.5 323.2,323.6 329.5,322.2 335.5,320.2 341.2,317.7 346.6,314.8 351.5,311.5 355.9,307.7 359.8,303.6 363.2,299.2 366.0,294.5 368.2,289.6 369.8,284.6 370.7,279.5 371.1,274.3 370.8,269.1 369.9,263.9 368.3,258.8 366.3,253.9" fill="url(#g123)"/><polygon points="363.1,249.0 360.0,244.5 356.4,240.3 352.4,236.3 347.9,232.7 343.1,229.5 337.9,226.6 332.5,224.1 326.8,222.1 321.0,220.5 315.0,219.3 309.0,218.6 302.9,218.4 296.9,218.6 290.9,219.4 285.1,220.5 279.4,222.2 274.0,224.3 268.8,226.8 264.0,229.7 259.6,233.0 255.5,236.7 252.0,240.7 248.9,244.9 246.3,249.5 244.3,254.3 242.9,259.2 242.1,264.3 241.9,269.5 242.3,274.7 243.3,279.9 245.0,285.0 247.3,290.1 250.2,294.9 253.7,299.5 257.7,303.8 262.2,307.9 267.2,311.5 272.6,314.7 278.3,317.5 284.3,319.9 290.6,321.7 297.1,323.0 303.6,323.7 310.2,323.9 316.7,323.6 323.1,322.7 329.3,321.2 335.3,319.3 340.9,316.9 346.2,314.0 351.1,310.7 355.5,307.0 359.4,302.9 362.7,298.5 365.5,293.9 367.6,289.1 369.2,284.1 370.2,279.0 370.5,273.9 370.2,268.7 369.3,263.6 367.8,258.6 365.7,253.7" fill="url(#g124)"/><polygon points="362.6,248.8 359.6,244.4 356.0,240.2 352.0,236.3 347.5,232.7 342.8,229.5 337.7,226.6 332.3,224.2 326.7,222.2 320.9,220.6 315.0,219.4 309.0,218.8 303.0,218.5 297.0,218.8 291.1,219.5 285.3,220.7 279.7,222.3 274.3,224.3 269.2,226.8 264.5,229.7 260.1,233.0 256.1,236.6 252.5,240.6 249.5,244.8 247.0,249.3 245.0,254.1 243.6,259.0 242.8,264.0 242.6,269.1 243.0,274.3 244.0,279.4 245.7,284.5 248.0,289.5 250.8,294.3 254.3,298.8 258.2,303.1 262.7,307.1 267.6,310.7 273.0,313.9 278.6,316.7 284.6,319.0 290.8,320.8 297.2,322.0 303.7,322.8 310.2,323.0 316.6,322.6 323.0,321.8 329.1,320.3 335.0,318.4 340.6,316.0 345.9,313.2 350.7,309.9 355.0,306.2 358.9,302.2 362.2,297.9 364.9,293.3 367.1,288.5 368.6,283.6 369.6,278.5 369.9,273.4 369.6,268.3 368.7,263.3 367.3,258.3 365.2,253.5" fill="url(#g125)"/><polygon points="362.1,248.7 359.1,244.3 355.6,240.1 351.6,236.3 347.2,232.7 342.5,229.5 337.4,226.7 332.1,224.3 326.5,222.3 320.8,220.7 315.0,219.6 309.0,218.9 303.1,218.7 297.1,218.9 291.3,219.6 285.6,220.8 280.0,222.4 274.7,224.4 269.7,226.9 264.9,229.7 260.6,233.0 256.6,236.6 253.1,240.5 250.1,244.7 247.6,249.2 245.6,253.9 244.2,258.7 243.4,263.7 243.2,268.8 243.7,273.9 244.7,279.0 246.3,284.0 248.6,288.9 251.4,293.6 254.8,298.2 258.8,302.4 263.2,306.3 268.1,309.9 273.4,313.1 279.0,315.8 284.9,318.1 291.0,319.9 297.4,321.1 303.8,321.8 310.2,322.0 316.6,321.7 322.8,320.8 328.9,319.4 334.8,317.5 340.3,315.2 345.5,312.3 350.3,309.1 354.6,305.5 358.4,301.5 361.7,297.2 364.4,292.7 366.5,288.0 368.1,283.1 369.0,278.1 369.3,273.0 369.0,268.0 368.2,263.0 366.7,258.1 364.7,253.3" fill="url(#g126)"/><polygon points="361.6,248.5 358.6,244.2 355.1,240.0 351.2,236.2 346.9,232.7 342.2,229.6 337.2,226.8 331.9,224.4 326.4,222.4 320.7,220.8 314.9,219.7 309.1,219.0 303.2,218.8 297.3,219.0 291.5,219.7 285.8,220.9 280.3,222.5 275.1,224.5 270.1,226.9 265.4,229.8 261.1,233.0 257.2,236.5 253.7,240.4 250.7,244.6 248.2,249.0 246.3,253.7 244.9,258.5 244.1,263.4 243.9,268.4 244.3,273.5 245.4,278.5 247.0,283.5 249.2,288.3 252.1,293.0 255.4,297.5 259.3,301.7 263.7,305.6 268.5,309.1 273.7,312.2 279.3,315.0 285.2,317.2 291.3,318.9 297.5,320.2 303.8,320.9 310.2,321.1 316.5,320.8 322.7,319.9 328.8,318.5 334.5,316.7 340.0,314.3 345.2,311.5 349.9,308.3 354.1,304.7 357.9,300.8 361.2,296.6 363.9,292.1 366.0,287.4 367.5,282.6 368.4,277.6 368.7,272.6 368.5,267.6 367.6,262.7 366.2,257.8 364.2,253.1" fill="url(#g127)"/><polygon points="361.1,248.4 358.1,244.1 354.7,240.0 350.8,236.2 346.5,232.7 341.9,229.6 336.9,226.8 331.7,224.5 326.2,222.5 320.6,220.9 314.9,219.8 309.1,219.2 303.2,219.0 297.4,219.2 291.7,219.9 286.1,221.0 280.6,222.6 275.4,224.6 270.5,227.0 265.8,229.8 261.6,233.0 257.7,236.5 254.3,240.4 251.3,244.5 248.9,248.9 246.9,253.5 245.6,258.2 244.8,263.1 244.6,268.1 245.0,273.1 246.1,278.1 247.7,283.0 249.9,287.8 252.7,292.4 256.0,296.8 259.9,301.0 264.2,304.8 269.0,308.3 274.1,311.4 279.7,314.1 285.4,316.3 291.5,318.1 297.6,319.3 303.9,320.0 310.2,320.2 316.5,319.9 322.6,319.0 328.6,317.7 334.3,315.8 339.7,313.5 344.8,310.7 349.5,307.5 353.7,304.0 357.4,300.1 360.6,295.9 363.3,291.5 365.4,286.9 366.9,282.1 367.8,277.2 368.2,272.3 367.9,267.3 367.0,262.4 365.6,257.6 363.6,252.9" fill="url(#g128)"/><polygon points="360.6,248.2 357.7,244.0 354.2,239.9 350.4,236.2 346.1,232.7 341.6,229.6 336.6,226.9 331.5,224.6 326.1,222.6 320.5,221.1 314.9,220.0 309.1,219.3 303.3,219.1 297.6,219.3 291.9,220.0 286.3,221.2 280.9,222.7 275.8,224.7 270.9,227.1 266.3,229.9 262.1,233.0 258.2,236.5 254.8,240.3 251.9,244.4 249.5,248.7 247.6,253.3 246.3,258.0 245.5,262.8 245.3,267.7 245.7,272.7 246.7,277.6 248.3,282.5 250.5,287.2 253.3,291.8 256.6,296.2 260.4,300.3 264.7,304.1 269.4,307.5 274.5,310.6 280.0,313.2 285.7,315.4 291.7,317.2 297.8,318.4 304.0,319.1 310.2,319.3 316.4,319.0 322.5,318.1 328.4,316.8 334.0,314.9 339.4,312.6 344.4,309.9 349.1,306.8 353.2,303.2 356.9,299.4 360.1,295.3 362.8,290.9 364.8,286.3 366.3,281.6 367.2,276.7 367.6,271.9 367.3,267.0 366.5,262.1 365.1,257.3 363.1,252.7" fill="url(#g129)"/><polygon points="360.1,248.1 357.2,243.9 353.8,239.9 350.0,236.2 345.8,232.8 341.2,229.7 336.4,227.0 331.3,224.7 325.9,222.7 320.4,221.2 314.8,220.1 309.1,219.5 303.4,219.3 297.7,219.5 292.1,220.2 286.6,221.3 281.3,222.8 276.1,224.8 271.3,227.2 266.8,229.9 262.6,233.0 258.8,236.5 255.4,240.2 252.5,244.3 250.1,248.6 248.3,253.1 247.0,257.7 246.2,262.5 246.0,267.4 246.4,272.3 247.4,277.1 249.0,281.9 251.2,286.6 253.9,291.2 257.2,295.5 261.0,299.6 265.2,303.3 269.9,306.7 274.9,309.8 280.3,312.4 286.0,314.5 291.9,316.2 297.9,317.4 304.1,318.2 310.2,318.3 316.3,318.0 322.4,317.2 328.2,315.9 333.8,314.1 339.1,311.8 344.1,309.1 348.6,306.0 352.8,302.5 356.4,298.7 359.6,294.6 362.2,290.3 364.3,285.8 365.7,281.1 366.6,276.3 367.0,271.5 366.7,266.6 365.9,261.8 364.5,257.1 362.6,252.5" fill="url(#g130)"/><polygon points="359.6,248.0 356.7,243.8 353.3,239.8 349.5,236.2 345.4,232.8 340.9,229.8 336.1,227.1 331.0,224.8 325.8,222.9 320.3,221.4 314.8,220.3 309.1,219.7 303.5,219.5 297.8,219.7 292.3,220.4 286.8,221.5 281.6,223.0 276.5,224.9 271.7,227.3 267.3,230.0 263.1,233.1 259.4,236.5 256.1,240.2 253.2,244.2 250.8,248.4 249.0,252.9 247.7,257.5 246.9,262.2 246.8,267.0 247.2,271.9 248.2,276.7 249.7,281.4 251.9,286.1 254.6,290.5 257.8,294.8 261.5,298.8 265.7,302.5 270.4,305.9 275.4,308.9 280.7,311.5 286.3,313.6 292.1,315.3 298.1,316.5 304.2,317.2 310.2,317.4 316.3,317.1 322.2,316.2 328.0,314.9 333.5,313.1 338.8,310.9 343.7,308.2 348.2,305.2 352.3,301.7 355.9,298.0 359.0,293.9 361.6,289.7 363.6,285.2 365.1,280.6 366.0,275.9 366.3,271.1 366.1,266.3 365.3,261.5 363.9,256.9 362.0,252.3" fill="url(#g131)"/><polygon points="359.0,247.8 356.1,243.7 352.8,239.8 349.1,236.2 345.0,232.9 340.5,229.9 335.8,227.2 330.8,225.0 325.6,223.1 320.2,221.6 314.7,220.5 309.2,219.9 303.6,219.7 298.0,219.9 292.5,220.6 287.1,221.7 281.9,223.2 276.9,225.1 272.2,227.4 267.8,230.1 263.7,233.1 260.0,236.5 256.7,240.2 253.9,244.1 251.5,248.3 249.7,252.7 248.4,257.3 247.7,261.9 247.5,266.7 247.9,271.4 248.9,276.2 250.5,280.9 252.6,285.5 255.3,289.9 258.5,294.1 262.1,298.1 266.3,301.7 270.9,305.1 275.8,308.0 281.1,310.6 286.6,312.7 292.3,314.3 298.2,315.5 304.2,316.2 310.2,316.4 316.2,316.1 322.1,315.3 327.8,314.0 333.2,312.2 338.4,310.0 343.3,307.4 347.7,304.3 351.8,301.0 355.4,297.2 358.4,293.3 361.0,289.0 363.0,284.6 364.5,280.1 365.3,275.4 365.7,270.7 365.4,266.0 364.6,261.3 363.3,256.7 361.4,252.2" fill="url(#g132)"/><polygon points="358.4,247.7 355.6,243.7 352.3,239.8 348.6,236.2 344.6,233.0 340.2,230.0 335.5,227.4 330.6,225.1 325.4,223.3 320.1,221.8 314.7,220.7 309.2,220.1 303.6,219.9 298.1,220.1 292.7,220.8 287.4,221.9 282.3,223.4 277.3,225.3 272.7,227.5 268.3,230.2 264.2,233.2 260.6,236.5 257.4,240.2 254.6,244.1 252.3,248.2 250.5,252.5 249.2,257.0 248.5,261.6 248.3,266.3 248.7,271.0 249.7,275.7 251.2,280.4 253.3,284.9 256.0,289.2 259.1,293.4 262.8,297.3 266.9,300.9 271.4,304.2 276.2,307.1 281.4,309.6 286.9,311.7 292.6,313.4 298.4,314.5 304.3,315.2 310.2,315.4 316.1,315.1 321.9,314.3 327.5,313.0 332.9,311.3 338.1,309.1 342.9,306.5 347.3,303.5 351.3,300.2 354.8,296.5 357.8,292.6 360.4,288.4 362.3,284.0 363.8,279.5 364.7,274.9 365.0,270.3 364.7,265.6 363.9,261.0 362.6,256.4 360.7,252.0" fill="url(#g133)"/><polygon points="357.8,247.6 355.0,243.6 351.8,239.8 348.1,236.3 344.1,233.0 339.8,230.1 335.2,227.5 330.3,225.3 325.2,223.5 320.0,222.0 314.6,221.0 309.2,220.4 303.7,220.2 298.3,220.4 292.9,221.0 287.7,222.1 282.6,223.6 277.8,225.4 273.1,227.7 268.8,230.3 264.9,233.3 261.2,236.6 258.1,240.2 255.3,244.0 253.0,248.1 251.3,252.4 250.0,256.8 249.3,261.3 249.2,266.0 249.6,270.6 250.5,275.2 252.0,279.8 254.1,284.3 256.7,288.6 259.8,292.7 263.4,296.5 267.5,300.1 271.9,303.3 276.7,306.2 281.8,308.7 287.2,310.7 292.8,312.3 298.6,313.5 304.4,314.2 310.2,314.3 316.1,314.0 321.8,313.3 327.3,312.0 332.6,310.3 337.7,308.1 342.4,305.6 346.8,302.6 350.7,299.3 354.2,295.7 357.2,291.9 359.7,287.7 361.6,283.5 363.1,279.0 363.9,274.5 364.2,269.9 364.0,265.3 363.2,260.7 361.9,256.2 360.1,251.8" fill="url(#g134)"/><polygon points="357.1,247.5 354.4,243.6 351.2,239.8 347.6,236.4 343.7,233.2 339.4,230.3 334.8,227.7 330.0,225.5 325.0,223.7 319.8,222.3 314.6,221.3 309.2,220.7 303.8,220.5 298.5,220.7 293.2,221.3 288.0,222.4 283.0,223.8 278.2,225.7 273.7,227.9 269.4,230.5 265.5,233.4 261.9,236.6 258.8,240.2 256.1,244.0 253.8,248.0 252.1,252.2 250.9,256.6 250.2,261.1 250.0,265.6 250.4,270.2 251.4,274.8 252.9,279.3 254.9,283.7 257.5,287.9 260.6,291.9 264.1,295.7 268.1,299.2 272.5,302.4 277.2,305.3 282.3,307.7 287.6,309.7 293.1,311.3 298.7,312.4 304.5,313.1 310.2,313.3 316.0,313.0 321.6,312.2 327.1,311.0 332.3,309.3 337.3,307.2 341.9,304.6 346.2,301.7 350.1,298.5 353.6,295.0 356.5,291.1 359.0,287.1 360.9,282.9 362.3,278.5 363.2,274.0 363.5,269.5 363.3,264.9 362.5,260.4 361.2,256.0 359.4,251.7" fill="url(#g135)"/><polygon points="356.4,247.5 353.7,243.6 350.6,239.9 347.1,236.4 343.2,233.3 339.0,230.4 334.5,227.9 329.7,225.8 324.8,224.0 319.7,222.6 314.5,221.6 309.2,221.0 303.9,220.8 298.6,221.0 293.4,221.6 288.3,222.6 283.4,224.1 278.7,225.9 274.2,228.1 270.0,230.6 266.1,233.5 262.6,236.7 259.5,240.2 256.9,243.9 254.7,247.9 252.9,252.1 251.7,256.4 251.1,260.8 250.9,265.3 251.3,269.8 252.2,274.3 253.7,278.7 255.7,283.0 258.3,287.2 261.3,291.2 264.8,294.9 268.7,298.4 273.0,301.5 277.7,304.3 282.7,306.7 287.9,308.7 293.3,310.3 298.9,311.4 304.6,312.0 310.2,312.2 315.9,311.9 321.4,311.1 326.8,309.9 332.0,308.3 336.9,306.2 341.5,303.7 345.7,300.8 349.5,297.7 352.9,294.2 355.8,290.4 358.2,286.4 360.2,282.2 361.5,277.9 362.4,273.5 362.7,269.1 362.5,264.6 361.7,260.2 360.4,255.8 358.7,251.6" fill="url(#g136)"/><polygon points="355.7,247.4 353.1,243.5 350.0,239.9 346.5,236.5 342.7,233.4 338.5,230.6 334.1,228.1 329.4,226.0 324.6,224.3 319.6,222.9 314.4,221.9 309.2,221.3 304.0,221.1 298.8,221.3 293.7,221.9 288.6,222.9 283.8,224.4 279.1,226.1 274.7,228.3 270.6,230.8 266.8,233.7 263.3,236.8 260.3,240.2 257.7,243.9 255.5,247.8 253.8,251.9 252.6,256.2 252.0,260.5 251.8,264.9 252.2,269.4 253.1,273.8 254.6,278.2 256.6,282.4 259.1,286.5 262.1,290.4 265.5,294.1 269.4,297.5 273.6,300.6 278.2,303.3 283.1,305.7 288.3,307.7 293.6,309.2 299.1,310.3 304.7,310.9 310.2,311.1 315.8,310.8 321.2,310.1 326.5,308.9 331.6,307.2 336.5,305.2 341.0,302.7 345.1,299.9 348.9,296.8 352.2,293.4 355.1,289.7 357.5,285.7 359.4,281.6 360.8,277.4 361.6,273.1 361.9,268.7 361.7,264.3 360.9,259.9 359.7,255.6 357.9,251.4" fill="url(#g137)"/><polygon points="355.0,247.3 352.4,243.5 349.4,240.0 346.0,236.6 342.2,233.6 338.1,230.8 333.8,228.4 329.2,226.3 324.4,224.5 319.4,223.2 314.4,222.2 309.2,221.6 304.1,221.4 299.0,221.6 293.9,222.2 289.0,223.2 284.2,224.6 279.6,226.4 275.2,228.5 271.2,231.0 267.4,233.8 264.0,236.9 261.0,240.3 258.5,243.9 256.3,247.8 254.7,251.8 253.5,256.0 252.9,260.2 252.7,264.6 253.1,268.9 254.0,273.3 255.5,277.6 257.4,281.8 259.9,285.8 262.8,289.7 266.2,293.3 270.0,296.6 274.2,299.7 278.7,302.4 283.5,304.7 288.6,306.6 293.9,308.1 299.3,309.2 304.7,309.8 310.2,310.0 315.7,309.7 321.1,309.0 326.3,307.8 331.3,306.2 336.0,304.2 340.5,301.8 344.6,299.0 348.3,295.9 351.6,292.6 354.4,288.9 356.8,285.1 358.6,281.0 360.0,276.9 360.8,272.6 361.1,268.3 360.9,263.9 360.1,259.6 358.9,255.4 357.2,251.3" fill="url(#g138)"/><polygon points="354.3,247.3 351.8,243.5 348.8,240.0 345.4,236.7 341.7,233.7 337.7,231.0 333.4,228.6 328.9,226.5 324.1,224.8 319.3,223.5 314.3,222.5 309.2,221.9 304.2,221.8 299.1,222.0 294.2,222.6 289.3,223.5 284.6,224.9 280.1,226.7 275.8,228.7 271.8,231.2 268.1,233.9 264.8,237.0 261.8,240.3 259.3,243.9 257.2,247.7 255.6,251.6 254.4,255.7 253.8,260.0 253.6,264.2 254.0,268.5 254.9,272.8 256.4,277.0 258.3,281.2 260.7,285.1 263.6,288.9 266.9,292.5 270.7,295.8 274.8,298.7 279.2,301.4 284.0,303.7 289.0,305.6 294.1,307.1 299.4,308.1 304.8,308.7 310.2,308.9 315.6,308.6 320.9,307.9 326.0,306.7 330.9,305.2 335.6,303.2 340.0,300.8 344.0,298.1 347.7,295.1 350.9,291.8 353.7,288.2 356.0,284.4 357.8,280.4 359.2,276.3 360.0,272.1 360.3,267.9 360.1,263.6 359.4,259.4 358.2,255.2 356.5,251.2" fill="url(#g139)"/><polygon points="353.6,247.2 351.1,243.5 348.2,240.0 344.9,236.8 341.2,233.8 337.3,231.2 333.0,228.8 328.6,226.8 323.9,225.1 319.1,223.8 314.2,222.8 309.3,222.3 304.3,222.1 299.3,222.3 294.4,222.9 289.6,223.8 285.0,225.2 280.5,226.9 276.3,229.0 272.4,231.4 268.7,234.1 265.5,237.1 262.6,240.4 260.1,243.9 258.0,247.6 256.4,251.5 255.3,255.5 254.7,259.7 254.5,263.9 254.9,268.1 255.8,272.3 257.2,276.5 259.1,280.5 261.5,284.4 264.3,288.2 267.6,291.7 271.3,294.9 275.4,297.8 279.7,300.4 284.4,302.7 289.3,304.6 294.4,306.0 299.6,307.0 304.9,307.7 310.2,307.8 315.5,307.6 320.7,306.8 325.7,305.7 330.6,304.2 335.2,302.2 339.5,299.9 343.5,297.2 347.1,294.2 350.2,291.0 353.0,287.5 355.3,283.7 357.1,279.8 358.4,275.8 359.2,271.7 359.5,267.5 359.3,263.3 358.6,259.1 357.4,255.0 355.7,251.0" fill="url(#g140)"/><polygon points="353.0,247.1 350.5,243.5 347.6,240.1 344.3,236.9 340.7,234.0 336.8,231.3 332.7,229.0 328.3,227.0 323.7,225.4 319.0,224.0 314.2,223.1 309.3,222.6 304.4,222.4 299.5,222.6 294.6,223.2 289.9,224.1 285.4,225.4 281.0,227.1 276.8,229.2 272.9,231.5 269.4,234.2 266.1,237.2 263.3,240.4 260.8,243.8 258.8,247.5 257.2,251.4 256.1,255.3 255.5,259.4 255.4,263.6 255.8,267.7 256.7,271.9 258.0,275.9 259.9,279.9 262.3,283.8 265.1,287.4 268.3,290.9 271.9,294.1 275.9,296.9 280.2,299.5 284.8,301.7 289.6,303.5 294.6,305.0 299.8,306.0 305.0,306.6 310.2,306.8 315.4,306.5 320.5,305.8 325.5,304.7 330.3,303.2 334.8,301.3 339.0,299.0 342.9,296.4 346.5,293.4 349.6,290.2 352.3,286.7 354.6,283.1 356.3,279.2 357.6,275.3 358.4,271.2 358.7,267.1 358.5,263.0 357.8,258.9 356.7,254.8 355.0,250.9" fill="url(#g141)"/><polygon points="352.3,247.0 349.9,243.5 347.0,240.1 343.8,237.0 340.3,234.1 336.4,231.5 332.3,229.2 328.0,227.2 323.5,225.6 318.9,224.3 314.1,223.4 309.3,222.8 304.4,222.7 299.6,222.9 294.9,223.4 290.2,224.4 285.7,225.7 281.4,227.3 277.3,229.3 273.5,231.7 270.0,234.3 266.8,237.2 264.0,240.4 261.6,243.8 259.6,247.4 258.0,251.2 257.0,255.1 256.4,259.1 256.2,263.2 256.6,267.3 257.5,271.4 258.9,275.4 260.7,279.3 263.0,283.1 265.8,286.7 268.9,290.1 272.5,293.2 276.4,296.1 280.7,298.6 285.2,300.8 290.0,302.6 294.9,304.0 299.9,305.0 305.1,305.6 310.2,305.7 315.3,305.5 320.4,304.8 325.3,303.7 329.9,302.2 334.4,300.3 338.6,298.1 342.4,295.5 345.9,292.6 349.0,289.4 351.7,286.0 353.9,282.4 355.6,278.6 356.9,274.7 357.7,270.7 358.0,266.7 357.8,262.6 357.1,258.6 356.0,254.6 354.4,250.8" fill="url(#g142)"/><polygon points="351.7,246.9 349.3,243.4 346.5,240.1 343.3,237.0 339.8,234.2 336.1,231.6 332.0,229.4 327.8,227.4 323.3,225.8 318.7,224.6 314.0,223.6 309.3,223.1 304.5,222.9 299.8,223.1 295.1,223.7 290.5,224.6 286.1,225.9 281.8,227.5 277.8,229.5 274.1,231.8 270.6,234.4 267.5,237.3 264.7,240.4 262.3,243.8 260.4,247.3 258.8,251.0 257.8,254.9 257.2,258.9 257.1,262.9 257.4,266.9 258.3,270.9 259.6,274.9 261.5,278.7 263.7,282.5 266.5,286.0 269.6,289.3 273.1,292.4 277.0,295.2 281.2,297.7 285.6,299.8 290.3,301.6 295.1,303.0 300.1,304.0 305.2,304.6 310.2,304.7 315.3,304.5 320.2,303.8 325.0,302.7 329.6,301.2 334.0,299.4 338.1,297.2 341.9,294.6 345.4,291.8 348.4,288.7 351.0,285.3 353.2,281.8 354.9,278.1 356.2,274.2 357.0,270.3 357.3,266.3 357.1,262.3 356.4,258.3 355.3,254.4 353.7,250.6" fill="url(#g143)"/><polygon points="351.1,246.8 348.7,243.4 345.9,240.1 342.8,237.1 339.4,234.3 335.7,231.8 331.7,229.5 327.5,227.6 323.1,226.0 318.6,224.8 314.0,223.9 309.3,223.4 304.6,223.2 299.9,223.4 295.3,223.9 290.8,224.8 286.4,226.1 282.3,227.7 278.3,229.7 274.6,231.9 271.2,234.5 268.1,237.3 265.4,240.4 263.0,243.7 261.1,247.2 259.6,250.9 258.6,254.7 258.0,258.6 257.9,262.5 258.2,266.5 259.1,270.5 260.4,274.3 262.2,278.1 264.5,281.8 267.1,285.3 270.2,288.6 273.7,291.6 277.5,294.4 281.6,296.8 286.0,298.9 290.6,300.6 295.4,302.0 300.3,303.0 305.2,303.6 310.2,303.7 315.2,303.5 320.1,302.8 324.8,301.7 329.3,300.3 333.7,298.5 337.7,296.3 341.4,293.8 344.8,291.0 347.8,288.0 350.4,284.7 352.6,281.2 354.3,277.5 355.5,273.7 356.3,269.8 356.6,265.9 356.4,262.0 355.7,258.1 354.6,254.2 353.1,250.5" fill="url(#g144)"/><polygon points="350.5,246.7 348.1,243.3 345.4,240.1 342.4,237.1 339.0,234.4 335.3,231.9 331.4,229.7 327.3,227.8 322.9,226.2 318.5,225.0 313.9,224.1 309.3,223.6 304.7,223.4 300.1,223.6 295.5,224.2 291.1,225.1 286.8,226.3 282.7,227.9 278.8,229.8 275.1,232.1 271.8,234.6 268.7,237.4 266.0,240.4 263.7,243.7 261.8,247.1 260.4,250.7 259.3,254.5 258.8,258.3 258.7,262.2 259.0,266.1 259.9,270.0 261.2,273.8 262.9,277.6 265.2,281.2 267.8,284.6 270.8,287.8 274.2,290.8 278.0,293.5 282.0,295.9 286.4,298.0 290.9,299.7 295.6,301.1 300.4,302.0 305.3,302.6 310.2,302.7 315.1,302.5 319.9,301.8 324.6,300.8 329.1,299.4 333.3,297.6 337.3,295.4 341.0,293.0 344.3,290.2 347.2,287.2 349.8,284.0 351.9,280.5 353.6,276.9 354.8,273.2 355.6,269.4 355.9,265.5 355.7,261.6 355.0,257.8 354.0,254.0 352.4,250.3" fill="url(#g145)"/><polygon points="349.9,246.6 347.6,243.3 344.9,240.1 341.9,237.1 338.6,234.4 334.9,232.0 331.1,229.8 327.0,228.0 322.8,226.4 318.4,225.2 313.9,224.3 309.3,223.8 304.8,223.6 300.2,223.8 295.8,224.4 291.4,225.3 287.1,226.5 283.1,228.1 279.2,230.0 275.6,232.2 272.3,234.6 269.3,237.4 266.7,240.4 264.4,243.6 262.6,247.0 261.1,250.5 260.1,254.2 259.5,258.0 259.4,261.8 259.8,265.7 260.6,269.5 261.9,273.3 263.7,277.0 265.8,280.5 268.4,283.9 271.4,287.1 274.8,290.0 278.5,292.7 282.5,295.1 286.7,297.1 291.2,298.8 295.8,300.1 300.6,301.1 305.4,301.6 310.2,301.8 315.0,301.5 319.8,300.9 324.4,299.9 328.8,298.4 333.0,296.7 336.9,294.6 340.5,292.2 343.8,289.5 346.7,286.5 349.2,283.3 351.3,279.9 352.9,276.4 354.2,272.7 354.9,268.9 355.2,265.1 355.0,261.3 354.4,257.5 353.3,253.8 351.8,250.1" fill="url(#g146)"/><polygon points="349.3,246.5 347.0,243.2 344.4,240.1 341.4,237.2 338.2,234.5 334.6,232.1 330.8,229.9 326.8,228.1 322.6,226.6 318.3,225.4 313.8,224.5 309.4,224.0 304.9,223.9 300.4,224.1 296.0,224.6 291.7,225.5 287.5,226.7 283.5,228.2 279.7,230.1 276.1,232.3 272.9,234.7 269.9,237.4 267.3,240.4 265.1,243.5 263.3,246.9 261.8,250.4 260.8,254.0 260.3,257.7 260.2,261.5 260.6,265.3 261.4,269.1 262.7,272.8 264.4,276.4 266.5,279.9 269.1,283.2 272.0,286.4 275.3,289.2 279.0,291.9 282.9,294.2 287.1,296.2 291.5,297.9 296.1,299.2 300.7,300.1 305.5,300.6 310.2,300.8 315.0,300.6 319.6,299.9 324.1,298.9 328.5,297.5 332.6,295.8 336.5,293.7 340.0,291.4 343.3,288.7 346.1,285.8 348.6,282.6 350.7,279.3 352.3,275.8 353.5,272.2 354.2,268.5 354.5,264.7 354.4,261.0 353.7,257.2 352.7,253.6 351.2,250.0" fill="url(#g147)"/><polygon points="348.8,246.4 346.5,243.1 343.9,240.0 341.0,237.2 337.8,234.5 334.2,232.2 330.5,230.1 326.5,228.3 322.4,226.8 318.2,225.6 313.8,224.7 309.4,224.2 304.9,224.1 300.5,224.3 296.2,224.8 291.9,225.7 287.8,226.9 283.9,228.4 280.1,230.2 276.6,232.3 273.4,234.8 270.5,237.4 268.0,240.3 265.8,243.4 264.0,246.7 262.6,250.2 261.6,253.8 261.0,257.4 260.9,261.2 261.3,264.9 262.1,268.6 263.4,272.3 265.1,275.8 267.2,279.3 269.7,282.6 272.6,285.6 275.9,288.5 279.5,291.1 283.3,293.3 287.5,295.3 291.8,297.0 296.3,298.2 300.9,299.2 305.6,299.7 310.2,299.8 314.9,299.6 319.5,299.0 323.9,298.0 328.2,296.6 332.3,294.9 336.1,292.9 339.6,290.6 342.8,287.9 345.6,285.1 348.0,282.0 350.1,278.7 351.7,275.2 352.9,271.7 353.6,268.0 353.9,264.3 353.7,260.6 353.1,257.0 352.1,253.3 350.6,249.8" fill="url(#g148)"/><polygon points="348.2,246.3 346.0,243.1 343.4,240.0 340.6,237.2 337.4,234.6 333.9,232.3 330.2,230.2 326.3,228.4 322.2,226.9 318.0,225.8 313.8,224.9 309.4,224.4 305.0,224.3 300.7,224.5 296.4,225.0 292.2,225.8 288.1,227.0 284.3,228.5 280.6,230.3 277.1,232.4 274.0,234.8 271.1,237.4 268.6,240.3 266.4,243.4 264.6,246.6 263.3,250.0 262.3,253.5 261.8,257.2 261.7,260.8 262.0,264.5 262.8,268.2 264.1,271.8 265.7,275.3 267.8,278.7 270.3,281.9 273.2,284.9 276.4,287.7 279.9,290.3 283.7,292.5 287.8,294.5 292.1,296.1 296.5,297.3 301.0,298.2 305.6,298.8 310.3,298.9 314.8,298.7 319.4,298.1 323.7,297.1 328.0,295.8 332.0,294.1 335.7,292.1 339.2,289.8 342.3,287.2 345.1,284.4 347.5,281.3 349.5,278.1 351.1,274.7 352.2,271.2 353.0,267.6 353.2,264.0 353.1,260.3 352.5,256.7 351.5,253.1 350.0,249.6" fill="url(#g149)"/><polygon points="347.7,246.1 345.5,243.0 343.0,240.0 340.1,237.2 337.0,234.6 333.6,232.3 329.9,230.3 326.1,228.5 322.1,227.1 317.9,225.9 313.7,225.1 309.4,224.6 305.1,224.5 300.8,224.6 296.6,225.2 292.5,226.0 288.5,227.2 284.6,228.6 281.0,230.4 277.6,232.5 274.5,234.8 271.7,237.4 269.2,240.3 267.1,243.3 265.3,246.5 264.0,249.8 263.0,253.3 262.5,256.9 262.4,260.5 262.8,264.1 263.5,267.7 264.8,271.3 266.4,274.7 268.5,278.1 270.9,281.2 273.7,284.2 276.9,287.0 280.4,289.5 284.2,291.7 288.2,293.6 292.3,295.2 296.7,296.4 301.2,297.3 305.7,297.8 310.3,298.0 314.8,297.8 319.2,297.2 323.5,296.2 327.7,294.9 331.6,293.2 335.3,291.3 338.7,289.0 341.8,286.5 344.6,283.7 346.9,280.7 348.9,277.5 350.5,274.1 351.6,270.7 352.3,267.2 352.6,263.6 352.5,260.0 351.9,256.4 350.9,252.9 349.5,249.5" fill="url(#g150)"/><polygon points="347.1,246.0 345.0,242.9 342.5,239.9 339.7,237.2 336.6,234.7 333.3,232.4 329.7,230.4 325.9,228.7 321.9,227.2 317.8,226.1 313.7,225.3 309.4,224.8 305.2,224.6 301.0,224.8 296.8,225.3 292.7,226.2 288.8,227.3 285.0,228.8 281.4,230.5 278.1,232.6 275.0,234.9 272.2,237.4 269.8,240.2 267.7,243.2 266.0,246.4 264.6,249.7 263.7,253.1 263.2,256.6 263.1,260.1 263.5,263.7 264.2,267.3 265.4,270.8 267.1,274.2 269.1,277.5 271.5,280.6 274.3,283.5 277.4,286.2 280.8,288.7 284.5,290.9 288.5,292.8 292.6,294.3 296.9,295.6 301.3,296.4 305.8,296.9 310.3,297.1 314.7,296.9 319.1,296.3 323.4,295.3 327.4,294.0 331.3,292.4 335.0,290.5 338.3,288.2 341.4,285.7 344.1,283.0 346.4,280.0 348.4,276.9 349.9,273.6 351.0,270.2 351.7,266.7 352.0,263.2 351.9,259.6 351.3,256.1 350.3,252.7 348.9,249.3" fill="url(#g151)"/><polygon points="346.6,245.9 344.5,242.8 342.1,239.9 339.3,237.2 336.2,234.7 332.9,232.5 329.4,230.5 325.7,228.8 321.8,227.3 317.7,226.2 313.6,225.4 309.5,225.0 305.3,224.8 301.1,225.0 297.0,225.5 293.0,226.3 289.1,227.4 285.4,228.9 281.8,230.6 278.6,232.6 275.5,234.9 272.8,237.4 270.4,240.2 268.3,243.1 266.6,246.2 265.3,249.5 264.4,252.8 263.9,256.3 263.8,259.8 264.1,263.3 264.9,266.8 266.1,270.2 267.7,273.6 269.7,276.8 272.1,279.9 274.8,282.8 277.9,285.5 281.3,287.9 284.9,290.1 288.8,291.9 292.9,293.5 297.1,294.7 301.5,295.5 305.9,296.0 310.3,296.2 314.7,296.0 319.0,295.4 323.2,294.4 327.2,293.2 331.0,291.6 334.6,289.7 337.9,287.5 340.9,285.0 343.6,282.3 345.9,279.4 347.8,276.3 349.3,273.1 350.4,269.7 351.1,266.3 351.4,262.8 351.3,259.3 350.7,255.8 349.7,252.4 348.4,249.1" fill="url(#g152)"/><polygon points="346.1,245.7 344.0,242.7 341.6,239.8 338.9,237.2 335.9,234.7 332.6,232.5 329.1,230.5 325.5,228.9 321.6,227.5 317.6,226.4 313.6,225.6 309.5,225.1 305.4,225.0 301.2,225.1 297.2,225.6 293.2,226.4 289.4,227.5 285.7,229.0 282.3,230.7 279.0,232.7 276.0,234.9 273.4,237.4 271.0,240.1 268.9,243.0 267.3,246.0 266.0,249.3 265.1,252.6 264.6,256.0 264.5,259.4 264.8,262.9 265.6,266.3 266.8,269.7 268.4,273.0 270.3,276.2 272.7,279.2 275.4,282.1 278.4,284.7 281.7,287.1 285.3,289.2 289.2,291.1 293.2,292.6 297.3,293.8 301.6,294.6 305.9,295.1 310.3,295.2 314.6,295.0 318.9,294.5 323.0,293.5 327.0,292.3 330.7,290.7 334.3,288.8 337.5,286.7 340.5,284.2 343.1,281.6 345.4,278.7 347.3,275.7 348.8,272.5 349.9,269.2 350.5,265.8 350.8,262.4 350.7,259.0 350.1,255.5 349.2,252.2 347.8,248.9" fill="url(#g153)"/><polygon points="345.6,245.5 343.5,242.6 341.2,239.7 338.5,237.1 335.5,234.7 332.3,232.5 328.9,230.6 325.2,228.9 321.5,227.6 317.5,226.5 313.6,225.7 309.5,225.2 305.4,225.1 301.4,225.3 297.4,225.8 293.5,226.5 289.7,227.6 286.1,229.0 282.7,230.7 279.5,232.7 276.6,234.9 273.9,237.3 271.6,240.0 269.6,242.9 267.9,245.9 266.7,249.0 265.8,252.3 265.3,255.6 265.2,259.0 265.6,262.5 266.3,265.8 267.5,269.2 269.0,272.4 271.0,275.6 273.3,278.6 275.9,281.4 278.9,283.9 282.2,286.3 285.7,288.4 289.5,290.2 293.5,291.7 297.5,292.8 301.8,293.7 306.0,294.2 310.3,294.3 314.6,294.1 318.7,293.5 322.8,292.6 326.7,291.4 330.4,289.8 333.9,288.0 337.1,285.9 340.0,283.5 342.6,280.9 344.8,278.0 346.7,275.1 348.2,271.9 349.3,268.7 350.0,265.3 350.2,262.0 350.1,258.6 349.5,255.2 348.6,251.9 347.3,248.7" fill="url(#g154)"/><polygon points="345.1,245.4 341.7,240.7 337.5,236.6 332.6,233.0 327.2,230.0 321.3,227.7 315.1,226.1 308.7,225.3 302.3,225.3 296.1,226.2 290.0,227.7 284.4,230.1 279.4,233.1 275.0,236.8 271.3,241.0 268.6,245.7 266.8,250.7 265.9,256.0 266.2,261.3 267.4,266.7 269.7,271.8 272.9,276.7 277.0,281.1 282.0,285.0 287.6,288.3 293.7,290.8 300.2,292.5 306.9,293.3 313.7,293.2 320.2,292.3 326.5,290.5 332.2,287.9 337.3,284.6 341.6,280.7 345.1,276.2 347.6,271.3 349.1,266.2 349.6,260.9 349.1,255.6 347.5,250.3" fill="url(#g155)"/><polygon points="344.5,245.2 341.2,240.7 337.1,236.5 332.3,233.0 326.9,230.0 321.1,227.8 315.0,226.2 308.8,225.5 302.5,225.5 296.3,226.3 290.4,227.8 284.9,230.2 279.9,233.1 275.5,236.8 272.0,240.9 269.2,245.5 267.5,250.5 266.6,255.6 266.9,260.9 268.1,266.2 270.3,271.3 273.5,276.0 277.6,280.4 282.4,284.2 288.0,287.4 294.0,289.9 300.4,291.5 307.0,292.3 313.6,292.3 320.1,291.4 326.2,289.6 331.9,287.1 336.9,283.8 341.2,279.9 344.6,275.6 347.1,270.8 348.5,265.7 349.0,260.5 348.5,255.2 347.0,250.1" fill="url(#g156)"/><polygon points="344.0,245.1 340.7,240.6 336.7,236.5 332.0,233.0 326.7,230.1 321.0,227.9 315.0,226.4 308.8,225.6 302.6,225.7 296.5,226.4 290.7,228.0 285.3,230.3 280.4,233.2 276.1,236.7 272.6,240.8 269.9,245.4 268.2,250.2 267.4,255.3 267.6,260.5 268.8,265.7 271.0,270.7 274.2,275.4 278.2,279.6 282.9,283.4 288.4,286.5 294.3,288.9 300.6,290.6 307.1,291.4 313.6,291.3 319.9,290.4 326.0,288.7 331.5,286.2 336.4,283.0 340.6,279.2 344.0,274.9 346.4,270.2 347.9,265.2 348.4,260.1 347.9,254.9 346.4,249.9" fill="url(#g157)"/><polygon points="343.3,244.9 340.1,240.5 336.2,236.6 331.5,233.1 326.4,230.3 320.8,228.1 314.9,226.6 308.8,225.9 302.8,225.9 296.8,226.7 291.1,228.2 285.8,230.4 281.0,233.3 276.8,236.8 273.3,240.8 270.7,245.2 269.0,250.0 268.2,255.0 268.4,260.1 269.6,265.1 271.8,270.0 274.9,274.6 278.8,278.8 283.5,282.5 288.8,285.6 294.6,287.9 300.8,289.5 307.1,290.3 313.5,290.3 319.7,289.4 325.7,287.7 331.1,285.3 335.9,282.1 340.1,278.4 343.3,274.2 345.7,269.6 347.2,264.7 347.7,259.6 347.1,254.6 345.7,249.7" fill="url(#g158)"/><polygon points="342.6,244.9 339.4,240.6 335.6,236.7 331.1,233.3 326.0,230.5 320.5,228.4 314.8,227.0 308.9,226.2 302.9,226.3 297.1,227.0 291.5,228.5 286.3,230.7 281.6,233.5 277.6,236.9 274.2,240.8 271.6,245.1 270.0,249.8 269.2,254.7 269.4,259.6 270.6,264.6 272.7,269.4 275.7,273.8 279.5,278.0 284.1,281.5 289.3,284.5 295.0,286.8 301.0,288.4 307.2,289.2 313.4,289.1 319.5,288.2 325.3,286.6 330.6,284.2 335.3,281.2 339.3,277.5 342.6,273.4 344.9,268.9 346.3,264.1 346.8,259.2 346.3,254.3 344.9,249.5" fill="url(#g159)"/><polygon points="341.7,244.8 338.6,240.7 334.9,236.9 330.5,233.6 325.6,230.9 320.2,228.8 314.6,227.4 308.9,226.7 303.1,226.7 297.4,227.5 292.0,228.9 287.0,231.0 282.4,233.8 278.4,237.1 275.2,240.9 272.7,245.1 271.1,249.6 270.3,254.4 270.6,259.2 271.7,264.0 273.7,268.6 276.7,273.0 280.4,277.0 284.8,280.5 289.9,283.4 295.4,285.6 301.3,287.1 307.3,287.9 313.3,287.8 319.2,287.0 324.8,285.4 330.0,283.1 334.6,280.1 338.5,276.6 341.6,272.6 343.9,268.2 345.3,263.6 345.8,258.8 345.3,254.0 343.9,249.3" fill="url(#g160)"/><polygon points="340.6,244.9 337.7,240.8 334.1,237.2 329.8,234.0 325.1,231.4 319.9,229.4 314.5,228.0 308.9,227.3 303.3,227.3 297.8,228.1 292.6,229.5 287.7,231.5 283.3,234.2 279.4,237.4 276.3,241.1 273.9,245.1 272.3,249.5 271.6,254.1 271.8,258.8 272.9,263.4 274.9,267.9 277.8,272.1 281.4,276.0 285.7,279.3 290.5,282.1 295.9,284.3 301.5,285.7 307.4,286.5 313.2,286.4 318.9,285.6 324.3,284.1 329.3,281.8 333.8,279.0 337.6,275.6 340.6,271.7 342.8,267.5 344.1,263.0 344.6,258.4 344.1,253.7 342.8,249.2" fill="url(#g161)"/><polygon points="339.5,244.9 336.7,241.0 333.2,237.5 329.1,234.5 324.5,231.9 319.5,230.0 314.3,228.7 308.9,228.0 303.5,228.0 298.3,228.7 293.2,230.1 288.5,232.0 284.2,234.6 280.5,237.7 277.5,241.3 275.2,245.2 273.7,249.4 273.0,253.8 273.2,258.3 274.3,262.8 276.2,267.1 278.9,271.2 282.4,274.9 286.6,278.1 291.3,280.8 296.4,282.9 301.8,284.3 307.4,285.0 313.1,284.9 318.6,284.2 323.8,282.7 328.6,280.5 332.9,277.8 336.5,274.5 339.4,270.8 341.6,266.7 342.9,262.4 343.3,257.9 342.9,253.5 341.6,249.1" fill="url(#g162)"/><polygon points="338.3,245.0 335.6,241.3 332.3,237.9 328.3,235.0 323.9,232.5 319.1,230.7 314.1,229.4 309.0,228.8 303.8,228.8 298.7,229.4 293.8,230.7 289.3,232.6 285.2,235.1 281.7,238.1 278.7,241.5 276.5,245.3 275.1,249.3 274.4,253.6 274.6,257.9 275.7,262.2 277.5,266.3 280.2,270.2 283.5,273.8 287.5,276.9 292.0,279.5 296.9,281.4 302.1,282.8 307.5,283.5 312.9,283.4 318.2,282.7 323.2,281.3 327.8,279.2 331.9,276.6 335.4,273.4 338.3,269.8 340.3,265.9 341.5,261.8 342.0,257.5 341.6,253.2 340.3,249.0" fill="url(#g163)"/><polygon points="337.1,245.1 334.5,241.5 331.3,238.3 327.5,235.5 323.3,233.1 318.7,231.4 313.9,230.1 309.0,229.5 304.0,229.5 299.1,230.2 294.5,231.4 290.1,233.2 286.2,235.6 282.8,238.5 280.0,241.7 277.9,245.4 276.5,249.2 275.9,253.3 276.1,257.4 277.1,261.5 278.9,265.5 281.4,269.2 284.6,272.6 288.4,275.6 292.7,278.1 297.5,280.0 302.5,281.3 307.6,281.9 312.8,281.9 317.8,281.1 322.6,279.8 327.0,277.8 331.0,275.3 334.3,272.3 337.0,268.9 339.0,265.1 340.2,261.2 340.6,257.1 340.2,253.0 339.0,249.0" fill="url(#g164)"/><polygon points="335.9,245.2 333.4,241.8 330.3,238.7 326.7,236.0 322.7,233.8 318.3,232.1 313.7,230.9 309.0,230.3 304.2,230.4 299.6,231.0 295.1,232.2 291.0,233.9 287.3,236.2 284.0,238.9 281.4,242.0 279.3,245.5 278.0,249.2 277.5,253.0 277.7,257.0 278.6,260.9 280.3,264.7 282.7,268.2 285.8,271.5 289.4,274.3 293.5,276.6 298.0,278.5 302.8,279.7 307.7,280.3 312.6,280.3 317.4,279.6 322.0,278.3 326.2,276.4 330.0,274.0 333.2,271.1 335.7,267.9 337.6,264.3 338.8,260.5 339.2,256.7 338.8,252.7 337.7,248.9" fill="url(#g165)"/><polygon points="334.5,245.4 332.2,242.1 329.3,239.2 325.8,236.6 322.0,234.5 317.9,232.9 313.5,231.8 309.0,231.2 304.5,231.2 300.1,231.8 295.8,232.9 291.9,234.6 288.4,236.7 285.3,239.3 282.8,242.3 280.9,245.6 279.6,249.1 279.1,252.8 279.3,256.5 280.2,260.2 281.8,263.8 284.1,267.2 287.0,270.2 290.4,272.9 294.3,275.2 298.6,276.9 303.1,278.0 307.8,278.6 312.4,278.6 317.0,277.9 321.3,276.7 325.3,275.0 328.9,272.7 331.9,270.0 334.4,266.9 336.2,263.5 337.3,259.9 337.6,256.2 337.3,252.5 336.2,248.9" fill="url(#g166)"/><polygon points="333.1,245.5 330.9,242.5 328.1,239.7 324.9,237.3 321.3,235.3 317.4,233.7 313.3,232.7 309.0,232.2 304.8,232.2 300.6,232.7 296.6,233.8 292.9,235.4 289.5,237.4 286.6,239.8 284.3,242.6 282.5,245.7 281.3,249.1 280.8,252.5 281.0,256.1 281.8,259.5 283.4,262.9 285.5,266.1 288.3,269.0 291.5,271.5 295.2,273.6 299.2,275.2 303.5,276.3 307.9,276.9 312.3,276.8 316.6,276.2 320.6,275.1 324.4,273.4 327.8,271.3 330.6,268.7 332.9,265.8 334.6,262.6 335.7,259.3 336.0,255.8 335.7,252.3 334.7,248.8" fill="url(#g167)"/><polygon points="331.6,245.7 329.5,242.9 326.9,240.3 323.9,238.0 320.5,236.1 316.9,234.7 313.0,233.7 309.0,233.3 305.0,233.3 301.1,233.8 297.4,234.8 293.9,236.2 290.8,238.1 288.1,240.4 285.9,243.0 284.2,245.9 283.1,249.0 282.6,252.3 282.8,255.6 283.6,258.8 285.1,262.0 287.1,265.0 289.6,267.7 292.7,270.0 296.1,272.0 299.9,273.5 303.8,274.5 307.9,275.0 312.1,275.0 316.1,274.4 319.9,273.4 323.4,271.8 326.6,269.8 329.2,267.4 331.4,264.7 333.0,261.7 333.9,258.6 334.3,255.3 334.0,252.0 333.1,248.8" fill="url(#g168)"/><polygon points="329.9,246.0 328.0,243.3 325.6,240.9 322.8,238.8 319.7,237.1 316.3,235.8 312.7,234.9 309.0,234.4 305.3,234.4 301.7,234.9 298.3,235.8 295.0,237.2 292.1,238.9 289.6,241.1 287.6,243.5 286.0,246.2 285.0,249.1 284.6,252.1 284.8,255.1 285.5,258.1 286.8,261.0 288.7,263.8 291.1,266.3 293.9,268.5 297.1,270.3 300.6,271.7 304.2,272.6 308.0,273.1 311.8,273.0 315.5,272.5 319.1,271.5 322.3,270.1 325.3,268.3 327.7,266.1 329.7,263.5 331.2,260.8 332.1,257.9 332.4,254.9 332.2,251.8 331.3,248.8" fill="url(#g169)"/><polygon points="328.2,246.2 326.5,243.8 324.3,241.6 321.7,239.7 318.8,238.1 315.7,236.8 312.4,236.0 309.0,235.6 305.6,235.6 302.3,236.0 299.1,236.9 296.2,238.1 293.5,239.8 291.2,241.7 289.3,243.9 287.9,246.4 287.0,249.1 286.6,251.8 286.8,254.6 287.5,257.4 288.7,260.1 290.4,262.6 292.6,264.9 295.2,266.9 298.1,268.5 301.3,269.8 304.6,270.7 308.1,271.1 311.6,271.1 315.0,270.6 318.3,269.7 321.3,268.4 323.9,266.7 326.2,264.7 328.0,262.4 329.4,259.8 330.2,257.2 330.5,254.4 330.3,251.6 329.5,248.9" fill="url(#g170)"/><polygon points="326.5,246.5 324.9,244.3 322.9,242.3 320.6,240.6 317.9,239.1 315.1,238.0 312.1,237.2 309.0,236.9 306.0,236.9 302.9,237.3 300.0,238.0 297.4,239.2 295.0,240.6 292.9,242.4 291.2,244.4 289.9,246.7 289.0,249.1 288.7,251.6 288.8,254.1 289.5,256.6 290.6,259.1 292.1,261.3 294.1,263.4 296.5,265.2 299.1,266.7 302.0,267.9 305.1,268.7 308.2,269.1 311.4,269.0 314.5,268.6 317.4,267.8 320.1,266.6 322.5,265.1 324.6,263.2 326.3,261.2 327.5,258.9 328.3,256.4 328.5,253.9 328.3,251.4 327.6,248.9" fill="url(#g171)"/><polygon points="324.5,246.9 323.1,244.9 321.3,243.1 319.3,241.6 316.9,240.3 314.4,239.3 311.8,238.6 309.0,238.3 306.3,238.3 303.6,238.7 301.1,239.4 298.7,240.4 296.5,241.7 294.7,243.2 293.2,245.0 292.0,247.0 291.3,249.2 291.0,251.4 291.1,253.6 291.7,255.9 292.7,258.0 294.1,260.0 295.8,261.9 297.9,263.5 300.2,264.8 302.8,265.8 305.5,266.5 308.3,266.8 311.1,266.8 313.8,266.5 316.4,265.7 318.9,264.7 321.0,263.3 322.8,261.7 324.3,259.9 325.4,257.8 326.1,255.7 326.3,253.5 326.1,251.2 325.5,249.0" fill="url(#g172)"/><polygon points="322.1,247.4 320.9,245.8 319.4,244.3 317.7,242.9 315.7,241.9 313.6,241.0 311.3,240.5 309.0,240.2 306.7,240.2 304.5,240.5 302.3,241.1 300.3,241.9 298.5,243.0 296.9,244.4 295.6,245.9 294.7,247.6 294.1,249.3 293.8,251.2 293.9,253.1 294.4,255.0 295.3,256.8 296.4,258.5 297.9,260.0 299.6,261.4 301.6,262.5 303.8,263.4 306.1,263.9 308.4,264.2 310.8,264.2 313.1,263.9 315.3,263.3 317.3,262.4 319.1,261.3 320.7,259.9 321.9,258.4 322.8,256.7 323.4,254.8 323.6,253.0 323.5,251.1 322.9,249.2" fill="url(#g173)"/><polygon points="319.5,248.1 318.6,246.8 317.4,245.5 316.0,244.5 314.4,243.6 312.7,242.9 310.9,242.5 309.0,242.2 307.1,242.2 305.3,242.5 303.6,243.0 301.9,243.7 300.5,244.5 299.2,245.6 298.2,246.8 297.4,248.2 296.9,249.7 296.7,251.2 296.8,252.7 297.2,254.2 297.9,255.7 298.8,257.0 300.0,258.3 301.4,259.4 303.0,260.3 304.8,260.9 306.6,261.4 308.5,261.6 310.4,261.6 312.3,261.4 314.0,260.9 315.7,260.2 317.1,259.3 318.4,258.2 319.4,256.9 320.1,255.5 320.6,254.1 320.8,252.6 320.6,251.1 320.2,249.5" fill="url(#g174)"/><polygon points="317.0,248.8 316.3,247.8 315.3,246.9 314.3,246.1 313.1,245.4 311.8,244.9 310.4,244.5 309.0,244.4 307.5,244.4 306.2,244.5 304.8,244.9 303.6,245.4 302.5,246.1 301.5,246.9 300.7,247.9 300.2,248.9 299.8,250.0 299.6,251.2 299.7,252.3 300.0,253.5 300.5,254.6 301.3,255.6 302.2,256.5 303.2,257.4 304.4,258.1 305.8,258.6 307.2,258.9 308.6,259.1 310.0,259.1 311.4,258.9 312.8,258.5 314.0,258.0 315.1,257.3 316.1,256.5 316.9,255.5 317.4,254.5 317.8,253.4 317.9,252.2 317.8,251.1 317.5,249.9" fill="url(#g175)"/><polygon points="314.4,249.6 313.9,248.9 313.3,248.2 312.6,247.7 311.7,247.2 310.8,246.9 309.9,246.6 308.9,246.5 308.0,246.5 307.0,246.6 306.1,246.9 305.2,247.3 304.5,247.7 303.8,248.3 303.3,248.9 302.9,249.6 302.6,250.4 302.5,251.2 302.6,252.0 302.8,252.8 303.2,253.5 303.7,254.2 304.3,254.9 305.0,255.4 305.8,255.9 306.7,256.2 307.7,256.5 308.7,256.6 309.7,256.6 310.6,256.5 311.5,256.2 312.4,255.9 313.1,255.4 313.8,254.8 314.3,254.2 314.7,253.5 315.0,252.7 315.1,251.9 315.0,251.1 314.8,250.3" fill="url(#g176)"/><polygon points="311.8,250.4 311.6,250.0 311.2,249.7 310.8,249.4 310.4,249.1 309.9,248.9 309.4,248.8 308.9,248.7 308.4,248.7 307.8,248.8 307.3,248.9 306.9,249.1 306.5,249.4 306.1,249.7 305.8,250.0 305.6,250.4 305.5,250.8 305.4,251.2 305.5,251.7 305.6,252.1 305.8,252.5 306.0,252.9 306.4,253.2 306.8,253.5 307.2,253.8 307.7,254.0 308.2,254.1 308.7,254.2 309.3,254.2 309.8,254.1 310.3,254.0 310.7,253.8 311.2,253.5 311.5,253.2 311.8,252.9 312.0,252.5 312.1,252.1 312.2,251.6 312.2,251.2 312.0,250.8" fill="url(#g177)"/><g fill="none" stroke-linecap="round" filter="url(#bl)"><path d="M358.8 180.8L360.9 175.3" stroke="#bcd8ff" stroke-opacity="0.24" stroke-width="1.1"/><path d="M371.0 187.1L372.1 184.9" stroke="#bcd8ff" stroke-opacity="0.36" stroke-width="1.1"/><path d="M370.1 191.6L371.8 188.1" stroke="#bcd8ff" stroke-opacity="0.22" stroke-width="1.1"/><path d="M354.1 184.4L355.8 179.7" stroke="#bcd8ff" stroke-opacity="0.33" stroke-width="1.1"/><path d="M392.1 202.6L395.0 198.4" stroke="#bcd8ff" stroke-opacity="0.16" stroke-width="1.1"/><path d="M398.4 218.2L401.6 213.5" stroke="#bcd8ff" stroke-opacity="0.03" stroke-width="1.1"/><path d="M353.0 183.0L354.6 178.6" stroke="#bcd8ff" stroke-opacity="0.42" stroke-width="1.1"/><path d="M358.6 185.4L360.4 180.9" stroke="#bcd8ff" stroke-opacity="0.25" stroke-width="1.1"/><path d="M352.0 187.0L354.0 181.0" stroke="#bcd8ff" stroke-opacity="0.23" stroke-width="1.1"/><path d="M375.3 202.1L378.5 195.2" stroke="#bcd8ff" stroke-opacity="0.15" stroke-width="1.1"/><path d="M361.8 182.4L363.6 178.0" stroke="#bcd8ff" stroke-opacity="0.41" stroke-width="1.1"/><path d="M356.1 181.5L357.1 178.8" stroke="#bcd8ff" stroke-opacity="0.33" stroke-width="1.1"/><path d="M355.3 179.7L356.8 175.9" stroke="#bcd8ff" stroke-opacity="0.34" stroke-width="1.1"/><path d="M386.6 203.7L388.7 200.3" stroke="#bcd8ff" stroke-opacity="0.10" stroke-width="1.1"/><path d="M337.6 179.7L339.5 172.6" stroke="#bcd8ff" stroke-opacity="0.26" stroke-width="1.1"/><path d="M375.5 192.6L378.1 187.8" stroke="#bcd8ff" stroke-opacity="0.17" stroke-width="1.1"/><path d="M385.5 205.1L387.8 201.1" stroke="#bcd8ff" stroke-opacity="0.09" stroke-width="1.1"/><path d="M323.8 179.0L324.9 172.8" stroke="#bcd8ff" stroke-opacity="0.12" stroke-width="1.1"/><path d="M404.5 216.6L406.3 214.3" stroke="#bcd8ff" stroke-opacity="0.04" stroke-width="1.1"/><path d="M338.9 173.9L340.2 169.0" stroke="#bcd8ff" stroke-opacity="0.17" stroke-width="1.1"/><path d="M313.6 169.1L314.1 164.1" stroke="#bcd8ff" stroke-opacity="0.06" stroke-width="1.1"/><path d="M361.1 184.9L363.0 180.2" stroke="#bcd8ff" stroke-opacity="0.28" stroke-width="1.1"/><path d="M367.7 193.6L368.9 190.8" stroke="#bcd8ff" stroke-opacity="0.37" stroke-width="1.1"/><path d="M338.5 177.9L339.6 174.0" stroke="#bcd8ff" stroke-opacity="0.30" stroke-width="1.1"/><path d="M340.5 180.6L341.2 177.9" stroke="#bcd8ff" stroke-opacity="0.18" stroke-width="1.1"/><path d="M405.2 217.5L407.8 214.3" stroke="#bcd8ff" stroke-opacity="0.03" stroke-width="1.1"/><path d="M291.5 175.4L291.4 169.8" stroke="#bcd8ff" stroke-opacity="0.02" stroke-width="1.1"/><path d="M343.5 179.7L345.2 173.8" stroke="#bcd8ff" stroke-opacity="0.37" stroke-width="1.1"/><path d="M344.0 175.0L344.7 172.6" stroke="#bcd8ff" stroke-opacity="0.33" stroke-width="1.1"/><path d="M381.8 204.1L384.2 199.6" stroke="#bcd8ff" stroke-opacity="0.21" stroke-width="1.1"/><path d="M352.4 181.4L354.4 175.6" stroke="#bcd8ff" stroke-opacity="0.31" stroke-width="1.1"/><path d="M401.7 220.6L403.8 217.6" stroke="#bcd8ff" stroke-opacity="0.03" stroke-width="1.1"/><path d="M332.8 179.0L334.4 171.9" stroke="#bcd8ff" stroke-opacity="0.22" stroke-width="1.1"/><path d="M334.6 180.4L336.3 173.2" stroke="#bcd8ff" stroke-opacity="0.21" stroke-width="1.1"/><path d="M315.6 174.0L316.2 168.9" stroke="#bcd8ff" stroke-opacity="0.13" stroke-width="1.1"/><path d="M382.5 198.0L384.7 194.2" stroke="#bcd8ff" stroke-opacity="0.24" stroke-width="1.1"/><path d="M379.9 191.8L381.2 189.5" stroke="#bcd8ff" stroke-opacity="0.21" stroke-width="1.1"/><path d="M363.3 182.2L364.7 179.0" stroke="#bcd8ff" stroke-opacity="0.39" stroke-width="1.1"/><path d="M366.9 186.8L369.1 182.0" stroke="#bcd8ff" stroke-opacity="0.42" stroke-width="1.1"/><path d="M366.7 190.8L368.2 187.5" stroke="#bcd8ff" stroke-opacity="0.18" stroke-width="1.1"/><path d="M309.6 168.9L310.1 162.6" stroke="#bcd8ff" stroke-opacity="0.05" stroke-width="1.1"/><path d="M376.9 195.5L379.3 191.0" stroke="#bcd8ff" stroke-opacity="0.26" stroke-width="1.1"/><path d="M376.0 188.9L378.1 185.0" stroke="#bcd8ff" stroke-opacity="0.28" stroke-width="1.1"/><path d="M354.0 188.0L355.0 184.8" stroke="#bcd8ff" stroke-opacity="0.29" stroke-width="1.1"/><path d="M362.4 183.4L364.6 178.2" stroke="#bcd8ff" stroke-opacity="0.21" stroke-width="1.1"/><path d="M372.0 188.5L374.9 182.9" stroke="#bcd8ff" stroke-opacity="0.28" stroke-width="1.1"/><path d="M368.3 197.1L369.6 193.8" stroke="#bcd8ff" stroke-opacity="0.16" stroke-width="1.1"/><path d="M355.6 187.6L356.8 184.1" stroke="#bcd8ff" stroke-opacity="0.33" stroke-width="1.1"/><path d="M372.5 191.4L373.9 188.5" stroke="#bcd8ff" stroke-opacity="0.30" stroke-width="1.1"/><path d="M360.2 188.8L362.9 182.2" stroke="#bcd8ff" stroke-opacity="0.32" stroke-width="1.1"/><path d="M331.4 174.9L332.5 169.6" stroke="#bcd8ff" stroke-opacity="0.14" stroke-width="1.1"/><path d="M331.5 183.3L333.1 175.8" stroke="#bcd8ff" stroke-opacity="0.29" stroke-width="1.1"/><path d="M313.6 180.2L314.2 174.9" stroke="#bcd8ff" stroke-opacity="0.08" stroke-width="1.1"/><path d="M383.7 198.2L386.8 193.1" stroke="#bcd8ff" stroke-opacity="0.15" stroke-width="1.1"/><path d="M407.5 218.0L409.3 215.9" stroke="#bcd8ff" stroke-opacity="0.03" stroke-width="1.1"/><path d="M354.9 188.1L356.8 182.7" stroke="#bcd8ff" stroke-opacity="0.35" stroke-width="1.1"/><path d="M379.7 203.3L382.6 197.7" stroke="#bcd8ff" stroke-opacity="0.21" stroke-width="1.1"/><path d="M346.9 177.4L348.1 173.6" stroke="#bcd8ff" stroke-opacity="0.34" stroke-width="1.1"/><path d="M382.0 193.6L383.6 191.0" stroke="#bcd8ff" stroke-opacity="0.12" stroke-width="1.1"/><path d="M346.8 184.8L348.4 179.3" stroke="#bcd8ff" stroke-opacity="0.41" stroke-width="1.1"/><path d="M358.6 188.9L360.4 184.2" stroke="#bcd8ff" stroke-opacity="0.36" stroke-width="1.1"/><path d="M335.9 179.3L336.7 176.0" stroke="#bcd8ff" stroke-opacity="0.26" stroke-width="1.1"/><path d="M323.9 176.8L324.7 172.4" stroke="#bcd8ff" stroke-opacity="0.15" stroke-width="1.1"/><path d="M401.4 219.7L403.8 216.4" stroke="#bcd8ff" stroke-opacity="0.03" stroke-width="1.1"/><path d="M319.2 171.7L319.9 166.5" stroke="#bcd8ff" stroke-opacity="0.10" stroke-width="1.1"/><path d="M325.4 172.5L325.9 169.4" stroke="#bcd8ff" stroke-opacity="0.11" stroke-width="1.1"/><path d="M354.4 189.8L357.0 182.4" stroke="#bcd8ff" stroke-opacity="0.25" stroke-width="1.1"/><path d="M385.5 196.8L388.1 192.5" stroke="#bcd8ff" stroke-opacity="0.13" stroke-width="1.1"/><path d="M391.0 200.4L393.2 197.1" stroke="#bcd8ff" stroke-opacity="0.15" stroke-width="1.1"/><path d="M307.4 170.9L307.7 164.7" stroke="#bcd8ff" stroke-opacity="0.08" stroke-width="1.1"/><path d="M346.3 182.4L347.1 179.6" stroke="#bcd8ff" stroke-opacity="0.30" stroke-width="1.1"/><path d="M353.7 187.7L355.1 183.6" stroke="#bcd8ff" stroke-opacity="0.32" stroke-width="1.1"/><path d="M323.9 170.7L324.4 167.7" stroke="#bcd8ff" stroke-opacity="0.10" stroke-width="1.1"/><path d="M372.5 190.8L375.1 185.7" stroke="#bcd8ff" stroke-opacity="0.38" stroke-width="1.1"/><path d="M330.5 172.6L331.8 166.6" stroke="#bcd8ff" stroke-opacity="0.17" stroke-width="1.1"/><path d="M350.0 186.4L352.1 180.0" stroke="#bcd8ff" stroke-opacity="0.37" stroke-width="1.1"/><path d="M313.4 174.6L313.9 170.2" stroke="#bcd8ff" stroke-opacity="0.08" stroke-width="1.1"/><path d="M375.5 190.1L377.8 185.8" stroke="#bcd8ff" stroke-opacity="0.23" stroke-width="1.1"/><path d="M367.5 187.1L369.2 183.3" stroke="#bcd8ff" stroke-opacity="0.38" stroke-width="1.1"/><path d="M367.1 191.1L368.5 188.1" stroke="#bcd8ff" stroke-opacity="0.35" stroke-width="1.1"/><path d="M393.5 213.5L396.8 208.3" stroke="#bcd8ff" stroke-opacity="0.10" stroke-width="1.1"/><path d="M375.1 199.8L376.6 196.6" stroke="#bcd8ff" stroke-opacity="0.32" stroke-width="1.1"/><path d="M365.9 188.1L367.8 183.9" stroke="#bcd8ff" stroke-opacity="0.36" stroke-width="1.1"/><path d="M384.7 195.2L386.4 192.4" stroke="#bcd8ff" stroke-opacity="0.22" stroke-width="1.1"/><path d="M362.6 187.7L363.6 185.2" stroke="#bcd8ff" stroke-opacity="0.26" stroke-width="1.1"/><path d="M386.4 198.9L388.7 195.2" stroke="#bcd8ff" stroke-opacity="0.10" stroke-width="1.1"/><path d="M313.6 169.5L314.2 162.8" stroke="#bcd8ff" stroke-opacity="0.07" stroke-width="1.1"/><path d="M361.3 190.5L362.6 187.2" stroke="#bcd8ff" stroke-opacity="0.18" stroke-width="1.1"/><path d="M354.5 189.2L355.8 185.3" stroke="#bcd8ff" stroke-opacity="0.41" stroke-width="1.1"/><path d="M377.5 200.3L380.3 194.9" stroke="#bcd8ff" stroke-opacity="0.17" stroke-width="1.1"/><path d="M350.5 185.1L352.2 180.1" stroke="#bcd8ff" stroke-opacity="0.34" stroke-width="1.1"/><path d="M351.1 183.8L353.2 177.8" stroke="#bcd8ff" stroke-opacity="0.41" stroke-width="1.1"/><path d="M339.4 183.7L340.4 180.0" stroke="#bcd8ff" stroke-opacity="0.36" stroke-width="1.1"/><path d="M400.8 219.5L405.0 213.9" stroke="#bcd8ff" stroke-opacity="0.03" stroke-width="1.1"/><path d="M361.3 186.8L363.9 180.5" stroke="#bcd8ff" stroke-opacity="0.19" stroke-width="1.1"/><path d="M339.6 177.6L340.3 174.8" stroke="#bcd8ff" stroke-opacity="0.19" stroke-width="1.1"/><path d="M388.7 198.6L391.8 193.9" stroke="#bcd8ff" stroke-opacity="0.19" stroke-width="1.1"/><path d="M354.8 181.4L357.0 175.5" stroke="#bcd8ff" stroke-opacity="0.36" stroke-width="1.1"/><path d="M325.8 178.1L326.4 174.5" stroke="#bcd8ff" stroke-opacity="0.20" stroke-width="1.1"/><path d="M369.5 185.7L371.7 181.2" stroke="#bcd8ff" stroke-opacity="0.25" stroke-width="1.1"/><path d="M333.8 181.9L335.0 176.3" stroke="#bcd8ff" stroke-opacity="0.14" stroke-width="1.1"/><path d="M399.0 211.9L402.5 207.3" stroke="#bcd8ff" stroke-opacity="0.05" stroke-width="1.1"/><path d="M368.2 187.7L370.5 182.8" stroke="#bcd8ff" stroke-opacity="0.40" stroke-width="1.1"/><path d="M380.6 198.8L383.4 193.9" stroke="#bcd8ff" stroke-opacity="0.25" stroke-width="1.1"/><path d="M318.7 172.5L319.1 169.0" stroke="#bcd8ff" stroke-opacity="0.12" stroke-width="1.1"/><path d="M363.0 194.1L365.6 187.5" stroke="#bcd8ff" stroke-opacity="0.18" stroke-width="1.1"/><path d="M311.2 174.1L311.6 169.5" stroke="#bcd8ff" stroke-opacity="0.09" stroke-width="1.1"/><path d="M368.5 187.5L369.7 184.9" stroke="#bcd8ff" stroke-opacity="0.31" stroke-width="1.1"/><path d="M349.3 176.8L350.2 174.3" stroke="#bcd8ff" stroke-opacity="0.28" stroke-width="1.1"/><path d="M358.8 185.0L359.8 182.3" stroke="#bcd8ff" stroke-opacity="0.34" stroke-width="1.1"/><path d="M381.6 202.9L384.9 196.8" stroke="#bcd8ff" stroke-opacity="0.13" stroke-width="1.1"/><path d="M395.9 206.5L399.0 202.1" stroke="#bcd8ff" stroke-opacity="0.09" stroke-width="1.1"/><path d="M332.9 177.5L334.2 172.1" stroke="#bcd8ff" stroke-opacity="0.27" stroke-width="1.1"/><path d="M347.0 179.3L348.3 175.1" stroke="#bcd8ff" stroke-opacity="0.30" stroke-width="1.1"/><path d="M362.4 184.3L364.1 180.4" stroke="#bcd8ff" stroke-opacity="0.30" stroke-width="1.1"/><path d="M360.0 186.1L361.5 182.3" stroke="#bcd8ff" stroke-opacity="0.40" stroke-width="1.1"/><path d="M359.7 181.9L361.9 176.3" stroke="#bcd8ff" stroke-opacity="0.30" stroke-width="1.1"/><path d="M396.8 219.1L399.5 214.7" stroke="#bcd8ff" stroke-opacity="0.07" stroke-width="1.1"/><path d="M394.7 208.0L397.7 203.7" stroke="#bcd8ff" stroke-opacity="0.10" stroke-width="1.1"/><path d="M346.4 181.8L347.4 178.5" stroke="#bcd8ff" stroke-opacity="0.24" stroke-width="1.1"/><path d="M376.5 195.9L379.8 189.7" stroke="#bcd8ff" stroke-opacity="0.20" stroke-width="1.1"/><path d="M386.8 204.0L389.5 199.7" stroke="#bcd8ff" stroke-opacity="0.19" stroke-width="1.1"/><path d="M350.0 183.7L351.3 179.9" stroke="#bcd8ff" stroke-opacity="0.41" stroke-width="1.1"/><path d="M301.7 171.2L301.8 168.3" stroke="#bcd8ff" stroke-opacity="0.05" stroke-width="1.1"/><path d="M388.7 203.8L390.5 201.0" stroke="#bcd8ff" stroke-opacity="0.12" stroke-width="1.1"/><path d="M334.8 173.7L335.9 169.1" stroke="#bcd8ff" stroke-opacity="0.27" stroke-width="1.1"/><path d="M316.9 175.8L317.6 170.5" stroke="#bcd8ff" stroke-opacity="0.08" stroke-width="1.1"/><path d="M328.0 173.6L329.1 167.6" stroke="#bcd8ff" stroke-opacity="0.11" stroke-width="1.1"/><path d="M383.8 195.8L386.1 192.1" stroke="#bcd8ff" stroke-opacity="0.12" stroke-width="1.1"/><path d="M378.2 199.8L380.9 194.7" stroke="#bcd8ff" stroke-opacity="0.18" stroke-width="1.1"/><path d="M358.5 188.7L360.3 184.0" stroke="#bcd8ff" stroke-opacity="0.32" stroke-width="1.1"/><path d="M357.0 188.9L359.7 181.9" stroke="#bcd8ff" stroke-opacity="0.26" stroke-width="1.1"/><path d="M375.8 198.0L377.2 195.2" stroke="#bcd8ff" stroke-opacity="0.21" stroke-width="1.1"/><path d="M359.7 183.5L360.9 180.3" stroke="#bcd8ff" stroke-opacity="0.22" stroke-width="1.1"/><path d="M351.3 179.4L352.8 174.9" stroke="#bcd8ff" stroke-opacity="0.41" stroke-width="1.1"/><path d="M364.1 186.6L366.5 181.1" stroke="#bcd8ff" stroke-opacity="0.37" stroke-width="1.1"/><path d="M389.4 207.9L391.9 204.0" stroke="#bcd8ff" stroke-opacity="0.11" stroke-width="1.1"/><path d="M364.8 189.2L367.1 184.2" stroke="#bcd8ff" stroke-opacity="0.21" stroke-width="1.1"/><path d="M360.0 190.8L361.6 186.6" stroke="#bcd8ff" stroke-opacity="0.43" stroke-width="1.1"/><path d="M363.0 192.0L364.4 188.4" stroke="#bcd8ff" stroke-opacity="0.30" stroke-width="1.1"/><path d="M350.6 182.8L351.6 179.6" stroke="#bcd8ff" stroke-opacity="0.25" stroke-width="1.1"/><path d="M367.3 194.2L369.7 188.8" stroke="#bcd8ff" stroke-opacity="0.26" stroke-width="1.1"/><path d="M351.6 178.9L352.7 175.9" stroke="#bcd8ff" stroke-opacity="0.42" stroke-width="1.1"/><path d="M364.9 186.4L366.0 184.0" stroke="#bcd8ff" stroke-opacity="0.35" stroke-width="1.1"/><path d="M395.7 206.0L397.6 203.3" stroke="#bcd8ff" stroke-opacity="0.12" stroke-width="1.1"/><path d="M349.2 187.3L350.7 182.6" stroke="#bcd8ff" stroke-opacity="0.18" stroke-width="1.1"/><path d="M415.2 226.7L419.5 222.3" stroke="#bcd8ff" stroke-opacity="0.01" stroke-width="1.1"/><path d="M374.7 191.6L377.0 187.2" stroke="#bcd8ff" stroke-opacity="0.35" stroke-width="1.1"/><path d="M306.3 175.4L306.6 170.2" stroke="#bcd8ff" stroke-opacity="0.03" stroke-width="1.1"/><path d="M389.7 201.9L392.0 198.4" stroke="#bcd8ff" stroke-opacity="0.17" stroke-width="1.1"/><path d="M258.4 175.1L257.6 171.7" stroke="#e8fff0" stroke-opacity="0.08" stroke-width="1.0"/><path d="M346.9 174.7L349.1 167.8" stroke="#e8fff0" stroke-opacity="0.15" stroke-width="1.0"/><path d="M271.3 163.0L270.5 158.3" stroke="#e8fff0" stroke-opacity="0.14" stroke-width="1.0"/><path d="M356.0 183.6L358.4 177.2" stroke="#003000" stroke-opacity="0.11" stroke-width="1.0"/><path d="M356.5 169.5L357.9 165.6" stroke="#003000" stroke-opacity="0.10" stroke-width="1.0"/><path d="M248.6 182.4L247.1 177.1" stroke="#e8fff0" stroke-opacity="0.12" stroke-width="1.0"/><path d="M243.4 185.2L242.1 181.1" stroke="#003000" stroke-opacity="0.15" stroke-width="1.0"/><path d="M346.1 171.2L347.6 166.4" stroke="#003000" stroke-opacity="0.12" stroke-width="1.0"/><path d="M256.8 170.3L255.3 164.3" stroke="#e8fff0" stroke-opacity="0.13" stroke-width="1.0"/><path d="M269.0 171.4L268.4 168.3" stroke="#003000" stroke-opacity="0.17" stroke-width="1.0"/><path d="M367.1 177.8L368.8 174.0" stroke="#e8fff0" stroke-opacity="0.15" stroke-width="1.0"/><path d="M318.3 171.1L318.9 166.6" stroke="#e8fff0" stroke-opacity="0.08" stroke-width="1.0"/><path d="M351.6 181.3L352.7 178.1" stroke="#e8fff0" stroke-opacity="0.08" stroke-width="1.0"/><path d="M259.4 164.7L258.4 160.7" stroke="#003000" stroke-opacity="0.14" stroke-width="1.0"/><path d="M384.0 199.6L387.6 193.6" stroke="#e8fff0" stroke-opacity="0.14" stroke-width="1.0"/><path d="M389.3 194.0L392.8 188.5" stroke="#003000" stroke-opacity="0.08" stroke-width="1.0"/><path d="M303.8 168.6L304.1 162.0" stroke="#e8fff0" stroke-opacity="0.09" stroke-width="1.0"/><path d="M247.4 176.5L245.9 171.8" stroke="#003000" stroke-opacity="0.12" stroke-width="1.0"/><path d="M391.3 199.7L393.2 196.7" stroke="#e8fff0" stroke-opacity="0.12" stroke-width="1.0"/><path d="M223.0 187.3L220.6 182.4" stroke="#e8fff0" stroke-opacity="0.12" stroke-width="1.0"/><path d="M258.0 170.7L256.5 164.4" stroke="#003000" stroke-opacity="0.10" stroke-width="1.0"/><path d="M291.6 166.6L291.5 162.8" stroke="#003000" stroke-opacity="0.18" stroke-width="1.0"/><path d="M377.9 187.2L380.8 181.8" stroke="#e8fff0" stroke-opacity="0.09" stroke-width="1.0"/><path d="M334.1 169.4L335.4 163.5" stroke="#003000" stroke-opacity="0.09" stroke-width="1.0"/><path d="M244.2 169.9L243.2 166.7" stroke="#e8fff0" stroke-opacity="0.08" stroke-width="1.0"/><path d="M238.5 172.6L237.5 169.7" stroke="#e8fff0" stroke-opacity="0.08" stroke-width="1.0"/><path d="M315.2 160.0L315.5 156.7" stroke="#e8fff0" stroke-opacity="0.11" stroke-width="1.0"/><path d="M303.6 162.2L303.8 157.2" stroke="#e8fff0" stroke-opacity="0.10" stroke-width="1.0"/><path d="M217.4 188.1L215.9 185.2" stroke="#003000" stroke-opacity="0.12" stroke-width="1.0"/><path d="M255.0 182.1L253.2 175.0" stroke="#e8fff0" stroke-opacity="0.11" stroke-width="1.0"/><path d="M275.8 168.1L275.3 164.3" stroke="#e8fff0" stroke-opacity="0.09" stroke-width="1.0"/><path d="M388.2 200.8L390.1 197.8" stroke="#e8fff0" stroke-opacity="0.10" stroke-width="1.0"/><path d="M290.9 170.3L290.8 167.0" stroke="#e8fff0" stroke-opacity="0.14" stroke-width="1.0"/><path d="M355.7 178.6L357.9 172.6" stroke="#e8fff0" stroke-opacity="0.15" stroke-width="1.0"/><path d="M230.4 187.7L227.9 182.1" stroke="#e8fff0" stroke-opacity="0.07" stroke-width="1.0"/><path d="M321.1 166.0L322.1 158.8" stroke="#e8fff0" stroke-opacity="0.13" stroke-width="1.0"/><path d="M312.7 173.3L313.4 165.5" stroke="#003000" stroke-opacity="0.10" stroke-width="1.0"/><path d="M233.6 189.8L232.3 186.6" stroke="#e8fff0" stroke-opacity="0.15" stroke-width="1.0"/><path d="M397.2 193.9L400.2 189.6" stroke="#e8fff0" stroke-opacity="0.12" stroke-width="1.0"/><path d="M316.8 166.1L317.5 159.8" stroke="#003000" stroke-opacity="0.20" stroke-width="1.0"/><path d="M376.2 181.2L378.3 177.0" stroke="#003000" stroke-opacity="0.19" stroke-width="1.0"/><path d="M219.4 195.9L217.2 191.6" stroke="#003000" stroke-opacity="0.19" stroke-width="1.0"/><path d="M335.4 163.0L336.5 158.3" stroke="#e8fff0" stroke-opacity="0.14" stroke-width="1.0"/><path d="M314.1 167.8L314.5 163.0" stroke="#e8fff0" stroke-opacity="0.07" stroke-width="1.0"/><path d="M391.5 192.6L394.3 188.2" stroke="#003000" stroke-opacity="0.18" stroke-width="1.0"/><path d="M359.3 183.3L360.9 179.2" stroke="#e8fff0" stroke-opacity="0.14" stroke-width="1.0"/><path d="M332.9 173.0L334.2 167.1" stroke="#e8fff0" stroke-opacity="0.07" stroke-width="1.0"/><path d="M268.2 165.3L267.4 161.1" stroke="#003000" stroke-opacity="0.08" stroke-width="1.0"/><path d="M327.8 167.5L328.6 163.4" stroke="#e8fff0" stroke-opacity="0.12" stroke-width="1.0"/><path d="M290.4 172.6L290.1 166.1" stroke="#e8fff0" stroke-opacity="0.16" stroke-width="1.0"/><path d="M364.3 185.2L365.9 181.6" stroke="#003000" stroke-opacity="0.11" stroke-width="1.0"/><path d="M286.5 158.6L286.0 151.5" stroke="#e8fff0" stroke-opacity="0.11" stroke-width="1.0"/><path d="M287.7 163.3L287.4 158.8" stroke="#e8fff0" stroke-opacity="0.06" stroke-width="1.0"/><path d="M393.6 198.3L395.4 195.8" stroke="#e8fff0" stroke-opacity="0.09" stroke-width="1.0"/><path d="M383.9 201.5L387.6 195.3" stroke="#e8fff0" stroke-opacity="0.08" stroke-width="1.0"/><path d="M268.2 178.5L267.4 174.1" stroke="#003000" stroke-opacity="0.19" stroke-width="1.0"/><path d="M281.6 174.5L281.2 169.8" stroke="#e8fff0" stroke-opacity="0.08" stroke-width="1.0"/><path d="M391.2 205.2L394.4 200.5" stroke="#e8fff0" stroke-opacity="0.08" stroke-width="1.0"/><path d="M232.7 185.9L231.0 181.8" stroke="#e8fff0" stroke-opacity="0.14" stroke-width="1.0"/><path d="M272.8 167.9L272.0 162.2" stroke="#e8fff0" stroke-opacity="0.09" stroke-width="1.0"/><path d="M291.1 159.0L290.8 152.4" stroke="#003000" stroke-opacity="0.14" stroke-width="1.0"/><path d="M399.6 196.6L401.4 194.1" stroke="#e8fff0" stroke-opacity="0.13" stroke-width="1.0"/><path d="M245.9 171.6L244.4 166.9" stroke="#e8fff0" stroke-opacity="0.06" stroke-width="1.0"/><path d="M237.8 171.8L236.4 168.2" stroke="#003000" stroke-opacity="0.13" stroke-width="1.0"/><path d="M345.8 173.3L346.7 170.4" stroke="#e8fff0" stroke-opacity="0.08" stroke-width="1.0"/><path d="M265.9 170.1L264.6 163.4" stroke="#003000" stroke-opacity="0.12" stroke-width="1.0"/><path d="M354.0 168.6L355.7 163.7" stroke="#e8fff0" stroke-opacity="0.06" stroke-width="1.0"/><path d="M217.4 191.3L216.0 188.7" stroke="#e8fff0" stroke-opacity="0.11" stroke-width="1.0"/><path d="M322.5 160.3L323.5 153.3" stroke="#e8fff0" stroke-opacity="0.08" stroke-width="1.0"/><path d="M327.9 163.2L329.0 157.5" stroke="#003000" stroke-opacity="0.15" stroke-width="1.0"/><path d="M366.7 176.0L367.9 173.3" stroke="#003000" stroke-opacity="0.10" stroke-width="1.0"/><path d="M315.0 159.0L315.5 153.7" stroke="#e8fff0" stroke-opacity="0.10" stroke-width="1.0"/><path d="M277.0 175.9L276.5 171.4" stroke="#e8fff0" stroke-opacity="0.11" stroke-width="1.0"/><path d="M332.1 169.7L333.0 165.4" stroke="#003000" stroke-opacity="0.10" stroke-width="1.0"/><path d="M228.2 177.2L226.2 172.7" stroke="#e8fff0" stroke-opacity="0.15" stroke-width="1.0"/><path d="M351.5 170.0L352.8 166.0" stroke="#003000" stroke-opacity="0.12" stroke-width="1.0"/><path d="M287.2 159.7L287.0 156.4" stroke="#003000" stroke-opacity="0.15" stroke-width="1.0"/><path d="M332.1 172.3L332.8 169.0" stroke="#e8fff0" stroke-opacity="0.12" stroke-width="1.0"/><path d="M385.0 189.4L388.6 183.5" stroke="#003000" stroke-opacity="0.19" stroke-width="1.0"/><path d="M249.8 180.8L247.7 173.7" stroke="#e8fff0" stroke-opacity="0.15" stroke-width="1.0"/><path d="M235.1 179.4L233.2 174.6" stroke="#e8fff0" stroke-opacity="0.11" stroke-width="1.0"/><path d="M347.8 180.8L348.9 177.2" stroke="#003000" stroke-opacity="0.19" stroke-width="1.0"/><path d="M372.7 194.5L374.6 190.5" stroke="#e8fff0" stroke-opacity="0.08" stroke-width="1.0"/><path d="M291.5 167.8L291.3 162.8" stroke="#e8fff0" stroke-opacity="0.13" stroke-width="1.0"/><path d="M349.4 176.4L351.0 171.5" stroke="#003000" stroke-opacity="0.11" stroke-width="1.0"/><path d="M265.4 173.6L264.0 166.6" stroke="#e8fff0" stroke-opacity="0.11" stroke-width="1.0"/><path d="M234.9 178.6L233.7 175.5" stroke="#e8fff0" stroke-opacity="0.16" stroke-width="1.0"/><path d="M392.3 202.4L396.2 196.6" stroke="#e8fff0" stroke-opacity="0.08" stroke-width="1.0"/><path d="M361.3 187.0L363.3 182.1" stroke="#003000" stroke-opacity="0.12" stroke-width="1.0"/><path d="M384.3 186.3L387.5 180.9" stroke="#003000" stroke-opacity="0.10" stroke-width="1.0"/><path d="M299.9 164.1L299.9 159.1" stroke="#003000" stroke-opacity="0.13" stroke-width="1.0"/><path d="M305.7 173.1L306.1 167.3" stroke="#003000" stroke-opacity="0.17" stroke-width="1.0"/><path d="M358.9 169.5L361.0 163.9" stroke="#e8fff0" stroke-opacity="0.10" stroke-width="1.0"/><path d="M254.7 179.1L253.2 173.3" stroke="#003000" stroke-opacity="0.14" stroke-width="1.0"/><path d="M236.8 181.3L235.0 176.7" stroke="#e8fff0" stroke-opacity="0.15" stroke-width="1.0"/><path d="M345.8 170.0L347.2 165.4" stroke="#003000" stroke-opacity="0.19" stroke-width="1.0"/><path d="M398.3 193.4L401.4 189.1" stroke="#e8fff0" stroke-opacity="0.11" stroke-width="1.0"/><path d="M391.5 196.6L393.5 193.6" stroke="#e8fff0" stroke-opacity="0.09" stroke-width="1.0"/><path d="M287.4 161.4L286.9 154.2" stroke="#e8fff0" stroke-opacity="0.12" stroke-width="1.0"/><path d="M396.2 204.3L400.2 198.7" stroke="#e8fff0" stroke-opacity="0.15" stroke-width="1.0"/><path d="M278.1 171.4L277.3 164.8" stroke="#e8fff0" stroke-opacity="0.15" stroke-width="1.0"/><path d="M382.8 198.8L386.0 193.3" stroke="#e8fff0" stroke-opacity="0.07" stroke-width="1.0"/><path d="M305.4 169.9L305.7 164.2" stroke="#003000" stroke-opacity="0.18" stroke-width="1.0"/><path d="M390.4 194.9L394.3 189.1" stroke="#e8fff0" stroke-opacity="0.14" stroke-width="1.0"/><path d="M386.7 186.7L389.5 182.2" stroke="#003000" stroke-opacity="0.17" stroke-width="1.0"/><path d="M239.8 187.5L237.7 181.5" stroke="#e8fff0" stroke-opacity="0.09" stroke-width="1.0"/><path d="M343.6 171.1L345.2 165.5" stroke="#003000" stroke-opacity="0.08" stroke-width="1.0"/><path d="M366.6 184.3L369.4 178.3" stroke="#e8fff0" stroke-opacity="0.11" stroke-width="1.0"/><path d="M256.3 170.2L255.2 166.1" stroke="#e8fff0" stroke-opacity="0.11" stroke-width="1.0"/><path d="M234.9 179.9L233.7 177.0" stroke="#e8fff0" stroke-opacity="0.10" stroke-width="1.0"/><path d="M291.6 165.0L291.3 157.7" stroke="#e8fff0" stroke-opacity="0.10" stroke-width="1.0"/><path d="M284.9 160.5L284.4 154.4" stroke="#e8fff0" stroke-opacity="0.14" stroke-width="1.0"/><path d="M311.9 159.0L312.3 154.7" stroke="#e8fff0" stroke-opacity="0.14" stroke-width="1.0"/><path d="M350.2 168.8L352.0 163.4" stroke="#e8fff0" stroke-opacity="0.07" stroke-width="1.0"/><path d="M253.9 181.4L252.0 174.1" stroke="#003000" stroke-opacity="0.12" stroke-width="1.0"/><path d="M381.7 183.2L384.1 178.9" stroke="#e8fff0" stroke-opacity="0.11" stroke-width="1.0"/><path d="M357.4 179.2L359.5 173.8" stroke="#003000" stroke-opacity="0.18" stroke-width="1.0"/><path d="M373.0 185.6L375.3 181.0" stroke="#003000" stroke-opacity="0.09" stroke-width="1.0"/><path d="M306.5 159.5L306.7 154.7" stroke="#e8fff0" stroke-opacity="0.12" stroke-width="1.0"/><path d="M346.1 166.1L347.0 162.9" stroke="#e8fff0" stroke-opacity="0.07" stroke-width="1.0"/><path d="M266.7 173.6L265.4 166.5" stroke="#003000" stroke-opacity="0.19" stroke-width="1.0"/><path d="M353.2 185.3L355.0 180.5" stroke="#003000" stroke-opacity="0.17" stroke-width="1.0"/><path d="M391.3 193.4L394.9 187.8" stroke="#003000" stroke-opacity="0.17" stroke-width="1.0"/><path d="M236.5 174.8L234.9 170.7" stroke="#e8fff0" stroke-opacity="0.13" stroke-width="1.0"/><path d="M376.4 189.3L379.8 182.9" stroke="#003000" stroke-opacity="0.14" stroke-width="1.0"/><path d="M225.9 191.0L222.8 184.5" stroke="#003000" stroke-opacity="0.12" stroke-width="1.0"/><path d="M341.0 178.7L343.0 171.5" stroke="#e8fff0" stroke-opacity="0.06" stroke-width="1.0"/><path d="M233.2 180.8L231.0 175.5" stroke="#003000" stroke-opacity="0.09" stroke-width="1.0"/><path d="M384.6 192.4L386.2 189.7" stroke="#e8fff0" stroke-opacity="0.13" stroke-width="1.0"/><path d="M276.5 166.1L276.0 162.9" stroke="#e8fff0" stroke-opacity="0.15" stroke-width="1.0"/><path d="M379.8 188.6L381.3 185.8" stroke="#003000" stroke-opacity="0.10" stroke-width="1.0"/><path d="M326.6 167.8L327.7 161.6" stroke="#003000" stroke-opacity="0.17" stroke-width="1.0"/><path d="M337.0 178.5L338.6 172.2" stroke="#003000" stroke-opacity="0.08" stroke-width="1.0"/><path d="M255.5 178.8L254.3 173.8" stroke="#e8fff0" stroke-opacity="0.12" stroke-width="1.0"/><path d="M216.8 189.8L214.7 185.9" stroke="#003000" stroke-opacity="0.14" stroke-width="1.0"/><path d="M325.4 170.8L326.4 165.5" stroke="#e8fff0" stroke-opacity="0.08" stroke-width="1.0"/><path d="M374.9 187.3L376.8 183.6" stroke="#003000" stroke-opacity="0.18" stroke-width="1.0"/><path d="M340.0 169.6L341.8 162.8" stroke="#e8fff0" stroke-opacity="0.12" stroke-width="1.0"/><path d="M320.1 165.1L321.1 157.8" stroke="#e8fff0" stroke-opacity="0.16" stroke-width="1.0"/><path d="M274.4 163.4L273.6 157.7" stroke="#003000" stroke-opacity="0.12" stroke-width="1.0"/><path d="M267.5 173.9L266.5 168.6" stroke="#003000" stroke-opacity="0.10" stroke-width="1.0"/><path d="M391.8 192.1L395.2 186.9" stroke="#003000" stroke-opacity="0.12" stroke-width="1.0"/><path d="M277.4 175.3L276.7 169.0" stroke="#003000" stroke-opacity="0.15" stroke-width="1.0"/><path d="M318.4 172.2L319.3 165.7" stroke="#e8fff0" stroke-opacity="0.13" stroke-width="1.0"/><path d="M333.9 177.5L335.2 171.9" stroke="#003000" stroke-opacity="0.19" stroke-width="1.0"/><path d="M236.7 189.0L234.5 182.8" stroke="#e8fff0" stroke-opacity="0.13" stroke-width="1.0"/><path d="M331.9 172.8L333.0 167.6" stroke="#e8fff0" stroke-opacity="0.13" stroke-width="1.0"/><path d="M280.3 164.5L279.8 159.8" stroke="#003000" stroke-opacity="0.12" stroke-width="1.0"/><path d="M286.7 167.5L286.3 161.9" stroke="#e8fff0" stroke-opacity="0.11" stroke-width="1.0"/><path d="M362.1 181.7L363.4 178.6" stroke="#003000" stroke-opacity="0.19" stroke-width="1.0"/><path d="M335.8 177.7L337.2 171.7" stroke="#e8fff0" stroke-opacity="0.15" stroke-width="1.0"/><path d="M378.5 191.1L381.0 186.6" stroke="#e8fff0" stroke-opacity="0.09" stroke-width="1.0"/><path d="M353.8 172.4L356.3 165.5" stroke="#e8fff0" stroke-opacity="0.14" stroke-width="1.0"/><path d="M377.3 186.1L379.5 181.9" stroke="#e8fff0" stroke-opacity="0.14" stroke-width="1.0"/><path d="M260.8 178.0L259.9 173.6" stroke="#003000" stroke-opacity="0.20" stroke-width="1.0"/><path d="M285.4 160.7L284.8 153.4" stroke="#003000" stroke-opacity="0.16" stroke-width="1.0"/><path d="M361.8 181.8L364.0 176.5" stroke="#003000" stroke-opacity="0.12" stroke-width="1.0"/><path d="M327.8 177.5L329.0 170.9" stroke="#e8fff0" stroke-opacity="0.14" stroke-width="1.0"/><path d="M361.3 176.4L363.6 170.9" stroke="#e8fff0" stroke-opacity="0.08" stroke-width="1.0"/><path d="M328.6 164.8L329.3 161.0" stroke="#e8fff0" stroke-opacity="0.11" stroke-width="1.0"/><path d="M183.3 221.9L179.7 218.0" stroke="#000000" stroke-opacity="0.29" stroke-width="1.0"/><path d="M208.0 336.0L206.2 335.7" stroke="#000000" stroke-opacity="0.26" stroke-width="1.0"/><path d="M190.9 316.5L187.6 315.6" stroke="#000000" stroke-opacity="0.27" stroke-width="1.0"/><path d="M180.4 234.9L177.4 232.0" stroke="#000000" stroke-opacity="0.17" stroke-width="1.0"/><path d="M185.7 247.2L182.8 244.1" stroke="#000000" stroke-opacity="0.17" stroke-width="1.0"/><path d="M173.1 256.1L169.5 253.6" stroke="#000000" stroke-opacity="0.24" stroke-width="1.0"/><path d="M238.4 356.3L236.8 356.2" stroke="#000000" stroke-opacity="0.12" stroke-width="1.0"/><path d="M172.3 249.4L170.3 248.0" stroke="#000000" stroke-opacity="0.25" stroke-width="1.0"/><path d="M213.7 340.2L210.9 339.8" stroke="#000000" stroke-opacity="0.19" stroke-width="1.0"/><path d="M179.8 247.1L177.6 245.1" stroke="#000000" stroke-opacity="0.16" stroke-width="1.0"/><path d="M175.6 232.2L173.1 230.0" stroke="#000000" stroke-opacity="0.15" stroke-width="1.0"/><path d="M230.5 351.1L227.9 350.7" stroke="#000000" stroke-opacity="0.27" stroke-width="1.0"/><path d="M186.8 303.2L184.7 302.2" stroke="#000000" stroke-opacity="0.12" stroke-width="1.0"/><path d="M202.8 208.3L200.4 204.7" stroke="#000000" stroke-opacity="0.28" stroke-width="1.0"/><path d="M172.3 277.8L168.6 276.1" stroke="#000000" stroke-opacity="0.13" stroke-width="1.0"/><path d="M184.7 288.2L182.9 286.9" stroke="#000000" stroke-opacity="0.29" stroke-width="1.0"/><path d="M184.8 248.6L182.8 246.6" stroke="#000000" stroke-opacity="0.23" stroke-width="1.0"/><path d="M184.7 273.4L181.1 269.9" stroke="#000000" stroke-opacity="0.15" stroke-width="1.0"/><path d="M200.8 326.7L198.2 326.0" stroke="#000000" stroke-opacity="0.19" stroke-width="1.0"/><path d="M181.9 305.7L178.3 304.8" stroke="#000000" stroke-opacity="0.11" stroke-width="1.0"/><path d="M181.9 276.5L179.9 275.0" stroke="#000000" stroke-opacity="0.14" stroke-width="1.0"/><path d="M180.1 222.0L176.6 218.7" stroke="#000000" stroke-opacity="0.27" stroke-width="1.0"/><path d="M193.1 313.3L190.6 312.2" stroke="#000000" stroke-opacity="0.19" stroke-width="1.0"/><path d="M184.0 237.5L180.4 233.8" stroke="#000000" stroke-opacity="0.12" stroke-width="1.0"/><path d="M184.3 233.8L181.0 230.3" stroke="#000000" stroke-opacity="0.23" stroke-width="1.0"/><path d="M198.6 319.2L196.6 318.2" stroke="#000000" stroke-opacity="0.16" stroke-width="1.0"/><path d="M180.3 230.8L176.1 226.8" stroke="#000000" stroke-opacity="0.24" stroke-width="1.0"/><path d="M212.8 199.8L209.8 194.5" stroke="#000000" stroke-opacity="0.28" stroke-width="1.0"/><path d="M184.2 294.1L181.5 292.7" stroke="#000000" stroke-opacity="0.23" stroke-width="1.0"/><path d="M215.2 340.3L213.6 340.0" stroke="#000000" stroke-opacity="0.10" stroke-width="1.0"/><path d="M192.6 204.9L189.6 201.1" stroke="#000000" stroke-opacity="0.30" stroke-width="1.0"/><path d="M207.0 203.2L203.9 198.2" stroke="#000000" stroke-opacity="0.23" stroke-width="1.0"/><path d="M207.0 202.2L204.2 197.7" stroke="#000000" stroke-opacity="0.24" stroke-width="1.0"/><path d="M182.2 269.1L177.9 265.6" stroke="#000000" stroke-opacity="0.19" stroke-width="1.0"/><path d="M192.3 315.5L190.5 314.9" stroke="#000000" stroke-opacity="0.15" stroke-width="1.0"/><path d="M209.9 205.8L208.0 202.6" stroke="#000000" stroke-opacity="0.18" stroke-width="1.0"/><path d="M183.2 243.3L179.4 239.6" stroke="#000000" stroke-opacity="0.10" stroke-width="1.0"/><path d="M197.4 200.3L194.6 196.6" stroke="#000000" stroke-opacity="0.19" stroke-width="1.0"/><path d="M184.1 231.2L181.9 228.9" stroke="#000000" stroke-opacity="0.27" stroke-width="1.0"/><path d="M209.1 334.3L207.6 333.9" stroke="#000000" stroke-opacity="0.28" stroke-width="1.0"/><path d="M180.5 235.2L176.7 231.5" stroke="#000000" stroke-opacity="0.26" stroke-width="1.0"/><path d="M213.4 339.8L210.5 339.4" stroke="#000000" stroke-opacity="0.19" stroke-width="1.0"/><path d="M185.2 231.5L182.7 228.9" stroke="#000000" stroke-opacity="0.25" stroke-width="1.0"/><path d="M212.2 336.1L210.5 335.5" stroke="#000000" stroke-opacity="0.18" stroke-width="1.0"/><path d="M171.4 263.3L167.1 260.9" stroke="#000000" stroke-opacity="0.29" stroke-width="1.0"/><path d="M192.0 317.1L189.7 316.4" stroke="#000000" stroke-opacity="0.17" stroke-width="1.0"/><path d="M211.6 185.6L209.7 182.4" stroke="#000000" stroke-opacity="0.12" stroke-width="1.0"/><path d="M184.0 242.8L180.5 239.2" stroke="#000000" stroke-opacity="0.10" stroke-width="1.0"/><path d="M182.5 219.7L178.7 215.9" stroke="#000000" stroke-opacity="0.23" stroke-width="1.0"/><path d="M184.1 288.6L180.0 286.0" stroke="#000000" stroke-opacity="0.25" stroke-width="1.0"/><path d="M183.3 280.7L181.0 279.0" stroke="#000000" stroke-opacity="0.18" stroke-width="1.0"/><path d="M186.8 249.5L184.1 246.4" stroke="#000000" stroke-opacity="0.19" stroke-width="1.0"/><path d="M184.9 236.9L182.4 234.3" stroke="#000000" stroke-opacity="0.18" stroke-width="1.0"/><path d="M183.7 297.5L181.5 296.5" stroke="#000000" stroke-opacity="0.26" stroke-width="1.0"/><path d="M179.2 277.7L175.5 275.4" stroke="#000000" stroke-opacity="0.25" stroke-width="1.0"/><path d="M207.8 337.2L205.1 337.0" stroke="#000000" stroke-opacity="0.24" stroke-width="1.0"/><path d="M192.2 210.5L190.1 207.7" stroke="#000000" stroke-opacity="0.15" stroke-width="1.0"/><path d="M200.2 209.9L198.7 207.6" stroke="#000000" stroke-opacity="0.23" stroke-width="1.0"/><path d="M193.0 320.0L191.2 319.6" stroke="#000000" stroke-opacity="0.23" stroke-width="1.0"/><path d="M214.3 337.8L212.6 336.9" stroke="#000000" stroke-opacity="0.15" stroke-width="1.0"/><path d="M182.4 271.2L179.3 268.6" stroke="#000000" stroke-opacity="0.17" stroke-width="1.0"/><path d="M186.1 304.1L182.7 302.7" stroke="#000000" stroke-opacity="0.15" stroke-width="1.0"/><path d="M188.6 312.7L185.2 311.7" stroke="#000000" stroke-opacity="0.11" stroke-width="1.0"/><path d="M228.0 351.5L226.5 351.6" stroke="#000000" stroke-opacity="0.19" stroke-width="1.0"/><path d="M178.4 278.0L176.0 276.5" stroke="#000000" stroke-opacity="0.15" stroke-width="1.0"/><path d="M175.6 245.7L172.8 243.3" stroke="#000000" stroke-opacity="0.11" stroke-width="1.0"/><path d="M182.0 269.0L180.2 267.6" stroke="#000000" stroke-opacity="0.30" stroke-width="1.0"/><path d="M182.4 236.0L179.9 233.4" stroke="#000000" stroke-opacity="0.11" stroke-width="1.0"/><path d="M215.9 345.2L214.3 345.3" stroke="#000000" stroke-opacity="0.18" stroke-width="1.0"/><path d="M183.7 255.2L180.3 252.0" stroke="#000000" stroke-opacity="0.26" stroke-width="1.0"/><path d="M195.8 322.4L194.2 322.0" stroke="#000000" stroke-opacity="0.15" stroke-width="1.0"/><path d="M175.8 275.8L172.9 274.1" stroke="#000000" stroke-opacity="0.19" stroke-width="1.0"/><path d="M214.8 338.2L212.9 337.3" stroke="#000000" stroke-opacity="0.16" stroke-width="1.0"/><path d="M240.1 357.3L239.1 357.2" stroke="#000000" stroke-opacity="0.18" stroke-width="1.0"/><path d="M190.7 305.7L186.9 303.6" stroke="#000000" stroke-opacity="0.14" stroke-width="1.0"/><path d="M195.6 315.2L191.9 313.5" stroke="#000000" stroke-opacity="0.14" stroke-width="1.0"/><path d="M190.1 316.8L187.9 316.2" stroke="#000000" stroke-opacity="0.12" stroke-width="1.0"/><path d="M181.6 291.3L178.6 289.7" stroke="#000000" stroke-opacity="0.26" stroke-width="1.0"/><path d="M177.9 267.8L174.8 265.6" stroke="#000000" stroke-opacity="0.19" stroke-width="1.0"/><path d="M183.0 261.1L180.5 258.8" stroke="#000000" stroke-opacity="0.15" stroke-width="1.0"/><path d="M182.4 224.5L180.5 222.5" stroke="#000000" stroke-opacity="0.14" stroke-width="1.0"/><path d="M181.6 281.6L179.2 280.0" stroke="#000000" stroke-opacity="0.17" stroke-width="1.0"/><path d="M175.9 273.6L171.5 270.9" stroke="#000000" stroke-opacity="0.27" stroke-width="1.0"/><path d="M178.6 262.0L175.8 259.8" stroke="#000000" stroke-opacity="0.15" stroke-width="1.0"/><path d="M233.3 352.9L232.0 352.4" stroke="#000000" stroke-opacity="0.23" stroke-width="1.0"/><path d="M184.8 293.7L180.7 291.4" stroke="#000000" stroke-opacity="0.18" stroke-width="1.0"/><path d="M187.8 296.7L183.8 294.1" stroke="#000000" stroke-opacity="0.12" stroke-width="1.0"/><path d="M173.2 250.3L169.0 247.3" stroke="#000000" stroke-opacity="0.28" stroke-width="1.0"/><path d="M210.6 335.1L209.1 334.7" stroke="#000000" stroke-opacity="0.19" stroke-width="1.0"/><path d="M201.0 191.7L199.6 189.6" stroke="#000000" stroke-opacity="0.17" stroke-width="1.0"/><path d="M196.2 229.6L193.4 225.4" stroke="#000000" stroke-opacity="0.12" stroke-width="1.0"/><path d="M218.1 345.1L216.2 345.0" stroke="#000000" stroke-opacity="0.27" stroke-width="1.0"/><path d="M205.0 329.9L201.7 329.0" stroke="#000000" stroke-opacity="0.29" stroke-width="1.0"/><path d="M185.8 298.8L181.8 296.7" stroke="#000000" stroke-opacity="0.29" stroke-width="1.0"/><path d="M185.8 251.8L181.9 247.7" stroke="#000000" stroke-opacity="0.23" stroke-width="1.0"/><path d="M186.6 224.8L184.2 222.1" stroke="#000000" stroke-opacity="0.28" stroke-width="1.0"/><path d="M184.5 249.3L182.7 247.4" stroke="#000000" stroke-opacity="0.17" stroke-width="1.0"/><path d="M239.5 356.9L237.9 356.8" stroke="#000000" stroke-opacity="0.29" stroke-width="1.0"/><path d="M216.7 196.6L213.8 191.1" stroke="#000000" stroke-opacity="0.12" stroke-width="1.0"/><path d="M222.2 349.1L220.8 349.2" stroke="#000000" stroke-opacity="0.22" stroke-width="1.0"/></g></g><defs><linearGradient id="cb" x1="0" y1="0" x2="0" y2="1"><stop offset="0.0000" stop-color="#f6a8a8"/><stop offset="0.0290" stop-color="#f36e6e"/><stop offset="0.0580" stop-color="#f03232"/><stop offset="0.0870" stop-color="#ee0a0a"/><stop offset="0.1304" stop-color="#ec0000"/><stop offset="0.2029" stop-color="#f23c00"/><stop offset="0.2754" stop-color="#f88200"/><stop offset="0.3478" stop-color="#facd00"/><stop offset="0.3841" stop-color="#f6f000"/><stop offset="0.4130" stop-color="#d2f200"/><stop offset="0.4493" stop-color="#82ec00"/><stop offset="0.4928" stop-color="#46e400"/><stop offset="0.5652" stop-color="#14cd05"/><stop offset="0.6232" stop-color="#05a519"/><stop offset="0.6667" stop-color="#006941"/><stop offset="0.7101" stop-color="#004664"/><stop offset="0.7464" stop-color="#001e82"/><stop offset="0.7826" stop-color="#00009e"/><stop offset="0.8188" stop-color="#0000be"/><stop offset="0.8551" stop-color="#0000e1"/><stop offset="0.9275" stop-color="#0000fc"/><stop offset="1.0000" stop-color="#0000ff"/></linearGradient></defs><rect x="24.8" y="29.2" width="7.2" height="236.2" fill="url(#cb)"/><rect x="25.05" y="29.45" width="6.7" height="235.7" fill="none" stroke="#000" stroke-opacity="0.28" stroke-width="0.5"/><path d="M33.5 29.2V265.4M33.5 265.40h3.2M33.5 258.56h2.0M33.5 251.72h2.0M33.5 244.88h2.0M33.5 238.04h2.0M33.5 231.20h3.2M33.5 224.36h2.0M33.5 217.52h2.0M33.5 210.68h2.0M33.5 203.84h2.0M33.5 197.00h3.2M33.5 190.16h2.0M33.5 183.32h2.0M33.5 176.48h2.0M33.5 169.64h2.0M33.5 162.80h3.2M33.5 155.96h2.0M33.5 149.12h2.0M33.5 142.28h2.0M33.5 135.44h2.0M33.5 128.60h3.2M33.5 121.76h2.0M33.5 114.92h2.0M33.5 108.08h2.0M33.5 101.24h2.0M33.5 94.40h3.2M33.5 87.56h2.0M33.5 80.72h2.0M33.5 73.88h2.0M33.5 67.04h2.0M33.5 60.20h3.2M33.5 53.36h2.0M33.5 46.52h2.0M33.5 39.68h2.0M33.5 32.84h2.0M33.5 29.45h2.4" stroke="#333" stroke-width="0.8" fill="none"/><g font-family="Liberation Serif,serif" font-weight="bold" font-size="15.5px" fill="#111"><text x="38.6" y="270.0" textLength="21.6" lengthAdjust="spacingAndGlyphs">0.0</text><text x="38.6" y="235.8" textLength="21.6" lengthAdjust="spacingAndGlyphs">2.0</text><text x="38.6" y="201.6" textLength="21.6" lengthAdjust="spacingAndGlyphs">4.0</text><text x="38.6" y="167.4" textLength="21.6" lengthAdjust="spacingAndGlyphs">6.0</text><text x="38.6" y="133.2" textLength="21.6" lengthAdjust="spacingAndGlyphs">8.0</text><text x="38.6" y="99.0" textLength="28.8" lengthAdjust="spacingAndGlyphs">10.0</text><text x="38.6" y="64.8" textLength="28.8" lengthAdjust="spacingAndGlyphs">12.0</text><text x="26" y="23.6" textLength="56" lengthAdjust="spacingAndGlyphs">13.8 <tspan font-style="italic">μ</tspan>m</text></g></svg></body></html>
